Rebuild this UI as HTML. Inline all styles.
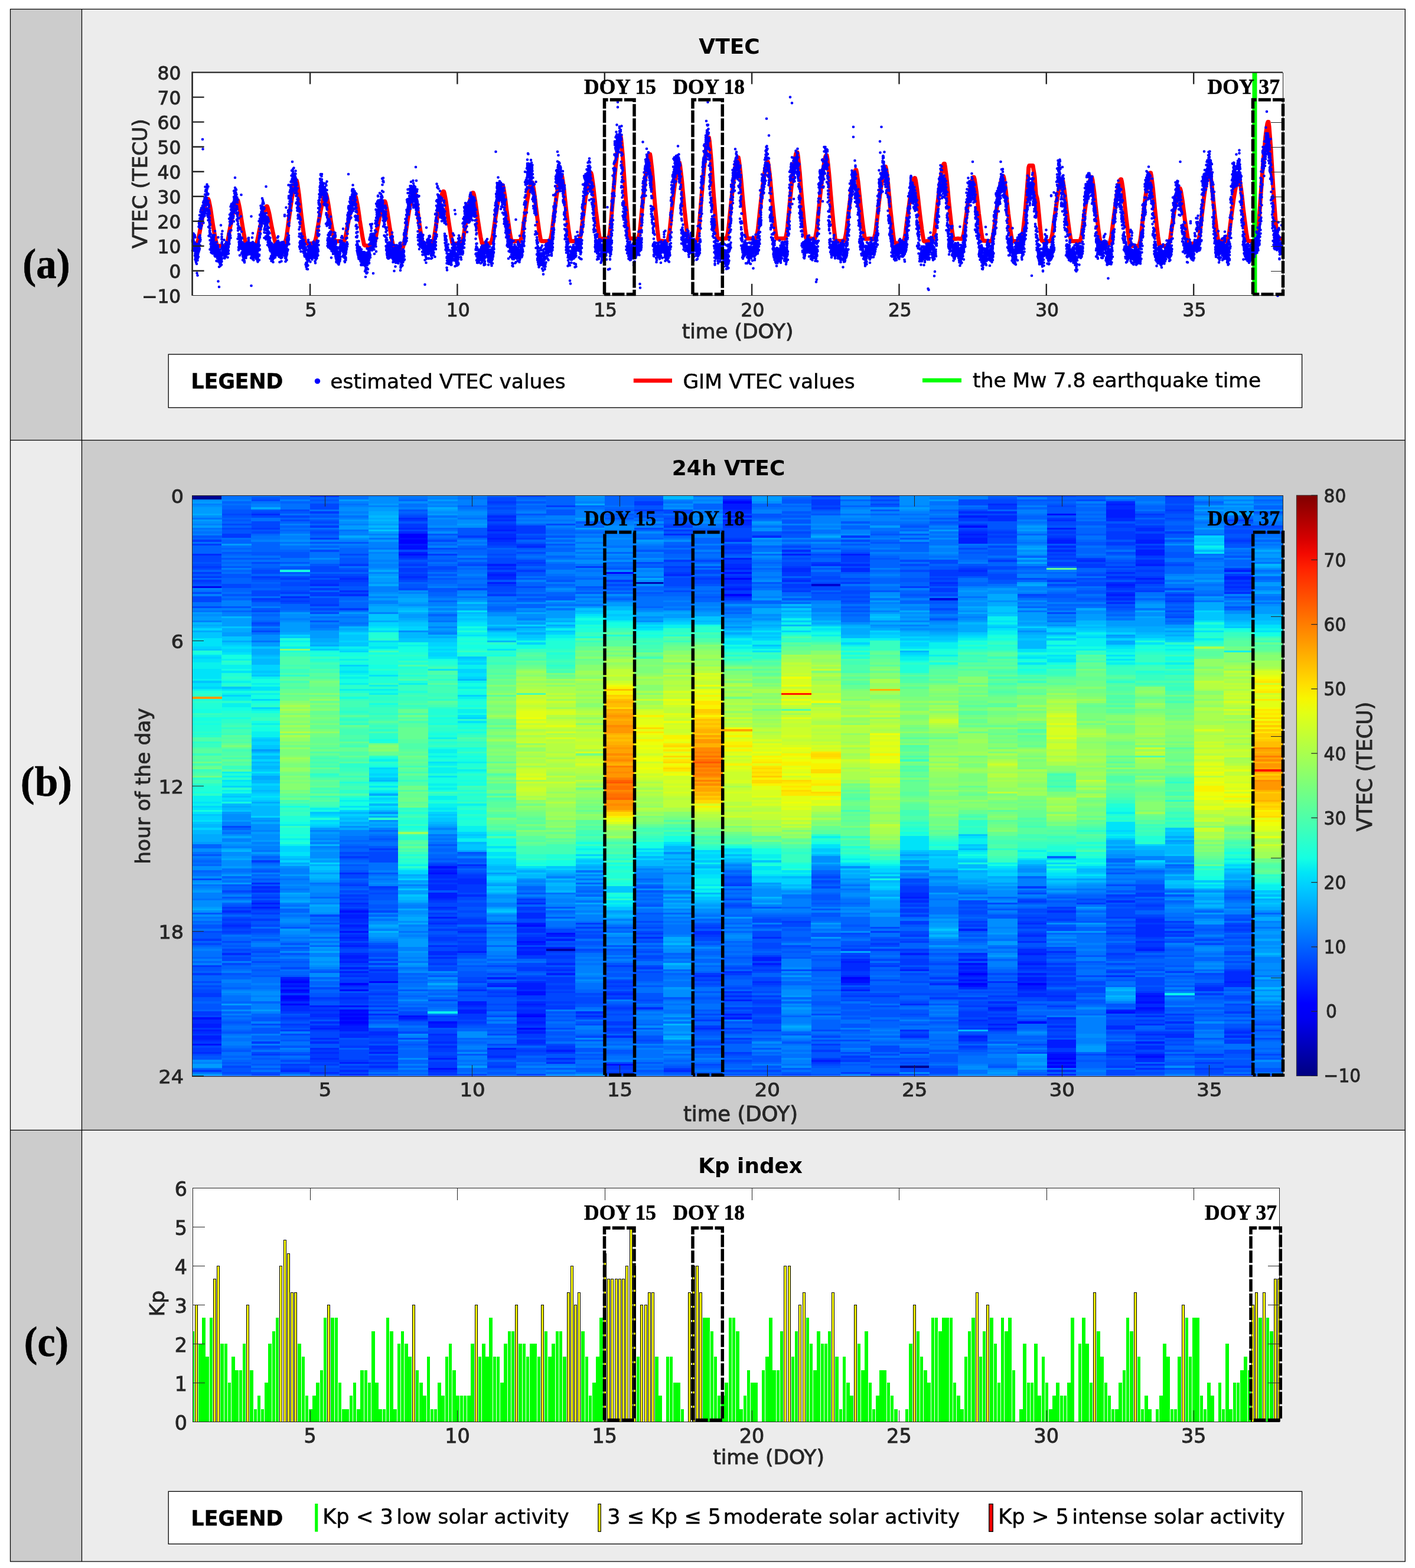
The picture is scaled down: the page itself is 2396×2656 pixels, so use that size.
<!DOCTYPE html>
<html lang="en"><head><meta charset="utf-8"><title>VTEC, 24h VTEC and Kp index</title>
<style>
html,body{margin:0;padding:0;background:#fff}
svg{display:block}
text{white-space:pre}
</style></head>
<body>
<svg width="2396" height="2656" viewBox="0 0 2396 2656">
<rect x="0" y="0" width="2396" height="2656" fill="#fff"/>
<rect x="17.5" y="15.5" width="121.0" height="730.0" fill="#cccccc"/>
<rect x="138.5" y="15.5" width="2240.8" height="730.0" fill="#ececec"/>
<rect x="17.5" y="745.5" width="121.0" height="1168.8" fill="#ececec"/>
<rect x="138.5" y="745.5" width="2240.8" height="1168.8" fill="#cccccc"/>
<rect x="17.5" y="1914.3" width="121.0" height="730.7" fill="#cccccc"/>
<rect x="138.5" y="1914.3" width="2240.8" height="730.7" fill="#ececec"/>
<g fill="none" stroke="#000" stroke-width="1.25"><rect x="17.5" y="15.5" width="2361.8" height="2629.5"/><path d="M138.5 15.5V2645.0M17.5 745.5H2379.3M17.5 1914.3H2379.3"/></g>
<text x="78.5" y="471.2" font-family="'Liberation Serif','DejaVu Serif',serif" font-weight="bold" font-size="71" text-anchor="middle" textLength="80.3" lengthAdjust="spacingAndGlyphs" fill="#000" stroke="#000" stroke-width="0.6">(a)</text>
<text x="78.5" y="1348" font-family="'Liberation Serif','DejaVu Serif',serif" font-weight="bold" font-size="71" text-anchor="middle" textLength="87.3" lengthAdjust="spacingAndGlyphs" fill="#000" stroke="#000" stroke-width="0.6">(b)</text>
<text x="78.5" y="2296.8" font-family="'Liberation Serif','DejaVu Serif',serif" font-weight="bold" font-size="71" text-anchor="middle" textLength="75.3" lengthAdjust="spacingAndGlyphs" fill="#000" stroke="#000" stroke-width="0.6">(c)</text>
<rect x="325.6" y="122.6" width="1846.4" height="378.20000000000005" fill="#fff"/>
<clipPath id="ca"><rect x="322.6" y="120.6" width="1852.4" height="384.20000000000005"/></clipPath>
<polyline clip-path="url(#ca)" points="325.6,414.7 326.6,414.7 327.7,414.7 328.7,414.8 329.8,414.8 330.8,414.9 331.8,414.9 332.9,414.4 333.9,411.7 335,408.9 336,404.9 337,399.1 338.1,393.3 339.1,387.4 340.1,381.7 341.2,376.3 342.2,370.8 343.3,365.3 344.3,360.3 345.3,356 346.4,351.7 347.4,347.4 348.5,343.7 349.5,340.9 350.5,338 351.6,336.9 352.6,336.9 353.7,339.9 354.7,344.8 355.7,349.8 356.8,355.5 357.8,362.4 358.8,369.4 359.9,376.3 360.9,382.9 362,388.8 363,394.8 364,400.8 365.1,406.2 366.1,410.9 367.2,415.5 368.2,416.4 369.2,416.5 370.3,416.5 371.3,416.6 372.4,416.6 373.4,416.7 374.4,416.7 375.5,416.8 376.5,416.8 377.5,416.8 378.6,416.8 379.6,416.8 380.7,416.8 381.7,416.8 382.7,416.2 383.8,413.4 384.8,410.6 385.9,406.6 386.9,400.8 387.9,395 389,389.2 390,383.5 391.1,378 392.1,372.6 393.1,367.2 394.2,362.2 395.2,357.9 396.2,353.6 397.3,349.4 398.3,345.7 399.4,342.9 400.4,340.1 401.4,339 402.5,339 403.5,341.9 404.6,346.8 405.6,351.6 406.6,357.3 407.7,364.1 408.7,370.9 409.8,377.7 410.8,384.1 411.8,389.9 412.9,395.8 413.9,401.6 415,406.9 416,411.4 417,415.9 418.1,416.8 419.1,416.8 420.1,416.8 421.2,416.8 422.2,416.8 423.3,416.8 424.3,416.8 425.3,416.8 426.4,416.7 427.4,416.6 428.5,416.5 429.5,416.4 430.5,416.3 431.6,416.2 432.6,415.7 433.7,413.2 434.7,410.7 435.7,407.3 436.8,402.2 437.8,397.2 438.8,392.2 439.9,387.3 440.9,382.6 442,378 443,373.3 444,369.1 445.1,365.5 446.1,361.8 447.2,358.2 448.2,355.1 449.2,352.8 450.3,350.5 451.3,349.5 452.4,349.5 453.4,352 454.4,356 455.5,360 456.5,364.7 457.5,370.3 458.6,375.9 459.6,381.5 460.7,386.8 461.7,391.6 462.7,396.3 463.8,401 464.8,405.3 465.9,408.9 466.9,412.5 467.9,413.2 469,413.1 470,413 471.1,412.9 472.1,412.8 473.1,412.7 474.2,412.6 475.2,412.6 476.2,412.6 477.3,412.6 478.3,412.6 479.4,412.6 480.4,412.6 481.4,412.6 482.5,411.8 483.5,408 484.6,404.1 485.6,398.6 486.6,390.6 487.7,382.5 488.7,374.5 489.8,366.7 490.8,359.2 491.8,351.7 492.9,344.2 493.9,337.3 495,331.4 496,325.5 497,319.6 498.1,314.6 499.1,310.8 500.1,306.9 501.2,305.4 502.2,305.4 503.3,309.4 504.3,316.1 505.3,322.8 506.4,330.6 507.4,340 508.5,349.3 509.5,358.7 510.5,367.5 511.6,375.6 512.6,383.6 513.7,391.7 514.7,399 515.7,405.1 516.8,411.3 517.8,412.6 518.8,412.6 519.9,412.6 520.9,412.6 522,412.6 523,412.6 524,412.6 525.1,412.6 526.1,412.5 527.2,412.4 528.2,412.3 529.2,412.2 530.3,412.1 531.3,412 532.4,411.3 533.4,408.3 534.4,405.2 535.5,400.9 536.5,394.6 537.5,388.3 538.6,382 539.6,375.9 540.7,370 541.7,364.2 542.7,358.4 543.8,353.1 544.8,348.5 545.9,344 546.9,339.4 547.9,335.5 549,332.6 550,329.7 551.1,328.5 552.1,328.5 553.1,331.6 554.2,336.7 555.2,341.8 556.2,347.6 557.3,354.7 558.3,361.8 559.4,368.9 560.4,375.5 561.4,381.6 562.5,387.6 563.5,393.6 564.6,399 565.6,403.6 566.6,408.1 567.7,409 568.7,408.9 569.8,408.8 570.8,408.7 571.8,408.6 572.9,408.5 573.9,408.4 574.9,408.4 576,408.5 577,408.7 578.1,408.9 579.1,409.1 580.1,409.2 581.2,409.4 582.2,409 583.3,406.5 584.3,403.9 585.3,400 586.4,394.4 587.4,388.7 588.5,383 589.5,377.4 590.5,372 591.6,366.6 592.6,361.2 593.7,356.2 594.7,351.9 595.7,347.6 596.8,343.3 597.8,339.5 598.8,336.7 599.9,333.9 600.9,332.7 602,332.7 603,335.7 604,340.8 605.1,345.8 606.1,351.7 607.2,358.9 608.2,366 609.2,373.2 610.3,380 611.3,386.3 612.4,392.5 613.4,398.8 614.4,404.6 615.5,409.5 616.5,414.4 617.5,415.5 618.6,415.7 619.6,415.9 620.7,416.1 621.7,416.2 622.7,416.4 623.8,416.6 624.8,416.8 625.9,416.8 626.9,416.9 627.9,417 629,417.1 630,417.2 631.1,417.3 632.1,416.8 633.1,414.2 634.2,411.5 635.2,407.7 636.2,402 637.3,396.3 638.3,390.6 639.4,385.1 640.4,379.7 641.4,374.4 642.5,369 643.5,364.1 644.6,359.9 645.6,355.7 646.6,351.4 647.7,347.8 648.7,345 649.8,342.2 650.8,341.1 651.8,341.1 652.9,344 653.9,348.9 654.9,353.8 656,359.5 657,366.4 658.1,373.3 659.1,380.2 660.1,386.7 661.2,392.7 662.2,398.6 663.3,404.6 664.3,410.1 665.3,414.7 666.4,419.3 667.4,420.3 668.5,420.4 669.5,420.5 670.5,420.6 671.6,420.7 672.6,420.8 673.7,420.9 674.7,421 675.7,420.9 676.8,420.8 677.8,420.7 678.8,420.6 679.9,420.5 680.9,420.4 682,419.7 683,416.1 684,412.6 685.1,407.6 686.1,400.4 687.2,393.1 688.2,385.9 689.2,378.9 690.3,372.2 691.3,365.5 692.4,358.8 693.4,352.6 694.4,347.4 695.5,342.1 696.5,336.9 697.5,332.4 698.6,329 699.6,325.7 700.7,324.3 701.7,324.3 702.7,327.8 703.8,333.7 704.8,339.6 705.9,346.4 706.9,354.6 707.9,362.8 709,371 710,378.6 711.1,385.6 712.1,392.6 713.1,399.5 714.2,405.8 715.2,411.1 716.2,416.4 717.3,417.4 718.3,417.3 719.4,417.2 720.4,417.1 721.4,417 722.5,416.9 723.5,416.8 724.6,416.8 725.6,416.7 726.6,416.6 727.7,416.5 728.7,416.4 729.8,416.3 730.8,416.2 731.8,415.5 732.9,412.1 733.9,408.8 734.9,404 736,397 737,390.1 738.1,383.2 739.1,376.5 740.1,370.1 741.2,363.6 742.2,357.2 743.3,351.4 744.3,346.4 745.3,341.4 746.4,336.4 747.4,332.1 748.5,328.8 749.5,325.6 750.5,324.3 751.6,324.3 752.6,327.7 753.7,333.3 754.7,338.9 755.7,345.4 756.8,353.2 757.8,361.1 758.8,368.9 759.9,376.2 760.9,382.9 762,389.5 763,396.1 764,402.1 765.1,407.2 766.1,412.2 767.2,413.2 768.2,413.1 769.2,413 770.3,412.9 771.3,412.8 772.4,412.7 773.4,412.6 774.4,412.6 775.5,412.6 776.5,412.6 777.5,412.6 778.6,412.6 779.6,412.6 780.7,412.6 781.7,411.9 782.7,408.9 783.8,405.8 784.8,401.4 785.9,394.9 786.9,388.4 787.9,382 789,375.7 790,369.7 791.1,363.6 792.1,357.6 793.1,352.1 794.2,347.3 795.2,342.6 796.2,337.9 797.3,333.8 798.3,330.7 799.4,327.6 800.4,326.4 801.4,326.4 802.5,329.6 803.5,335 804.6,340.4 805.6,346.7 806.6,354.2 807.7,361.7 808.7,369.3 809.8,376.4 810.8,382.8 811.8,389.3 812.9,395.8 813.9,401.6 814.9,406.6 816,411.6 817,412.6 818.1,412.6 819.1,412.6 820.1,412.6 821.2,412.6 822.2,412.6 823.3,412.6 824.3,412.6 825.3,412.5 826.4,412.4 827.4,412.3 828.5,412.2 829.5,412.1 830.5,412 831.6,411.2 832.6,407.7 833.7,404.1 834.7,399 835.7,391.5 836.8,384.1 837.8,376.8 838.8,369.6 839.9,362.7 840.9,355.9 842,349 843,342.8 844,337.4 845.1,332 846.1,326.7 847.2,322.1 848.2,318.6 849.2,315.2 850.3,313.8 851.3,313.8 852.4,317.4 853.4,323.4 854.4,329.4 855.5,336.4 856.5,344.8 857.5,353.1 858.6,361.5 859.6,369.4 860.7,376.5 861.7,383.6 862.7,390.7 863.8,397.1 864.8,402.5 865.9,408 866.9,409 867.9,408.9 869,408.8 870,408.7 871.1,408.6 872.1,408.5 873.1,408.4 874.2,408.4 875.2,408.4 876.2,408.4 877.3,408.4 878.3,408.4 879.4,408.4 880.4,408.4 881.4,407.6 882.5,404.1 883.5,400.5 884.6,395.4 885.6,387.9 886.6,380.5 887.7,373 888.7,365.7 889.8,358.8 890.8,351.8 891.8,344.8 892.9,338.4 893.9,333 894.9,327.5 896,322 897,317.3 898.1,313.7 899.1,310.2 900.1,308.8 901.2,308.8 902.2,312.5 903.3,318.7 904.3,324.9 905.3,332.2 906.4,340.9 907.4,349.6 908.5,358.3 909.5,366.5 910.5,374 911.6,381.5 912.6,388.9 913.7,395.7 914.7,401.5 915.7,407.2 916.8,408.4 917.8,408.4 918.8,408.4 919.9,408.4 920.9,408.4 922,408.4 923,408.4 924,408.4 925.1,408.4 926.1,408.4 927.2,408.4 928.2,408.4 929.2,408.4 930.3,408.4 931.3,407.6 932.4,403.6 933.4,399.6 934.4,393.8 935.5,385.4 936.5,377.1 937.5,368.7 938.6,360.5 939.6,352.7 940.7,344.9 941.7,337 942.7,329.9 943.8,323.7 944.8,317.6 945.9,311.4 946.9,306.2 947.9,302.2 949,298.2 950,296.6 951.1,296.6 952.1,300.8 953.1,307.7 954.2,314.7 955.2,322.8 956.2,332.6 957.3,342.4 958.3,352.2 959.4,361.4 960.4,369.8 961.4,378.2 962.5,386.6 963.5,394.2 964.6,400.6 965.6,407.1 966.6,408.4 967.7,408.4 968.7,408.4 969.8,408.4 970.8,408.4 971.8,408.4 972.9,408.4 973.9,408.4 974.9,408.3 976,408.2 977,408.1 978.1,408 979.1,407.9 980.1,407.8 981.2,406.9 982.2,402.7 983.3,398.5 984.3,392.6 985.3,383.9 986.4,375.2 987.4,366.6 988.5,358.2 989.5,350.1 990.5,342.1 991.6,334.1 992.6,326.8 993.7,320.5 994.7,314.2 995.7,307.9 996.8,302.5 997.8,298.5 998.8,294.4 999.9,292.8 1000.9,292.8 1002,297 1003,304.1 1004,311.2 1005.1,319.3 1006.1,329.2 1007.2,339 1008.2,348.8 1009.2,358.1 1010.3,366.5 1011.3,374.8 1012.4,383.2 1013.4,390.8 1014.4,397.2 1015.5,403.6 1016.5,404.8 1017.5,404.7 1018.6,404.6 1019.6,404.5 1020.7,404.4 1021.7,404.3 1022.7,404.2 1023.8,404.1 1024.8,404.1 1025.9,404.1 1026.9,404.1 1027.9,404.1 1029,404.1 1030,404.1 1031.1,402.9 1032.1,396.7 1033.1,390.4 1034.2,381.5 1035.2,368.4 1036.2,355.3 1037.3,342.2 1038.3,329.5 1039.4,317.3 1040.4,305.1 1041.4,292.9 1042.5,281.7 1043.5,272.1 1044.6,262.5 1045.6,253 1046.6,244.7 1047.7,238.5 1048.7,232.2 1049.8,229.8 1050.8,229.8 1051.8,236.3 1052.9,247.2 1053.9,258.1 1054.9,270.7 1056,286 1057,301.3 1058.1,316.5 1059.1,330.9 1060.1,344 1061.2,357.1 1062.2,370.1 1063.3,382 1064.3,392.1 1065.3,402.1 1066.4,404.1 1067.4,404.1 1068.5,404.1 1069.5,404.1 1070.5,404.1 1071.6,404.1 1072.6,404.1 1073.6,404.1 1074.7,404.2 1075.7,404.3 1076.8,404.4 1077.8,404.5 1078.8,404.6 1079.9,404.7 1080.9,403.7 1082,398.7 1083,393.6 1084,386.3 1085.1,375.6 1086.1,364.9 1087.2,354.2 1088.2,343.7 1089.2,333.7 1090.3,323.6 1091.3,313.5 1092.4,304.3 1093.4,296.4 1094.4,288.5 1095.5,280.5 1096.5,273.7 1097.5,268.5 1098.6,263.3 1099.6,261.3 1100.7,261.3 1101.7,266.7 1102.7,275.8 1103.8,284.9 1104.8,295.5 1105.9,308.2 1106.9,321 1107.9,333.8 1109,345.9 1110,356.9 1111.1,367.9 1112.1,378.9 1113.1,388.9 1114.2,397.4 1115.2,406 1116.2,407.7 1117.3,407.8 1118.3,407.9 1119.4,408 1120.4,408.1 1121.4,408.2 1122.5,408.3 1123.5,408.4 1124.6,408.4 1125.6,408.4 1126.6,408.4 1127.7,408.4 1128.7,408.4 1129.8,408.4 1130.8,407.4 1131.8,402.7 1132.9,397.9 1133.9,391.1 1134.9,381.1 1136,371.2 1137,361.2 1138.1,351.5 1139.1,342.2 1140.1,332.9 1141.2,323.6 1142.2,315.1 1143.3,307.8 1144.3,300.5 1145.3,293.2 1146.4,286.9 1147.4,282.2 1148.5,277.5 1149.5,275.6 1150.5,275.6 1151.6,280.5 1152.6,288.8 1153.6,297.1 1154.7,306.8 1155.7,318.4 1156.8,330 1157.8,341.6 1158.8,352.6 1159.9,362.5 1160.9,372.5 1162,382.5 1163,391.5 1164,399.2 1165.1,406.8 1166.1,408.4 1167.2,408.4 1168.2,408.4 1169.2,408.4 1170.3,408.4 1171.3,408.4 1172.4,408.4 1173.4,408.4 1174.4,408.3 1175.5,408.2 1176.5,408.1 1177.5,408 1178.6,407.9 1179.6,407.8 1180.7,406.5 1181.7,400.2 1182.7,393.9 1183.8,384.8 1184.8,371.7 1185.9,358.5 1186.9,345.4 1187.9,332.7 1189,320.4 1190,308.2 1191.1,296 1192.1,284.9 1193.1,275.3 1194.2,265.7 1195.2,256.2 1196.2,248 1197.3,241.8 1198.3,235.6 1199.4,233.1 1200.4,233.1 1201.4,239.6 1202.5,250.4 1203.5,261.2 1204.6,273.7 1205.6,288.8 1206.6,303.8 1207.7,318.9 1208.7,333 1209.8,345.9 1210.8,358.7 1211.8,371.6 1212.9,383.2 1213.9,393 1214.9,402.9 1216,404.8 1217,404.7 1218.1,404.6 1219.1,404.5 1220.1,404.4 1221.2,404.3 1222.2,404.2 1223.3,404.1 1224.3,404.1 1225.3,404.1 1226.4,404.1 1227.4,404.1 1228.5,404.1 1229.5,404.1 1230.5,403.2 1231.6,398.3 1232.6,393.4 1233.6,386.3 1234.7,376 1235.7,365.7 1236.8,355.4 1237.8,345.3 1238.8,335.7 1239.9,326.1 1240.9,316.5 1242,307.7 1243,300.1 1244,292.6 1245.1,285 1246.1,278.5 1247.2,273.6 1248.2,268.7 1249.2,266.7 1250.3,266.7 1251.3,271.9 1252.4,280.5 1253.4,289.1 1254.4,299 1255.5,311.1 1256.5,323.1 1257.5,335.1 1258.6,346.4 1259.6,356.7 1260.7,367 1261.7,377.4 1262.7,386.7 1263.8,394.6 1264.8,402.6 1265.9,404.1 1266.9,404.1 1267.9,404.1 1269,404.1 1270,404.1 1271.1,404.1 1272.1,404.1 1273.1,404.1 1274.2,404.1 1275.2,404.1 1276.2,404.1 1277.3,404.1 1278.3,404.1 1279.4,404.1 1280.4,403.2 1281.4,398.6 1282.5,393.9 1283.5,387.2 1284.6,377.4 1285.6,367.7 1286.6,357.9 1287.7,348.4 1288.7,339.3 1289.8,330.2 1290.8,321 1291.8,312.7 1292.9,305.5 1293.9,298.4 1294.9,291.2 1296,285 1297,280.4 1298.1,275.7 1299.1,273.9 1300.1,273.9 1301.2,278.8 1302.2,286.9 1303.3,295 1304.3,304.5 1305.3,315.9 1306.4,327.3 1307.4,338.7 1308.5,349.4 1309.5,359.2 1310.5,369 1311.6,378.7 1312.6,387.6 1313.6,395.1 1314.7,402.6 1315.7,404.1 1316.8,404.1 1317.8,404.1 1318.8,404.1 1319.9,404.1 1320.9,404.1 1322,404.1 1323,404.1 1324,404.1 1325.1,404.1 1326.1,404.1 1327.2,404.1 1328.2,404.1 1329.2,404.1 1330.3,403.1 1331.3,397.9 1332.4,392.7 1333.4,385.1 1334.4,374.2 1335.5,363.2 1336.5,352.2 1337.5,341.6 1338.6,331.3 1339.6,321.1 1340.7,310.8 1341.7,301.5 1342.7,293.4 1343.8,285.4 1344.8,277.4 1345.9,270.4 1346.9,265.2 1347.9,260 1349,257.9 1350,257.9 1351.1,263.4 1352.1,272.5 1353.1,281.7 1354.2,292.3 1355.2,305.1 1356.2,317.9 1357.3,330.7 1358.3,342.7 1359.4,353.7 1360.4,364.7 1361.4,375.6 1362.5,385.6 1363.5,394 1364.6,402.5 1365.6,404.1 1366.6,404.1 1367.7,404.1 1368.7,404.1 1369.8,404.1 1370.8,404.1 1371.8,404.1 1372.9,404.1 1373.9,404.2 1374.9,404.3 1376,404.4 1377,404.5 1378.1,404.6 1379.1,404.7 1380.1,403.7 1381.2,398.8 1382.2,393.8 1383.3,386.6 1384.3,376 1385.3,365.4 1386.4,354.8 1387.4,344.4 1388.5,334.5 1389.5,324.6 1390.5,314.6 1391.6,305.5 1392.6,297.7 1393.6,289.8 1394.7,282 1395.7,275.2 1396.8,270.1 1397.8,265 1398.8,263 1399.9,263 1400.9,268.3 1402,277.3 1403,286.3 1404,296.8 1405.1,309.4 1406.1,322 1407.2,334.6 1408.2,346.6 1409.2,357.4 1410.3,368.3 1411.3,379.2 1412.4,389.1 1413.4,397.6 1414.4,406 1415.5,407.7 1416.5,407.8 1417.5,407.9 1418.6,408 1419.6,408.1 1420.7,408.2 1421.7,408.3 1422.7,408.4 1423.8,408.3 1424.8,408.2 1425.9,408.1 1426.9,408 1427.9,407.9 1429,407.8 1430,406.9 1431.1,402.5 1432.1,398.1 1433.1,391.9 1434.2,382.9 1435.2,373.8 1436.2,364.8 1437.3,356 1438.3,347.6 1439.4,339.2 1440.4,330.9 1441.4,323.2 1442.5,316.6 1443.5,310.1 1444.6,303.5 1445.6,297.9 1446.6,293.7 1447.7,289.4 1448.7,287.7 1449.8,287.7 1450.8,292.2 1451.8,299.6 1452.9,306.9 1453.9,315.5 1454.9,325.8 1456,336 1457,346.3 1458.1,356 1459.1,364.7 1460.1,373.5 1461.2,382.2 1462.2,390.1 1463.3,396.8 1464.3,403.5 1465.3,404.8 1466.4,404.7 1467.4,404.6 1468.5,404.5 1469.5,404.4 1470.5,404.3 1471.6,404.2 1472.6,404.1 1473.6,404.3 1474.7,404.5 1475.7,404.7 1476.8,404.8 1477.8,405 1478.8,405.2 1479.9,404.5 1480.9,400.3 1482,396 1483,389.8 1484,380.7 1485.1,371.5 1486.1,362.4 1487.2,353.4 1488.2,344.8 1489.2,336.1 1490.3,327.5 1491.3,319.5 1492.4,312.7 1493.4,305.9 1494.4,299 1495.5,293.1 1496.5,288.6 1497.5,284.1 1498.6,282.3 1499.6,282.3 1500.7,287 1501.7,295 1502.7,302.9 1503.8,312.2 1504.8,323.3 1505.9,334.5 1506.9,345.8 1507.9,356.4 1509,366.1 1510,375.8 1511.1,385.6 1512.1,394.5 1513.1,402.1 1514.2,409.7 1515.2,411.3 1516.2,411.5 1517.3,411.7 1518.3,411.9 1519.4,412 1520.4,412.2 1521.4,412.4 1522.5,412.6 1523.5,412.5 1524.6,412.4 1525.6,412.3 1526.6,412.2 1527.7,412.1 1528.7,412 1529.8,411.2 1530.8,407.1 1531.8,403.1 1532.9,397.4 1533.9,389 1534.9,380.7 1536,372.4 1537,364.4 1538.1,356.6 1539.1,348.9 1540.1,341.2 1541.2,334.2 1542.2,328.2 1543.3,322.1 1544.3,316.1 1545.3,311 1546.4,307.1 1547.4,303.2 1548.5,301.6 1549.5,301.6 1550.5,305.7 1551.6,312.5 1552.6,319.2 1553.6,327.1 1554.7,336.5 1555.7,346 1556.8,355.4 1557.8,364.2 1558.8,372.3 1559.9,380.3 1560.9,388.3 1562,395.6 1563,401.7 1564,407.8 1565.1,409 1566.1,408.9 1567.2,408.8 1568.2,408.7 1569.2,408.6 1570.3,408.5 1571.3,408.4 1572.3,408.4 1573.4,408.3 1574.4,408.2 1575.5,408.1 1576.5,408 1577.5,407.9 1578.6,407.8 1579.6,406.8 1580.7,402.1 1581.7,397.3 1582.7,390.5 1583.8,380.7 1584.8,370.9 1585.9,361.1 1586.9,351.5 1587.9,342.4 1589,333.3 1590,324.2 1591.1,315.8 1592.1,308.7 1593.1,301.6 1594.2,294.4 1595.2,288.3 1596.2,283.7 1597.3,279.1 1598.3,277.2 1599.4,277.2 1600.4,282.1 1601.4,290.1 1602.5,298.1 1603.5,307.4 1604.6,318.6 1605.6,329.8 1606.6,341 1607.7,351.6 1608.7,361.1 1609.8,370.7 1610.8,380.2 1611.8,388.8 1612.9,396.1 1613.9,403.4 1614.9,404.8 1616,404.7 1617,404.6 1618.1,404.5 1619.1,404.4 1620.1,404.3 1621.2,404.2 1622.2,404.1 1623.3,404.2 1624.3,404.3 1625.3,404.4 1626.4,404.5 1627.4,404.6 1628.5,404.7 1629.5,404 1630.5,400.4 1631.6,396.7 1632.6,391.4 1633.6,383.6 1634.7,375.7 1635.7,367.9 1636.8,360.2 1637.8,352.9 1638.8,345.6 1639.9,338.2 1640.9,331.5 1642,325.7 1643,319.9 1644,314 1645.1,309 1646.1,305.2 1647.2,301.5 1648.2,299.9 1649.2,299.9 1650.3,303.9 1651.3,310.6 1652.3,317.3 1653.4,325 1654.4,334.4 1655.5,343.8 1656.5,353.2 1657.5,362.1 1658.6,370.2 1659.6,378.3 1660.7,386.4 1661.7,393.8 1662.7,400.1 1663.8,406.4 1664.8,407.7 1665.9,407.8 1666.9,407.9 1667.9,408 1669,408.1 1670,408.2 1671.1,408.3 1672.1,408.4 1673.1,408.4 1674.2,408.4 1675.2,408.4 1676.2,408.4 1677.3,408.4 1678.3,408.4 1679.4,407.6 1680.4,403.6 1681.4,399.7 1682.5,394 1683.5,385.8 1684.6,377.5 1685.6,369.3 1686.6,361.2 1687.7,353.5 1688.7,345.8 1689.8,338.1 1690.8,331.1 1691.8,325 1692.9,319 1693.9,312.9 1694.9,307.7 1696,303.8 1697,299.8 1698.1,298.3 1699.1,298.3 1700.1,302.4 1701.2,309.3 1702.2,316.1 1703.3,324.1 1704.3,333.8 1705.3,343.4 1706.4,353 1707.4,362.1 1708.5,370.4 1709.5,378.6 1710.5,386.9 1711.6,394.4 1712.6,400.7 1713.6,407.1 1714.7,408.4 1715.7,408.4 1716.8,408.4 1717.8,408.4 1718.8,408.4 1719.9,408.4 1720.9,408.4 1722,408.4 1723,408.4 1724,408.4 1725.1,408.4 1726.1,408.4 1727.2,408.4 1728.2,408.4 1729.2,407.4 1730.3,402.9 1731.3,398.3 1732.3,391.7 1733.4,382.2 1734.4,372.6 1735.5,363 1736.5,352.1 1737.5,339.4 1738.6,326.6 1739.6,313.8 1740.7,299.8 1741.7,283.8 1742.7,280.6 1743.8,280.6 1744.8,280.6 1745.9,280.6 1746.9,280.6 1747.9,280.6 1749,280.6 1750,287 1751.1,293.4 1752.1,299.8 1753.1,314.5 1754.2,329.1 1755.2,332.6 1756.2,336 1757.3,342.6 1758.3,353.7 1759.4,364.9 1760.4,376.1 1761.4,386.7 1762.5,396.6 1763.5,406.4 1764.6,408.4 1765.6,408.4 1766.6,408.4 1767.7,408.4 1768.7,408.4 1769.8,408.4 1770.8,408.4 1771.8,408.4 1772.9,408.4 1773.9,408.4 1774.9,408.4 1776,408.4 1777,408.4 1778.1,408.4 1779.1,407.6 1780.1,403.8 1781.2,400.1 1782.2,394.7 1783.3,386.8 1784.3,378.9 1785.3,371.1 1786.4,363.4 1787.4,356 1788.5,348.7 1789.5,341.3 1790.5,334.6 1791.6,328.8 1792.6,323 1793.6,317.3 1794.7,312.3 1795.7,308.5 1796.8,304.8 1797.8,303.3 1798.8,303.3 1799.9,307.2 1800.9,313.8 1802,320.4 1803,328 1804,337.2 1805.1,346.4 1806.1,355.6 1807.2,364.2 1808.2,372.1 1809.2,380 1810.3,387.9 1811.3,395 1812.3,401.1 1813.4,407.1 1814.4,408.4 1815.5,408.4 1816.5,408.4 1817.5,408.4 1818.6,408.4 1819.6,408.4 1820.7,408.4 1821.7,408.4 1822.7,408.4 1823.8,408.5 1824.8,408.6 1825.9,408.7 1826.9,408.8 1827.9,408.9 1829,408.2 1830,404.4 1831.1,400.6 1832.1,395 1833.1,386.9 1834.2,378.8 1835.2,370.6 1836.2,362.6 1837.3,355 1838.3,347.4 1839.4,339.7 1840.4,332.7 1841.4,326.7 1842.5,320.6 1843.5,314.6 1844.6,309.4 1845.6,305.5 1846.6,301.5 1847.7,299.9 1848.7,299.9 1849.8,304.1 1850.8,311 1851.8,318 1852.9,326 1853.9,335.8 1854.9,345.5 1856,355.3 1857,364.5 1858.1,373 1859.1,381.4 1860.1,389.8 1861.2,397.5 1862.2,404 1863.3,410.6 1864.3,411.9 1865.3,412 1866.4,412.1 1867.4,412.2 1868.5,412.3 1869.5,412.4 1870.5,412.5 1871.6,412.6 1872.6,412.6 1873.6,412.7 1874.7,412.8 1875.7,412.9 1876.8,413 1877.8,413.1 1878.8,412.4 1879.9,408.6 1880.9,404.7 1882,399.2 1883,391 1884,382.8 1885.1,374.7 1886.1,366.7 1887.2,359 1888.2,351.3 1889.2,343.7 1890.3,336.6 1891.3,330.6 1892.3,324.5 1893.4,318.4 1894.4,313.2 1895.5,309.3 1896.5,305.3 1897.5,303.7 1898.6,303.7 1899.6,307.9 1900.7,314.8 1901.7,321.8 1902.7,329.9 1903.8,339.7 1904.8,349.5 1905.9,359.3 1906.9,368.6 1907.9,377 1909,385.5 1910,393.9 1911.1,401.6 1912.1,408.2 1913.1,414.8 1914.2,416.1 1915.2,416.2 1916.2,416.3 1917.3,416.4 1918.3,416.5 1919.4,416.6 1920.4,416.7 1921.4,416.8 1922.5,416.8 1923.5,416.8 1924.6,416.8 1925.6,416.8 1926.6,416.8 1927.7,416.8 1928.7,415.9 1929.8,411.4 1930.8,407 1931.8,400.6 1932.9,391.3 1933.9,382 1934.9,372.7 1936,363.7 1937,355 1938.1,346.3 1939.1,337.7 1940.1,329.7 1941.2,322.9 1942.2,316.1 1943.3,309.3 1944.3,303.4 1945.3,299 1946.4,294.6 1947.4,292.8 1948.5,292.8 1949.5,297.4 1950.5,305.2 1951.6,312.9 1952.6,321.9 1953.6,332.8 1954.7,343.6 1955.7,354.5 1956.8,364.7 1957.8,374 1958.8,383.3 1959.9,392.6 1960.9,401 1962,408.2 1963,415.3 1964,416.8 1965.1,416.8 1966.1,416.8 1967.2,416.8 1968.2,416.8 1969.2,416.8 1970.3,416.8 1971.3,416.8 1972.3,416.7 1973.4,416.6 1974.4,416.5 1975.5,416.4 1976.5,416.3 1977.5,416.2 1978.6,415.5 1979.6,411.9 1980.7,408.4 1981.7,403.3 1982.7,396 1983.8,388.7 1984.8,381.4 1985.9,374.3 1986.9,367.5 1987.9,360.8 1989,354 1990,347.8 1991.1,342.6 1992.1,337.3 1993.1,332 1994.2,327.5 1995.2,324 1996.2,320.6 1997.3,319.3 1998.3,319.3 1999.4,322.8 2000.4,328.8 2001.4,334.7 2002.5,341.6 2003.5,349.8 2004.6,358.1 2005.6,366.3 2006.6,374.1 2007.7,381.1 2008.7,388.1 2009.8,395.1 2010.8,401.5 2011.8,406.8 2012.9,412.2 2013.9,413.2 2014.9,413.1 2016,413 2017,412.9 2018.1,412.8 2019.1,412.7 2020.1,412.6 2021.2,412.6 2022.2,412.5 2023.3,412.4 2024.3,412.3 2025.3,412.2 2026.4,412.1 2027.4,412 2028.5,411.1 2029.5,406.6 2030.5,402.2 2031.6,395.8 2032.6,386.5 2033.6,377.3 2034.7,368.1 2035.7,359.2 2036.8,350.6 2037.8,342 2038.8,333.5 2039.9,325.6 2040.9,318.9 2042,312.2 2043,305.6 2044,299.8 2045.1,295.5 2046.1,291.2 2047.2,289.4 2048.2,289.4 2049.2,294 2050.3,301.5 2051.3,309 2052.3,317.7 2053.4,328.3 2054.4,338.8 2055.5,349.2 2056.5,359.1 2057.5,368.1 2058.6,377 2059.6,385.9 2060.7,394 2061.7,400.9 2062.7,407.7 2063.8,409 2064.8,408.9 2065.9,408.8 2066.9,408.7 2067.9,408.6 2069,408.5 2070,408.4 2071,408.4 2072.1,408.4 2073.1,408.4 2074.2,408.4 2075.2,408.4 2076.2,408.4 2077.3,408.4 2078.3,407.6 2079.4,403.7 2080.4,399.8 2081.4,394.3 2082.5,386.1 2083.5,378 2084.6,369.9 2085.6,361.9 2086.6,354.4 2087.7,346.8 2088.7,339.2 2089.8,332.2 2090.8,326.3 2091.8,320.3 2092.9,314.4 2093.9,309.2 2094.9,305.4 2096,301.5 2097,299.9 2098.1,299.9 2099.1,304 2100.1,310.8 2101.2,317.6 2102.2,325.4 2103.3,334.9 2104.3,344.4 2105.3,353.9 2106.4,362.8 2107.4,370.9 2108.5,379.1 2109.5,387.2 2110.5,394.6 2111.6,400.8 2112.6,407.1 2113.6,408.4 2114.7,408.4 2115.7,408.4 2116.8,408.4 2117.8,408.4 2118.8,408.4 2119.9,408.4 2120.9,408.4 2122,408.3 2123,408.2 2124,408.1 2125.1,408 2126.1,407.9 2127.2,407.8 2128.2,406.3 2129.2,399 2130.3,391.8 2131.3,381.4 2132.3,366.2 2133.4,351.1 2134.4,336 2135.5,321.3 2136.5,307.2 2137.5,293.2 2138.6,279.1 2139.6,266.3 2140.7,255.3 2141.7,244.2 2142.7,233.2 2143.8,223.8 2144.8,216.6 2145.9,209.5 2146.9,206.6 2147.9,206.6 2149,214.1 2150,226.6 2151,239 2152.1,253.4 2153.1,270.8 2154.2,288.2 2155.2,305.6 2156.2,321.9 2157.3,336.8 2158.3,351.6 2159.4,366.4 2160.4,379.8 2161.4,391.2 2162.5,402.6 2163.5,404.8 2164.6,404.7 2165.6,404.6 2166.6,404.5 2167.7,404.4 2168.7,404.3 2169.8,404.2 2170.8,404.1" fill="none" stroke="#f00" stroke-width="7" stroke-linejoin="round"/>
<path d="M2124.5 122.6V500.8" stroke="#0f0" stroke-width="8" fill="none"/>
<path transform="scale(.5)" d="M652 849h0m4-5h0m1 1h0m-3-3h0m0-15h0m-2-13h0m3-23h0m1 11h0m-4 17h0m1-5h0m2-1h0m-1-3h0m2-6h0m-1-12h0m-1 9h0m2 17h0m1 16h0m-1-12h0m-1-16h0m1-11h0m1 29h0m-1 25h0m4-26h0m-1-27h0m-3-3h0m5 41h0m-2 2h0m3-10h0m-4 6h0m2-32h0m1 4h0m-3 39h0m0-7h0m2-14h0m1 17h0m0 13h0m-3-18h0m6 2h0m0 10h0m-2-7h0m3 7h0m-1 43h0m-4-23h0m3-28h0m-2-2h0m1 37h0m-1 6h0m0-20h0m-1-9h0m6-3h0m-5 12h0m0 8h0m2-25h0m-1-2h0m0 4h0m3 33h0m-2 7h0m-1-34h0m5 8h0m0-5h0m-4 6h0m3 13h0m-4 1h0m2-12h0m-1 12h0m6-19h0m0 5h0m-3 5h0m0 30h0m-3-32h0m2-9h0m4-11h0m-5-12h0m4 47h0m-3-15h0m5-4h0m-2 14h0m-3-29h0m0-1h0m4 40h0m2-22h0m-4-13h0m3 14h0m-3 64h0m2 8h0m2-97h0m0-9h0m-1 15h0m-3-1h0m3 26h0m-2 0h0m3-35h0m-1-6h0m1 29h0m2-2h0m-4 6h0m1 15h0m1-3h0m1-19h0m3-5h0m-2-3h0m2-4h0m-3 30h0m-1-22h0m5-17h0m0 12h0m-2-7h0m2-17h0m-2-14h0m3 0h0m-3 20h0m4-20h0m0 27h0m-1-35h0m-2 21h0m-1 11h0m4-15h0m-4-65h0m-1 19h0m6 44h0m-5-9h0m0-48h0m4 18h0m-1-33h0m-3 17h0m1 45h0m3 15h0m2-43h0m-1-21h0m0 5h0m2-27h0m0 15h0m-6 16h0m4-45h0m-3 12h0m4 15h0m0-15h0m1 1h0m-2 9h0m4 8h0m-1 0h0m0 20h0m-5-9h0m7-40h0m-3-1h0m-1-6h0m-1 7h0m3 31h0m1-10h0m-3 3h0m4-21h0m-2-16h0m3-2h0m-4 27h0m5 3h0m-1-12h0m-4 18h0m0-3h0m6-9h0m-3 7h0m2-31h0m-3 26h0m5-1h0m-5-6h0m4 16h0m-4-19h0m0 45h0m3-18h0m-1-11h0m4 20h0m-4-12h0m3-8h0m-2 16h0m4-18h0m-1-28h0m-3-8h0m0 9h0m5 20h0m-1-45h0m-1 13h0m-2-189h0m5 220h0m-2-12h0m2-29h0m-4 2h0m-1 32h0m3-1h0m3-37h0m-1 37h0m0-21h0m0 22h0m1 13h0m1-11h0m-1-49h0m-3 15h0m4 23h0m-4-8h0m3 10h0m2-16h0m-4 25h0m1-13h0m2-38h0m-4 18h0m1 23h0m3 7h0m2-6h0m-5 8h0m0-15h0m0-12h0m0-3h0m5 22h0m-4-32h0m4 34h0m-1 10h0m1-27h0m1-34h0m-4 12h0m1-15h0m0 27h0m5-9h0m0-2h0m-4-16h0m3 25h0m-3-11h0m0-40h0m2 10h0m1 40h0m-3 2h0m5-15h0m1-11h0m0-27h0m-1 39h0m-4-23h0m6-9h0m-3 31h0m0 7h0m-1-2h0m3-40h0m3 24h0m-3-34h0m-1 21h0m0 40h0m-1 10h0m2-38h0m-2 17h0m2-22h0m4-21h0m0 25h0m-4 57h0m4 22h0m-5-76h0m3 20h0m3 0h0m0 0h0m-5 13h0m0 30h0m4-35h0m3 7h0m-7 28h0m0-17h0m4 17h0m3-11h0m0 2h0m-5-33h0m3 12h0m-3 36h0m0 2h0m2 0h0m1-8h0m0 7h0m-1-20h0m4 9h0m-1-3h0m-1-4h0m-2 34h0m2-22h0m3 32h0m-3-10h0m1-45h0m0 35h0m-1-14h0m1 22h0m-2-9h0m4 13h0m-4 21h0m3-15h0m-2-37h0m3 20h0m0 36h0m0-27h0m0 35h0m-3 18h0m3-37h0m1 20h0m-1-58h0m-1 22h0m2 14h0m-1 4h0m1-6h0m1 3h0m-1 30h0m2 2h0m0-2h0m-2 23h0m0-22h0m-1-6h0m1-13h0m5 33h0m-5-6h0m3 46h0m2 3h0m0-3h0m-5-1h0m6-38h0m-3 17h0m-1 3h0m2 13h0m1-21h0m-1 36h0m2 2h0m1-39h0m-1 25h0m-2-8h0m4 16h0m-2-7h0m-2-8h0m1 4h0m0-14h0m0 0h0m0 11h0m5-22h0m-1 11h0m1 22h0m-4 3h0m0 1h0m-1 1h0m5-9h0m0-21h0m-4-12h0m4 48h0m2-8h0m-1-30h0m-2-3h0m-2-10h0m4 25h0m-4 3h0m1-11h0m3 1h0m-2-25h0m2 24h0m-2-28h0m5 32h0m-2 8h0m-2-4h0m4-3h0m-2 17h0m2-19h0m-1 7h0m-3-10h0m6 1h0m-5-13h0m1 11h0m1-21h0m-1 6h0m-1 9h0m6-35h0m-1 13h0m-3 18h0m3 37h0m2-24h0m-6-11h0m3 39h0m1-12h0m-3-20h0m3 22h0m-1-15h0m-1 12h0m4-9h0m-2 22h0m2 5h0m-3-14h0m5-13h0m-3 15h0m-1 3h0m0 1h0m0 1h0m1-7h0m-1 5h0m6 11h0m-5-22h0m-1 26h0m6 18h0m-5-26h0m5-6h0m-4 17h0m5-27h0m-1-1h0m-2-8h0m2-1h0m-3-10h0m1 13h0m5 11h0m-5-17h0m5 19h0m-1-15h0m-1 4h0m-2 12h0m0-5h0m1-24h0m1 19h0m0 0h0m2-6h0m-2 33h0m2-26h0m0 7h0m-3-5h0m3 13h0m1 30h0m2 68h0m-1-107h0m0-7h0m-3 10h0m0-9h0m4-36h0m-4 51h0m3 6h0m0-29h0m-1-1h0m-1 44h0m5-24h0m1 121h0m-1-100h0m-1-12h0m2 6h0m1 10h0m-6-7h0m0 2h0m3 11h0m2-7h0m-3-11h0m-1-19h0m0 17h0m2-2h0m2-3h0m2 2h0m0 3h0m-3 3h0m3-18h0m-1-2h0m-3 19h0m3 1h0m2 7h0m-4 1h0m1-10h0m3 6h0m0 26h0m2-13h0m-5 1h0m4-3h0m-4 24h0m2-20h0m-2 3h0m2-24h0m3 19h0m2-15h0m-5 24h0m2-7h0m3-10h0m0-11h0m-4-9h0m5 43h0m-7-16h0m5 8h0m-2 12h0m3-13h0m1-17h0m-5-1h0m0 15h0m1 5h0m1-24h0m3-8h0m-3 12h0m0-10h0m5 2h0m-1 24h0m0-8h0m0-13h0m2-7h0m-1-20h0m0-18h0m-4-57h0m4 63h0m-1-2h0m2-41h0m-2 21h0m0 6h0m0 1h0m1 15h0m2 25h0m-3 15h0m-1-6h0m4-26h0m-1 0h0m-2-41h0m0 9h0m0 40h0m3-4h0m-1 1h0m2-7h0m-2 17h0m2-2h0m0 4h0m1-12h0m0 18h0m3-4h0m-1-8h0m0 10h0m-3-13h0m1 11h0m3 4h0m-5 2h0m5 5h0m-2-1h0m3-21h0m-1 19h0m-1-12h0m-1 7h0m3 4h0m-2 3h0m0-3h0m4-16h0m-2 8h0m1 23h0m0-34h0m1 11h0m0 13h0m0-12h0m-1 4h0m-2 17h0m2-11h0m-1 7h0m-2-24h0m0-2h0m4-7h0m1 10h0m-2 4h0m-2-38h0m3 22h0m1 0h0m-1 12h0m2-7h0m-1-14h0m3 22h0m-3 15h0m4-11h0m-2-4h0m-4-5h0m5 3h0m-5-1h0m7 8h0m-5-11h0m2 27h0m0-19h0m-2-9h0m3-16h0m1 8h0m1 28h0m-2-31h0m0-10h0m-1 34h0m5 1h0m-5-22h0m2 19h0m-3 9h0m7 11h0m-5-29h0m1 10h0m4 2h0m-5 3h0m3-23h0m0-12h0m1 38h0m1 11h0m-1-12h0m-1-4h0m4-18h0m0 0h0m1 21h0m-2-14h0m-4-11h0m4 20h0m-2 3h0m0-5h0m1-20h0m-2 1h0m3-2h0m0-5h0m1-2h0m1 25h0m-4 11h0m0-38h0m3 17h0m1-6h0m-1 6h0m-1 0h0m5-13h0m-3 11h0m2-31h0m1 7h0m-1 6h0m1-22h0m0 16h0m-2-8h0m0 6h0m2-12h0m1-35h0m-4 33h0m0-6h0m1 22h0m5-15h0m-4 14h0m5-6h0m-2-10h0m2-39h0m0-13h0m-5-3h0m4-1h0m-2 43h0m0 9h0m2-41h0m3 29h0m-4-38h0m-1 9h0m4 0h0m-3 10h0m3-10h0m-1-19h0m1 8h0m-4-13h0m6-14h0m-4 15h0m0 9h0m5 2h0m-3-8h0m-1-31h0m4 6h0m-3 4h0m3 22h0m1-1h0m0-11h0m-2 24h0m3-8h0m-4-11h0m-1 27h0m2-61h0m2 23h0m0 1h0m-3-16h0m0-4h0m4 21h0m-5 6h0m7 0h0m-4 1h0m3-3h0m-3-20h0m-1 50h0m1 7h0m1-28h0m3-16h0m2 2h0m-6 0h0m4-1h0m-3 26h0m4-2h0m-2 1h0m1-4h0m-3-44h0m3 18h0m3 41h0m-4-25h0m-1-7h0m3-17h0m1 31h0m-3-25h0m4 10h0m0 3h0m-4 2h0m0-11h0m3-25h0m2 20h0m0 11h0m-1-11h0m-3-18h0m0 16h0m5 3h0m-1-13h0m-3 8h0m0-16h0m5 3h0m-3-22h0m-2 32h0m3-14h0m1 11h0m1-8h0m-2-16h0m3 9h0m2-12h0m-3-24h0m-3 2h0m0 35h0m6-10h0m1-10h0m-6 18h0m0-3h0m6-24h0m-3 7h0m1-8h0m-1-50h0m-2 53h0m1-3h0m0 33h0m-1-2h0m5-27h0m-3-20h0m2 41h0m-1-12h0m2 17h0m1-13h0m-3-19h0m3-7h0m1 16h0m-3 9h0m1-27h0m-1 56h0m-1-16h0m5 17h0m-2-14h0m3-15h0m-2-10h0m0 46h0m-2 8h0m3-29h0m-1 16h0m2 2h0m-1 43h0m4-68h0m-2 53h0m-4-7h0m5 0h0m-3 21h0m2-58h0m0 46h0m-2-11h0m1-18h0m2 47h0m1-9h0m0 32h0m-1-13h0m0-20h0m1-20h0m0 38h0m-2-31h0m0-18h0m0 39h0m2 10h0m2 35h0m-3 16h0m1-28h0m5 14h0m-2-56h0m-1 27h0m2 30h0m0 7h0m1 38h0m-1-15h0m-2-25h0m1 19h0m3-5h0m1 7h0m-5-13h0m0 29h0m0 9h0m1-11h0m1 7h0m2 22h0m-3-21h0m4-16h0m1 12h0m-3 3h0m1-19h0m0 15h0m2-20h0m0 14h0m-3-37h0m-1 33h0m4-7h0m0 10h0m0-20h0m-1-13h0m-1-5h0m0 44h0m0-3h0m2-24h0m-1-39h0m4-112h0m1 125h0m-6 22h0m5 21h0m-1-95h0m2 102h0m-2-18h0m1-8h0m-3-32h0m1 35h0m3-7h0m1 25h0m-4-7h0m0-5h0m1 5h0m-2-3h0m2-4h0m0 23h0m1 2h0m3-5h0m1-6h0m0-2h0m0-7h0m0 0h0m-1 23h0m-4-5h0m6-8h0m0 5h0m-3 8h0m2-5h0m-1-32h0m0 52h0m-2 0h0m6-19h0m0-8h0m0 14h0m-1 5h0m-1 0h0m2-3h0m-5 7h0m1-14h0m1-5h0m3-10h0m-2 32h0m-1-4h0m5-5h0m-4-24h0m0 0h0m-1 20h0m1 1h0m5 12h0m-4 12h0m-1 11h0m2-24h0m-2 10h0m4 17h0m-4-3h0m0-36h0m5 27h0m-4-26h0m4 7h0m2-6h0m-3 18h0m-1 14h0m4-9h0m-4-7h0m4 4h0m-1 17h0m-3-9h0m2-1h0m0 0h0m0-16h0m4 15h0m1-3h0m-4 19h0m-2-10h0m4-6h0m1-44h0m-5 0h0m4 9h0m-2 11h0m1-4h0m-2 23h0m4-1h0m-3-12h0m2-29h0m-2 35h0m3-8h0m-2-4h0m2-10h0m3 15h0m-4 12h0m3-12h0m-3-2h0m3 22h0m-2-28h0m3 5h0m-2 16h0m1-9h0m3 0h0m-3 5h0m-1-33h0m5 9h0m-3 26h0m0 0h0m-1-20h0m0-2h0m4 8h0m-3-14h0m2-1h0m-4 0h0m6-5h0m-5 22h0m1 14h0m5-17h0m-2-21h0m1 23h0m-1-30h0m-3 8h0m2 1h0m-1 7h0m1 16h0m0-28h0m-1 21h0m1 2h0m4 5h0m-2-30h0m3-16h0m0 18h0m0 15h0m0 1h0m-3 6h0m2-20h0m-1 5h0m0 12h0m4-8h0m-1 22h0m0-53h0m0 7h0m1 36h0m1 2h0m-1 0h0m-1-10h0m2-16h0m-2-6h0m-2 43h0m3-9h0m-3-19h0m3 1h0m0 0h0m1 3h0m3 6h0m-2-1h0m-3 3h0m1-2h0m-1 9h0m2-1h0m2-14h0m1-5h0m-3-4h0m2 20h0m-2 11h0m3-15h0m-3 8h0m1-11h0m1 3h0m-1-12h0m2-2h0m1 27h0m1-6h0m1-29h0m-2 7h0m1 8h0m1-14h0m-3 11h0m-2 19h0m3-7h0m2-4h0m-3 18h0m4-18h0m1-2h0m-1 10h0m-2-7h0m-2-14h0m5 23h0m0-18h0m-2 7h0m3 1h0m-3 11h0m3-15h0m-3 9h0m3 17h0m-2-16h0m-1 25h0m3-5h0m-4-10h0m1 2h0m1-20h0m4 4h0m-3 26h0m2-1h0m0-24h0m-3-2h0m1-17h0m3 8h0m-1 3h0m-2 32h0m3-12h0m2-2h0m-3-27h0m0 25h0m2-34h0m-1 4h0m2 15h0m0-14h0m-1-35h0m-2 15h0m3 56h0m0 11h0m2-9h0m-2-7h0m0 13h0m2 2h0m1 2h0m-4 5h0m2-33h0m-4-7h0m6-1h0m-2 27h0m-3-7h0m2 3h0m1-1h0m-1 13h0m2 9h0m-1-19h0m-2 13h0m2-12h0m0 15h0m3-26h0m-3-2h0m-1-11h0m6 7h0m-5-1h0m-1 4h0m6-6h0m-2-18h0m1 4h0m-2 20h0m1 6h0m-1-15h0m4 27h0m0-23h0m-2 13h0m-1-17h0m1 13h0m3 6h0m-1-6h0m-3 4h0m5-29h0m-2 9h0m3 31h0m-5-21h0m0-2h0m3 2h0m-3 13h0m1 1h0m4-15h0m1 2h0m0-7h0m0 17h0m-5-6h0m6 20h0m-1 5h0m-2-15h0m3-14h0m-3-6h0m2 6h0m-3 16h0m6 9h0m-6-9h0m6-5h0m-1-26h0m1 2h0m-5 23h0m2-17h0m4 22h0m-6-9h0m3-15h0m-2 31h0m5-12h0m-1 4h0m1 16h0m0-26h0m-5-1h0m7-17h0m-3 20h0m2 33h0m-1-3h0m1-10h0m1-3h0m1-23h0m0-8h0m-1-5h0m0-2h0m0 12h0m-3 16h0m0-4h0m-1 6h0m3-16h0m3-3h0m-2 5h0m-2-4h0m5 1h0m-2-5h0m3 25h0m0 15h0m-5-5h0m6-29h0m-6-18h0m3-14h0m-2 15h0m1 17h0m3 16h0m1-32h0m-3-11h0m-1 1h0m-1 5h0m2-2h0m2-16h0m-2 28h0m1-2h0m3 11h0m-4-15h0m3-41h0m1 14h0m-2-4h0m0 7h0m-1-57h0m0 58h0m5-15h0m-1 3h0m1-4h0m-4-24h0m2 11h0m3-20h0m-1 11h0m1-21h0m-1 21h0m2-16h0m-1 24h0m0 0h0m-3-49h0m4 24h0m2-6h0m-2-2h0m2 21h0m-6-24h0m5 6h0m-2-14h0m-2 24h0m0 0h0m4 11h0m0-28h0m-1 11h0m1 5h0m2-24h0m1-7h0m-4 6h0m-1-34h0m2 29h0m2-18h0m-2 20h0m-2-2h0m3 3h0m-1-12h0m4 22h0m-5-16h0m3 12h0m-3-30h0m4 23h0m1 15h0m-4-35h0m4 7h0m-2 15h0m0-7h0m1 13h0m3 14h0m-6-30h0m1 15h0m3-36h0m1-14h0m3 18h0m-2 2h0m-4 52h0m3-14h0m2-23h0m-1 16h0m-3-10h0m2-48h0m2 8h0m-1-2h0m-2 6h0m-1-18h0m2 18h0m5 16h0m0 18h0m0-17h0m-5 28h0m6-9h0m-3-36h0m2 14h0m-1 22h0m-1-17h0m-2 13h0m0 8h0m1 7h0m6-1h0m-4-3h0m1-2h0m0 11h0m3-11h0m-1-2h0m-1 47h0m-1-18h0m3-25h0m0 13h0m-1 12h0m1 8h0m-2 7h0m2-27h0m-4 3h0m1 57h0m5-2h0m-5-26h0m5 23h0m-5-67h0m2 8h0m3 8h0m0 8h0m-5 29h0m4-45h0m-3 46h0m3-33h0m1-13h0m1 36h0m-1-15h0m3 27h0m-4-38h0m4-6h0m-1-24h0m0 11h0m1 22h0m-3 20h0m1 36h0m3-7h0m0 6h0m-2-9h0m0-21h0m3 12h0m0-43h0m2 0h0m-2 9h0m1-14h0m0 12h0m1 33h0m-4 11h0m1-43h0m-1-21h0m1 23h0m3-21h0m-1 4h0m1-5h0m-5 4h0m5 27h0m2-20h0m-3 28h0m2 25h0m1-58h0m-4 19h0m0 17h0m3 4h0m2 2h0m-2 5h0m-3-7h0m1-12h0m4 1h0m0-22h0m-4-12h0m1 34h0m4 31h0m-5 27h0m5-3h0m-3-33h0m4 32h0m-3-2h0m-2-4h0m3-7h0m2-2h0m-4 2h0m1 3h0m2 7h0m1-12h0m2 7h0m0-3h0m-4 18h0m0-2h0m4-5h0m-1 10h0m0-46h0m-2 16h0m1 25h0m3 7h0m0-11h0m-1-12h0m-3 12h0m1 11h0m1-17h0m2 18h0m-1-6h0m-3-30h0m4 3h0m0 17h0m3 12h0m-5-2h0m3 18h0m-3-12h0m5 4h0m0 25h0m-3 8h0m-1-32h0m1 1h0m-1 2h0m5-24h0m1 24h0m1 11h0m-3-8h0m0-17h0m3-7h0m-2 14h0m-2-1h0m0 8h0m4-11h0m1 16h0m0-3h0m1 31h0m-4 4h0m2-27h0m1 20h0m-3-7h0m0 1h0m5 0h0m-1-5h0m-5 4h0m1-32h0m2 5h0m0 29h0m4 3h0m-5-9h0m6-2h0m-4-5h0m1 12h0m0 3h0m2 14h0m-1-9h0m3-21h0m-5 26h0m5-9h0m-1-4h0m-1-12h0m3-2h0m-6 19h0m4-16h0m2-12h0m-3-9h0m0 15h0m4 18h0m-5-25h0m0 4h0m5-4h0m-5 4h0m6 20h0m-2-14h0m1-24h0m-5 1h0m4 16h0m2 5h0m-4 8h0m-1-18h0m3 23h0m4-19h0m-6-12h0m3 8h0m3 7h0m1 10h0m-2-13h0m-3-16h0m0 1h0m1-5h0m5-4h0m-1 18h0m0-14h0m-1 28h0m0-12h0m1 15h0m-1 12h0m1-19h0m3 10h0m-6-11h0m3-11h0m0 14h0m1-12h0m1 22h0m-4-8h0m3-18h0m1 7h0m0 8h0m-3-9h0m2 16h0m-1 0h0m4-6h0m-3-9h0m3 4h0m-3 2h0m-1-6h0m6-9h0m-2-14h0m-3 19h0m1-6h0m5 4h0m0-11h0m-2-2h0m2 10h0m-4 0h0m5-18h0m-3 0h0m4 22h0m-2-19h0m-2 5h0m2-8h0m3 17h0m-5-5h0m1-6h0m-1 2h0m4-11h0m-4 23h0m3-15h0m-1 11h0m1 8h0m-3 2h0m2-13h0m2-12h0m-1 4h0m-1-19h0m2-4h0m2 27h0m1 8h0m-5-5h0m1 7h0m-2 5h0m7-16h0m-3 29h0m0-6h0m3 8h0m-4-3h0m1-16h0m-1 0h0m0 24h0m3 7h0m-3-11h0m5-7h0m0 3h0m-5 10h0m1-13h0m2 3h0m0-22h0m1 13h0m3 6h0m-3-3h0m3 1h0m-1-21h0m-4 8h0m3 30h0m1 0h0m-3-45h0m3 9h0m0 27h0m3 16h0m-3-17h0m0-12h0m2 3h0m0 15h0m-2 4h0m4 5h0m-5 16h0m5-41h0m-5 1h0m5 26h0m-2-12h0m-1-40h0m2 30h0m1-2h0m2 6h0m-1-9h0m0-6h0m2 29h0m-2-18h0m0-14h0m2 8h0m-3 16h0m3 4h0m-2 19h0m-3-25h0m0-16h0m5 1h0m-3 3h0m2-21h0m4 12h0m-5 2h0m1 4h0m-2-8h0m1-5h0m3 18h0m2 5h0m-4-14h0m-1 22h0m5-12h0m1-15h0m-3 27h0m-1 3h0m0-17h0m3-3h0m-1 16h0m-2 10h0m0-48h0m1 22h0m1-17h0m-1 3h0m4 19h0m2-13h0m-2 4h0m1 11h0m-2-7h0m2-8h0m-3-14h0m1 16h0m-3-20h0m5 13h0m-3 0h0m4-1h0m2 8h0m-4-20h0m1 22h0m3-110h0m-3 91h0m3 19h0m-2 6h0m0 2h0m-2 3h0m2 0h0m-1 3h0m-1-4h0m4 15h0m0-20h0m-1-17h0m2 5h0m1 13h0m2-11h0m-2 2h0m2 23h0m-1-8h0m2-3h0m-5-123h0m5-25h0m-3 146h0m2 13h0m-5-22h0m3 23h0m-1-16h0m1 27h0m5 7h0m-1-43h0m-4 25h0m2 2h0m3-3h0m1-4h0m-2-4h0m-1-18h0m-1 24h0m-1 9h0m-1-4h0m3 13h0m-2-8h0m0-33h0m1 20h0m-1 29h0m3-6h0m0-13h0m0-7h0m-1 11h0m-1 5h0m4-14h0m-2-7h0m1 1h0m0-12h0m2 6h0m1-1h0m-1-5h0m-2 7h0m4-5h0m-2 5h0m1-47h0m-1 7h0m3 10h0m-5-9h0m1 20h0m-1-3h0m5-2h0m-3-6h0m3-17h0m0 1h0m2 7h0m-4-21h0m4 15h0m-1 9h0m-4 5h0m6 7h0m-6-17h0m5-12h0m-4 11h0m2 4h0m-2-82h0m2 29h0m3-5h0m0 10h0m-3-52h0m2 8h0m1 17h0m1-9h0m0-3h0m2-15h0m-3-20h0m2 11h0m-5 17h0m1 26h0m0-118h0m2 84h0m4-19h0m-1 11h0m-1 7h0m3-13h0m-6-33h0m6 17h0m-6-9h0m0-4h0m3-17h0m0 31h0m4-11h0m-6-2h0m6-10h0m0 14h0m1 40h0m-4-23h0m2-13h0m0 20h0m3-37h0m-5 32h0m5-9h0m-5 31h0m1-70h0m0 2h0m1-12h0m-1-7h0m1 34h0m5-36h0m-2 26h0m-2-14h0m1 38h0m3-19h0m-2-19h0m-2 24h0m3-14h0m-3-31h0m3 47h0m1-7h0m-2-22h0m3-18h0m-5 29h0m1-13h0m1-37h0m1-17h0m-1 35h0m5-32h0m0 32h0m0-15h0m0 2h0m-1 14h0m0-15h0m-2 8h0m3-12h0m-4 20h0m3-12h0m-1 7h0m0-14h0m4 7h0m-1 45h0m-2-59h0m3 37h0m2-29h0m-3 8h0m2-13h0m0 8h0m-3-27h0m-1 72h0m4-76h0m2 43h0m1-24h0m-5 15h0m4-1h0m0 3h0m-4 3h0m6 31h0m-1-43h0m-4 45h0m5-37h0m-5 35h0m3-14h0m2 13h0m0-31h0m2 8h0m-4-16h0m4-20h0m0 53h0m-1-22h0m-3 17h0m2 6h0m0-21h0m0 42h0m-1-53h0m5 20h0m-2 9h0m1-26h0m-2 15h0m1-30h0m2 32h0m-1 11h0m-2 13h0m2-35h0m-4 9h0m4 6h0m3-5h0m-4-13h0m-1-9h0m0 23h0m0 4h0m2-10h0m2 28h0m0-33h0m-2 26h0m4-10h0m1 30h0m-6-27h0m2 35h0m1-17h0m-1 4h0m5-13h0m-4 49h0m3-12h0m2 3h0m-6-15h0m4 51h0m-4-25h0m6 51h0m-3-36h0m-1-43h0m-1 28h0m6-11h0m-5 7h0m4-15h0m2 17h0m-1 17h0m-1-9h0m-2 18h0m0-7h0m5 8h0m1 2h0m-4 15h0m3 3h0m-4-49h0m3-10h0m-1 52h0m0-22h0m-1 6h0m4-4h0m0 5h0m0-1h0m-1-6h0m-2 7h0m-1-15h0m1 16h0m3 21h0m2-25h0m-3 7h0m2-24h0m-1 21h0m2 4h0m-4-3h0m3 39h0m2 6h0m0-16h0m0-7h0m0 4h0m-4-11h0m5 12h0m-1-29h0m-1 57h0m-2 8h0m5-32h0m-1 11h0m-4 45h0m5-9h0m-4 0h0m5 31h0m-1-1h0m-2 3h0m-1 9h0m-1 2h0m2-4h0m5-6h0m-1-10h0m-5 6h0m5 13h0m1-8h0m-5 16h0m4-9h0m-1 18h0m0-17h0m-1-12h0m1 8h0m1-25h0m-2 25h0m-1-14h0m4 21h0m-2 0h0m1-14h0m2 9h0m0-33h0m3 1h0m-6 4h0m0 34h0m7-27h0m-6-21h0m0 3h0m2 41h0m2-15h0m-1 6h0m2 12h0m-4-8h0m1-4h0m5 15h0m0 1h0m-5-6h0m4-11h0m-4-6h0m3 13h0m1 11h0m1-10h0m-1-19h0m0 21h0m-1-9h0m1-4h0m3 9h0m-5 6h0m4-8h0m-1 23h0m4 14h0m-2-52h0m-4-3h0m2 27h0m4-11h0m0 1h0m0 6h0m-4 6h0m5 4h0m0 1h0m-1 2h0m-3-13h0m6-7h0m-4-4h0m-2 33h0m2-15h0m1-16h0m-1 11h0m3 19h0m2-11h0m-4-19h0m-1 12h0m1-1h0m-1 8h0m2-4h0m0 19h0m0 10h0m-1-22h0m3 17h0m1-26h0m-1 24h0m-3 0h0m1-24h0m5 9h0m1-2h0m-1-1h0m-5-14h0m2 17h0m0-1h0m0 22h0m4 29h0m-2-4h0m1 11h0m0-4h0m0-10h0m3 8h0m-5-2h0m6-9h0m-2 6h0m0 18h0m-2-14h0m0-36h0m4 7h0m1 44h0m0 0h0m-5-17h0m0-2h0m0-21h0m4 6h0m2 21h0m-2 2h0m-1-32h0m-1 0h0m0 10h0m-1-3h0m6-15h0m-3 8h0m-2 7h0m0-9h0m2-19h0m3 20h0m-1-1h0m3 14h0m-1-5h0m-3-9h0m1-8h0m-3 0h0m7-2h0m-4 13h0m2-10h0m-3 6h0m5-22h0m-1 0h0m2 29h0m-5-38h0m1-15h0m0 33h0m1 23h0m3-41h0m1 20h0m-2-12h0m-3-7h0m5 27h0m-5-3h0m0-47h0m3 43h0m0-34h0m0 22h0m3 12h0m-1-14h0m0 8h0m-2-10h0m4-5h0m-2 22h0m-3-4h0m1 10h0m5 1h0m-5-26h0m0 1h0m5 5h0m-1 17h0m1-8h0m1-9h0m-1 18h0m-4 1h0m4 6h0m-2-5h0m4-4h0m-3 27h0m3-23h0m-4 1h0m-1-35h0m1-4h0m2 48h0m3-39h0m-4-4h0m0 22h0m0 18h0m0-34h0m1 27h0m3 1h0m-3-20h0m5 22h0m0 12h0m1-43h0m-2 11h0m1 31h0m0-20h0m-4-11h0m5 7h0m1-9h0m-4-4h0m5 5h0m-6 5h0m2 16h0m-2 0h0m6-22h0m0 16h0m-3-11h0m3 4h0m-2-5h0m-1-3h0m5 0h0m-5 20h0m2-4h0m4-12h0m-5 8h0m4-1h0m-2-17h0m-2 31h0m1 2h0m3-54h0m-1 13h0m0 7h0m-3 20h0m7-24h0m-4-2h0m-2 14h0m5 9h0m-2-31h0m-1 34h0m-2-2h0m5-29h0m2 20h0m-6-26h0m4 14h0m-1 3h0m2-1h0m-1-8h0m-3-6h0m0 19h0m2 4h0m5 20h0m-6-1h0m6-1h0m-1-10h0m-3-6h0m0 12h0m2 7h0m0-8h0m0-15h0m-3 12h0m2 14h0m-2-13h0m4 27h0m-3-29h0m6-4h0m-3 12h0m-1-2h0m0 8h0m4 7h0m-3-2h0m1 16h0m1-39h0m2 17h0m-1 4h0m0-24h0m0 30h0m3-4h0m-2-25h0m0 22h0m2-38h0m-5-5h0m-1 26h0m5 8h0m1 7h0m-2-13h0m-1 17h0m-1-5h0m0 1h0m5-8h0m-3-25h0m-2 10h0m6 12h0m-4 2h0m-1-16h0m2 11h0m-2 3h0m3-44h0m4 30h0m-3-17h0m-3-6h0m3 45h0m3-2h0m-2-26h0m1-23h0m2 35h0m-1-31h0m-3 26h0m-1-15h0m3 13h0m2-28h0m-2 1h0m2-19h0m-3-8h0m1 4h0m0 3h0m3 2h0m0 31h0m-4-49h0m1-12h0m5 25h0m-3 23h0m2-36h0m0-49h0m1 35h0m-2-23h0m-1 6h0m4-38h0m-4 7h0m5-27h0m-1 33h0m1 7h0m-5-27h0m3-11h0m-1-8h0m0 7h0m4 4h0m-3 7h0m-2-24h0m2-2h0m1 0h0m0-9h0m2 32h0m-5-14h0m3-11h0m2-13h0m-1 2h0m2-55h0m-4 48h0m5 7h0m-3-21h0m4 9h0m-3 7h0m0-24h0m3 12h0m-3-42h0m0 24h0m2-6h0m-2 12h0m4-26h0m0 20h0m-5 28h0m0-24h0m3 11h0m0 23h0m1-10h0m-2-39h0m4-11h0m-5 42h0m5-9h0m0-44h0m-3-7h0m1 35h0m-2 18h0m1 4h0m4-39h0m1 41h0m-4-12h0m3-21h0m-4-23h0m3 30h0m4 29h0m-1 5h0m2-30h0m-2 7h0m0 1h0m-4 4h0m5-9h0m-5 5h0m2 5h0m2-19h0m3 29h0m-5 10h0m4-21h0m-4-14h0m-1 0h0m2 35h0m0-30h0m1 12h0m-1-14h0m-1-38h0m4 42h0m1 6h0m3 27h0m-2 5h0m2-14h0m-2 18h0m2-31h0m0 26h0m-2-33h0m-1-1h0m-2 9h0m0-9h0m6 19h0m-2 0h0m0-33h0m-3 13h0m2 58h0m2-26h0m-4-21h0m7-6h0m-4 18h0m0 21h0m3 8h0m-1-19h0m-3-11h0m6 23h0m-6-17h0m1-15h0m5 17h0m-1 5h0m0-30h0m2 7h0m-3 45h0m-1-50h0m2 42h0m-2 5h0m1 7h0m2-20h0m0-7h0m1-46h0m-2 19h0m0 22h0m4-35h0m-5 6h0m6 33h0m-6-14h0m5 1h0m1 47h0m-5-10h0m4-10h0m1-21h0m-2 5h0m3 11h0m-4-10h0m4-22h0m0 55h0m-5-6h0m0-22h0m3-3h0m1-11h0m1-42h0m-2 76h0m3-23h0m1 5h0m0 21h0m-6-12h0m6 47h0m-2-22h0m1 3h0m-1 55h0m3-4h0m-6-3h0m1-36h0m0 5h0m3 9h0m2 5h0m0-1h0m-2-9h0m-1-1h0m3 18h0m2-2h0m-4 8h0m1 4h0m1 49h0m0 4h0m2 20h0m-1-22h0m1 8h0m-1 9h0m0-3h0m3 9h0m-4-7h0m-1 8h0m3-37h0m-3 18h0m4 8h0m-1 16h0m-1-42h0m3-6h0m1 46h0m-4-3h0m0-14h0m1-1h0m2-13h0m0-4h0m1 20h0m-2 7h0m3-14h0m0-19h0m-1 4h0m0-56h0m-2 4h0m0 11h0m5-2h0m0-3h0m-2 19h0m4-38h0m-2 31h0m-1-15h0m1 35h0m1 23h0m-3-53h0m-1 8h0m3 8h0m2-13h0m0 78h0m-2-40h0m2-7h0m2 20h0m0 31h0m-4 2h0m-1-15h0m6 23h0m-6-34h0m0 20h0m2-3h0m2-17h0m2 5h0m-1 20h0m-1-21h0m2 0h0m-3 17h0m2 8h0m-3-12h0m6-9h0m0 7h0m-6-2h0m6 6h0m-3-7h0m-1-43h0m4 34h0m-1-9h0m1-2h0m-4-21h0m6 20h0m-5 6h0m1 2h0m5 3h0m-2 34h0m-4 21h0m3-31h0m-2-14h0m4 4h0m-2 19h0m1-14h0m3-6h0m-1 29h0m-1-13h0m0-15h0m1 9h0m2 10h0m0-4h0m-5-4h0m5 3h0m-1-3h0m-2-2h0m-1-25h0m1 10h0m3-18h0m-3 21h0m2 20h0m3-18h0m0-28h0m-2 0h0m-3 31h0m1 0h0m2-9h0m0 11h0m0 1h0m1-50h0m-4 34h0m5 4h0m-3-1h0m3-26h0m-3 3h0m3 27h0m-3 3h0m4 4h0m-4-10h0m7-23h0m-2 19h0m-4-14h0m0 13h0m6-23h0m-1-8h0m-3 28h0m3 7h0m1 9h0m-3 15h0m0-8h0m2 16h0m2-41h0m-1 7h0m-2 18h0m4-2h0m-1 5h0m-3-17h0m1 29h0m3-6h0m2-4h0m0-8h0m-2 5h0m0-23h0m-3 41h0m4 13h0m-1-23h0m-4 0h0m4-24h0m-2 27h0m2 7h0m3-11h0m-1-1h0m-3 24h0m-1-5h0m3-10h0m2 2h0m0 5h0m-2-8h0m2 17h0m-2 12h0m-1-8h0m3-4h0m0 9h0m0-1h0m1-4h0m2-12h0m-1 24h0m-2-7h0m4 2h0m-6 4h0m4-15h0m-2-18h0m3 0h0m-1-13h0m0 38h0m-2 5h0m1-19h0m4 8h0m-2 3h0m0 4h0m3 15h0m-3-22h0m3-8h0m-1-4h0m0 5h0m1 7h0m-1-11h0m-2 7h0m2-17h0m1 34h0m-2-24h0m3 29h0m-1-12h0m-3 12h0m6-23h0m-3-6h0m-2-24h0m3 41h0m-1-17h0m1 21h0m3 0h0m-1-15h0m-3 11h0m1-26h0m3 22h0m-2 11h0m-1-2h0m4-7h0m-2-2h0m0-5h0m2-13h0m-3 18h0m0-7h0m2-33h0m-3 17h0m3 9h0m3-12h0m-3 20h0m2-20h0m-1 27h0m1-7h0m-4-27h0m4 6h0m-3-7h0m6-3h0m-2 3h0m-1-13h0m-2-11h0m0-1h0m3-1h0m1 22h0m-2 10h0m3-16h0m-3 4h0m-1-16h0m2-5h0m0 21h0m2-11h0m0 6h0m0 0h0m3-1h0m-3 7h0m1-1h0m-3-14h0m3-6h0m0-11h0m0 41h0m-1-13h0m2-33h0m2 6h0m-4-1h0m2-1h0m3 37h0m1 3h0m-5-5h0m0 0h0m3-2h0m0-9h0m2-53h0m-4 28h0m-1 19h0m0 7h0m0 1h0m1 14h0m3 6h0m1 19h0m-2-40h0m1 9h0m1 14h0m0-23h0m3 25h0m-2-3h0m1-2h0m-1-1h0m1 4h0m1 13h0m0-10h0m0 1h0m-4 13h0m5-21h0m-4-4h0m4 22h0m-4 0h0m0-12h0m1 1h0m-1 13h0m2-8h0m0-37h0m-1 7h0m1 28h0m-1 8h0m5-8h0m-4 10h0m1-27h0m2 1h0m-2 20h0m1-5h0m1 28h0m1 3h0m2-12h0m0 2h0m-3-14h0m3 7h0m1-11h0m-3 3h0m-3 7h0m6-13h0m-5-17h0m1 24h0m0 10h0m3-13h0m-3 0h0m4 20h0m0-5h0m0-35h0m0 2h0m1 7h0m0 2h0m2-9h0m-2-1h0m-3 4h0m3 9h0m1-10h0m-5-1h0m1-10h0m2 25h0m0 14h0m2-31h0m0-4h0m-1-30h0m-2 37h0m1-18h0m2 20h0m3-12h0m-3 3h0m2-17h0m0 1h0m0 3h0m2 2h0m-5 22h0m3-28h0m-2 12h0m2-42h0m-2-9h0m4 10h0m-2 14h0m0-40h0m3 4h0m-5-12h0m4-17h0m0 4h0m-1 13h0m1-3h0m-2 11h0m5-17h0m-2 27h0m2-30h0m1 6h0m-4 12h0m2-11h0m0-10h0m1-41h0m-1 55h0m-1-20h0m1-16h0m4-7h0m-1 38h0m-5-22h0m3-25h0m-2 26h0m-1-3h0m6-1h0m-2 1h0m2-21h0m-2 1h0m0-10h0m2 30h0m-1 17h0m1-18h0m3 11h0m0-32h0m-5 23h0m5 12h0m-2-3h0m-4-9h0m1-10h0m5 7h0m-4 3h0m4-12h0m-5 15h0m1-10h0m1-3h0m2-9h0m-2 19h0m1-24h0m3 6h0m-2-28h0m-1 0h0m3 38h0m2 16h0m-5-38h0m2-25h0m3 3h0m1 16h0m-4-5h0m3 36h0m-1-27h0m0-5h0m-1-9h0m4-11h0m-2 5h0m1 40h0m1-11h0m-4-9h0m0 9h0m0-38h0m4 52h0m-4-10h0m4-19h0m1-19h0m0-11h0m-2 21h0m-2 23h0m4-4h0m1 0h0m1-28h0m0 12h0m-3 16h0m4-74h0m-3 33h0m1 12h0m3-7h0m0 8h0m1 13h0m-5-3h0m2 10h0m-2-46h0m3 18h0m-1 5h0m-2-10h0m4 13h0m-5 1h0m3-27h0m3 1h0m-3 6h0m1 19h0m1-14h0m-1-6h0m0 12h0m-1-24h0m5 14h0m-2-14h0m3 9h0m-7-8h0m7 53h0m-2-49h0m-1 11h0m4-9h0m-4 45h0m4-30h0m-2 44h0m-3 7h0m6-7h0m-1-27h0m1-1h0m-4-14h0m0 23h0m3-14h0m1 9h0m0-14h0m-3 14h0m0 2h0m4-17h0m1-14h0m-2 8h0m1-2h0m-1 22h0m-3 26h0m5-11h0m1-20h0m-4-7h0m1 26h0m-2-27h0m4 35h0m-2 29h0m3-40h0m-2 12h0m-2-16h0m6-32h0m-2 34h0m1 1h0m1 12h0m1 31h0m0-16h0m-4 12h0m1-27h0m0 33h0m0-20h0m1 19h0m-2-41h0m3 19h0m1 21h0m-2 10h0m1 17h0m-2 4h0m6-23h0m-6 2h0m6-8h0m-3 50h0m0-12h0m4-28h0m-1-15h0m-2 72h0m1-5h0m1-13h0m0-16h0m-2 48h0m-2-29h0m-1 14h0m4 35h0m-3-8h0m6 4h0m-3-8h0m-1 1h0m2 21h0m-2-8h0m5-4h0m-4-1h0m2 10h0m-3 4h0m2-17h0m-1 7h0m0 3h0m0 11h0m0-5h0m1-20h0m4 26h0m-2 5h0m-1 4h0m-1-5h0m3 14h0m0-4h0m2-6h0m-4-4h0m4 5h0m1-7h0m0-18h0m-2-21h0m1 23h0m0 6h0m-2 13h0m5-18h0m-2 10h0m-2 13h0m0 13h0m5 3h0m-1-4h0m0-7h0m-3-3h0m2-12h0m3-9h0m-2 10h0m0 0h0m-1 6h0m-2-16h0m1 22h0m5 4h0m-4-23h0m1-10h0m1 15h0m3-6h0m-2 15h0m0-8h0m3-9h0m-1 21h0m-1 6h0m0-8h0m0 14h0m1-11h0m-3-2h0m4 5h0m-2-18h0m-3 19h0m3 2h0m3-6h0m-2-3h0m2 3h0m0 3h0m2 12h0m-3-7h0m-1 23h0m-2-13h0m1-2h0m3 1h0m2-8h0m1 20h0m-4-10h0m-1 1h0m5-20h0m-4-5h0m4 19h0m-5 15h0m1-1h0m0-26h0m2 9h0m3-2h0m-1 22h0m-1-3h0m3-39h0m-4 20h0m5 11h0m-1-15h0m-2-6h0m0-1h0m1 16h0m-2 13h0m0-7h0m2-33h0m-1 4h0m3 19h0m-2-19h0m4 4h0m-2 28h0m-2 1h0m1-4h0m5 2h0m-3-3h0m-2-17h0m2 21h0m0-20h0m4 3h0m-1-2h0m0-2h0m1 32h0m-2-8h0m2-32h0m-3-5h0m1 31h0m3-19h0m-4-14h0m0 17h0m3-12h0m1 5h0m-3 10h0m-1-1h0m6 0h0m-3 6h0m-1 14h0m3 4h0m-4-25h0m3-4h0m1 10h0m-2 41h0m2 19h0m-3-81h0m3-1h0m-2 36h0m-1-19h0m3-7h0m0-6h0m3 15h0m-2 6h0m-2-3h0m3-1h0m-2 0h0m4-16h0m-3 14h0m1 10h0m-2 29h0m1-57h0m2 12h0m3 29h0m-1-8h0m-2 36h0m-2-11h0m4-27h0m-4 20h0m0-10h0m5 25h0m-1 2h0m1-28h0m2 15h0m-3-4h0m-1-9h0m-2 12h0m5-20h0m0 3h0m-1-1h0m-3-3h0m2 2h0m2-8h0m-3-11h0m5-19h0m-1 34h0m2-7h0m-5 1h0m3-5h0m-3-35h0m3 13h0m-1 16h0m2-6h0m-1 3h0m4-12h0m-5 12h0m-1-10h0m1 11h0m0-6h0m4-15h0m-1-1h0m2 15h0m-3 13h0m1-13h0m4-4h0m-5 3h0m4-7h0m-3 10h0m5 1h0m-6-7h0m3 32h0m0 2h0m2-43h0m-1 3h0m3 12h0m-5 1h0m5 7h0m-1-6h0m-5 22h0m1-35h0m1 28h0m0-4h0m5-34h0m-4-2h0m1-33h0m1 20h0m-3 0h0m4-19h0m-3 3h0m4 26h0m-1-29h0m1-11h0m-2 6h0m2 18h0m1-19h0m2-3h0m1 13h0m-3-51h0m1 5h0m-2 28h0m-1-35h0m4 13h0m2 19h0m0 1h0m-3 25h0m0-36h0m-1 11h0m4 18h0m0-52h0m-2 39h0m3 31h0m-3-13h0m4 4h0m-3 24h0m-1-4h0m3-22h0m-3 2h0m5 21h0m-6-32h0m5 5h0m-1-1h0m-2-3h0m0 12h0m1 16h0m1-13h0m3-19h0m-1-6h0m1 38h0m-5-18h0m1 28h0m2-15h0m4 3h0m0-14h0m0-5h0m0 7h0m0 6h0m-3-10h0m3 3h0m-3-1h0m-1 1h0m2 1h0m1 7h0m1-5h0m-1-34h0m0 8h0m2 29h0m1-5h0m-2-8h0m0-10h0m3-1h0m-2-3h0m-2 15h0m3-3h0m-2-16h0m2 16h0m-4 112h0m2-107h0m2-19h0m-1 33h0m4-13h0m-4 25h0m4-11h0m-4 1h0m2-24h0m1 21h0m2-23h0m-6 5h0m2 46h0m-1-31h0m3-24h0m-2 8h0m5 22h0m-1-8h0m1-11h0m-2-7h0m-3-3h0m1-15h0m5-6h0m-4-4h0m0 51h0m4 20h0m-1-34h0m0-63h0m-2 2h0m2-3h0m1-5h0m0 10h0m3 48h0m-5 2h0m0-62h0m5 6h0m-3-2h0m0 3h0m0-1h0m4-15h0m-2-2h0m0-16h0m-2 47h0m3-68h0m-1-5h0m-3 16h0m1-20h0m4-7h0m1 18h0m1 10h0m0-14h0m-6 41h0m6 25h0m-1-28h0m1-7h0m-3-9h0m-1 8h0m3 13h0m-1 7h0m-2-31h0m3 24h0m1-77h0m0 2h0m2 68h0m-2-32h0m2-21h0m-3 21h0m3 13h0m-5 16h0m6-29h0m-1 23h0m1-17h0m-1-3h0m-1 13h0m0 20h0m-2 9h0m6-19h0m-5 14h0m1-62h0m0 32h0m-1 15h0m2-42h0m1 31h0m2 10h0m-1-36h0m-1 35h0m0-21h0m2-6h0m-2 30h0m-2-36h0m4-12h0m0 23h0m4-1h0m-3-9h0m-1 38h0m0 2h0m1-33h0m-2-2h0m4 5h0m-2-1h0m3-20h0m0 34h0m-2-8h0m1-15h0m-2-12h0m3 5h0m-5 33h0m5-13h0m-2 22h0m-1 1h0m0-31h0m2 6h0m1-23h0m3 21h0m0-8h0m0 3h0m-6-42h0m3 34h0m-2-5h0m0 5h0m6-25h0m-1 32h0m-3-19h0m4-5h0m-2 9h0m-2-23h0m1 10h0m3 3h0m-2 23h0m4-25h0m-5 9h0m3 8h0m1 26h0m-4-54h0m3 6h0m-1 50h0m-2 3h0m6-25h0m0 2h0m-2-6h0m2 44h0m1-19h0m-1-31h0m-2-34h0m-2 43h0m3-64h0m-1-21h0m4-2h0m0 10h0m-1 1h0m1 36h0m-1-35h0m2 2h0m-2 68h0m-1-6h0m2 50h0m-3-25h0m4 14h0m-2-21h0m2 3h0m0 13h0m0-9h0m-1 20h0m0-5h0m4 10h0m-4 38h0m-1-38h0m1 9h0m2 0h0m-3 9h0m4 7h0m1-11h0m-1 17h0m2 0h0m1 9h0m-4-48h0m3 0h0m-1-4h0m0 31h0m-3-12h0m6-39h0m0 23h0m-4 26h0m4-18h0m0-4h0m-4 74h0m1 0h0m0-63h0m2-5h0m0 19h0m3-9h0m0-33h0m0 19h0m-1 15h0m0-7h0m1 52h0m0-11h0m-2-32h0m4-3h0m-5-4h0m6 35h0m-3 14h0m1 32h0m-1 17h0m-1-89h0m2 67h0m1-6h0m-1-102h0m-1 13h0m0 96h0m1 6h0m-3-17h0m6-7h0m1 28h0m-2-42h0m1 32h0m1 17h0m-2 3h0m3 6h0m1-9h0m-5 3h0m0 4h0m0 4h0m3 4h0m-4 2h0m2 3h0m1-4h0m0 14h0m4-29h0m-6 10h0m5 11h0m1-20h0m-3 17h0m0 24h0m-1-8h0m-1-5h0m1-5h0m1 13h0m0-16h0m4 7h0m1 16h0m-2 1h0m0-24h0m-3 8h0m2-2h0m0-21h0m-2 13h0m6-5h0m-3-12h0m3 19h0m-2-20h0m2 8h0m-1-8h0m1-11h0m1 28h0m-3-6h0m0-2h0m4-4h0m-5-11h0m2 23h0m4-19h0m-1 8h0m-1-3h0m3-30h0m-2 27h0m-4 3h0m6 2h0m-1 34h0m0-4h0m-3 1h0m-1-24h0m6 9h0m0 8h0m-3 0h0m0-5h0m-1 9h0m5-8h0m0-9h0m-3 2h0m1-1h0m0-10h0m-2 20h0m-1-5h0m2-4h0m0-10h0m0 2h0m3 8h0m1 0h0m-4 14h0m4-3h0m-2-29h0m1-5h0m1 9h0m-3-5h0m1-7h0m4 7h0m1-3h0m-1-15h0m0 8h0m2-8h0m-3-12h0m3 1h0m-3-1h0m2 3h0m0-5h0m1 53h0m-5-29h0m4-23h0m0-12h0m2 14h0m-3 9h0m0 9h0m1 4h0m0 2h0m-3 10h0m1 13h0m2-3h0m-2 11h0m6 3h0m-6 13h0m0-8h0m3 1h0m2 13h0m-4-22h0m3-17h0m4 10h0m0 3h0m-4 4h0m1 4h0m2 9h0m-1 3h0m3-24h0m-4-4h0m2 40h0m-2-37h0m1 27h0m-1-14h0m3-31h0m-1 24h0m-2 34h0m5-11h0m-1-18h0m-4-4h0m3 22h0m0-3h0m-1 6h0m4-2h0m1-6h0m-6-5h0m3-5h0m1 6h0m-1 50h0m4-15h0m-2-58h0m-2 5h0m3 20h0m-4 1h0m0-12h0m0-3h0m7 15h0m-4-8h0m1 19h0m3-3h0m-5-20h0m2-20h0m3 44h0m-1-23h0m2-2h0m-3 11h0m-2 12h0m5-10h0m1-19h0m0 9h0m-4 8h0m3-6h0m-5-17h0m0 0h0m3 31h0m-2 0h0m6-46h0m-1 10h0m-3 49h0m5-27h0m-5-6h0m2 3h0m2-12h0m-1 9h0m2 4h0m-3-5h0m1-15h0m-3-10h0m4 9h0m2 20h0m1-2h0m-1 6h0m-3 4h0m-1 6h0m2 10h0m3-20h0m-5 2h0m5 19h0m-4-12h0m1-14h0m-1-3h0m1 6h0m0 3h0m0-16h0m2 28h0m-1-27h0m1 23h0m1 17h0m1-8h0m-4-7h0m5 17h0m2-23h0m-5 21h0m5-10h0m-5-7h0m3-16h0m-2 4h0m1 3h0m0-9h0m-1 14h0m1-12h0m-1 6h0m2 17h0m3-9h0m-1-17h0m1 23h0m0 8h0m-4-19h0m3-5h0m-1-8h0m-1-18h0m3 3h0m-1 29h0m-1-11h0m1-15h0m4-9h0m-3 1h0m-2 5h0m3 4h0m0 1h0m1-20h0m2 4h0m-6 21h0m3-18h0m3 12h0m-4 1h0m5-21h0m-4 3h0m2 15h0m3-6h0m-6 9h0m3 12h0m3-4h0m-4 11h0m1-8h0m4 31h0m-5-6h0m1-19h0m4-4h0m0 16h0m-2 1h0m-2 7h0m1-5h0m3-2h0m-1-7h0m0 14h0m-2 36h0m2-20h0m3 5h0m1-4h0m-5 8h0m0 2h0m4-6h0m1-3h0m-5 3h0m1-13h0m2-2h0m1 13h0m-1 1h0m3-1h0m-3-24h0m3 14h0m-3-25h0m4-6h0m-2 22h0m2 5h0m-1 1h0m-1 14h0m1-22h0m2-13h0m-2-2h0m2 6h0m-4-17h0m5 2h0m-3 15h0m2 1h0m-1-1h0m3-3h0m-1 4h0m1 10h0m-4-20h0m4 4h0m-3 5h0m4-4h0m-5 3h0m6 13h0m-5-1h0m1 8h0m0-9h0m4-10h0m-5-1h0m2-6h0m4 17h0m-3-51h0m0 28h0m-2 8h0m3-11h0m-1 1h0m-2-9h0m3 5h0m-2 21h0m6-44h0m-2-13h0m-3 4h0m3-8h0m-2 1h0m1-16h0m2 17h0m-3-16h0m0 0h0m2 0h0m-2-3h0m4 17h0m2 5h0m-3-8h0m3 14h0m-3-21h0m0-20h0m3 6h0m-5 3h0m3-34h0m1 31h0m-1 7h0m4 12h0m-5-3h0m-1 6h0m2 18h0m1-43h0m3 10h0m-2-21h0m3-9h0m0-13h0m-1-1h0m-3-7h0m4 15h0m-3-5h0m0 17h0m-1 38h0m4 9h0m1-9h0m-2-26h0m0-25h0m0 17h0m2-19h0m1 8h0m-2 15h0m-1-34h0m2-30h0m-1 17h0m-1-2h0m2 8h0m0-19h0m-1-6h0m4 2h0m-4 26h0m3-27h0m-2-35h0m1 36h0m0-29h0m-1 30h0m4-22h0m-3 29h0m1-39h0m0-7h0m4 35h0m-2 1h0m-1-69h0m0 12h0m3 53h0m-1-17h0m1 4h0m1 10h0m-3-5h0m1 0h0m3-6h0m-5-5h0m5-3h0m0-4h0m0-17h0m-5 40h0m3 13h0m-2-31h0m0-2h0m0 39h0m1-34h0m4 11h0m-3 27h0m4-49h0m1 21h0m1-47h0m-3 52h0m2-15h0m-5-15h0m3-2h0m0 1h0m1-1h0m2 35h0m-4-30h0m1-6h0m2-24h0m-2-7h0m3 4h0m-3 11h0m5 17h0m0-3h0m-3-15h0m0-24h0m1 48h0m-1-3h0m0-24h0m3-35h0m-1 67h0m3-1h0m1-15h0m-6-12h0m3 22h0m0-31h0m-3 5h0m4-21h0m-2 3h0m1 8h0m2 15h0m-3 0h0m6 1h0m-3-8h0m-2 3h0m2 8h0m2 23h0m-2-11h0m2-25h0m1 25h0m-5 12h0m7-26h0m-3-5h0m-2 10h0m4 1h0m-4-16h0m5 6h0m-4 13h0m3-25h0m-4 0h0m3 23h0m2-12h0m-3 25h0m1-17h0m0-28h0m-2 28h0m1-9h0m4 41h0m0 4h0m-4-44h0m3-16h0m3-8h0m-5 56h0m4-9h0m-3-11h0m3 4h0m1-39h0m0 70h0m-4-40h0m2 16h0m0 27h0m0-27h0m4-1h0m-2 7h0m1-39h0m1 6h0m-5-37h0m7 21h0m0 19h0m-1 16h0m-5-47h0m3 51h0m-3-40h0m5 11h0m0 24h0m0-31h0m0 20h0m1-11h0m0-7h0m0 24h0m-2-17h0m2-8h0m0 56h0m1-31h0m-3 40h0m6 10h0m-1-1h0m-4-36h0m3 25h0m1-27h0m-2 12h0m4 8h0m-2 6h0m1 22h0m0-25h0m-1-12h0m1 17h0m1-7h0m-2 33h0m0-20h0m-2-20h0m1-7h0m2-68h0m-2-46h0m0 132h0m2-30h0m2 53h0m1-40h0m-1 29h0m2 0h0m-1-68h0m0 19h0m-3 38h0m2-9h0m0-41h0m0 27h0m-2 8h0m1 3h0m3-2h0m-3 27h0m1-24h0m-2 32h0m7-27h0m-5 8h0m5 26h0m-1-15h0m-3-32h0m-1 32h0m5-46h0m0 39h0m-1 25h0m3-66h0m-5 31h0m1 60h0m-2-16h0m7 7h0m-3 18h0m-2-24h0m3-4h0m-3 68h0m5-34h0m-5-30h0m3-13h0m-2 69h0m-1-12h0m6 22h0m-5 8h0m1 14h0m5-7h0m-1-72h0m1-10h0m-1 54h0m1 16h0m-4-12h0m1-25h0m4 22h0m0-42h0m-1 16h0m1 31h0m-1 32h0m-1-13h0m3 18h0m-3-4h0m-1 12h0m6-17h0m-4-28h0m1 23h0m3 10h0m-4 3h0m0-13h0m2-23h0m-2 15h0m0-21h0m3-5h0m-1 25h0m3 14h0m-3 3h0m1-31h0m3 15h0m-4 5h0m0 4h0m1-13h0m-2 10h0m7 9h0m-6-1h0m0-8h0m1 3h0m0 2h0m1 9h0m0-4h0m4-24h0m-2 0h0m-2-1h0m4-10h0m2 13h0m-2 22h0m1-1h0m-1-3h0m1-15h0m2-15h0m-3 33h0m3-8h0m1 7h0m-4-5h0m4-1h0m-1 9h0m0 1h0m-3 9h0m3 12h0m-4-48h0m3-6h0m2 38h0m0-16h0m-4 32h0m3-14h0m-1-5h0m0 0h0m0 1h0m2 19h0m-3 9h0m6-32h0m0 0h0m-3 8h0m4 4h0m-2-3h0m1 4h0m0-6h0m-3 9h0m-1-11h0m1 11h0m4-1h0m-2-14h0m4 8h0m-3 6h0m-1-27h0m3 4h0m0 30h0m-2-26h0m2 14h0m-1 1h0m-2 3h0m3 1h0m1-11h0m-4-7h0m4-3h0m-2 33h0m4-7h0m-3-8h0m0-7h0m0 9h0m4-9h0m-2 5h0m-3 22h0m6 14h0m0-3h0m-1 16h0m1-119h0m-5 110h0m3-11h0m-1-5h0m2-18h0m-3 17h0m4-13h0m-1-8h0m-3-12h0m1 20h0m3-13h0m-1 10h0m0-4h0m2 32h0m0-25h0m-1-29h0m3-10h0m0 3h0m-4 17h0m1 28h0m3-18h0m2 3h0m-6-4h0m6 10h0m-2 2h0m1 0h0m-3-2h0m0-10h0m2-7h0m3-11h0m-1 21h0m0 2h0m2-1h0m-5 15h0m3-7h0m-3-7h0m4 15h0m-5-22h0m5-9h0m-2 11h0m4 35h0m-3-44h0m0 22h0m-2-34h0m5 13h0m-5 10h0m4 7h0m2-20h0m-2-6h0m1 51h0m-1-36h0m1 14h0m0 3h0m1-33h0m-4-11h0m0 31h0m4-19h0m1 5h0m1-30h0m-2 33h0m-3-4h0m2-6h0m-1-14h0m3 33h0m-1-8h0m0-33h0m1 17h0m-2-7h0m3 18h0m2-9h0m-2-18h0m1 1h0m-4 27h0m3-1h0m4-12h0m-2 23h0m-2-13h0m-2-3h0m7 19h0m-1-14h0m1-14h0m-2 32h0m1 7h0m0-25h0m-2 3h0m2 2h0m2 2h0m-2 26h0m-1-10h0m4-12h0m-5-1h0m3 23h0m2-11h0m-1 11h0m-3-29h0m5 11h0m-5-5h0m0-13h0m5 28h0m-3 13h0m-1-27h0m1 6h0m4-12h0m0-2h0m-4 45h0m4-41h0m-3 16h0m1 14h0m4-23h0m-3 9h0m-1-17h0m4 14h0m-3-3h0m-1 1h0m3 9h0m-2-4h0m4 3h0m-4 20h0m1-24h0m-2 3h0m0-22h0m6 15h0m-4-8h0m1 27h0m-2-18h0m6 9h0m-6-5h0m1-19h0m3 8h0m0-1h0m-2 4h0m5-1h0m0-25h0m-5 40h0m4-15h0m-1 22h0m-1-13h0m-1-3h0m5-14h0m-5 10h0m1-18h0m1 0h0m0 18h0m0 2h0m5-22h0m-5 10h0m0-15h0m3 0h0m0-6h0m0 13h0m-1-3h0m2-16h0m1 3h0m0 30h0m-2-18h0m0 10h0m2 38h0m-1-49h0m4 11h0m-2-106h0m2 118h0m-4-19h0m1-23h0m-1-11h0m0 31h0m2 11h0m-3-8h0m0-8h0m5-8h0m0 11h0m-4 5h0m0 5h0m3-1h0m0-36h0m4 2h0m0 6h0m-1-53h0m-1 31h0m2-8h0m0-6h0m-2-20h0m-2 3h0m3-4h0m-2-1h0m-1-19h0m0 37h0m6-9h0m-6-3h0m6-20h0m-4 8h0m4 13h0m-1-21h0m-1-2h0m0 19h0m-1-33h0m2-2h0m2-6h0m-1 2h0m-3-10h0m0-16h0m6 13h0m-4-16h0m3 36h0m-4 9h0m3-92h0m3 44h0m-1 23h0m-2-39h0m0 21h0m1 7h0m2-1h0m-1-8h0m1 10h0m-4 14h0m3-39h0m-3-28h0m4 4h0m0 29h0m2 1h0m-6 34h0m5-4h0m0-13h0m-3 10h0m1-11h0m-1-1h0m0 3h0m4-6h0m1 17h0m2-19h0m-3 1h0m-1 16h0m0-30h0m4-19h0m0 27h0m-5-13h0m0 36h0m4-23h0m0 23h0m-1-32h0m4 30h0m-3 10h0m-1 3h0m2 15h0m-2-15h0m3 28h0m1-11h0m0 7h0m-2-15h0m3-9h0m-4-5h0m5 17h0m-5-32h0m0-20h0m4 51h0m2-5h0m-4-1h0m-1-12h0m5 22h0m-4 2h0m1-9h0m0-22h0m-2 41h0m4-4h0m-2-64h0m-1 18h0m1 35h0m-1-36h0m6-12h0m-5 11h0m1 27h0m4 8h0m1-13h0m-4-12h0m5 20h0m0-10h0m-2 4h0m0 32h0m1-21h0m-2-6h0m-2 17h0m6-50h0m-4 59h0m3-18h0m-3-22h0m0 51h0m1-40h0m1 4h0m-2-20h0m0 39h0m2-1h0m-2-12h0m6-24h0m1 32h0m-2 20h0m0-39h0m-3 0h0m4 6h0m2 9h0m-4-10h0m-2 21h0m6-49h0m-2 27h0m1 17h0m0-17h0m1 21h0m-4-12h0m4-41h0m-4 40h0m4-34h0m-3 35h0m-1 4h0m5 3h0m-4-9h0m5-23h0m-5 21h0m6-1h0m-4-7h0m0 30h0m2-16h0m-2 18h0m2-1h0m-2-10h0m4 10h0m-3-13h0m1-1h0m4 24h0m-2-2h0m1-10h0m-1-1h0m0 7h0m-2 11h0m0-6h0m6 11h0m-1-2h0m-3 48h0m-1-14h0m4 16h0m1-8h0m-4 23h0m2 3h0m-3-27h0m2 3h0m4 11h0m-5 0h0m3 9h0m3 14h0m-4-4h0m4 6h0m-1 1h0m0-19h0m-1 14h0m0-1h0m1 3h0m-1 11h0m-2-1h0m6-16h0m-5 6h0m3 22h0m2-12h0m0-2h0m-3 6h0m3-1h0m1-8h0m1-3h0m-6 2h0m5 20h0m-4-19h0m6-13h0m-5 46h0m3-7h0m-3 25h0m0 15h0m1-24h0m-1-12h0m1 44h0m6-24h0m-1 3h0m-1-20h0m-3 1h0m6 6h0m-1 13h0m-2-6h0m-1-8h0m1 3h0m2 9h0m-4-18h0m0 17h0m3-12h0m-1 8h0m4 6h0m-5-44h0m6 37h0m-1 6h0m0-5h0m1 1h0m1-4h0m0-17h0m-4 12h0m3-17h0m-3 11h0m2-26h0m4 20h0m-1-3h0m-2 4h0m2 2h0m-2-4h0m-1 0h0m1-17h0m1 18h0m3-2h0m-5 8h0m2-5h0m0-6h0m3 35h0m-2-12h0m-1-16h0m-2-6h0m5 6h0m-1 0h0m2 5h0m-5 11h0m0-25h0m1 0h0m0 14h0m3-19h0m0 15h0m-4 2h0m4-11h0m3 11h0m-1-4h0m-2 4h0m-1 4h0m0-13h0m1 16h0m1 10h0m1-19h0m-1-1h0m3 1h0m0 1h0m0-3h0m-3 9h0m3 5h0m-1-21h0m-1-8h0m2 25h0m-1-7h0m2 3h0m-3 23h0m0-35h0m0-2h0m-1 32h0m6-10h0m-4-33h0m2 12h0m1 3h0m-1 4h0m-3-5h0m6 4h0m-1-8h0m2-17h0m-2 20h0m-2 2h0m3 3h0m1-7h0m-4-51h0m-1 19h0m0 12h0m5-6h0m-3 13h0m2 4h0m-3-35h0m3 6h0m1 12h0m-4 5h0m5 3h0m-4 4h0m4-49h0m-3-6h0m4 49h0m-2-19h0m-2-7h0m4 18h0m-5 7h0m3 10h0m1-11h0m1 6h0m2 8h0m-6-9h0m7-8h0m-5-4h0m1 14h0m0 16h0m1 7h0m1-28h0m-2-11h0m0 25h0m4 3h0m-1-12h0m-3 8h0m6-25h0m0 14h0m-3-17h0m0 0h0m0-113h0m2 13h0m0 117h0m0 2h0m-2 36h0m-1-3h0m4-10h0m-3-11h0m4 20h0m-1-3h0m2 27h0m-4 2h0m0-19h0m3-11h0m1 19h0m2-53h0m-6 8h0m5 21h0m-3-3h0m4 1h0m-5 14h0m2 4h0m3-6h0m-1-7h0m-2-3h0m2 5h0m-2 4h0m-1-9h0m6 17h0m-1-23h0m0 3h0m1 22h0m-4 0h0m-1-9h0m5-7h0m-2 2h0m-1-4h0m2-5h0m1 12h0m-1-2h0m3-1h0m-2 24h0m1-7h0m-3-30h0m5 3h0m-3 20h0m3-3h0m-1-9h0m-4 24h0m2-14h0m3 10h0m-3 9h0m3-3h0m1-2h0m-2-19h0m1-12h0m1 9h0m-3 8h0m2-51h0m0-21h0m-3 39h0m2 5h0m0-20h0m-1-9h0m4 1h0m-3 4h0m5 4h0m0 30h0m1-13h0m-5-10h0m2-14h0m-1 8h0m-1-13h0m6 8h0m0-13h0m-4 19h0m0 12h0m-1-4h0m0-6h0m4-30h0m-2 0h0m-1 9h0m0-17h0m0 41h0m2-21h0m-1 21h0m4-4h0m-2 6h0m0 19h0m-2-6h0m6 18h0m-2-29h0m3 36h0m-4-19h0m3-10h0m0-6h0m-2-3h0m-1 4h0m4 0h0m-1-18h0m-2 3h0m1 14h0m1 1h0m0 2h0m2 13h0m-4-12h0m2-5h0m-1 7h0m4 5h0m1-16h0m-4 6h0m4-15h0m-3 30h0m-1-1h0m2-11h0m-1-16h0m0 27h0m0 2h0m4 1h0m-6 9h0m3-28h0m-1-14h0m5 26h0m-1-14h0m0-2h0m-2 4h0m1-15h0m0 10h0m3 19h0m-2-2h0m-3-6h0m3-7h0m2-15h0m-2 10h0m-1 22h0m3-8h0m-1-20h0m0 24h0m-1 1h0m1-24h0m5-6h0m-5 12h0m3-28h0m-3 11h0m5 18h0m-5 1h0m-1-14h0m4-5h0m2-18h0m-5 11h0m0-57h0m3-4h0m3 62h0m-1-13h0m1 10h0m-3-16h0m0-3h0m-1-52h0m5 15h0m0 23h0m0-20h0m-4 10h0m3-31h0m-3 28h0m3-8h0m3-3h0m-6-2h0m0 1h0m5-6h0m-2-33h0m0 31h0m-1-44h0m1 3h0m-1 30h0m2-10h0m0-8h0m1-7h0m-3 34h0m5-5h0m-4 3h0m4-31h0m-2-5h0m2 14h0m1-9h0m-4 9h0m6-24h0m-4-8h0m-1 21h0m0 24h0m2-7h0m-2-2h0m6-20h0m-2-4h0m-1-7h0m0-4h0m0 51h0m-1-44h0m-1 27h0m0 30h0m1 20h0m2-32h0m1 5h0m3-15h0m-1 20h0m-3-17h0m-1 7h0m2-35h0m-3 27h0m6 2h0m-1-19h0m-1 51h0m-2-20h0m-1 4h0m3-16h0m4-11h0m-2 6h0m1 8h0m1 0h0m-3 48h0m4-48h0m-1-34h0m-2-9h0m-1 26h0m1 12h0m1 2h0m2-50h0m-1 28h0m-1-6h0m0 19h0m5-22h0m-1 37h0m-1 13h0m1-30h0m-4 7h0m3-11h0m1-17h0m-3 10h0m2-2h0m3-33h0m-2 33h0m1 18h0m-3-32h0m2 32h0m3 6h0m0-18h0m-1-4h0m-4 0h0m5 36h0m-1-13h0m-1 12h0m0 5h0m4-60h0m-5-11h0m1 39h0m1 22h0m1-42h0m1 13h0m-2-5h0m2 7h0m-4-8h0m5-7h0m1-20h0m-3 23h0m0 3h0m-1-14h0m3-10h0m1-5h0m1-17h0m-1 28h0m0-36h0m-1 15h0m-1-9h0m5 33h0m-4-12h0m0 0h0m-2-15h0m2 26h0m2-20h0m1 50h0m-2 1h0m3-4h0m-5-1h0m1-27h0m3 11h0m1-1h0m2 26h0m-4 15h0m1-23h0m0 14h0m1-24h0m2 19h0m-2-11h0m2 15h0m0-37h0m-1 6h0m2 2h0m2-17h0m-7-5h0m4 37h0m-3 20h0m3-28h0m-2 17h0m6-9h0m-5-6h0m5-14h0m-5 4h0m1-18h0m1 63h0m2-32h0m-3-20h0m2 7h0m2 3h0m-5 18h0m3-55h0m0 5h0m1 10h0m-1 1h0m1 42h0m0-47h0m-1 12h0m5 10h0m-2-3h0m2 9h0m-1 3h0m1-36h0m-5 25h0m6-16h0m-4-7h0m3-5h0m2 64h0m-3-30h0m3 2h0m-2-4h0m1-3h0m-2 3h0m0 29h0m-2-7h0m5 2h0m-1-32h0m2-15h0m-3 34h0m0-5h0m0 6h0m-1 5h0m3-14h0m1 0h0m-2-1h0m-3-8h0m6 12h0m-4-20h0m-1 32h0m2-9h0m3 10h0m-2-1h0m-1 12h0m1-22h0m-1 12h0m2 25h0m0 13h0m-2-26h0m3 12h0m2 22h0m-4-44h0m3 7h0m1-20h0m-1 98h0m2-15h0m0-21h0m1-17h0m-1-25h0m0 14h0m1 12h0m-4 6h0m2 17h0m2 10h0m-3 71h0m2-26h0m-1 9h0m1-18h0m2-1h0m-4 21h0m1-4h0m3 21h0m0-2h0m1-22h0m-1 1h0m0 40h0m2-1h0m-1-21h0m-4 1h0m2-12h0m5-2h0m-2 18h0m-3-22h0m5 30h0m-5-3h0m5 13h0m-1 7h0m-2 2h0m4-11h0m-6 3h0m7 0h0m0 3h0m-3 5h0m2-2h0m1-4h0m0-6h0m0-10h0m-4 0h0m2 14h0m-1 3h0m1-15h0m-1 7h0m4-10h0m-2 6h0m-3-1h0m6-4h0m-3-12h0m2 3h0m-4 2h0m1-4h0m6-4h0m-4 19h0m2-6h0m-3 1h0m5-14h0m1 18h0m-4-20h0m-2 13h0m5-18h0m0 6h0m-3 20h0m2-20h0m-2 14h0m3-7h0m-1 2h0m3 14h0m0-9h0m-2 5h0m2-2h0m-5 20h0m3-19h0m-3 12h0m6-31h0m-5 3h0m5 14h0m-6-7h0m1 3h0m4-5h0m-1 22h0m3 0h0m-2-10h0m-3 5h0m1-16h0m0 9h0m6 10h0m-1-6h0m-2-4h0m-1 11h0m3-16h0m-4-7h0m5-7h0m1 0h0m-4 2h0m1 28h0m0-8h0m2 9h0m-4-7h0m6 14h0m-5 4h0m5-30h0m-3 10h0m-1-18h0m4-2h0m-1 2h0m-2-14h0m2-3h0m-2 0h0m5 9h0m0 9h0m-6-13h0m4-10h0m0 9h0m2 23h0m0-27h0m-5 7h0m2-8h0m2 21h0m-2-5h0m-1 9h0m1 9h0m4-7h0m-5-13h0m2 3h0m0 15h0m-1-1h0m3 6h0m0-18h0m2-14h0m-4 27h0m2 2h0m0-1h0m-2 8h0m5-26h0m0-19h0m-3 31h0m0-9h0m2 22h0m4-6h0m-5-24h0m2 17h0m-1-1h0m-1 19h0m4 0h0m-3-2h0m5 7h0m0 8h0m-5-23h0m2-9h0m1 4h0m3 30h0m-4-1h0m2-2h0m-2 5h0m4-25h0m-5 3h0m0 3h0m5-9h0m0-21h0m-1 7h0m-3 14h0m3-2h0m-1-14h0m3 3h0m0 1h0m-1-12h0m1 2h0m3-28h0m-1 5h0m-3 18h0m4-28h0m1 11h0m0 28h0m-3-17h0m1-14h0m-1 11h0m-1 5h0m3 12h0m-2-2h0m-1-13h0m3-1h0m-3-16h0m2 6h0m1-8h0m1 40h0m-4-10h0m1-20h0m2-3h0m2 29h0m-4-3h0m2-23h0m0 11h0m2 7h0m1 3h0m2-16h0m-4-1h0m-1 13h0m1-14h0m2-20h0m2 37h0m-4-13h0m5 13h0m0 12h0m-1-31h0m-4 10h0m4 26h0m-1 1h0m1-6h0m-2 2h0m1-5h0m-2 10h0m4-4h0m1 7h0m-2 3h0m4-8h0m0-1h0m-4-20h0m4 26h0m1-16h0m-4 0h0m-2-17h0m2 17h0m-1 1h0m2-3h0m1 7h0m-2 24h0m4-14h0m0 5h0m-5-6h0m2 30h0m0-25h0m0-14h0m3-6h0m-2 20h0m2-2h0m-3 5h0m0-3h0m3 14h0m-3 0h0m6-22h0m-4 23h0m4-11h0m1-1h0m-6 5h0m6 6h0m-3-4h0m0 0h0m1-6h0m1 6h0m0 6h0m-3-4h0m-1-15h0m5-12h0m-1 9h0m-2 10h0m2-12h0m-2 6h0m0-34h0m0-1h0m3 31h0m0-13h0m1-7h0m-3 4h0m5 34h0m-1-25h0m-5-2h0m4 16h0m-3-27h0m3 25h0m-1-6h0m5 10h0m-4-9h0m-2 21h0m6 5h0m-5-17h0m4 2h0m-1 18h0m0-29h0m0-7h0m-2 21h0m3-3h0m0 23h0m-1-14h0m4 6h0m-3-17h0m-1-4h0m5-10h0m-5 3h0m2 18h0m4-22h0m-1-13h0m-1 26h0m0-2h0m2-7h0m0 5h0m-2-1h0m0-8h0m1-15h0m-3 6h0m2 16h0m0 11h0m2-55h0m2 9h0m-5 7h0m3 5h0m2 10h0m-4-13h0m3-13h0m1 11h0m-2 4h0m3 1h0m-1 12h0m-3 12h0m1-31h0m0 18h0m3-29h0m-1-8h0m-1-23h0m4-5h0m-2-8h0m1 15h0m-1-2h0m1-1h0m1-45h0m-1 50h0m0 8h0m-1 4h0m-2 15h0m4-43h0m0-4h0m-1-9h0m3 1h0m0-28h0m0-11h0m2 33h0m-3-19h0m-2 57h0m4-3h0m-1-87h0m-3 14h0m1 35h0m5-40h0m1 1h0m-5 18h0m5 10h0m-6-39h0m3-6h0m2 4h0m-4 6h0m1-6h0m1 18h0m-1-32h0m3-6h0m1-10h0m1 36h0m0-25h0m1 13h0m0 10h0m-5-26h0m4-23h0m-1 19h0m3 25h0m-3-42h0m2 12h0m0-21h0m-2 39h0m2-60h0m2 25h0m-5-5h0m0 26h0m3-35h0m-1 19h0m0 8h0m2 1h0m-1-56h0m1 20h0m3 32h0m-6-12h0m2-7h0m0-20h0m5 20h0m-2-3h0m0-24h0m-2-3h0m2 75h0m-2 5h0m3-52h0m0-8h0m-4-9h0m1-7h0m4 10h0m0-5h0m1 10h0m0-17h0m1 34h0m-1-21h0m0-18h0m-2-19h0m4 53h0m-6-11h0m3 22h0m3-31h0m-2 3h0m3-23h0m-3 33h0m0-4h0m2 37h0m2-20h0m-2 7h0m0-16h0m-3 7h0m1-12h0m4 26h0m-1-5h0m3-14h0m-5 20h0m-1-46h0m4 7h0m-1 0h0m3 19h0m-4-6h0m2 16h0m-2-17h0m4-25h0m-1 2h0m-1 31h0m-2 4h0m4-38h0m2 14h0m-4 15h0m3-9h0m-5-4h0m5-15h0m3 18h0m-6 17h0m3-37h0m-3 25h0m3-1h0m0 18h0m1-28h0m3 40h0m-4 35h0m-1-88h0m2 12h0m-1 36h0m-1-35h0m4 13h0m2-3h0m-1-2h0m1 5h0m-5 29h0m6-2h0m-2-9h0m-2-41h0m4 21h0m-2 6h0m-2-23h0m2 31h0m0 22h0m-2-6h0m0 26h0m3-27h0m1 15h0m3-20h0m-6-14h0m3 37h0m-2-40h0m0 34h0m2 36h0m2-54h0m0-28h0m-3 54h0m2-3h0m-1 11h0m4-29h0m-2 17h0m-2-11h0m6 1h0m0-18h0m-6-7h0m5-8h0m-2 45h0m1-7h0m-1-10h0m0 15h0m-1 0h0m-1-12h0m4-41h0m-2-10h0m2 77h0m-1-32h0m3 19h0m1-7h0m0 11h0m0-18h0m0 2h0m-5 1h0m1-14h0m3 39h0m-1 7h0m-2 16h0m6 19h0m-5 12h0m6-82h0m-5 45h0m-1 21h0m6-10h0m0-8h0m-5 26h0m1 3h0m3-35h0m0 5h0m0 22h0m-2 13h0m1-20h0m3 9h0m0-18h0m1 3h0m-4 35h0m2-5h0m1 0h0m-1-5h0m3-2h0m-2-13h0m3 20h0m-6 0h0m1 26h0m5-14h0m0-12h0m-4 18h0m0-8h0m5 23h0m-2-2h0m2-5h0m-1-10h0m1-1h0m-4 27h0m2-8h0m1 3h0m2-48h0m-2 13h0m1 9h0m3-6h0m-3 24h0m3-12h0m0 5h0m-4 11h0m-1-39h0m2 18h0m3 5h0m-3 2h0m-1 16h0m0 7h0m3 13h0m-3 15h0m1-4h0m1-10h0m0-8h0m0 5h0m4 36h0m-3-15h0m-1-16h0m2-3h0m0-7h0m0 3h0m2-52h0m3 20h0m-1 8h0m-1-10h0m0 21h0m-1 3h0m1 31h0m-3-2h0m3-6h0m0-11h0m2 9h0m-1-4h0m2 21h0m-5 35h0m6-6h0m0-36h0m-5-7h0m2 6h0m-1-4h0m-1-13h0m6 20h0m1 17h0m-5-34h0m3 8h0m-4 7h0m0 2h0m3-1h0m3-12h0m-2-9h0m-1 0h0m5 0h0m-4-2h0m3 31h0m-4 10h0m1-8h0m2-14h0m-4 0h0m2 7h0m4-3h0m-4 1h0m4-5h0m-4 6h0m2 9h0m-2-17h0m0 16h0m4 0h0m0 5h0m-2-18h0m1 8h0m2 6h0m0 20h0m2 10h0m-3-31h0m1-17h0m0-6h0m-1 9h0m4 31h0m-4-8h0m4-4h0m-1-7h0m0 57h0m2 2h0m-1-60h0m-4 20h0m3 29h0m1-13h0m1 16h0m-4-21h0m3-23h0m3-34h0m-5 35h0m3 10h0m-2 10h0m2-11h0m-2 6h0m1 0h0m4-2h0m-3 7h0m-1-18h0m1 12h0m4-20h0m-4 0h0m2 14h0m0 11h0m-3-6h0m1-12h0m0-6h0m3 6h0m-3-2h0m5 14h0m-2 14h0m-2-41h0m3 11h0m2 7h0m0 0h0m-4-3h0m5-8h0m0-5h0m1-2h0m-2 2h0m-3-2h0m5 16h0m-6-16h0m5 12h0m1-14h0m-6 7h0m1 18h0m2-18h0m0 12h0m1-4h0m3 13h0m1-6h0m0-21h0m-2 6h0m2 17h0m-5-1h0m1-29h0m6 16h0m-6 7h0m0 11h0m0-20h0m5-5h0m-1 50h0m-2 3h0m3-26h0m-4-4h0m4 0h0m-3 12h0m0 0h0m5-11h0m0 14h0m-3-132h0m-1 108h0m4 14h0m1-14h0m-3 20h0m-2-10h0m3-8h0m-3 18h0m5 2h0m1-12h0m-1-22h0m0 22h0m1-16h0m-4 15h0m4-14h0m-2 10h0m1-10h0m1 12h0m-2 5h0m4-16h0m-1-7h0m1-12h0m1 29h0m-1-35h0m1 27h0m-3 1h0m3 3h0m-1-12h0m-3 1h0m4 0h0m-1-3h0m0-12h0m1 2h0m0 19h0m2-13h0m0 9h0m0-20h0m1 1h0m-4 25h0m0-32h0m-1 43h0m0 22h0m7-22h0m-4 6h0m3 4h0m-1-4h0m-3 7h0m1-15h0m0-7h0m3 9h0m-4 8h0m5-71h0m0 34h0m-4 21h0m1-3h0m4 27h0m-1-6h0m-1 16h0m3-40h0m1-3h0m-4 19h0m0-8h0m2-23h0m2 19h0m-2-5h0m3-4h0m-3 31h0m2-17h0m2 10h0m-5 14h0m0-28h0m5 11h0m-4-34h0m1 20h0m0 6h0m-1 16h0m6-1h0m-2-13h0m-4-8h0m6 9h0m-4-14h0m2-16h0m1 23h0m2-17h0m-2 4h0m-1 1h0m0 9h0m-1-8h0m5 4h0m-1 23h0m1-4h0m-1-23h0m-3 4h0m2-7h0m-1 10h0m0 1h0m5 3h0m-3-32h0m1 29h0m0-6h0m-1 15h0m1-3h0m-2-37h0m2 31h0m-3 6h0m5-22h0m-3 5h0m5-16h0m-3 2h0m0 22h0m2-47h0m2 3h0m-4 27h0m3-2h0m0-9h0m2 15h0m0-16h0m-2-23h0m3 8h0m-4-25h0m-1-23h0m5 45h0m-1-11h0m-2-21h0m3 32h0m-3-37h0m0 39h0m2 8h0m-2-41h0m5 7h0m-3-7h0m1-23h0m-1-25h0m2 5h0m-2 32h0m-1 10h0m5-19h0m-3-6h0m2-4h0m1-35h0m1-8h0m-5-2h0m6-3h0m-5-3h0m3 5h0m1-8h0m-1 3h0m3-2h0m-4-3h0m2-32h0m0 14h0m-1 21h0m-2-16h0m5-25h0m-1 41h0m0-43h0m-1-16h0m-2-9h0m0-35h0m5 41h0m1 1h0m1 16h0m-4-16h0m-1 37h0m0-37h0m4 15h0m2-43h0m-4 22h0m3 16h0m-1-21h0m-3 10h0m1-14h0m2-7h0m-3 9h0m5-19h0m-2 18h0m3-29h0m-3 139h0m1-136h0m3-6h0m-2 23h0m3 0h0m-4-16h0m-1 17h0m1-34h0m1-12h0m-2 15h0m2-10h0m3 34h0m-2-3h0m-1-37h0m-1 14h0m5-1h0m-2-48h0m-1 38h0m0 6h0m-1-10h0m4 0h0m-4-13h0m0 19h0m3 35h0m1-33h0m2 14h0m-3-54h0m-1 49h0m5 41h0m-1-52h0m1 7h0m-1 3h0m-4-5h0m4 56h0m0-48h0m2 21h0m-2-16h0m3 18h0m-6 21h0m4 18h0m-3-34h0m5-1h0m-4-29h0m5 14h0m-1-10h0m-4 36h0m3 26h0m-3-44h0m5 30h0m1-6h0m-4 6h0m4 24h0m-2-38h0m-2-19h0m6 27h0m-4-2h0m2-48h0m-1 11h0m-3 8h0m3 64h0m4-43h0m-2-10h0m1-35h0m-3 45h0m0-22h0m-1 0h0m5 21h0m0-11h0m1-13h0m0-12h0m0 8h0m0-16h0m-2 9h0m4-12h0m-5-17h0m0 55h0m0-4h0m0 6h0m6-9h0m-2-22h0m1 11h0m0 22h0m-1-29h0m-3-14h0m2 30h0m3 31h0m-2-56h0m-2-12h0m1 89h0m0-47h0m4 9h0m-4-32h0m0 76h0m5 3h0m1-6h0m-5-25h0m4 50h0m-4-25h0m3-5h0m-2-22h0m1 3h0m-2 14h0m4-6h0m1 38h0m-2-8h0m2-1h0m-4-1h0m4 21h0m3-10h0m-7 9h0m3-2h0m3 8h0m0-29h0m1 52h0m-4-6h0m-2-74h0m4 47h0m-3-1h0m3-18h0m-2 15h0m1 39h0m3-82h0m-4 26h0m0 32h0m0-34h0m3 11h0m1 11h0m0 12h0m3 15h0m-4-21h0m-1 7h0m4-12h0m0-1h0m1-4h0m-4 13h0m5-2h0m-6 1h0m3 33h0m2-21h0m-4 15h0m0-48h0m5 29h0m-4 36h0m4-29h0m-4 22h0m5-4h0m1 8h0m-5-3h0m5 7h0m-2 5h0m1-23h0m0-89h0m-1 100h0m3 10h0m1 26h0m-5-28h0m1 70h0m-1-31h0m-1 31h0m3-8h0m1 3h0m-2-5h0m2 4h0m2 16h0m1-12h0m-1 29h0m1-9h0m1 12h0m0-5h0m-3-5h0m-2 26h0m6 12h0m1-30h0m-1 12h0m0 13h0m0 11h0m-2-32h0m3 12h0m0-1h0m-3 3h0m2 20h0m0 5h0m-3-3h0m5 34h0m-3-15h0m1-40h0m2 11h0m-1 14h0m1 4h0m-1 12h0m3-14h0m-1 5h0m-2-4h0m1 10h0m-3-3h0m4 9h0m-2 3h0m5-16h0m-4-8h0m0-2h0m2 11h0m0 6h0m-3 10h0m2 8h0m1 8h0m3-20h0m-6 3h0m1-6h0m2-2h0m2-5h0m0-3h0m-3-18h0m1 21h0m3-4h0m-4 14h0m6-7h0m0 7h0m-4-6h0m3 20h0m-3-14h0m0 2h0m0 13h0m1-39h0m0 1h0m1 29h0m0-22h0m2 7h0m0 11h0m0-1h0m1 12h0m1-9h0m-4-9h0m3-19h0m-2 8h0m1-7h0m2-4h0m-3-17h0m4-3h0m1 28h0m-4 5h0m3-7h0m1 6h0m0 8h0m-2 2h0m1-14h0m3 0h0m-6-4h0m6-30h0m-2 15h0m-4 1h0m2 23h0m3-5h0m-1-6h0m0 25h0m1-5h0m-2 17h0m3-18h0m0 31h0m-1-25h0m3-6h0m-2 18h0m-2-19h0m2 5h0m-1 10h0m0-2h0m4 6h0m0-1h0m1-18h0m-1-30h0m2 6h0m-2 3h0m0 21h0m-1 8h0m-2 8h0m4-15h0m1 5h0m1-18h0m-2-4h0m-2 24h0m3-6h0m-1 10h0m3 6h0m-3-4h0m-1 25h0m1 12h0m0-28h0m-2-20h0m3 14h0m1-13h0m1-5h0m-4 18h0m4-37h0m-2 5h0m4 49h0m-3-9h0m3-30h0m0 5h0m-5 4h0m2-17h0m0 27h0m5-18h0m-5-2h0m5 23h0m0 8h0m-5-23h0m3-1h0m3-5h0m1-28h0m0 7h0m-6-9h0m1 25h0m2 22h0m-1-31h0m4 13h0m0 16h0m-4-15h0m5-32h0m-2 12h0m2-3h0m-5 20h0m0-28h0m5-17h0m0 21h0m1-13h0m1 8h0m-5-11h0m1 14h0m0-3h0m3-3h0m-3 2h0m1-3h0m1 21h0m-2-3h0m2-1h0m2-1h0m2-10h0m-3-7h0m1 7h0m3-13h0m-3 16h0m2-8h0m-4 9h0m4 28h0m-3-40h0m0 4h0m1 4h0m5-5h0m-6 10h0m5-3h0m1-2h0m-5 24h0m3-40h0m-2 0h0m0 7h0m4-3h0m0 10h0m0-12h0m-2 9h0m3-16h0m-1 58h0m-4-22h0m5-30h0m-2 4h0m3 32h0m-1-20h0m-4 3h0m2-20h0m3 12h0m-5-2h0m7-14h0m-1 15h0m-4-12h0m0-4h0m4 8h0m-4 18h0m2-8h0m-2-2h0m6 6h0m-5 13h0m5-22h0m0 5h0m0 10h0m-4 4h0m4-6h0m-3-16h0m-1-20h0m4 5h0m0 35h0m-3-1h0m1-8h0m3-26h0m1 8h0m-4 11h0m0-1h0m3-1h0m-4 7h0m3-22h0m-1 17h0m4 4h0m-4 2h0m2-11h0m1 6h0m1-12h0m-3 3h0m5 6h0m-4 2h0m4 25h0m-4-34h0m0 15h0m0 4h0m5 5h0m0-8h0m-2-15h0m-2-13h0m4 33h0m0 11h0m-4-30h0m5 19h0m-5-19h0m2 2h0m2 6h0m-2 5h0m4 0h0m-3 8h0m2-12h0m2 8h0m-6-1h0m1 3h0m2 17h0m2-64h0m-1 10h0m1 21h0m-1-1h0m3 6h0m0-13h0m1-15h0m-3-4h0m0 40h0m0-52h0m2 10h0m-2 5h0m4-5h0m-3 13h0m3-156h0m-5 164h0m2-63h0m4 10h0m-5 45h0m6-38h0m-7-4h0m1 25h0m1-13h0m5-10h0m-1 11h0m0-61h0m2 21h0m-3 47h0m0-10h0m-2 0h0m1-32h0m3-5h0m2-14h0m0 13h0m-1 5h0m0-44h0m0 28h0m-4-4h0m2 10h0m0-43h0m-1 24h0m4 16h0m0-14h0m-4 16h0m4-20h0m0 17h0m-2-18h0m-1-18h0m3 30h0m2 2h0m-2-29h0m-2 2h0m1 10h0m1 22h0m2-48h0m0 11h0m-4 5h0m5 13h0m0-17h0m-2 9h0m-1 5h0m1-29h0m3 29h0m0-43h0m-1 24h0m2-1h0m-2-37h0m-1-29h0m-1 30h0m5 18h0m-3-22h0m4-18h0m1 11h0m-5-19h0m3 8h0m2-19h0m-4-22h0m-1 32h0m1-13h0m2-14h0m0-25h0m1 14h0m-1 27h0m-2-13h0m5 14h0m1-17h0m1-36h0m0 27h0m-1 16h0m-4 2h0m5-30h0m-3 36h0m2-11h0m2-11h0m-4-20h0m5-16h0m0-34h0m0 32h0m-4 27h0m-2 21h0m2-22h0m3 6h0m2 37h0m-3-31h0m3-38h0m-4-11h0m4 26h0m-2-13h0m3-10h0m-1 34h0m-3 10h0m3 1h0m-1-2h0m2 2h0m1 52h0m0-51h0m-1 1h0m-2-18h0m4-26h0m-3 50h0m-1 10h0m1-52h0m-2 3h0m7 27h0m-1 17h0m1 23h0m-2-37h0m-2-7h0m-1 50h0m0-54h0m1 33h0m4-8h0m1-24h0m-5 21h0m0 3h0m4 39h0m0-26h0m-3-33h0m5 18h0m-5-6h0m3-2h0m2-30h0m-5 48h0m5-17h0m1-6h0m-3 14h0m2-34h0m-1 40h0m-2-8h0m3 9h0m2 14h0m-3-44h0m-1-1h0m2-3h0m-1 59h0m-2 1h0m1-77h0m5 65h0m-4-63h0m-1 5h0m5 25h0m0 5h0m-1-6h0m3 25h0m-3-10h0m1 7h0m3 13h0m0-39h0m-1 21h0m-4-10h0m0 36h0m4-21h0m0 9h0m2-45h0m-1 46h0m0 14h0m2-21h0m-4 7h0m0-28h0m5 32h0m-1-4h0m-4-2h0m4 12h0m-3-3h0m-1-2h0m3-21h0m1 3h0m0 51h0m-3-30h0m1 14h0m0-14h0m2 10h0m-1-2h0m3 11h0m-3 3h0m1-21h0m5 1h0m-3 14h0m-2 33h0m5-55h0m0 13h0m-5 37h0m2-9h0m1 15h0m1-17h0m-3 15h0m1-2h0m2 5h0m1 0h0m-4 2h0m6 25h0m-3-19h0m1 0h0m-2-6h0m1 32h0m0-24h0m3 10h0m-3 38h0m1-21h0m-2 4h0m4 7h0m0-10h0m-3-2h0m6 21h0m-3-2h0m-2-11h0m3-16h0m1-1h0m-4 49h0m4 40h0m-4-25h0m4 5h0m1 22h0m-2-2h0m-1-4h0m4-20h0m-5 33h0m4 0h0m0 27h0m3-53h0m-4 11h0m-1 3h0m3 21h0m0-26h0m-3-28h0m4 44h0m0-13h0m1 13h0m-3-8h0m2-16h0m1 11h0m-1-38h0m0 31h0m3 46h0m-3 7h0m4 4h0m-1-36h0m-2 15h0m3 13h0m-3-14h0m-1 3h0m-2 20h0m3-28h0m-1 12h0m-1 25h0m7-5h0m-4-29h0m2-4h0m-3 19h0m6 2h0m-6-9h0m1 3h0m-1 0h0m1 7h0m5 11h0m-1-27h0m-1 1h0m-2 5h0m1 20h0m2 10h0m1-21h0m-2 26h0m0-17h0m2 18h0m-2-1h0m-1 7h0m2-11h0m-2 40h0m4-6h0m-1-25h0m-2 0h0m3 3h0m-3 9h0m0-23h0m7 5h0m-3 5h0m3-33h0m-4 54h0m3 9h0m0 52h0m2 10h0m-4-87h0m3-10h0m-1 4h0m-1-5h0m-2 1h0m6 14h0m-3-12h0m3-12h0m-4 10h0m5 16h0m0-23h0m-5-8h0m2 19h0m4 1h0m0 3h0m-1-2h0m1-15h0m0 19h0m-4 4h0m0-7h0m1-6h0m-1 13h0m5-22h0m0 8h0m0 16h0m0-9h0m-2-11h0m3-4h0m-3 18h0m2-1h0m3-6h0m-1 11h0m1-21h0m-4 33h0m2-20h0m-3-10h0m0 1h0m2 17h0m-2-4h0m0-8h0m7 5h0m-2-9h0m0-7h0m-2-2h0m4 23h0m1-11h0m-3 12h0m3-37h0m-4 1h0m1 9h0m-1 13h0m-1-11h0m1-7h0m1-3h0m1 2h0m3-5h0m1 8h0m-1-2h0m-3 16h0m-2-12h0m4-19h0m2 15h0m-4 5h0m-1 8h0m7-18h0m-4 17h0m-2-20h0m1 17h0m2-9h0m3 22h0m1-27h0m-2 25h0m-3-14h0m3-12h0m3 20h0m0-20h0m0-1h0m-6 20h0m2 12h0m-1 4h0m1 18h0m0-18h0m4-15h0m-1 46h0m0-11h0m-3-34h0m3-5h0m2-16h0m-1 7h0m0 13h0m1 11h0m-5 5h0m7-9h0m-5-3h0m4 32h0m1 8h0m0-53h0m-4-12h0m2 12h0m1-8h0m0 24h0m-3-7h0m0-22h0m5-11h0m0 3h0m-3-5h0m0-15h0m2 9h0m-2-16h0m2 40h0m2-18h0m-2-1h0m4 11h0m0-2h0m-2-2h0m-4-28h0m1 56h0m1-15h0m2 2h0m1-8h0m-1-9h0m-2-19h0m-1 5h0m2 29h0m1-29h0m1 17h0m2-21h0m-1-24h0m-3 28h0m6 21h0m-1 13h0m2-7h0m-2-6h0m2 10h0m-1-13h0m0-34h0m-1 0h0m1 50h0m-2-16h0m4 7h0m-1-7h0m-5 6h0m2-10h0m1-10h0m1 3h0m-3 10h0m7 11h0m-6-27h0m2 25h0m0-1h0m1 3h0m3-31h0m1 13h0m-4 11h0m3-10h0m-4 3h0m5 12h0m-3-12h0m2 11h0m3-19h0m-3-1h0m0 5h0m-2 2h0m4 1h0m-1 5h0m-2 40h0m4 4h0m-2-40h0m-2-8h0m2 11h0m-1 3h0m3-6h0m0-2h0m-1 2h0m-1-9h0m-1 21h0m2-16h0m3 20h0m-5-2h0m1-39h0m1 12h0m1 0h0m1 10h0m1-12h0m-4 2h0m3 38h0m0-5h0m-3-19h0m3 9h0m2-6h0m-2 7h0m4-7h0m-1 38h0m-2-44h0m-2-2h0m3 23h0m-1-34h0m0-10h0m2 10h0m-2 5h0m4-12h0m-1 12h0m0-32h0m-3 4h0m0-10h0m2-10h0m-1 5h0m0-14h0m5 17h0m-1-18h0m-2 11h0m-1-38h0m6 10h0m-5-17h0m5 32h0m0 2h0m1-7h0m-4-23h0m-2-14h0m5 6h0m-3-23h0m5 22h0m-5 25h0m-1-27h0m3 42h0m-3-67h0m1-8h0m5 18h0m-4-20h0m5 35h0m-2-5h0m1-42h0m-3 42h0m1-11h0m0-15h0m-2 8h0m2-23h0m0 6h0m2-37h0m-1 15h0m2 4h0m1-29h0m-5-15h0m1 39h0m3 8h0m-1 6h0m0-25h0m3-30h0m-4 26h0m1 18h0m4 23h0m0-37h0m-5 21h0m7-14h0m-3-23h0m0-40h0m2 31h0m-4 21h0m2-26h0m2 36h0m-3-32h0m4 8h0m-4-33h0m-1-6h0m4 51h0m0-20h0m1 5h0m-1-13h0m-1-12h0m1 26h0m1-10h0m3 2h0m-5 5h0m1 7h0m3-10h0m-3 18h0m1-55h0m3 35h0m-4-18h0m1 39h0m0-26h0m2-7h0m-2-1h0m1-10h0m3 4h0m-1 7h0m1-1h0m1 12h0m1 30h0m-3-2h0m2-43h0m-1 18h0m2-41h0m-4 6h0m5-3h0m-4 3h0m-1 1h0m1 9h0m-1 30h0m2-31h0m2-15h0m-2-12h0m1 69h0m2 12h0m1-67h0m-3 6h0m-1 1h0m3 13h0m0 5h0m1-24h0m-2 12h0m4-2h0m1-8h0m-1 23h0m-3 12h0m0-39h0m-1 33h0m6-74h0m-2 65h0m3-49h0m-2 11h0m-3-22h0m-1 26h0m3-10h0m-2-4h0m3 16h0m-1-1h0m2 35h0m1-52h0m0-24h0m-2 104h0m2 37h0m-2-104h0m1 28h0m1-5h0m-2-12h0m2 1h0m-1-16h0m1 44h0m0-23h0m-1-7h0m3-34h0m0 29h0m1 0h0m-4 26h0m2-32h0m-3 8h0m4 50h0m0-46h0m1 33h0m0-2h0m3-11h0m-6 24h0m3 7h0m0-69h0m1 25h0m-2 4h0m0 35h0m0 18h0m0-31h0m5 4h0m1 7h0m-2 20h0m-2-48h0m1 40h0m2-25h0m-5-4h0m4 37h0m-2-17h0m4-11h0m-4-2h0m3 15h0m0 40h0m2-23h0m-5-8h0m0-25h0m1 22h0m5-19h0m-4 28h0m1 9h0m4-8h0m-2 2h0m1-19h0m-4 15h0m6 13h0m-1-30h0m-4 6h0m1-8h0m2 0h0m3 2h0m-3 5h0m3 46h0m-4-7h0m3 5h0m-3-19h0m-1-10h0m3 41h0m-2-31h0m-1 26h0m1 6h0m5 10h0m-3-2h0m2 8h0m3-11h0m-4-6h0m0 17h0m3-26h0m-4 39h0m2-45h0m0 62h0m1 3h0m-2-49h0m3-17h0m0 72h0m-1-20h0m3 10h0m-1 5h0m-2-29h0m1 7h0m3 29h0m-4 28h0m0-40h0m1 25h0m3 2h0m-2 8h0m-1 13h0m4-30h0m-3-8h0m4 67h0m0-18h0m1-14h0m-1-4h0m2 57h0m-1 8h0m-2-48h0m1 5h0m0 51h0m0-19h0m1-31h0m-2 35h0m2-7h0m2-12h0m-3-12h0m1 35h0m3-48h0m0 21h0m-1 23h0m-3-17h0m1 22h0m2 0h0m0 1h0m2 6h0m-4-18h0m-1-3h0m1 13h0m5-26h0m-5-8h0m6 13h0m-6-4h0m4 22h0m1-36h0m1 28h0m-1 6h0m-4-22h0m2 16h0m2 0h0m-2-11h0m-1 22h0m3-17h0m1-30h0m-1 0h0m-2 32h0m4 17h0m-4-1h0m3-14h0m0 5h0m-2 7h0m5 6h0m-5 1h0m4 25h0m-3 7h0m5-39h0m-3 16h0m2 12h0m-4-10h0m3-17h0m1 10h0m0-2h0m1 3h0m1 15h0m-4 2h0m0-29h0m3 28h0m0 6h0m0-46h0m3 3h0m-4 25h0m2 21h0m1-29h0m2-7h0m0-1h0m-5 20h0m5 1h0m-2-15h0m2-3h0m1-10h0m-1-4h0m2 9h0m-5-16h0m-1-2h0m2 10h0m-1 7h0m2 2h0m1-21h0m0 17h0m-1 3h0m-1-27h0m5 17h0m-5 3h0m1-9h0m4-10h0m-2 23h0m-1-7h0m2 8h0m-3-7h0m3-8h0m-3 8h0m4 6h0m0-19h0m-1 13h0m3 15h0m-1-7h0m-3-13h0m2-7h0m4 19h0m-5-8h0m0 3h0m5 21h0m-4-16h0m1 13h0m2 2h0m-3 17h0m1-20h0m4 4h0m-3 6h0m4 11h0m-3 0h0m-3-9h0m1 30h0m3-24h0m-2-9h0m3 11h0m0-27h0m1-10h0m1 6h0m-3 44h0m-1 4h0m1-24h0m0 21h0m0-2h0m1-9h0m-1 3h0m0-26h0m0-12h0m5 20h0m0 10h0m-1-13h0m-1-4h0m3-27h0m0 11h0m0-12h0m0 4h0m-2 18h0m2-16h0m-1 17h0m0-2h0m2 4h0m-4 0h0m5 10h0m-4 7h0m1-36h0m-2-11h0m2 38h0m3-43h0m0 26h0m-3 1h0m4-6h0m1-10h0m-4 6h0m3 18h0m2 4h0m-2-9h0m-3-4h0m2 6h0m3 8h0m1 16h0m-3-1h0m-2-34h0m3 25h0m0-9h0m-1 0h0m0-13h0m3 6h0m-2 11h0m-3-25h0m3 2h0m1 18h0m-1 24h0m2-22h0m1 1h0m-4-17h0m3-4h0m1 23h0m2 5h0m0-21h0m-5-3h0m0 13h0m4 6h0m0-12h0m-1-4h0m1 3h0m-1 12h0m3-14h0m-3 19h0m3 23h0m1-32h0m-5-5h0m3 23h0m0-15h0m0-18h0m3 16h0m-5 5h0m4 0h0m0-23h0m-3-2h0m2 8h0m1-14h0m3 4h0m-2 4h0m-1-3h0m2-125h0m-4 112h0m0 8h0m3-6h0m-1 16h0m1-4h0m2 10h0m-3-12h0m0-7h0m5-7h0m-3 32h0m-1 8h0m0-22h0m2-4h0m-2 5h0m1 12h0m1-11h0m2-30h0m0 11h0m3 3h0m0 28h0m-6-5h0m4-20h0m-4 7h0m7 1h0m-6 14h0m6-4h0m0-11h0m-4-8h0m3 22h0m-1-7h0m-2 8h0m0 7h0m0 3h0m6-7h0m-5-2h0m2-16h0m2-6h0m0 91h0m-5 2h0m2-63h0m5 3h0m0-17h0m-2-3h0m3 10h0m-2 35h0m0 1h0m-3-26h0m6 8h0m-3 7h0m2-9h0m-2-29h0m-1 27h0m2 3h0m-2-15h0m4 8h0m-4 0h0m5-26h0m0 10h0m-5 4h0m6 5h0m0-8h0m-4-27h0m5 11h0m0-7h0m-3-19h0m-3-36h0m6 31h0m-3-6h0m0 21h0m4-35h0m-4-2h0m-2 3h0m7-13h0m0 21h0m-2 18h0m1-34h0m-5-15h0m3-1h0m0 12h0m-1-2h0m-1 12h0m2-20h0m0-10h0m2-9h0m1-1h0m-3 14h0m2-31h0m1-21h0m-3 20h0m3-11h0m-2-17h0m1-28h0m0 49h0m3 41h0m-3-47h0m-2-18h0m6-1h0m-5-1h0m1 5h0m3 3h0m2-27h0m-2 26h0m0-53h0m2 20h0m2-42h0m-5 49h0m5-4h0m-3-32h0m-3 41h0m3 10h0m3-61h0m-5-19h0m5-1h0m0 28h0m1-11h0m-2 27h0m2 26h0m1-49h0m-4 1h0m2-40h0m-3-5h0m5 17h0m-1 0h0m3-9h0m-3-10h0m1 11h0m-2 24h0m-1-26h0m0 20h0m0-43h0m6 18h0m-4 51h0m1-46h0m0 0h0m3-85h0m-5 57h0m4-27h0m-3 2h0m2 24h0m-2-26h0m5 19h0m-4-57h0m2 16h0m-2-10h0m0 54h0m4-10h0m-4-56h0m3 50h0m2-17h0m-4-26h0m5 23h0m-3 20h0m2-63h0m3 64h0m-6-6h0m6-30h0m-5 12h0m1-4h0m-1-37h0m0 18h0m5-5h0m0-7h0m-1 25h0m2-5h0m-3 4h0m1-39h0m2 16h0m-4-11h0m2 5h0m1-10h0m-3-9h0m2-24h0m-1 55h0m3-2h0m-1-5h0m-2 34h0m1-1h0m2 10h0m1-18h0m0-23h0m-2 49h0m0-22h0m3 13h0m2-7h0m-1-42h0m0 24h0m-4-15h0m1 42h0m2-47h0m-1 16h0m5 15h0m-5 0h0m5 16h0m-4-47h0m3 7h0m-4 10h0m6-22h0m-1-7h0m-2 29h0m3-20h0m-3 38h0m0-15h0m0-13h0m0 31h0m-1-27h0m0-9h0m2 21h0m2-35h0m-3 39h0m5-19h0m-1-13h0m0 31h0m0-44h0m-4 32h0m7-37h0m-3 4h0m-1 22h0m0-27h0m2 21h0m-2 16h0m0-26h0m1 24h0m-1-45h0m0 31h0m2 17h0m-2-53h0m6 39h0m-2-28h0m3-13h0m-1 47h0m1-17h0m-2 12h0m-3-5h0m4 21h0m-2 7h0m2-22h0m-2 4h0m-1 2h0m0-12h0m2 5h0m-1 25h0m4 5h0m-2 49h0m4-25h0m-3-6h0m0 10h0m-2 34h0m0-44h0m2 52h0m3-2h0m-3-9h0m-2 2h0m6 18h0m-3 7h0m2-12h0m-2 44h0m-2 18h0m3-35h0m-2 16h0m-1-27h0m7 25h0m-6 16h0m4 4h0m-1 15h0m0-3h0m-1-37h0m0 44h0m0 16h0m1 19h0m2-26h0m-2 32h0m2 23h0m1-35h0m0 14h0m1-10h0m-1 12h0m2-11h0m-1 20h0m-1-11h0m3 32h0m0-3h0m1-5h0m-3-28h0m-1 45h0m-2-6h0m1-44h0m0 0h0m3 78h0m-1-32h0m5 1h0m0 2h0m-2-17h0m1-17h0m-2 29h0m-2 13h0m6 0h0m-5-25h0m1 6h0m3-5h0m2-18h0m-3 29h0m2-20h0m-2 18h0m1 2h0m2 50h0m-3-12h0m3 12h0m-4-26h0m4-29h0m0-3h0m-1 24h0m-1-35h0m4 40h0m-3 4h0m2-47h0m2 3h0m-4 51h0m0 7h0m1-22h0m0 1h0m4 22h0m-4-27h0m1 17h0m-1 21h0m6-9h0m-1 4h0m-5 20h0m1 1h0m0-29h0m1 19h0m3-13h0m-1 12h0m2 21h0m-4 38h0m0-11h0m1-43h0m1 2h0m1 23h0m3 26h0m-3 15h0m2-15h0m1 2h0m1-16h0m-2 16h0m1-6h0m-3-36h0m-2 4h0m7 24h0m-2 10h0m-3 7h0m-1-4h0m4 5h0m-4-12h0m6 0h0m-3-12h0m1-14h0m0 9h0m2 41h0m0 16h0m-4-50h0m5 12h0m-4 10h0m0-5h0m6-7h0m-6 16h0m2-10h0m2-10h0m0-1h0m0 22h0m3-31h0m-2 19h0m0-12h0m-1 21h0m1 10h0m-2 15h0m-1-9h0m4-14h0m1-9h0m2 2h0m0 2h0m-6 4h0m2 7h0m2-1h0m0-3h0m-3-8h0m5-4h0m-1 14h0m-3 10h0m4 1h0m2 0h0m-5 5h0m5 3h0m-1-36h0m0 17h0m1-5h0m-3 21h0m1-10h0m-1 18h0m1-6h0m4-12h0m0-15h0m0 21h0m-4 1h0m-1-51h0m5 11h0m-1 13h0m-1 19h0m3-8h0m-3 6h0m-2-2h0m0 10h0m2 8h0m-1-18h0m4-6h0m-4-2h0m5-17h0m-5 47h0m2-15h0m3-4h0m-1-5h0m3-10h0m-5 3h0m3 3h0m-2 11h0m4 10h0m-5-2h0m6-22h0m0-14h0m-4 29h0m3 7h0m0 3h0m1 0h0m-5-39h0m4 24h0m2 16h0m-2 0h0m-1-27h0m-1-9h0m0 8h0m4-16h0m1-11h0m-4 12h0m0 0h0m1-6h0m4 25h0m-1 2h0m2 8h0m-3 6h0m-2-15h0m1 8h0m4-31h0m-4 18h0m0-5h0m0-10h0m2-19h0m-1 11h0m2 35h0m-2 3h0m1 28h0m0 8h0m-1-28h0m1-14h0m3 8h0m-1 1h0m0-2h0m-2-5h0m3 28h0m-2-13h0m3-23h0m-2 3h0m5-15h0m-3 10h0m-2-7h0m2 14h0m-3 5h0m4 4h0m2 9h0m-3-6h0m2-8h0m-4 7h0m3-17h0m3 13h0m-1-3h0m2 7h0m-3 4h0m-2-6h0m1-33h0m2 21h0m3 10h0m0-1h0m-2-21h0m2 5h0m0-4h0m-4 17h0m-1-30h0m5-6h0m-4 27h0m2-8h0m1 2h0m4 7h0m-2 12h0m-4-13h0m6-4h0m-2-15h0m2-1h0m-4 12h0m4-1h0m1 6h0m-1-31h0m-3-1h0m5 6h0m-2-2h0m3 9h0m-1-15h0m-2 33h0m2-10h0m-2-5h0m2 32h0m-3-17h0m1-4h0m2-35h0m-2 36h0m1 10h0m-2-3h0m1-15h0m2-19h0m3 8h0m-5-7h0m4 44h0m-1-2h0m2-14h0m-1-3h0m-4 18h0m1-34h0m-1-3h0m6 6h0m-5 7h0m7-19h0m-4 15h0m4-8h0m-3-17h0m-1-21h0m2 53h0m-3-27h0m6 164h0m-1-13h0m-1-155h0m0 31h0m-3 6h0m5 2h0m-1-18h0m-1-6h0m0 29h0m0-7h0m4 3h0m-5 17h0m6-31h0m0 13h0m-6-3h0m6 3h0m-4-13h0m3 13h0m-2-15h0m4 0h0m0 3h0m-6-2h0m6 7h0m1-18h0m-2 6h0m-4 0h0m4-13h0m-3-32h0m5-2h0m0 27h0m0 5h0m-4 12h0m0-38h0m4 1h0m-4 10h0m1 23h0m3-37h0m-1 0h0m1-30h0m1 10h0m0-15h0m1 6h0m-2-15h0m-1 25h0m3-19h0m1-15h0m-4 15h0m1-19h0m1 13h0m3-12h0m-2-30h0m0-15h0m-3 17h0m5 4h0m-4-34h0m5 11h0m-3 13h0m4-7h0m-4 5h0m5-55h0m-5 28h0m0 15h0m2 2h0m-2 6h0m0-7h0m5-30h0m-3-29h0m5 43h0m-4-4h0m0-46h0m-2 29h0m6 18h0m-1-41h0m2 28h0m-4-4h0m-2-12h0m3 18h0m-2-2h0m5-10h0m-5 11h0m5-25h0m-3-20h0m5 37h0m-2-28h0m0 10h0m0-20h0m-1 17h0m3 10h0m-3 22h0m3-8h0m-2-1h0m4 20h0m-2-57h0m-4-22h0m6 60h0m0-36h0m-1 20h0m-4-29h0m3 12h0m0 6h0m-1-47h0m2 0h0m3 40h0m-1 16h0m-1-16h0m-1-31h0m-1 25h0m-1-4h0m4-10h0m1 5h0m-5-21h0m1-11h0m3-6h0m2-13h0m1 35h0m-1-55h0m-4 17h0m4 24h0m1 12h0m0-47h0m-1 12h0m0 4h0m2 16h0m0 3h0m-5-17h0m5-3h0m-2-41h0m1 38h0m-2 17h0m-1 10h0m4-41h0m-4 28h0m5-8h0m-3 9h0m4 22h0m-1-7h0m-2-2h0m-2-31h0m0 5h0m0 32h0m2-4h0m1-39h0m2 26h0m2 21h0m0-62h0m-3 30h0m-1 0h0m4-2h0m-1 14h0m2-7h0m-2-8h0m-2-5h0m2 10h0m0-9h0m0 0h0m-2 7h0m0-6h0m1 8h0m1-8h0m3 33h0m-5 6h0m5-15h0m-2-50h0m-1 32h0m0 14h0m0 3h0m4-13h0m-4 37h0m5 1h0m-2-6h0m-3-12h0m5 4h0m0-2h0m1 16h0m0 4h0m-1 6h0m0-38h0m1 20h0m-2 20h0m3-2h0m1 22h0m-4-25h0m-1-38h0m2 52h0m-1-25h0m4 3h0m-1 31h0m0-36h0m0 44h0m2-5h0m1 0h0m0-7h0m0 15h0m1-33h0m0 11h0m-5 12h0m6 19h0m-2-33h0m-4 1h0m5-4h0m-3 26h0m3-4h0m0-27h0m-1 44h0m2 28h0m-4-36h0m0-40h0m0 23h0m0 7h0m3 12h0m1 27h0m-1-15h0m0 15h0m-1 44h0m-1-10h0m6 3h0m-1-31h0m0 38h0m-2 26h0m-2-9h0m3 8h0m1-20h0m-1 12h0m-2-9h0m7 26h0m-4-6h0m1-3h0m-2 20h0m3-17h0m-3 9h0m5 23h0m1-61h0m-4 34h0m-1 15h0m5 28h0m-4-25h0m2 20h0m2 4h0m1-18h0m-1-8h0m-2 29h0m0 3h0m-1-16h0m3 36h0m1-18h0m-1-7h0m2 9h0m1 2h0m-3 36h0m-3 2h0m3-8h0m-2 5h0m0-2h0m6-1h0m0 30h0m-3-4h0m4-13h0m-3-12h0m-2 39h0m0-4h0m0-17h0m3 5h0m-1-30h0m3 27h0m-4 20h0m6-28h0m-2-4h0m-3 2h0m0 3h0m6-18h0m-1 32h0m-5 0h0m4-14h0m-2 5h0m3-13h0m1 29h0m1 1h0m-6-36h0m2 6h0m0 7h0m5-17h0m-3 22h0m1 8h0m3-18h0m-5 8h0m-1 0h0m7 4h0m-4 5h0m0 22h0m4-35h0m-3 8h0m-2-1h0m1 9h0m5 12h0m-4 9h0m1-31h0m0 10h0m0 0h0m1 5h0m-1 21h0m5-29h0m-2 3h0m-4 33h0m5-17h0m0-16h0m0-8h0m-5 15h0m3-5h0m2-7h0m-1-4h0m1-15h0m3 34h0m-5-4h0m-1-7h0m2 6h0m4-22h0m-1 4h0m-4 25h0m2-2h0m-1 6h0m2-11h0m-2-10h0m0 9h0m6-24h0m-3-11h0m0 15h0m-2-3h0m5 32h0m-2 4h0m1-13h0m2 18h0m-5-16h0m4 12h0m-3-13h0m0-9h0m2 3h0m-1 0h0m1 10h0m3 4h0m-4-1h0m2-23h0m0-2h0m-3 15h0m2-6h0m3-12h0m2 12h0m-5 16h0m1-35h0m0-11h0m0 21h0m-1-4h0m5 20h0m0-14h0m-4 18h0m3-15h0m0 5h0m1 0h0m-1 12h0m2 2h0m-2-12h0m-1 1h0m1-12h0m-1 1h0m4 12h0m-5-6h0m5 19h0m-1 21h0m2-65h0m-3 12h0m5 12h0m-6 5h0m5-7h0m-4-14h0m5 2h0m0 17h0m-1-14h0m-3-7h0m5 3h0m0 12h0m-5-11h0m2 5h0m1 13h0m-2-35h0m2 26h0m3 10h0m-3-9h0m-1 1h0m1-13h0m2-4h0m-3-2h0m5 7h0m0 13h0m-5 9h0m3 18h0m-2-19h0m4-4h0m0-16h0m-4 13h0m6-1h0m-3-7h0m4-20h0m0 23h0m-4-1h0m3 6h0m-3-16h0m2 18h0m0-9h0m1-7h0m3 7h0m-4-16h0m2 25h0m-1-10h0m-1-5h0m2 11h0m2-5h0m-1-5h0m3 20h0m0-1h0m-2-12h0m2-8h0m-1-8h0m2-45h0m-4 21h0m0-17h0m0 8h0m3 31h0m-4 14h0m4 5h0m-3-25h0m-1 10h0m5-14h0m1 10h0m1-3h0m-4 49h0m-1-14h0m4-4h0m0 10h0m2-30h0m0 18h0m-6-3h0m5 1h0m-3 9h0m0-7h0m5 18h0m-1 2h0m-3 13h0m-1-19h0m2-30h0m4-3h0m0 34h0m-5-3h0m2-14h0m0 14h0m4 4h0m-4 9h0m4-31h0m-3-6h0m3-3h0m-1-12h0m-1 13h0m4 5h0m0-1h0m-3 5h0m2 13h0m-2-3h0m1-18h0m-2 1h0m1 22h0m0-14h0m3 9h0m2-2h0m-2-2h0m1-7h0m-5 4h0m6 5h0m-5-25h0m3 17h0m3 39h0m-5-26h0m5-5h0m-5 26h0m2-37h0m3 29h0m-2 3h0m2-14h0m2-2h0m-4 9h0m4 19h0m-2-21h0m-2 10h0m5-22h0m0-4h0m-3 23h0m1-14h0m2 3h0m-4 11h0m0-10h0m-1 8h0m6-5h0m0-9h0m-1-10h0m-3 12h0m3-17h0m-3 15h0m5 7h0m-2-17h0m-1 5h0m1-4h0m-2 1h0m0-9h0m1 7h0m4-3h0m-1-2h0m-2-3h0m1-12h0m-2 17h0m1-8h0m5 0h0m0-1h0m0-11h0m-4 10h0m1-28h0m2-5h0m2 3h0m-4 10h0m0-19h0m0 18h0m4-53h0m1 27h0m-5 11h0m0-21h0m1-49h0m5 19h0m-2-13h0m0-5h0m-1 9h0m-1-17h0m4 8h0m-1-11h0m0-25h0m0 23h0m-1-40h0m3 15h0m-1 2h0m-1 4h0m-2-17h0m6-17h0m-4 16h0m3 6h0m-2-42h0m-1-16h0m-1 42h0m7-36h0m-5 19h0m3-36h0m2-16h0m-2 11h0m-3 6h0m-1 23h0m6-28h0m-2-18h0m0 4h0m4 31h0m-1 20h0m-1-6h0m0-14h0m-4 7h0m4 19h0m3-42h0m-1-22h0m-1 49h0m2-12h0m-3-21h0m3 9h0m-5-23h0m3-5h0m0 23h0m3-23h0m-1-6h0m0 51h0m0-67h0m-2 23h0m4 3h0m-4 11h0m0-20h0m5 32h0m-3-35h0m1 40h0m-4-55h0m1-27h0m5 41h0m0 20h0m-2-23h0m4 5h0m-3-28h0m-1-10h0m-1 31h0m4 21h0m-3-62h0m1 1h0m2 29h0m1 5h0m1 47h0m1-42h0m-6 38h0m0-34h0m3-37h0m0 25h0m-2 0h0m5 8h0m0 1h0m-4 24h0m1 2h0m0-60h0m0 28h0m-1-17h0m2 33h0m1-32h0m-1 2h0m-1 10h0m0 17h0m2-18h0m-2 5h0m0-9h0m1 31h0m2-62h0m-1 15h0m4 2h0m-3-16h0m5 15h0m-3 9h0m-1-18h0m2 1h0m-2 31h0m0-34h0m1 3h0m3 8h0m-5 5h0m1 2h0m6 32h0m0-42h0m-2-15h0m-1 11h0m-2 38h0m5-34h0m1-8h0m-4-5h0m-1 4h0m6 11h0m-3 36h0m0-84h0m-1 49h0m4-21h0m1 24h0m-5 12h0m2 24h0m2-18h0m1-24h0m-3 41h0m3 16h0m-5-32h0m1 21h0m4 6h0m-1-23h0m2-11h0m-1-9h0m2 45h0m-2-35h0m-1 31h0m1 3h0m2-3h0m-4-8h0m4 4h0m-3-50h0m1 33h0m0-15h0m1 63h0m2-63h0m-4 51h0m6-25h0m-2 24h0m-2-20h0m2-24h0m-2-2h0m-1 21h0m6 18h0m-4 5h0m1 10h0m-3 1h0m1-37h0m0 15h0m5 42h0m1 23h0m-3-24h0m2-7h0m1 64h0m-4-50h0m5 11h0m-4 54h0m1-10h0m3-43h0m0 9h0m1 23h0m-2-12h0m1 5h0m-3 21h0m0 25h0m1-13h0m1-37h0m3-3h0m-3 29h0m-2 22h0m5-24h0m-2 30h0m0-3h0m-2-10h0m-1-12h0m3 39h0m1 6h0m2 24h0m2-10h0m-6 18h0m1 26h0m0-15h0m1-5h0m-1 26h0m0 14h0m3-53h0m1 8h0m2 19h0m-4 7h0m2-25h0m2 5h0m-1 16h0m3-2h0m-3-1h0m3-1h0m-5-6h0m4 5h0m0 2h0m-4 10h0m0 5h0m2-4h0m1 7h0m2 19h0m-3-10h0m1-7h0m0-20h0m-2 11h0m6 13h0m-4-23h0m1 0h0m0 11h0m3 2h0m-3-11h0m3 27h0m-1-14h0m3-2h0m-4-11h0m-1 43h0m5-12h0m-5-2h0m4-11h0m-2-28h0m1 35h0m1 8h0m2-46h0m-4 33h0m4-1h0m-3-27h0m1 25h0m4-8h0m0-15h0m0 4h0m-5 38h0m2-3h0m-2-5h0m6-9h0m-3 29h0m0-40h0m4 22h0m-4 5h0m-2 11h0m7-8h0m-6-15h0m6 10h0m0-15h0m1 17h0m0-20h0m-6 16h0m5 2h0m-1 14h0m-1-13h0m1 3h0m-2 0h0m-1-2h0m2 6h0m3-9h0m-2 8h0m1-39h0m1-25h0m-4 20h0m4 6h0m-1 16h0m0-19h0m3-13h0m-4 24h0m2 9h0m0-21h0m2 18h0m2-4h0m-6 23h0m4 11h0m-2-9h0m4 6h0m-1-12h0m-3 13h0m3-10h0m1-5h0m-1 1h0m3 22h0m-2-59h0m0-12h0m-3 16h0m1 14h0m1 8h0m2-2h0m-1 35h0m1 9h0m1-26h0m-1-6h0m-1 9h0m3 20h0m0-9h0m-3-15h0m0 3h0m2 0h0m2 5h0m1 4h0m-1-6h0m-1-18h0m-3 11h0m5 9h0m1-13h0m-3-17h0m2 4h0m-2 10h0m3-14h0m0 2h0m-1-12h0m2 25h0m-4-17h0m2-3h0m-3 61h0m1-24h0m5 10h0m-3-8h0m3-15h0m-4 8h0m1-7h0m-2 5h0m3-1h0m1 1h0m3-6h0m-5-3h0m2-1h0m-1 21h0m3 5h0m1-14h0m-3-17h0m1-2h0m3-15h0m-6 2h0m2 30h0m3-5h0m-4-16h0m2-28h0m1 53h0m-1 2h0m1-43h0m2-14h0m-4 21h0m3 10h0m1-5h0m-3-1h0m4 9h0m-4-24h0m1 24h0m0 7h0m4-39h0m-2 1h0m0 42h0m1 1h0m4-13h0m-5 25h0m0-19h0m-1-19h0m5 32h0m-1-20h0m-1 12h0m4 4h0m-1 3h0m-4-4h0m1-10h0m0 12h0m2 17h0m-1-21h0m3 1h0m-3-3h0m-2 8h0m3-5h0m-2 12h0m6-15h0m-5-1h0m3 27h0m3-8h0m-5 7h0m5 13h0m-5-4h0m2 15h0m1 3h0m-1-30h0m0 4h0m1-9h0m0-14h0m2 4h0m0 4h0m0-15h0m-3 11h0m3-12h0m-2-7h0m-1-5h0m0 35h0m0 11h0m6-12h0m-3-4h0m-2-15h0m0-2h0m6 7h0m-3-14h0m3 5h0m-2 9h0m-3 1h0m0-25h0m6 29h0m-4-16h0m4-2h0m-1 23h0m0-17h0m2 1h0m-4 17h0m4 3h0m1 3h0m0-7h0m-5-5h0m0-5h0m3-16h0m3 40h0m-1-17h0m-2-1h0m1 21h0m0-15h0m4 8h0m-5-37h0m0 29h0m2-5h0m2 22h0m2-19h0m0-17h0m-2 24h0m-1-17h0m-2 2h0m6 5h0m-2 7h0m2 0h0m-4 32h0m2-29h0m-2 6h0m-1-6h0m3-11h0m0-8h0m-1 28h0m4 4h0m-2-7h0m2-9h0m1 8h0m-6 10h0m4-100h0m-1 97h0m1-30h0m1 30h0m-3-3h0m-1-5h0m4 13h0m-1-16h0m3 5h0m-4 20h0m6-25h0m-1 11h0m0-9h0m-1-7h0m-1-3h0m0-8h0m1 1h0m-1 11h0m2-4h0m-4-4h0m1 2h0m2 9h0m4 6h0m-4 0h0m4-14h0m0 5h0m-4 7h0m2-13h0m2 5h0m-1-13h0m3-15h0m-6 11h0m6-14h0m-1-1h0m-2 22h0m0-6h0m-3-4h0m3-27h0m2 11h0m-2 7h0m0-27h0m0-27h0m1 57h0m1-50h0m-1-10h0m3 13h0m1-26h0m-5-2h0m3-36h0m3 0h0m-6 11h0m2 14h0m3-3h0m0-41h0m1 24h0m-4 0h0m4-12h0m2 21h0m-5-33h0m5-20h0m1 8h0m-2 9h0m-2-11h0m-1-41h0m3 0h0m-2 24h0m4-18h0m-2-22h0m-2-2h0m2-20h0m0 17h0m1 10h0m-1 9h0m-1-36h0m3 41h0m0-23h0m3 6h0m-5 1h0m2-10h0m-1-8h0m2 35h0m-3-12h0m4-24h0m-4 6h0m6 8h0m0-6h0m-6-3h0m5-27h0m1-38h0m1 49h0m-6 4h0m4-48h0m-1 28h0m-1-11h0m4 19h0m0-8h0m-2-16h0m0-4h0m2 35h0m-2 12h0m0-51h0m2-4h0m-2 12h0m1 3h0m3-18h0m1 18h0m-3-30h0m2 20h0m-3 17h0m0-32h0m1 27h0m4-40h0m0 14h0m-1-26h0m-1 2h0m-2 31h0m0 11h0m0-46h0m2 31h0m-1-50h0m2 23h0m4 9h0m-1-3h0m-3 24h0m4 2h0m-2-17h0m-2-3h0m0-33h0m0-6h0m3 16h0m0 8h0m0-8h0m-2 36h0m3-42h0m0 13h0m-1-11h0m1 7h0m0-29h0m-1 60h0m4-22h0m0 3h0m0 19h0m-3-73h0m1 6h0m-3 54h0m6-6h0m1-31h0m-6 9h0m3-32h0m-2-7h0m4 42h0m1-27h0m-2 13h0m-1 13h0m-1-16h0m2-15h0m2 18h0m0 12h0m-5-26h0m4-7h0m1-43h0m1 67h0m-2-16h0m-1-8h0m1-24h0m1 16h0m3-35h0m-6-13h0m2 38h0m4 41h0m-1-7h0m-2-9h0m-1-22h0m2-26h0m-1 74h0m3-30h0m-4 1h0m1-5h0m4-28h0m0 17h0m-4 28h0m3 13h0m1-28h0m-3 31h0m0-55h0m5 25h0m-4 6h0m3-24h0m0 20h0m1 61h0m-3-53h0m0 3h0m0 23h0m3-2h0m0-35h0m1 10h0m2 52h0m-6 1h0m0-3h0m4 13h0m-3-18h0m4-17h0m1 20h0m0-17h0m-3 53h0m4-8h0m0-27h0m-5 14h0m5 16h0m0-20h0m1 40h0m-1-4h0m-3 21h0m3-3h0m-1 10h0m2 5h0m2 13h0m-1-47h0m0 18h0m-3 26h0m2-16h0m-4 33h0m2-16h0m2 9h0m-3 15h0m1-28h0m2 5h0m-2 13h0m0 25h0m3 17h0m-2-11h0m1-10h0m3 19h0m0 1h0m-4 15h0m5 5h0m-2-14h0m3 16h0m-5-127h0m5 137h0m-2 10h0m2-11h0m1-5h0m-4-1h0m1-14h0m2 27h0m-1 33h0m-1-24h0m3 49h0m1-7h0m-4-9h0m4 2h0m-4-1h0m1 8h0m1-12h0m1 10h0m0 12h0m2-25h0m1 1h0m0 35h0m-5-4h0m4 23h0m-2-27h0m2-30h0m2 39h0m-1-18h0m0 11h0m2-7h0m1 6h0m-5 6h0m5-15h0m-5-23h0m-1-9h0m3 15h0m3-18h0m0 20h0m-2-4h0m3-3h0m0 26h0m0-12h0m-2-16h0m-2 28h0m2-12h0m2-28h0m-4 41h0m3-8h0m-2 30h0m4-41h0m1 11h0m-3-4h0m-1 15h0m5 18h0m-4-23h0m2 37h0m-1-12h0m-2 12h0m5 1h0m-3-19h0m0 2h0m2 47h0m-3-17h0m4-2h0m-3 17h0m-1-1h0m6 15h0m-5 7h0m5-9h0m-1-22h0m-3 15h0m4-10h0m-4 13h0m1 10h0m3 8h0m1-3h0m-5 16h0m1 24h0m4-21h0m0-21h0m2 11h0m-6 27h0m0-9h0m7-12h0m-1 1h0m-2-10h0m-1 4h0m-1-6h0m0 0h0m2-49h0m0 61h0m-2-42h0m6 35h0m-5-11h0m1-16h0m4 0h0m-5-23h0m2 10h0m1 8h0m1-3h0m-1 22h0m0 2h0m4-11h0m-3-3h0m1-12h0m2-12h0m-1 28h0m-2 1h0m-2-13h0m2 10h0m2-10h0m1-3h0m2 9h0m-5 22h0m3-6h0m-3-9h0m4-7h0m-4-4h0m2 16h0m4-18h0m-4 34h0m0-6h0m2 31h0m-1-8h0m4-10h0m-2-8h0m-3-13h0m2-1h0m0 24h0m-2-9h0m3-15h0m3 2h0m0-19h0m0 2h0m-4-10h0m0 18h0m1-9h0m1 10h0m2 20h0m0-24h0m-1 5h0m2-4h0m-2 0h0m0 3h0m2-15h0m-3 1h0m5 2h0m1 2h0m0-11h0m-2 34h0m1-5h0m1 6h0m-1-1h0m-3-4h0m2-19h0m3 20h0m-3 9h0m1 19h0m-2-45h0m3 14h0m-3 11h0m5-9h0m-2 24h0m-1 7h0m4-34h0m1 18h0m1-30h0m-2 9h0m0 24h0m-1-28h0m3 3h0m-2-6h0m3 19h0m-1-2h0m-2 9h0m3-2h0m-4 3h0m0-42h0m1-4h0m1 35h0m4 7h0m-3-4h0m-2 4h0m0-22h0m4-5h0m1 2h0m-3 3h0m2-7h0m-1-8h0m-1 20h0m3-1h0m-2-5h0m3-23h0m-1 37h0m1 13h0m-3-10h0m0-7h0m2 7h0m2-6h0m1-28h0m-3 7h0m-2 28h0m2-8h0m-2-11h0m1 32h0m3 11h0m2-15h0m-1 9h0m1 0h0m-2 0h0m-1 36h0m-1 9h0m1-36h0m0-1h0m5 5h0m-2 1h0m-2 12h0m3-30h0m-4 12h0m0-9h0m5 1h0m1-26h0m-3 7h0m3 24h0m-5 5h0m3-40h0m0 16h0m1 1h0m0 28h0m2-10h0m-4 0h0m4-4h0m0-1h0m2-18h0m-1-6h0m1 8h0m0 16h0m-2-7h0m-2-2h0m4-5h0m-2 9h0m-2-4h0m1-1h0m-1-9h0m4 15h0m-1-6h0m3 15h0m-1 10h0m-4-65h0m5 3h0m-2 42h0m0-24h0m-1 20h0m4 8h0m-1-17h0m-1 16h0m-2-11h0m4 9h0m1 1h0m-3-7h0m-3-13h0m1-4h0m3-2h0m-2 52h0m5-19h0m-5-16h0m2 13h0m4-6h0m-7-2h0m4-1h0m1 5h0m2 5h0m-4 13h0m0-5h0m3-16h0m0 5h0m-1 24h0m1-2h0m3-35h0m-1 25h0m-3-34h0m-2 56h0m3-9h0m2-26h0m1 18h0m-2-23h0m3 11h0m-6-3h0m3-14h0m4 21h0m-5 13h0m4-8h0m-4-18h0m4-7h0m1 3h0m-2 1h0m-2 40h0m3-2h0m2-25h0m-5-14h0m0 25h0m3-48h0m0 9h0m-2-7h0m3 2h0m0-1h0m-2-20h0m-1 6h0m7 10h0m-5-1h0m0 2h0m4-15h0m0 7h0m1 6h0m1-15h0m-3 22h0m3-17h0m-1-29h0m-4-2h0m3 25h0m-1-24h0m-1-15h0m4-4h0m2 54h0m0-17h0m-3-19h0m-3 10h0m6-35h0m-5-8h0m3 11h0m-1-14h0m4-19h0m-1 6h0m0 2h0m-4 4h0m2 6h0m3-21h0m0-4h0m0-15h0m-3 9h0m0 6h0m0 18h0m0-39h0m-1 16h0m2-29h0m-1-9h0m6 7h0m-5 12h0m4-15h0m-4-26h0m2 26h0m-1 4h0m3 13h0m-2-24h0m-1-1h0m3 14h0m-3-34h0m6 4h0m1 10h0m-6-62h0m0 6h0m1 29h0m0 11h0m2-25h0m1 5h0m-4-1h0m2 14h0m4-26h0m1 5h0m1-1h0m0 0h0m-2-40h0m0-18h0m-1-9h0m-2 58h0m1-18h0m-1-5h0m6 9h0m-1 27h0m2-26h0m-5-17h0m4-1h0m-3 12h0m0-20h0m0 73h0m3-20h0m2-52h0m-4 31h0m3-19h0m2-14h0m-5-19h0m-1 13h0m0 17h0m6 13h0m-1-37h0m-1 53h0m2 12h0m-3-58h0m3 17h0m-1 0h0m2-10h0m0-11h0m-3-27h0m4 19h0m-4 18h0m0 11h0m1 2h0m-1-39h0m-1 29h0m4-15h0m-2 6h0m4-22h0m-2-18h0m1-43h0m1 35h0m-3 7h0m3 25h0m0-25h0m0-2h0m0 14h0m2 31h0m1-75h0m-2 29h0m-1 8h0m-1 1h0m5-28h0m0 6h0m-1 33h0m-2-29h0m1-14h0m2 47h0m-3 0h0m2-8h0m0 12h0m-1 19h0m0-26h0m0 36h0m2-8h0m-2-16h0m0 10h0m4-14h0m-4 2h0m3-46h0m-4 34h0m5-14h0m-1 8h0m-1 18h0m2-2h0m-2-12h0m1-9h0m2 55h0m-3-47h0m5 3h0m0 14h0m0-5h0m0-16h0m1 19h0m-3-29h0m3 15h0m-4 3h0m2 11h0m1-11h0m-2 21h0m0-14h0m3 59h0m-2-42h0m3 2h0m-3 11h0m-2-66h0m5 25h0m1 35h0m0-4h0m-5-30h0m4 39h0m-1-49h0m1 11h0m-3 31h0m5 19h0m0-20h0m-2 1h0m-2 6h0m1-15h0m2 4h0m0 11h0m3 25h0m-2-26h0m2-17h0m1 30h0m-1-44h0m1-6h0m-4 10h0m4 57h0m-4 6h0m4 7h0m-5 13h0m1-1h0m6-60h0m-6 39h0m5 20h0m0-51h0m-2 25h0m2-8h0m-3 11h0m4 46h0m-3-44h0m2 16h0m1 26h0m-1-4h0m0 9h0m1 21h0m-3-19h0m2 8h0m-2 12h0m2-13h0m2-22h0m-1 29h0m3 30h0m-6 17h0m5-18h0m-2 34h0m4-1h0m0 36h0m-2-42h0m-4 2h0m3 18h0m-1 38h0m4-3h0m-2-28h0m-1 0h0m3 12h0m0 11h0m-1-6h0m2 18h0m-3-21h0m0 3h0m2 18h0m-3 20h0m1-18h0m3 4h0m0 16h0m-1 6h0m3 10h0m0-15h0m2 25h0m-5-17h0m1 5h0m-1-7h0m3 24h0m-1-10h0m3-10h0m1 21h0m-1-5h0m-4 11h0m2 4h0m3-47h0m-4 24h0m4-4h0m-2 8h0m-1-20h0m-1 8h0m6-7h0m-2 3h0m2 13h0m-2 11h0m0 4h0m-1-31h0m0 12h0m2 12h0m-3-11h0m5 14h0m-2-8h0m1-4h0m-3-25h0m5 8h0m-5 5h0m0-5h0m5 0h0m-5 6h0m1 11h0m2-57h0m3 6h0m-3 45h0m4 5h0m-2-15h0m-2-1h0m0-10h0m4 21h0m-4-26h0m1 42h0m0-40h0m-1 22h0m3-4h0m-3-9h0m2-11h0m4 5h0m-2 2h0m3-1h0m-4-12h0m4 17h0m-2 2h0m0 23h0m0-12h0m-3-4h0m3 17h0m-2-11h0m0 7h0m2-18h0m3 26h0m0-13h0m1-25h0m1 12h0m-4-3h0m4 4h0m0 23h0m0-13h0m-6-5h0m4 1h0m2 15h0m-3-24h0m3 3h0m1 18h0m-1 16h0m-1 0h0m4-25h0m-5 14h0m1 32h0m1-20h0m2-4h0m0-26h0m2 8h0m-1 17h0m-5-14h0m6-11h0m-2 0h0m-1 10h0m2-2h0m-1 10h0m3 7h0m-2-8h0m-3 0h0m6 15h0m0-31h0m-1 2h0m-4 28h0m3 11h0m-3-32h0m2-5h0m3 35h0m2-7h0m-4-18h0m0 8h0m-2 24h0m4-52h0m2 3h0m-2 32h0m-3 0h0m5-24h0m0-8h0m-2 14h0m-1 32h0m1-35h0m4-1h0m0 10h0m-3-2h0m2 35h0m1-25h0m-2 1h0m-3 10h0m0-4h0m2-53h0m3 2h0m-2 30h0m0 2h0m3-11h0m0-10h0m-1 15h0m-2 18h0m0-19h0m3 15h0m2-9h0m-3 11h0m-2-12h0m0-2h0m5-8h0m-4-3h0m4 1h0m-5 17h0m3 35h0m0-42h0m0 17h0m-2-8h0m5 8h0m-4-24h0m5-2h0m-1 2h0m2 1h0m0 1h0m-3 28h0m0-2h0m4 10h0m-4-33h0m2 14h0m1-23h0m-1 16h0m-1-6h0m3 7h0m-2 9h0m2-27h0m-3 0h0m-1 15h0m6-10h0m0-2h0m-4 16h0m4 9h0m-1-25h0m-1-5h0m1 16h0m3-37h0m-6 10h0m0-6h0m1-10h0m4-4h0m2 36h0m-1 12h0m-5 4h0m3-7h0m1 6h0m0-19h0m1 4h0m2-15h0m-4-26h0m5 54h0m-3 1h0m-2-13h0m5 13h0m-3-11h0m3-9h0m0 6h0m-4-7h0m4-21h0m-5 6h0m4 14h0m1-2h0m-2 14h0m0-12h0m5-1h0m0-17h0m-6-8h0m5 25h0m-3 35h0m0-3h0m3-16h0m0 16h0m-1 15h0m0-5h0m3-81h0m-3 20h0m2 7h0m-2 12h0m0-2h0m1 2h0m0-11h0m-1 11h0m0 19h0m5-11h0m-2-11h0m-3-8h0m4 2h0m-3-9h0m-1 39h0m3-14h0m0-17h0m3 10h0m0 1h0m-2 9h0m3 7h0m-4 1h0m-2-1h0m4-4h0m1 6h0m0-17h0m-2 11h0m5-4h0m-5 19h0m5-17h0m0-4h0m0-17h0m-4 24h0m4-14h0m1 3h0m-5-2h0m2-12h0m2 5h0m-2 29h0m4-5h0m-4-7h0m4 2h0m-2 5h0m-3-17h0m5-13h0m-3 12h0m-1-17h0m0 3h0m2 15h0m-1-20h0m4 1h0m1 15h0m0-15h0m-3 43h0m4-12h0m-2-10h0m-4 17h0m6-19h0m1-15h0m-5 20h0m-1-35h0m4-2h0m-1-1h0m0-13h0m3-1h0m1 12h0m-3 27h0m4-1h0m-4-6h0m4-8h0m-4 11h0m-2-31h0m3-2h0m1-2h0m-3 11h0m2-14h0m3-28h0m-4 49h0m2 1h0m-1-54h0m2-12h0m-2 29h0m4-8h0m0 24h0m-2-31h0m-2 15h0m0-11h0m0 15h0m2-21h0m-1-7h0m6-9h0m-3 6h0m0 3h0m0 20h0m3-14h0m0-24h0m1 18h0m-1 16h0m0-5h0m-2-43h0m1 2h0m-2 5h0m5-20h0m-4 18h0m2 1h0m-1-15h0m-2-60h0m2 17h0m3 41h0m-3-23h0m1-2h0m3-13h0m0 6h0m-2-5h0m0 18h0m-1-4h0m0 15h0m2 3h0m3-27h0m-4-13h0m4-18h0m-1 14h0m-3 15h0m3-14h0m1 11h0m0-39h0m-4 18h0m2 11h0m3-40h0m0 0h0m0-14h0m-3 10h0m0-21h0m0 40h0m4 17h0m1-23h0m-3 22h0m4 8h0m-5-47h0m5 8h0m0 25h0m-4-2h0m-1-36h0m2-9h0m4 59h0m1-53h0m-4 38h0m-1 12h0m4-52h0m-1 30h0m4-5h0m-2 10h0m-2-14h0m4-36h0m-4 11h0m3 29h0m1-5h0m-1-7h0m1-9h0m-1 8h0m0 0h0m-2-13h0m4-11h0m-3 18h0m0-26h0m0 31h0m0-39h0m5-9h0m-3 45h0m3 6h0m1-60h0m-4 8h0m2 30h0m2-9h0m-2-27h0m2 1h0m0 4h0m-2-3h0m1 6h0m-1-28h0m-2 68h0m2-49h0m1-29h0m-2 40h0m2-1h0m3-40h0m-6 18h0m3 18h0m-1-6h0m2 22h0m1-18h0m2-52h0m-5 46h0m6 6h0m-1-22h0m-2-20h0m-2-4h0m2 17h0m0-20h0m1 10h0m1 5h0m3-1h0m-4 19h0m1-16h0m-3 27h0m3-33h0m-2 22h0m0-11h0m0-32h0m2-3h0m2 9h0m-2 4h0m-1-106h0m0 136h0m1 18h0m4 10h0m1-31h0m-2 39h0m2-11h0m-3 10h0m2 0h0m3-114h0m-6 106h0m0 29h0m1 1h0m1-35h0m5-1h0m-2 18h0m-1 0h0m-1 0h0m3-40h0m0 29h0m-1 61h0m-1-28h0m3-7h0m-5-39h0m4 21h0m1-5h0m1 14h0m-2-8h0m0 6h0m0 12h0m-1-26h0m1 52h0m2-22h0m0-15h0m-3 15h0m1 22h0m5 25h0m-2-53h0m-3 20h0m4 0h0m0-22h0m-1 13h0m-3 17h0m6-9h0m0 27h0m-4 17h0m1 24h0m2-33h0m2 11h0m-2-16h0m-1 41h0m0 22h0m-1 7h0m4 3h0m1-12h0m-5 35h0m5 0h0m-4-6h0m3-22h0m2 10h0m-3 20h0m3-10h0m-4 21h0m3-25h0m-3 19h0m1 29h0m0 5h0m4-39h0m-3-5h0m-1 0h0m1-8h0m4 14h0m-4 5h0m1 4h0m4 3h0m1-14h0m-3 25h0m2-16h0m-4 18h0m1-21h0m2 27h0m-1-23h0m-1 14h0m-1 43h0m2-10h0m4 13h0m1 7h0m-4-3h0m2 13h0m2 7h0m0 0h0m-1-10h0m2-4h0m-3-65h0m-2 61h0m6-41h0m-3 19h0m0 3h0m1 43h0m0-24h0m1-23h0m2-2h0m-6 39h0m5-12h0m0 30h0m-4-2h0m2-23h0m-2-5h0m2 31h0m2-21h0m-2 22h0m5-31h0m-3 37h0m0-7h0m-1 11h0m4 18h0m-2-15h0m-3 1h0m2 11h0m2-48h0m0 6h0m-3 37h0m4-16h0m2-2h0m-3-7h0m-2-1h0m-1-3h0m3 29h0m0 2h0m3 4h0m-1-5h0m-3-17h0m3 9h0m-2 20h0m3-3h0m2-17h0m0-7h0m-2 4h0m-1-3h0m-1 15h0m3-1h0m-2-13h0m0-4h0m2 26h0m-1-22h0m-2-8h0m4-3h0m-2 14h0m5 5h0m-1 14h0m-2-11h0m-3 8h0m2-1h0m3 28h0m-4-14h0m3-24h0m3-3h0m-4 31h0m2-5h0m1-16h0m2 3h0m-6-7h0m6 16h0m-2-6h0m2-12h0m-1-8h0m2-14h0m-3-2h0m3 5h0m-1 4h0m0 21h0m1-6h0m0-13h0m-1 15h0m-3 3h0m-1-11h0m7 14h0m-3-2h0m-2-22h0m4 17h0m0-4h0m-4-4h0m1 0h0m5-6h0m0 1h0m1 32h0m-5 7h0m-1-44h0m6 26h0m-2 7h0m0-6h0m3 4h0m-1-24h0m1-5h0m-3 17h0m0-1h0m-1-5h0m2 25h0m3-14h0m-3 10h0m-1-20h0m4 4h0m-4-6h0m-1 0h0m4-9h0m-3 20h0m6 1h0m-2-5h0m1 0h0m-3 3h0m5 10h0m-5-14h0m1-10h0m1-2h0m-2-6h0m5 22h0m-5-9h0m0 4h0m6 19h0m0 7h0m-3-31h0m0-5h0m2 2h0m-2 6h0m-1-7h0m0-4h0m1-6h0m0 4h0m-1-34h0m3 25h0m0-8h0m1 3h0m-3 13h0m0 8h0m4-14h0m3-3h0m-1-6h0m-4 6h0m4-5h0m-2 13h0m1 9h0m-2-9h0m0 23h0m5-23h0m-4 4h0m2-28h0m-3 37h0m2 4h0m0-22h0m-1 12h0m4 21h0m0-28h0m0 7h0m-3-10h0m1 12h0m-1-24h0m4 22h0m-3-13h0m2 10h0m-1 7h0m2 3h0m-2 4h0m-1-35h0m3 18h0m1 10h0m0-8h0m-2-30h0m-1 30h0m6-13h0m-5-5h0m4 22h0m-2-15h0m-1 5h0m4 1h0m0 21h0m1-37h0m-1 15h0m1 16h0m0-2h0m1-23h0m-4-13h0m3 44h0m-2-16h0m4 9h0m-4-12h0m3 9h0m-2-8h0m3 17h0m0-4h0m1 1h0m-2-7h0m-1-9h0m4-27h0m-4 27h0m3-5h0m-3-20h0m4 23h0m-3 18h0m-1-1h0m2-23h0m1 32h0m-2 12h0m0-42h0m5 2h0m1 53h0m-5-11h0m1-18h0m0 0h0m2 3h0m0-22h0m0 2h0m2 14h0m0 8h0m-4-15h0m0 21h0m3-2h0m0-11h0m-2 11h0m5 5h0m-1 1h0m0 7h0m-3-23h0m5-12h0m-2 0h0m3 10h0m-2 21h0m0-6h0m-4 6h0m2-34h0m5 4h0m-6 14h0m1 8h0m5-17h0m-2 20h0m3 1h0m-3-11h0m2-7h0m0 1h0m-2-25h0m-3 20h0m2 1h0m0-30h0m-1-3h0m5 26h0m-3 2h0m1-29h0m-1 6h0m0 14h0m0 1h0m0-37h0m2-13h0m-1 22h0m-1 5h0m5-47h0m0 16h0m-4-8h0m2-1h0m-2-10h0m4 0h0m0 25h0m0-22h0m-3-23h0m4 6h0m-2 28h0m5-23h0m-3-15h0m-1-7h0m2 50h0m2-42h0m-5-24h0m5 50h0m-1-5h0m-3-33h0m4-21h0m-3 10h0m3-37h0m-2 7h0m3-20h0m1 43h0m1-17h0m-1 0h0m-4 27h0m1-66h0m3-4h0m-2 17h0m1 20h0m-2-61h0m4 41h0m-1-36h0m-2-6h0m4 19h0m-1 8h0m-2-10h0m3-86h0m-2 33h0m-2 27h0m4-24h0m-3-3h0m-1-17h0m3 1h0m1 11h0m-1-16h0m4 48h0m-5-16h0m1-33h0m-1 30h0m3-50h0m-1 42h0m4-38h0m-1 16h0m-4 35h0m2-3h0m2-46h0m1-30h0m-2 23h0m-1 19h0m5 19h0m-5-21h0m2-8h0m-1-12h0m0 2h0m-1 8h0m-1 42h0m4-45h0m2 28h0m-3-21h0m-1 0h0m3-9h0m-1-209h0m3 258h0m-2-25h0m0-11h0m1 14h0m-1-16h0m-2 12h0m6-35h0m0 30h0m0-30h0m-2-12h0m-2 60h0m0 1h0m4-19h0m1 98h0m-5 17h0m0-128h0m4 8h0m0 45h0m2-10h0m-5-17h0m3-13h0m2-6h0m-1 6h0m1 14h0m0-1h0m-1-22h0m3 10h0m-2 35h0m-3-34h0m3 6h0m-1 9h0m-1-49h0m1 34h0m5 7h0m-6-21h0m4-22h0m-1 34h0m-3 5h0m5 22h0m-4-43h0m3 16h0m-3 13h0m3 25h0m1-33h0m-2 2h0m2 17h0m2-19h0m-1-24h0m1-23h0m1 21h0m-6 1h0m6-6h0m-4-12h0m5 32h0m-5-33h0m5 33h0m0 1h0m1-10h0m-6-10h0m5 7h0m-3-16h0m3-6h0m-1-25h0m0 57h0m3 16h0m-6-25h0m1-19h0m5 17h0m-3 26h0m1-41h0m2 13h0m1 11h0m0-46h0m-3 34h0m4-32h0m-3-7h0m-1-2h0m5-9h0m-5 35h0m2-8h0m-2 11h0m1-7h0m3-12h0m2-4h0m-3 9h0m2 34h0m-2-19h0m0-15h0m1 10h0m-1-4h0m-1 36h0m5-37h0m-3 35h0m3-6h0m-4-12h0m5 8h0m-1-6h0m-3 39h0m3-18h0m3 11h0m-3-11h0m0 32h0m-1-7h0m3-3h0m2-39h0m-3 27h0m-1-12h0m1 13h0m2 0h0m-2-22h0m2-6h0m0 33h0m-4 10h0m2 13h0m-2-33h0m6 54h0m-3 0h0m0-9h0m2 13h0m3 12h0m-1-37h0m-5 19h0m5 38h0m-1-28h0m1 37h0m-3-3h0m5-34h0m-4 22h0m-2 6h0m5 44h0m-2-27h0m-1 14h0m0 22h0m1-25h0m1 8h0m-3-4h0m4 16h0m-1 19h0m4-36h0m-3 19h0m0 1h0m2 10h0m-1-58h0m-2 26h0m2 15h0m0 28h0m4-5h0m-5-9h0m1 21h0m2-14h0m0-4h0m2-10h0m0 8h0m1 33h0m-3-2h0m1 5h0m2-14h0m-5 19h0m6-29h0m-3 20h0m3 24h0m-4-16h0m3-10h0m1 9h0m-5-9h0m1 25h0m3-2h0m1-12h0m0 32h0m1 33h0m1 1h0m-2-41h0m1 3h0m1 53h0m-3-25h0m2 13h0m-3-6h0m6-8h0m-5 4h0m4-2h0m1-3h0m-5 7h0m1 2h0m1-2h0m0 21h0m2-20h0m0-10h0m-2 9h0m4-10h0m0 10h0m-1 8h0m-3 11h0m2-17h0m-2 22h0m4-3h0m-2 3h0m5 15h0m0-6h0m-5-9h0m2 18h0m0-9h0m0-10h0m1-1h0m3-8h0m-2 4h0m1-17h0m2 15h0m-4-21h0m4 14h0m0 4h0m-4 16h0m1-10h0m3 3h0m-1 1h0m0 9h0m-3-16h0m5-5h0m-4 11h0m4-8h0m0 11h0m-4 20h0m4-26h0m-2 3h0m-1 9h0m1-17h0m4 11h0m0-2h0m0-4h0m-4 17h0m3-27h0m-4 5h0m6 8h0m0 3h0m-2-22h0m-3-15h0m2 3h0m0 11h0m0-18h0m2 29h0m2-15h0m-4-1h0m5 4h0m-3 18h0m-1-15h0m3-14h0m-2 32h0m1-9h0m3-36h0m-3 29h0m1 12h0m2-21h0m-2 18h0m-1 4h0m0-9h0m-1-4h0m2-2h0m2-9h0m1 5h0m-4-3h0m5 1h0m-1-13h0m3 0h0m-4 7h0m1-22h0m-2 14h0m5 39h0m-1-2h0m1-34h0m-6 4h0m2 34h0m-1-9h0m1-21h0m4-9h0m-2 9h0m1-16h0m1-1h0m-3 8h0m2 2h0m2 0h0m-3 11h0m0 11h0m-1 0h0m4 9h0m-3-19h0m5-1h0m-2 4h0m0-9h0m1-6h0m2 6h0m-2 1h0m-3-14h0m-1 4h0m4-17h0m-3 23h0m1-7h0m0 22h0m2 33h0m2-13h0m1-29h0m-1-6h0m-3 20h0m4-22h0m-3 24h0m2-6h0m0 18h0m-2-4h0m0-9h0m5-2h0m1-14h0m-1 0h0m-3-6h0m1 18h0m0-9h0m4 9h0m-1-5h0m1 15h0m-2-12h0m2 4h0m1-15h0m-6 12h0m4-4h0m-3 3h0m6 10h0m-3-7h0m1-15h0m-1-12h0m-1 26h0m4 23h0m-4-33h0m3 8h0m3 14h0m0 1h0m-2 3h0m1 23h0m-4-8h0m1-4h0m-1 12h0m5 4h0m1-6h0m-2-6h0m3-2h0m0-5h0m-3 6h0m-2-16h0m4 14h0m2-12h0m-1 14h0m-5-33h0m0 10h0m2 7h0m2 9h0m2-44h0m-3 6h0m2-3h0m-1 3h0m3-1h0m-1 6h0m-4 3h0m4 1h0m2-7h0m-1 2h0m-4 5h0m4-24h0m1 8h0m-5 21h0m4 0h0m1-11h0m-3 9h0m1-4h0m0-23h0m4 7h0m-3 17h0m3 8h0m0-7h0m2-12h0m-4 9h0m2 25h0m-4-21h0m5 7h0m-5 3h0m1 2h0m6-10h0m-2 5h0m-2 18h0m0-20h0m0 7h0m1-5h0m4-4h0m0 24h0m-3 13h0m4-8h0m-2 18h0m-2-50h0m0 6h0m4 25h0m1-12h0m-3-8h0m3 9h0m-4-6h0m-1-3h0m1 2h0m0 24h0m3-34h0m3 14h0m0 10h0m-5 1h0m1 4h0m2 89h0m2-8h0m-1-87h0m2 7h0m-3 8h0m4-29h0m-2 9h0m-4 8h0m1 15h0m5 7h0m-5-15h0m2-10h0m4-9h0m-4 11h0m2 2h0m-2-39h0m-1-6h0m1 22h0m1-15h0m0-9h0m3 3h0m-4 18h0m1-13h0m1 21h0m5-30h0m-4-23h0m2 42h0m1-19h0m-1-22h0m-1 27h0m-2-21h0m1-44h0m0 39h0m0 27h0m5-30h0m-4-3h0m3-44h0m0 16h0m-2 10h0m4 4h0m0-54h0m-4 0h0m-1 30h0m1-7h0m3 3h0m0-34h0m1-9h0m-3 14h0m1 9h0m-1-45h0m1 4h0m5-13h0m0-25h0m-4 5h0m-1 20h0m2-17h0m4-2h0m-6-30h0m3 8h0m-2-6h0m6-15h0m-4-10h0m3-5h0m-5 39h0m1-14h0m1 0h0m1 16h0m4-18h0m-3-42h0m1 31h0m-1-2h0m2-18h0m-3-6h0m0 60h0m-1-7h0m4-21h0m-1-31h0m3 7h0m-2 15h0m-2-17h0m1 41h0m3 5h0m-1-38h0m2 22h0m-3 1h0m0-21h0m-1 5h0m5-7h0m-2 28h0m-2-24h0m3-7h0m1 9h0m2 18h0m-1-31h0m-3 20h0m3-21h0m0-13h0m0 3h0m-1 24h0m-2-4h0m6-54h0m-1-4h0m-2 56h0m3-3h0m1 42h0m-5-41h0m-1 4h0m2-20h0m0 34h0m0-70h0m-1 42h0m4-9h0m0-12h0m0 3h0m-2 6h0m2 17h0m-2 24h0m4 19h0m2-25h0m-3-17h0m1-46h0m3 41h0m-3-13h0m2 12h0m-3-4h0m-1 8h0m0-7h0m5-13h0m-1-70h0m-4 49h0m1 54h0m6-13h0m-1-17h0m-2 12h0m-1-36h0m2 39h0m-3-8h0m0 4h0m5-80h0m2 12h0m-5-1h0m4-15h0m-2 15h0m2 40h0m-3-6h0m-1 11h0m3-25h0m1 21h0m-3-7h0m2 4h0m2-15h0m0 18h0m-2-3h0m3-14h0m-2-7h0m1 29h0m0-51h0m-1 48h0m3-19h0m1 9h0m-4 18h0m3-42h0m0 17h0m-1-24h0m-1 18h0m2 1h0m1-4h0m1-24h0m-1 67h0m-3-26h0m6 15h0m-4-7h0m4-15h0m-3-7h0m3-20h0m-3 53h0m1-31h0m-3 20h0m2-15h0m2 22h0m1-54h0m0 87h0m0-23h0m-1-18h0m3 6h0m1-2h0m-6-3h0m1 11h0m4 20h0m-4 31h0m3-12h0m3-4h0m-1 21h0m-2-22h0m2 34h0m1 0h0m-2-11h0m-1-28h0m3 51h0m-2 0h0m1 10h0m0 0h0m3-44h0m-2 17h0m-3 56h0m2-26h0m3 20h0m-3-10h0m4 24h0m-3-34h0m4 93h0m-5-36h0m4 16h0m-1 22h0m0-37h0m-1 18h0m4-35h0m-1 9h0m1 26h0m-4 26h0m-2-14h0m2 0h0m1 33h0m0-4h0m0 0h0m0-9h0m1-1h0m4-5h0m-1 3h0m-3 57h0m3-11h0m-1 5h0m1-1h0m-3-1h0m2-23h0m-2 48h0m3-20h0m1 19h0m-3 1h0m1-8h0m-1-3h0m5 22h0m1 0h0m-5-9h0m6 6h0m-1 3h0m0 23h0m-2-18h0m3-13h0m-3 8h0m-2 5h0m4 4h0m0 13h0m-1-9h0m0-2h0m1-9h0m2-8h0m-4-7h0m2-1h0m-3-5h0m5 12h0m1 8h0m-1-2h0m-1 8h0m0 2h0m-2-1h0m1 7h0m1-9h0m2 6h0m0-4h0m-3-13h0m3 20h0m-1-35h0m3 19h0m-1-28h0m-1 45h0m0-6h0m2-28h0m-1-4h0m2 37h0m-2-16h0m0 7h0m3 7h0m-1-24h0m0 1h0m-3-5h0m5-2h0m-1-24h0m-1 27h0m-2-16h0m4 4h0m-2 4h0m-2 29h0m6-21h0m-4 19h0m-1 0h0m0 2h0m1 3h0m2-60h0m1-3h0m0 49h0m-1-9h0m1-1h0m-3 27h0m2-9h0m2-18h0m2 5h0m-1 8h0m2 13h0m-6 3h0m4-5h0m0-23h0m2-18h0m1 3h0m-6 18h0m5 26h0m2-14h0m-1 4h0m-4 1h0m1 11h0m-1-11h0m2 9h0m-1-24h0m1 31h0m-1-17h0m4 8h0m-2 5h0m-1 7h0m0-11h0m2-43h0m-3 28h0m5-13h0m1 2h0m-5 5h0m4-8h0m1-8h0m1 24h0m0-18h0m-5-4h0m1 25h0m5-8h0m-3-32h0m-1 27h0m3 8h0m-4-3h0m5 0h0m-1-11h0m2 8h0m-1 9h0m0-15h0m-4 19h0m4-23h0m2 16h0m-1 11h0m1-6h0m0-3h0m-4 2h0m5 15h0m0 2h0m-5-18h0m3-17h0m4 1h0m-2 8h0m-4-4h0m3 13h0m1-32h0m2 46h0m-3-12h0m3-21h0m-3 2h0m-1 9h0m2 10h0m0-23h0m2 24h0m-3-16h0m-1 19h0m6-30h0m-3 29h0m2-10h0m-4 27h0m4-15h0m-3-19h0m4-1h0m2 6h0m-2 13h0m-1-19h0m-2 16h0m3-8h0m1 26h0m1-13h0m-3-8h0m3-18h0m-2 33h0m1 4h0m3-14h0m-3 9h0m-3-5h0m4-15h0m-1 16h0m-1 13h0m0-37h0m1 8h0m4 14h0m1 0h0m-5-18h0m4 29h0m0 10h0m0 6h0m0-12h0m2-15h0m-5-17h0m5 5h0m1-11h0m-5-8h0m5 17h0m0-10h0m-5 16h0m3 1h0m0 9h0m4-25h0m-7-4h0m7-9h0m-6 14h0m3 15h0m3-29h0m-4-1h0m4 5h0m1 15h0m-5-9h0m5 6h0m1-24h0m-1-1h0m-5 13h0m1-4h0m4 2h0m-4 19h0m5-12h0m-1-2h0m-3-2h0m5 3h0m0 16h0m0 17h0m-2-36h0m3 13h0m-5 10h0m5-1h0m0 0h0m1-26h0m-3 10h0m2 2h0m2-8h0m0 41h0m-3 9h0m-3-51h0m4-14h0m1 39h0m-4 9h0m5-32h0m1-4h0m-5 36h0m3-7h0m-1-18h0m0 12h0m3-3h0m-1 3h0m2 9h0m-5-12h0m4 5h0m-4 24h0m3 11h0m-3 18h0m6-29h0m-1 2h0m-1-2h0m0-2h0m4-23h0m-4 18h0m3 6h0m-3-7h0m4 2h0m-3 5h0m1-2h0m-2-20h0m2 33h0m1-4h0m-4-6h0m4 5h0m-2-26h0m4 6h0m0-5h0m-4-10h0m3 4h0m-1 1h0m-1 17h0m-1-5h0m6 4h0m-1-2h0m0-31h0m0 8h0m-4 4h0m6 12h0m-3-4h0m2 13h0m-1 6h0m-2-7h0m1-6h0m-1-1h0m2-3h0m-2-6h0m6 0h0m-5 7h0m4-4h0m-2 6h0m2-34h0m-3 41h0m2 2h0m0-15h0m1 11h0m-1-5h0m3-31h0m0-5h0m-3 22h0m-2 2h0m1-25h0m7 23h0m-4-13h0m-2-13h0m2 38h0m-2-31h0m4-13h0m-3-15h0m1 9h0m1-14h0m-1 5h0m4-2h0m-2-4h0m0 18h0m-1-23h0m2-17h0m1 25h0m2 3h0m-6-21h0m5 8h0m-3-32h0m2-20h0m3 28h0m-2-2h0m2 19h0m-5-25h0m3-2h0m3-16h0m-5 3h0m2 28h0m2-36h0m-1-22h0m1 14h0m-4 0h0m0-2h0m3 13h0m0-42h0m3 16h0m0 29h0m2-33h0m-1-24h0m-2 25h0m0-19h0m1 12h0m1-28h0m-3 14h0m2 7h0m2-1h0m-4 36h0m0-80h0m1 37h0m1-15h0m1-29h0m3 44h0m-4-10h0m0-5h0m5-14h0m-6 9h0m3 42h0m3-29h0m-2-26h0m-1 10h0m4 2h0m-6-39h0m2 17h0m3 4h0m0 11h0m-4-14h0m4-9h0m1 33h0m-3-28h0m1 14h0m4-16h0m-1 28h0m-3-50h0m5 11h0m-1-4h0m-2 12h0m-2-17h0m2-2h0m4 12h0m-4 25h0m0-26h0m0-31h0m4 18h0m0 13h0m0-13h0m-3-32h0m1 21h0m3 50h0m-1-32h0m-3 25h0m3-18h0m-2-40h0m3 50h0m-2 7h0m0 18h0m0-51h0m-1-21h0m0 2h0m1 10h0m5-13h0m-4 32h0m2-22h0m-3 38h0m-1 3h0m5-49h0m0 21h0m0-10h0m2 23h0m-2-24h0m-1 21h0m0 7h0m1-5h0m1-3h0m-1-25h0m-1 41h0m1-34h0m1 17h0m2-21h0m-2 14h0m0 7h0m-2 21h0m5-21h0m1 9h0m-3 4h0m1-27h0m2-18h0m-1-41h0m2 21h0m0-4h0m-1 46h0m-1 16h0m2-21h0m-1 40h0m-1-61h0m4 10h0m-1 54h0m1-41h0m-5 10h0m1-12h0m0-18h0m3 46h0m-3-23h0m3 31h0m-2-5h0m2 26h0m-3 12h0m0-15h0m4-23h0m3 16h0m-6-7h0m5 16h0m0 41h0m-4-32h0m-1 17h0m1-15h0m-1-6h0m5 13h0m0-13h0m-2-10h0m3 9h0m1 9h0m-3-20h0m3-1h0m-2 38h0m-2-21h0m3-4h0m-3 8h0m1 11h0m5 12h0m-5-12h0m4-39h0m1 39h0m-3-26h0m-1-10h0m6-5h0m-3 52h0m-1-17h0m-1-5h0m2 5h0m4 10h0m-3-31h0m-2 4h0m0 21h0m-1-13h0m2 23h0m0-22h0m1 13h0m4-2h0m-2-17h0m3 2h0m-5 63h0m1-1h0m1-47h0m2-3h0m-3 10h0m2 32h0m0-13h0m2-21h0m-5 16h0m0-1h0m2 11h0m3 17h0m-4-7h0m2-36h0m4 32h0m-5 31h0m0-43h0m1 8h0m3 24h0m-1-23h0m1 19h0m-1-5h0m3 30h0m-3-7h0m-2-25h0m3 18h0m-2 13h0m-1 8h0m4 0h0m1 5h0m2 54h0m-3-14h0m3-17h0m-2-27h0m1 6h0m-1 29h0m-1-22h0m4 8h0m-2 3h0m-4 30h0m1-7h0m3 7h0m-3 4h0m6-3h0m0 13h0m-1-1h0m-3 2h0m4-9h0m-2 8h0m-2 4h0m5 6h0m-4 2h0m1-23h0m-2 15h0m4-35h0m-1 36h0m-1-9h0m1-4h0m1 11h0m-2-7h0m3 15h0m-1 16h0m0-18h0m5 5h0m-3-19h0m-3-11h0m0 7h0m4-15h0m-1 15h0m3 20h0m0-6h0m1-9h0m-1 2h0m-2 10h0m4-6h0m-6 30h0m4-41h0m3 33h0m-2-7h0m-3-12h0m1 18h0m4 1h0m-4-8h0m2-18h0m-2 5h0m-1-25h0m0 6h0m6 56h0m0-6h0m0-12h0m-4 2h0m2-20h0m1-2h0m-3 21h0m1-4h0m2 15h0m1-3h0m-2-11h0m1 4h0m-1 20h0m0-21h0m4 21h0m0-15h0m-5-74h0m1 22h0m6 56h0m-4 2h0m0-7h0m1 3h0m-1 1h0m1 2h0m4 15h0m-2 8h0m0-14h0m-1 3h0m1-5h0m3 15h0m-2 7h0m-1-25h0m-1 1h0m1-2h0m3-2h0m0 4h0m0-5h0m-1 7h0m-1 27h0m3-8h0m2 2h0m-5-4h0m4-17h0m1 13h0m-3-41h0m0-7h0m1 43h0m2-12h0m-2 19h0m-2-23h0m4-12h0m-4 6h0m1-9h0m1 22h0m2-20h0m-2 3h0m4 3h0m-2 10h0m0 6h0m-3-42h0m2 13h0m-1 10h0m5 12h0m-5-17h0m6 7h0m-3-5h0m-1 7h0m3-5h0m1-1h0m-3-9h0m4 13h0m-5-13h0m3 0h0m-2 17h0m2 5h0m1-10h0m-1-12h0m3-13h0m-5-11h0m6 25h0m-6 10h0m3 7h0m-1 4h0m-2-21h0m4-5h0m0 6h0m-3 6h0m6-3h0m-6 8h0m5-16h0m-4-19h0m2 12h0m4 15h0m-2-9h0m-3-7h0m0 24h0m1 4h0m0-23h0m1 0h0m4 19h0m-2-24h0m0 12h0m3-8h0m0 1h0m-5-14h0m3 16h0m0 33h0m-2-33h0m4-7h0m-1 43h0m1-30h0m0 7h0m-1 17h0m1 19h0m3-44h0m-4 12h0m2-8h0m-4-7h0m2 6h0m5-10h0m-4 11h0m0-5h0m3 21h0m1-4h0m0-40h0m-3 42h0m1-5h0m1-5h0m-4 0h0m1 25h0m6-21h0m-1-24h0m2 7h0m-2 31h0m1-11h0m-3-52h0m2-3h0m-4 38h0m3-11h0m-2-13h0m2 22h0m0 17h0m-2-17h0m5-17h0m-4 6h0m1 4h0m-1-6h0m1 6h0m4 2h0m0-23h0m-4-4h0m6 32h0m-3-9h0m1 6h0m2 19h0m0-12h0m-5-5h0m3 5h0m-2-4h0m2-8h0m4-1h0m-2 28h0m2-21h0m1 16h0m-1 15h0m1-24h0m1-6h0m-5-13h0m3 8h0m-2-7h0m0 13h0m3-15h0m-5 7h0m3 8h0m1-4h0m3 11h0m-1 4h0m-4-4h0m5 14h0m-2-27h0m3 23h0m-2-33h0m-3 24h0m4-6h0m-1 14h0m-2 3h0m2-34h0m-2 20h0m5-1h0m-5-21h0m6 20h0m-6-14h0m1 17h0m1-11h0m2 9h0m-1 1h0m3-9h0m-3 9h0m1 4h0m0-11h0m0-15h0m-1 10h0m3 8h0m-3-20h0m0 8h0m3 21h0m-2-8h0m1-33h0m-1 14h0m2-13h0m3 6h0m1-8h0m-6-4h0m3 38h0m2-44h0m1-5h0m-1 31h0m3 2h0m-5-7h0m2-4h0m-2 0h0m4-4h0m1-24h0m-5 9h0m3 38h0m3-8h0m-3-26h0m-2 3h0m5-15h0m-2-34h0m2 25h0m-1 18h0m-3 7h0m5 23h0m-6-19h0m4-14h0m0 10h0m1 8h0m2-17h0m1-5h0m-6-4h0m0-27h0m1 14h0m3-6h0m-1 18h0m-1-43h0m0 16h0m1-4h0m3-33h0m0-8h0m-1-5h0m3-19h0m1 15h0m0 8h0m-5 3h0m-1-19h0m2-9h0m2 25h0m-1-29h0m-1-6h0m-1-15h0m4 31h0m1-6h0m2-25h0m0 2h0m-3 3h0m-3 25h0m2-33h0m2-6h0m-1 6h0m-1-17h0m5 24h0m-2 11h0m2-9h0m-1-10h0m-2-39h0m2 44h0m1-5h0m-3-42h0m1-2h0m0 9h0m-2 42h0m1-59h0m6-4h0m-6-27h0m2 57h0m-1-22h0m6 11h0m-3 12h0m-3-3h0m4-43h0m-2-110h0m1 38h0m-2 96h0m2 12h0m-2-8h0m4 16h0m1 11h0m-2-1h0m0-33h0m4-23h0m0 1h0m1 18h0m1-9h0m-4 56h0m-2-66h0m2 32h0m-1-12h0m5-33h0m-5 28h0m1 47h0m1-57h0m0 14h0m0-12h0m1 37h0m3-56h0m2 16h0m-1 12h0m0-7h0m-1 53h0m2-49h0m0-8h0m-1-7h0m1-57h0m-2 42h0m4 17h0m-6-23h0m5 18h0m-1 1h0m-2-38h0m-2 43h0m5-35h0m-3-3h0m4 2h0m-1 26h0m-1-9h0m-3 7h0m3 8h0m3-11h0m1-58h0m-6 30h0m3 20h0m-2-35h0m1 43h0m1-38h0m-2 1h0m3 22h0m-1-26h0m0 67h0m1-19h0m2-3h0m-2-29h0m3 68h0m-2-32h0m-1 9h0m3-24h0m-1 29h0m-1-4h0m3 7h0m-4-30h0m1 11h0m4 3h0m1-11h0m-3-10h0m1 27h0m-2-1h0m3-19h0m2 10h0m-3 44h0m0-39h0m4 9h0m-3-20h0m-1 22h0m0 18h0m4-8h0m0 1h0m-4-10h0m6 3h0m-2-6h0m0 38h0m-3-33h0m4 22h0m-2-35h0m-1 46h0m5-21h0m-6-3h0m5-14h0m0 5h0m-1 47h0m-1 7h0m0-55h0m2 1h0m-2-1h0m3-13h0m-1 59h0m3-29h0m-3 28h0m2-21h0m1-17h0m-5-10h0m2 26h0m4-10h0m-3-15h0m2 8h0m3 0h0m-6-30h0m6 33h0m-2-15h0m2 40h0m0-13h0m-2-8h0m1 12h0m1 11h0m-2-4h0m4 12h0m-6-11h0m1 29h0m3 5h0m2-20h0m0 35h0m0 5h0m1-14h0m0-5h0m-1 11h0m1 17h0m0-23h0m-5-4h0m6 32h0m-4 34h0m4-52h0m-6 32h0m4 42h0m-1-26h0m-1 17h0m4-11h0m-4 6h0m-1-11h0m2 3h0m4 22h0m-4-7h0m3 24h0m-1-31h0m1 12h0m3 25h0m-1-28h0m-1-14h0m3 71h0m-3-10h0m-2-42h0m2-12h0m-2 51h0m1-4h0m3-1h0m2-3h0m-2-21h0m-1 21h0m3-29h0m-3 13h0m4 10h0m-5 12h0m2 16h0m2-8h0m-1 9h0m1-6h0m-3-21h0m1 6h0m0-24h0m-1 33h0m5-11h0m-4 20h0m2 8h0m-2-11h0m5 3h0m-3 3h0m3-11h0m-2 14h0m0 4h0m0 6h0m2 8h0m0 2h0m2 2h0m-6-18h0m5 1h0m0-11h0m-3 22h0m5-14h0m-1 20h0m1-10h0m0-2h0m-1 3h0m-1 11h0m-3-3h0m0 33h0m0-12h0m4-4h0m3 8h0m-5 10h0m1-29h0m1-9h0m-1 23h0m1-11h0m2 11h0m-3-7h0m3 12h0m-3 10h0m6-22h0m0 23h0m-4-5h0m-1-7h0m2 2h0m2-8h0m0-6h0m1 32h0m-4-28h0m6 3h0m-1-6h0m-3-10h0m0 17h0m-1-4h0m1 3h0m4 26h0m-1-6h0m-3-34h0m-1 29h0m6 14h0m-2-14h0m3-22h0m-4-5h0m0 27h0m3-14h0m0-7h0m-1-4h0m-2 9h0m4-5h0m-1-13h0m-3 18h0m0-15h0m3 1h0m3 18h0m0 10h0m1-8h0m-2-9h0m-1 10h0m-3-3h0m6 1h0m0-4h0m-1 4h0m-2-5h0m2 8h0m2 21h0m-5-9h0m3 3h0m-2-16h0m1-7h0m3 3h0m2 10h0m-6-29h0m2 4h0m4-3h0m-4-4h0m0 31h0m-1-2h0m0-16h0m0-2h0m1 12h0m5 5h0m-3-6h0m2 9h0m2-7h0m-3 1h0m-1-19h0m-2 1h0m4 20h0m0-2h0m-1-13h0m0 0h0m4 20h0m0-7h0m-2-14h0m0 16h0m-3-19h0m7-8h0m-6-2h0m4 9h0m3-11h0m-6 3h0m1 20h0m0-5h0m1-18h0m0 20h0m1-1h0m-2-5h0m7-1h0m0-6h0m-1 24h0m-1-1h0m-1 1h0m-2-4h0m5 2h0m-5 14h0m1-1h0m5-45h0m0 15h0m-5 26h0m5-11h0m-1-14h0m2 13h0m0-2h0m-5-4h0m2 9h0m-1-14h0m1 28h0m2-25h0m3 10h0m0-1h0m-4-5h0m2-1h0m0 6h0m0-4h0m2 16h0m-5 9h0m0-62h0m4-1h0m-1 8h0m2 7h0m-3-15h0m1-4h0m4 12h0m-2 13h0m-2-25h0m4 6h0m-2 9h0m1-4h0m2 0h0m0 24h0m-5-3h0m3 4h0m3-18h0m-2 19h0m1-13h0m2 7h0m-1-6h0m1 10h0m0-5h0m-2-12h0m-1 17h0m2 7h0m-1 6h0m2 11h0m-5-19h0m4-8h0m3-10h0m-2-17h0m-3 53h0m0-35h0m3-17h0m-2 37h0m5 16h0m-2-38h0m-4-8h0m4 35h0m2-2h0m-1 4h0m1-19h0m-5 5h0m7-3h0m-3 6h0m-2-16h0m5 8h0m-5-16h0m1 37h0m1-32h0m4 20h0m-6-14h0m2 21h0m2-21h0m2 29h0m1-7h0m-5-9h0m2-21h0m-2 33h0m0-11h0m2 6h0m3-20h0m-4 8h0m0 8h0m0 13h0m4-17h0m-2 5h0m4-24h0m0 31h0m0-3h0m-1 2h0m-3-7h0m3 1h0m-3 1h0m1-5h0m3 6h0m-4-22h0m4 53h0m-1-6h0m-2-52h0m3 15h0m3 0h0m-3 5h0m0-2h0m-2-7h0m5 14h0m-1-3h0m-4-30h0m2 7h0m3 3h0m-3 24h0m2-19h0m2 14h0m0-21h0m-1-2h0m-2 9h0m4 11h0m1-12h0m0-31h0m-4 7h0m-1 15h0m0-29h0m2 16h0m2 4h0m-2 10h0m-1-17h0m5 1h0m-2 7h0m1 9h0m3-16h0m-4-10h0m1 38h0m2-40h0m-3 21h0m3 9h0m-4 17h0m4-43h0m2 3h0m-3-2h0m0-20h0m3-1h0m-1 15h0m-4-21h0m3 3h0m0 11h0m-2 11h0m0-48h0m0-15h0m0 32h0m0 3h0m2-13h0m2-15h0m1 3h0m1-7h0m0-1h0m1 40h0m0-25h0m-3 12h0m-1-22h0m-1 12h0m5-41h0m0 33h0m-1-3h0m-1-5h0m4 23h0m-5-58h0m2 36h0m1-20h0m1 28h0m2-27h0m-4-12h0m4 11h0m-5-7h0m5 22h0m0-3h0m-4-29h0m1-6h0m-1-34h0m4-5h0m2 46h0m-1-7h0m-1-19h0m-1 9h0m-2-25h0m3 20h0m1-31h0m1 19h0m-2-19h0m1 26h0m1-12h0m1-19h0m2 20h0m-1-62h0m1 63h0m-6-14h0m4 23h0m1-58h0m-1 0h0m3 11h0m-6 5h0m3 10h0m-2 13h0m3-16h0m2 15h0m-1-5h0m-3-21h0m1-8h0m2-28h0m1 64h0m-2-40h0m2 12h0m-2-19h0m1 22h0m3 0h0m1 3h0m-1 23h0m-2-62h0m-2 2h0m6 30h0m0-12h0m0 44h0m0-7h0m-2-1h0m-2 3h0m2-34h0m2 18h0m-5 22h0m4-9h0m-1 2h0m4-6h0m-2 37h0m-3-6h0m0-43h0m5 20h0m1 11h0m0-13h0m-1-11h0m-3 30h0m4-20h0m0 12h0m-3-23h0m1 8h0m4 14h0m-3-40h0m-1 39h0m4-25h0m1 66h0m-5-31h0m4 6h0m-4-15h0m4 38h0m-1-3h0m-2-39h0m3 7h0m-2-20h0m2 6h0m-3 25h0m2-14h0m2 6h0m-1-1h0m-2 13h0m5-21h0m-2-5h0m-4 12h0m5-1h0m2-25h0m-6 44h0m6-26h0m-6-25h0m5 45h0m-1-27h0m-2 1h0m0 3h0m4 22h0m-5-11h0m2-17h0m2 0h0m3 20h0m-1-15h0m0 14h0m-4 2h0m5-21h0m-3 42h0m3-32h0m-1 17h0m0-16h0m-1-8h0m-2-23h0m1 62h0m5-21h0m-5-17h0m5 25h0m-4-21h0m4 14h0m-3 0h0m-1 38h0m3-27h0m2 4h0m1 17h0m-4-14h0m1-26h0m1 42h0m1-29h0m2-3h0m-5 31h0m1-8h0m3 8h0m2 18h0m0-32h0m-1 16h0m-3 18h0m0-22h0m-1-3h0m0-5h0m2 37h0m5-6h0m-4 17h0m-1 14h0m0-11h0m4 4h0m-3-19h0m2 32h0m-3-12h0m0 20h0m4-22h0m-3-17h0m4 51h0m-3-27h0m4 7h0m0-4h0m2 8h0m-3 27h0m-2-6h0m-1 42h0m4-50h0m2 2h0m1 9h0m-6 37h0m3 7h0m1-41h0m1-24h0m-2 27h0m1 25h0m-2 15h0m4-10h0m-1-29h0m-3-24h0m2 56h0m3-20h0m-4 26h0m2 1h0m-1-32h0m-1 14h0m1 36h0m5 13h0m1-2h0m-2-26h0m3 1h0m-2 37h0m1-22h0m1 9h0m-3 8h0m1 2h0m1-6h0m-2 2h0m-1 10h0m5-2h0m-3-6h0m3 20h0m-1-29h0m2-8h0m0 15h0m-2 10h0m-3-17h0m5-2h0m-1-6h0m0 1h0m1-3h0m2-1h0m-6 10h0m1 2h0m5 12h0m-2 1h0m2-27h0m0 18h0m-1 0h0m-2-31h0m1 12h0m2-19h0m0 14h0m-3 19h0m4 0h0m-4 14h0m1-1h0m4-17h0m-1-15h0m-2-12h0m-2 7h0m6 26h0m-4 1h0m4-11h0m-3 24h0m-1-2h0m0-30h0m5-14h0m-3 24h0m4 11h0m-5 12h0m0-6h0m4-21h0m-4-19h0m6-4h0m-5 1h0m3 12h0m2 8h0m1 15h0m-5 7h0m2-5h0m3 25h0m0-45h0m-3 18h0m3-22h0m-1 10h0m0 6h0m-2 10h0m2-4h0m0 5h0m3-3h0m-1-21h0m-4-3h0m5 17h0m-5 12h0m6 6h0m-6-6h0m6-22h0m0-6h0m-2 10h0m2 28h0m-4-48h0m3 27h0m-3 6h0m5-22h0m-1-9h0m2 30h0m0-19h0m1-6h0m-3 7h0m-2 14h0m3-9h0m3-13h0m0 12h0m-2-9h0m0 17h0m-2-14h0m0-5h0m5 1h0m-5-5h0m4 11h0m1 16h0m-4 5h0m2 1h0m2-27h0m-2-14h0m2 21h0m-1 11h0m-2-16h0m4 7h0m-2-3h0m4 14h0m-5-19h0m4-6h0m0-16h0m-3 10h0m2 18h0m3-15h0m-4-15h0m1 8h0m3 12h0m-5-7h0m5 40h0m0 0h0m0-27h0m0 22h0m0 3h0m-3-1h0m4 3h0m-2-5h0m0-14h0m0-17h0m0 8h0m-1-8h0m4-18h0m-1 9h0m3 4h0m-2-1h0m-1 13h0m3-1h0m-2 4h0m3-10h0m-2 24h0m-3 0h0m4-17h0m-4-17h0m4 1h0m-2 28h0m3 0h0m-2-1h0m1-14h0m-1 11h0m-1 4h0m3-10h0m-3-6h0m0 15h0m0 117h0m2 4h0m3-127h0m0 19h0m-4-6h0m2-35h0m-1-2h0m-1 28h0m3 20h0m3-72h0m-3 39h0m0-20h0m0-19h0m-2 0h0m3 30h0m0-5h0m1-4h0m-2 2h0m0 4h0m5 9h0m-2 5h0m1-1h0m-2-22h0m2 3h0m2-14h0m-3 22h0m-2-5h0m4 7h0m-4 15h0m5-13h0m1-2h0m-2-3h0m-2 0h0m3 6h0m2 2h0m0 0h0m1-28h0m-4-12h0m-1 51h0m4-26h0m1 17h0m1 0h0m-6-57h0m1 49h0m5-6h0m-3-10h0m-1 15h0m2 6h0m-2-11h0m4 0h0m-2 31h0m4-20h0m-2-38h0m0 26h0m-3 4h0m0-14h0m3-7h0m3 21h0m0-21h0m1 6h0m-3 12h0m-2 10h0m4-3h0m-2-15h0m1 32h0m2 3h0m-4 0h0m2 5h0m1-16h0m2-2h0m-2 12h0m-1 4h0m1-2h0m3-4h0m-1 22h0m-5-5h0m2 4h0m2-5h0m-1 0h0m4 6h0m-5-16h0m-1-5h0m1 11h0m3 2h0m-2 12h0m2-5h0m3-10h0m0 11h0m-6-14h0m5-1h0m-2 10h0m4-4h0m-2 9h0m-3-7h0m6-18h0m-5 3h0m4 10h0m-2-27h0m-2 1h0m2 96h0m2-15h0m3-67h0m-6-13h0m2 27h0m2-13h0m-1-30h0m0 23h0m4 21h0m-1-8h0m-3-8h0m3-6h0m-1 1h0m0-23h0m0 25h0m-2 3h0m3 13h0m3-61h0m0 21h0m0 7h0m0-19h0m-2 2h0m1-17h0m-1 24h0m0 8h0m-2-4h0m5-14h0m-5-12h0m4-6h0m-1 15h0m0-14h0m0-29h0m0 3h0m0 38h0m0-58h0m4 6h0m0 17h0m-5-28h0m4 26h0m-1-40h0m1 35h0m0-10h0m1-22h0m0 11h0m-1-22h0m-1 14h0m2-13h0m2 29h0m-4-24h0m4-9h0m0 10h0m-3-5h0m4-16h0m0-12h0m-1 18h0m3 20h0m-6-11h0m2-11h0m3-19h0m-1-31h0m1 11h0m-5 17h0m4 40h0m-1-59h0m4 13h0m1-25h0m-6 5h0m4 11h0m1-18h0m-5-5h0m5 39h0m1-16h0m-5-28h0m3 10h0m0-36h0m-2 5h0m4 34h0m-5-20h0m4-32h0m2 5h0m-2 34h0m1 14h0m1-1h0m-5 2h0m2-23h0m3 1h0m1-8h0m-4 1h0m4-18h0m1 19h0m-2 19h0m-1-6h0m-2-41h0m4 18h0m-2-4h0m-1 11h0m2-31h0m3 13h0m0 28h0m0-11h0m-1-58h0m-1 64h0m0-26h0m0-5h0m-1-4h0m3-1h0m3-36h0m-2 12h0m-3 12h0m1-28h0m3 44h0m2-28h0m-2 37h0m-2 18h0m4 8h0m-3-3h0m-2 15h0m0-43h0m4 30h0m-3 9h0m2-10h0m-1 25h0m-1-31h0m2-16h0m2 19h0m2 13h0m-1-22h0m0-17h0m2 15h0m0 2h0m-3 3h0m2 13h0m-4-45h0m0 38h0m0-45h0m1 22h0m5 55h0m-4 5h0m2-44h0m-1-17h0m0-8h0m-1 32h0m1-10h0m0-19h0m1 25h0m-1-22h0m3-6h0m4 11h0m-6 2h0m1-10h0m-1-4h0m5 41h0m0-47h0m-4 23h0m0 4h0m5 6h0m-3 20h0m2-13h0m-4 5h0m4-30h0m3 5h0m0 44h0m-6-3h0m6-15h0m1-3h0m-5-29h0m4 8h0m-1 32h0m2-26h0m-1-18h0m0 32h0m0 26h0m-3-18h0m5 4h0m-5-38h0m1 25h0m0 6h0m1-23h0m5 5h0m-4 7h0m4-18h0m-4 17h0m4 15h0m-5 24h0m0-16h0m2-10h0m1-10h0m0-1h0m3 29h0m0-26h0m-2 16h0m-2-16h0m0-4h0m1 19h0m-1 6h0m1-16h0m-1 19h0m6 22h0m1-30h0m-6 5h0m2 31h0m1-15h0m1 1h0m-1 5h0m-1-5h0m1 15h0m-1 14h0m0-13h0m0 14h0m3 26h0m2-6h0m-1 13h0m1-30h0m0 41h0m-2-10h0m-2-31h0m5 36h0m-3-44h0m1 63h0m1 19h0m-4 0h0m2-16h0m3 23h0m1-17h0m-1-4h0m-2-10h0m4 30h0m0-23h0m-2 21h0m-2-4h0m6 1h0m0-5h0m-5-13h0m1 25h0m3 37h0m-2-25h0m3 8h0m-3-15h0m5 48h0m-2-21h0m-2-6h0m-1-2h0m3-110h0m2 91h0m-4 34h0m3-11h0m1 10h0m-4 6h0m4 13h0m-4-9h0m5 3h0m0-17h0m-3 12h0m4 0h0m-3-41h0m0 20h0m-2 8h0m0 19h0m6-5h0m-5 6h0m0 21h0m4-33h0m-3 11h0m4-23h0m1 17h0m-4 0h0m-1 0h0m6 3h0m-3 4h0m-2-7h0m1 10h0m-1 9h0m6-4h0m-4-5h0m4-12h0m0-8h0m-1 6h0m0 9h0m-4-35h0m2 11h0m4 4h0m0 10h0m0-16h0m-2-2h0m1-7h0m0-3h0m1-8h0m2-27h0m-1 32h0m-1-25h0m2 28h0m-2 4h0m-1 1h0m1 19h0m-3-58h0m1 55h0m1 13h0m-1-5h0m2-2h0m-2 10h0m5-3h0m-1-13h0m2-4h0m1 16h0m-6-10h0m4 28h0m2-9h0m0-4h0m0 19h0m1-29h0m-1 10h0m2-7h0m0 13h0m-6 20h0m1-4h0m4 22h0m0-23h0m0-28h0m3 20h0m-4 6h0m0-8h0m-1 6h0m4-18h0m-4 13h0m2-6h0m3 3h0m1 29h0m-1-2h0m1-25h0m-3-13h0m1 20h0m2 10h0m1-15h0m-5 18h0m4-25h0m-2 16h0m0-4h0m3 14h0m-1-18h0m-2 6h0m3-17h0m-4 10h0m3 23h0m-3-1h0m2-23h0m0-16h0m5-10h0m-1 23h0m0 4h0m2-17h0m-6-2h0m3-9h0m-1 15h0m0 4h0m2-13h0m-1 7h0m-1-7h0m5 14h0m-3-7h0m-2 16h0m4 7h0m3-12h0m-1 7h0m-4-1h0m-1 9h0m3-25h0m-1-3h0m5 11h0m-3-7h0m1 9h0m-2 4h0m-2-12h0m0-12h0m2 9h0m0-7h0m-1 9h0m2 0h0m3 0h0m-1-1h0m-1 10h0m-1-5h0m0-11h0m3 20h0m-1-11h0m3-18h0m-1 22h0m-2-12h0m5 37h0m-4-7h0m0-18h0m0 6h0m-1-11h0m0 13h0m1 14h0m0-27h0m1 12h0m-1 4h0m1-1h0m0 10h0m1-20h0m-3 9h0m3-20h0m0 11h0m2 13h0m2 24h0m-3-20h0m1-7h0m-3 2h0m0 8h0m3-6h0m-2-10h0m2-19h0m1-1h0m1 20h0m-4-13h0m1 18h0m0 3h0m7 15h0m-6 2h0m0-12h0m0-19h0m2-2h0m2 13h0m1-1h0m-1 4h0m-1 21h0m4-4h0m-6-9h0m6-9h0m-2 21h0m0 23h0m0-28h0m-2 6h0m2-16h0m3-4h0m-2-7h0m-3 27h0m0 9h0m0 2h0m4-10h0m2-20h0m-4-91h0m2 96h0m-3 8h0m4 13h0m0 2h0m-2-10h0m3-4h0m-4-2h0m0 28h0m4-7h0m-3-10h0m0 3h0m5 5h0m0-52h0m-3-8h0m0 12h0m-1 1h0m3 27h0m3-1h0m0-25h0m-4 2h0m-1-6h0m2 4h0m0 8h0m5-17h0m-2 9h0m-2 10h0m0 1h0m0-22h0m1 10h0m-3-5h0m4 12h0m1 1h0m-2 24h0m-2-4h0m2-14h0m0 15h0m3-4h0m-3 9h0m-1-9h0m3-5h0m4 16h0m-2-38h0m-1 16h0m-3-16h0m0-8h0m6 12h0m-4-7h0m4 9h0m1 6h0m-3 0h0m1-8h0m-2-8h0m3-20h0m0 22h0m0-4h0m-1-29h0m-1-7h0m5 38h0m-2-21h0m-1-3h0m3 24h0m-6-16h0m1 4h0m2-3h0m1-24h0m2 11h0m-2 13h0m-1 9h0m3-12h0m0 4h0m-2-10h0m5-30h0m-3 25h0m2 2h0m-2 3h0m-1 19h0m1-52h0m1 9h0m-1 32h0m3-7h0m-2 1h0m-1 20h0m2 0h0m-1-6h0m0-17h0m0-36h0m1 14h0m-2 9h0m5-1h0m-2 0h0m-3 2h0m5-3h0m-3-3h0m2-12h0m1 19h0m-4-20h0m4-11h0m-3-6h0m2 15h0m-1-28h0m-1 18h0m2-65h0m0 39h0m3 12h0m-3-10h0m1-4h0m1-23h0m2 11h0m0 9h0m-3-35h0m4 24h0m0-12h0m-2-39h0m-2 9h0m-1 24h0m6 7h0m0-4h0m-3-10h0m4-7h0m0-12h0m-2 0h0m-2 28h0m5 6h0m-6-64h0m5 26h0m-4 21h0m2-23h0m-1 7h0m2 14h0m-1-3h0m4-25h0m1-17h0m-6-12h0m6 36h0m-4-58h0m-1 44h0m2-21h0m3-11h0m1-9h0m-2 60h0m-2-19h0m5-49h0m-6 59h0m5-24h0m0 7h0m-2 7h0m-1-4h0m3 0h0m1 11h0m1-9h0m-5-40h0m0-18h0m0 83h0m1-25h0m3-4h0m2-5h0m-3 16h0m3-38h0m-1 1h0m-1 33h0m3 1h0m-5-10h0m4-4h0m0 9h0m-3-4h0m-1 12h0m4 11h0m0-5h0m-2-30h0m2 12h0m2-38h0m-1 52h0m3 1h0m-2 13h0m3-30h0m-3 42h0m3-34h0m-5-47h0m3 27h0m-2-6h0m4 42h0m-1-5h0m-2-36h0m1 2h0m3 3h0m0-42h0m-3 56h0m1-31h0m2-37h0m-1 40h0m-2-11h0m1 23h0m2-9h0m1 10h0m-1 19h0m-1-8h0m2-35h0m0-11h0m0 17h0m1-18h0m-2 28h0m1 21h0m-2 0h0m3 8h0m-2-18h0m1 13h0m3 3h0m1-20h0m-4 1h0m3 15h0m1-9h0m0-31h0m0-1h0m-1 16h0m-3 27h0m1-18h0m5-1h0m-2 7h0m2 0h0m-4 10h0m2-27h0m0-10h0m-3 36h0m3-19h0m-1 34h0m2 16h0m1-59h0m-3 2h0m5 46h0m-5-7h0m0 6h0m5 5h0m-4-26h0m0 1h0m2-1h0m1 17h0m0-32h0m0-16h0m1 19h0m-1 0h0m0-14h0m2-1h0m-3 25h0m2 7h0m2 8h0m1 15h0m-1-32h0m-1 24h0m2 10h0m0 28h0m0-6h0m1-46h0m-1 43h0m0 36h0m1-2h0m-2-19h0m1 3h0m4-3h0m-3-11h0m2 26h0m-3-6h0m4-6h0m-3 60h0m-2-2h0m2-37h0m1 24h0m-1-27h0m1-10h0m4 28h0m0-30h0m-1 14h0m-1 47h0m-2-6h0m5-33h0m-2 22h0m-1 29h0m-1-13h0m2-31h0m-3 5h0m6-18h0m-3-1h0m4-13h0m-6 11h0m5 15h0m-3-27h0m4 33h0m-1 10h0m-4 16h0m5-13h0m0-26h0m-2-28h0m0 89h0m-1-27h0m4 10h0m0 2h0m-1-34h0m-3-7h0m4 40h0m-3-15h0m5 28h0m-4-18h0m1 18h0m-1-23h0m1 22h0m-2-23h0m4 19h0m0-5h0m2 2h0m-5 12h0m6 13h0m-4 1h0m3-6h0m-3-9h0m0 1h0m5 32h0m-2-7h0m0 3h0m-2-11h0m4 19h0m0 14h0m-3-36h0m3-8h0m0 27h0m-3-4h0m0-14h0m0 38h0m1 2h0m1 5h0m-1-11h0m4 8h0m-3-11h0m4 6h0m-2 19h0m0-12h0m1-11h0m2 16h0m-3-7h0m-1-13h0m-1-2h0m-1 17h0m1-30h0m1 8h0m0-8h0m2 33h0m1-12h0m-2 4h0m0 6h0m3 7h0m-1-10h0m2-10h0m1 31h0m1 13h0m-4-51h0m4 6h0m-4-10h0m2 26h0m-2-1h0m1-51h0m4 38h0m-4-3h0m5-14h0m-3 13h0m-1-17h0m2 3h0m0 1h0m-1-4h0m-1-5h0m1 5h0m-1 23h0m1-28h0m1 5h0m1 46h0m1-16h0m-1 4h0m1-19h0m-2 13h0m5 20h0m-5-3h0m4-35h0m0 20h0m0 41h0m-2-26h0m3 9h0m-3 0h0m-2-1h0m4 7h0m-1-16h0m0 13h0m0-7h0m-2 25h0m2 1h0m-2-31h0m1 0h0m0-3h0m6-2h0m-5 18h0m5-1h0m1-5h0m-4 9h0m3-13h0m-2 2h0m-1 12h0m-1-28h0m1 2h0m0-2h0m2-4h0m1-24h0m3 18h0m-2 7h0m2 0h0m-2-3h0m2 10h0m-2-16h0m2-10h0m0 33h0m1-17h0m-1 6h0m-3-5h0m-1 9h0m2-15h0m4 0h0m-5 10h0m2-14h0m1 9h0m1 8h0m-1-3h0m2-4h0m-4-10h0m0 27h0m3-16h0m-1 1h0m0 14h0m4-8h0m-4-2h0m2 1h0m-2 4h0m4-19h0m-4 20h0m2-13h0m-1-4h0m1-91h0m3 25h0m-3 50h0m-2 9h0m4-5h0m-1 16h0m2 20h0m-1 14h0m-2-23h0m0 18h0m1-12h0m3-3h0m-2-25h0m2-7h0m-1-4h0m-1 23h0m2 3h0m-2-9h0m4-5h0m-4 8h0m6-7h0m-4-5h0m4-1h0m0 11h0m0-21h0m-2-3h0m-3 12h0m2-16h0m1-4h0m3 20h0m-5-18h0m5-4h0m-3 11h0m-1-10h0m3-14h0m-2 21h0m0-14h0m-1 6h0m4 5h0m-3 8h0m4-6h0m-2-7h0m-2-2h0m0 21h0m5 9h0m-5-5h0m3 13h0m-1-9h0m5 19h0m-2-8h0m-4-2h0m5 14h0m0-1h0m-2 1h0m-1-9h0m2 13h0m1-54h0m-3 11h0m2 39h0m1 2h0m1 0h0m0-8h0m1-2h0m-4-3h0m6 18h0m-2 17h0m1-19h0m0-4h0m1-15h0m-2-11h0m2 11h0m-2-6h0m2 1h0m-2 2h0m-2 16h0m2-5h0m-1 6h0m4-19h0m-4 1h0m5 21h0m-3-16h0m0-7h0m3 10h0m-2-23h0m1 24h0m1-18h0m2 4h0m-5-19h0m2 10h0m4 26h0m-3-10h0m-3-1h0m3-2h0m2-4h0m1-13h0m-5 26h0m4-13h0m-4 0h0m4-16h0m-2 9h0m0 2h0m5 7h0m-2 33h0m-4-10h0m7-26h0m-5-1h0m3-3h0m2-5h0m0 38h0m-6-25h0m5 1h0m1-14h0m-2-5h0m-2 19h0m5 6h0m-2-3h0m2 10h0m-3 6h0m-2-16h0m4 5h0m3-7h0m-6-9h0m3-11h0m-2-15h0m5 3h0m-5 4h0m6-21h0m-4-9h0m2 18h0m-3-4h0m1 18h0m1-23h0m1-21h0m-3 18h0m0-14h0m3-13h0m-1 22h0m1 18h0m-1-26h0m4-5h0m-1 10h0m3-8h0m0-10h0m0 13h0m-4-7h0m1 1h0m0-7h0m3 4h0m0-10h0m-3-25h0m-1-1h0m1-14h0m1 30h0m1 1h0m-2-36h0m5 24h0m-1 25h0m0 14h0m-1-28h0m1 22h0m2-36h0m-2-14h0m0 4h0m3-10h0m1 42h0m-6-54h0m2 7h0m4 27h0m-2 6h0m-2-27h0m2 4h0m2-20h0m-1-31h0m1 55h0m-4-14h0m0-11h0m4-15h0m-2 26h0m2-7h0m-3-31h0m3 16h0m-1-44h0m3 16h0m-3 9h0m2-6h0m-1 32h0m3-22h0m0-10h0m-3 25h0m4-35h0m-3-3h0m-2-10h0m4 26h0m-1 8h0m-1-32h0m3 41h0m0-35h0m-3 33h0m0-2h0m0-30h0m5 14h0m0-17h0m0-12h0m-1 4h0m0 29h0m-2-35h0m-2 7h0m6 40h0m-4-29h0m4 24h0m-5 11h0m2-42h0m2 18h0m0-21h0m-2 12h0m0-16h0m6 27h0m-2 38h0m-3-44h0m2 5h0m-1-1h0m1-14h0m0-19h0m0 21h0m-1-8h0m1-6h0m0 31h0m4-3h0m1 10h0m-6-50h0m7-12h0m-3 4h0m-3 22h0m5 11h0m-2-2h0m0-25h0m3 31h0m1-17h0m-3-30h0m0 7h0m-2 6h0m1-1h0m1 27h0m4-14h0m-3 2h0m2-1h0m-5-11h0m5 18h0m-2 31h0m3-45h0m0 32h0m-2 19h0m1-55h0m1 17h0m-3 23h0m4-30h0m2-4h0m0 7h0m-5-27h0m1-14h0m2 40h0m0-23h0m-2-4h0m4 30h0m-1-36h0m3 14h0m-4-5h0m-1-1h0m6-6h0m-5 24h0m4 1h0m-3-15h0m-2-14h0m5 9h0m-1-20h0m-3-1h0m2-26h0m4 19h0m-6-3h0m2 42h0m2-30h0m-3 0h0m5 8h0m-3 10h0m0-17h0m-2-11h0m2 12h0m3-22h0m-1 12h0m-1 31h0m5 0h0m-4-24h0m2 27h0m-4-9h0m3 5h0m2-8h0m-4 4h0m3 22h0m0-8h0m2-26h0m-4 34h0m2-39h0m-1-30h0m-1 89h0m1-21h0m4-23h0m-2 43h0m-1-46h0m2 49h0m-2-28h0m-1-2h0m2 8h0m1 6h0m2 7h0m1-7h0m0 3h0m-3-4h0m2 14h0m2 19h0m0-18h0m1-41h0m-5 47h0m2-45h0m2 10h0m-1 37h0m0-20h0m2 22h0m0-8h0m-4-3h0m6 10h0m-5-34h0m2 3h0m1-8h0m1 10h0m2-6h0m0-18h0m-2 47h0m3 15h0m-3 5h0m2 2h0m2 15h0m-4 9h0m1-11h0m2-33h0m1 43h0m0-14h0m0-22h0m-2 8h0m0-2h0m1 41h0m1 7h0m0-31h0m-1-2h0m-1-6h0m-1 5h0m4-23h0m2 19h0m0-18h0m-5 43h0m0-5h0m6 21h0m-5-13h0m1 30h0m4 21h0m0 2h0m-2-16h0m1-13h0m1 24h0m-3 7h0m5-5h0m-5 38h0m0-5h0m5-9h0m-3 14h0m0-25h0m-2 28h0m2 29h0m2-29h0m2-20h0m1 44h0m-4-14h0m1-22h0m4 17h0m-4 2h0m3 5h0m-2 4h0m3-3h0m-5 0h0m1 19h0m1-2h0m1-13h0m0 3h0m2 1h0m-1 35h0m-1-36h0m-1 10h0m1 10h0m2-8h0m3 11h0m0 2h0m-1-11h0m-4-12h0m0 34h0m0-32h0m1 13h0m3 18h0m0-23h0m1 15h0m1-23h0m1-7h0m-4 7h0m-2 7h0m1-16h0m0-9h0m0 17h0m2 8h0m1-10h0m4-20h0m-4 25h0m3-27h0m-2 22h0m-2-13h0m1-3h0m2 19h0m1-7h0m-2 3h0m2-1h0m-2 20h0m2-21h0m2-13h0m-1 1h0m0-12h0m-3 4h0m5 33h0m-2-6h0m2 10h0m-5-18h0m3-11h0m-1 19h0m-1-4h0m3-13h0m-3-5h0m5 15h0m-4 18h0m2-17h0m3 18h0m-5-12h0m3-5h0m-3 10h0m1-16h0m1 5h0m2 11h0m1 14h0m0 10h0m1-18h0m-2 24h0m-1 14h0m0-36h0m3 6h0m0 10h0m-1-26h0m0 40h0m2 12h0m-3-52h0m1 2h0m-1 15h0m4 10h0m-1 4h0m-2-9h0m4-10h0m-4-76h0m2 94h0m1-7h0m1-15h0m-4 13h0m5 21h0m1-11h0m-1-18h0m1 3h0m0 1h0m-3-3h0m4 26h0m0 3h0m0-10h0m-3 4h0m-1-4h0m1 5h0m2 17h0m-2-17h0m2-17h0m4 7h0m-2 6h0m-3-21h0m0 18h0m4 22h0m-1-4h0m-3-9h0m3 3h0m-2-14h0m2-8h0m-1 35h0m4 3h0m-3-8h0m4-13h0m-2 4h0m-3 3h0m2-14h0m-1-7h0m4 8h0m-5-18h0m2 6h0m2-17h0m0 21h0m-1-15h0m1-1h0m-1 3h0m3 4h0m0 0h0m-4-16h0m0-13h0m2 3h0m2 20h0m-1-16h0m4 14h0m-5-3h0m6 9h0m-2-16h0m-1 5h0m-2 17h0m5-22h0m-1 20h0m-3-12h0m2 2h0m-1-3h0m5 4h0m-3 10h0m1-6h0m3-4h0m-1-16h0m-3-17h0m1-7h0m-3 17h0m6 7h0m-3 53h0m-2-51h0m0-18h0m1 44h0m2-13h0m2 6h0m-4 0h0m1-9h0m2-7h0m-1 4h0m4 12h0m-3-27h0m2-1h0m-4 17h0m1-10h0m2 12h0m0-13h0m1 10h0m-2 15h0m1-10h0m4 4h0m-4-4h0m3 13h0m-1-33h0m2-17h0m-2-4h0m0 9h0m4 23h0m-4-38h0m1 10h0m-2 35h0m0 15h0m6-33h0m-1 11h0m-2-9h0m3-8h0m1 7h0m-3 11h0m1 9h0m1-5h0m-1 1h0m2-7h0m2-20h0m-6-14h0m3-6h0m-1 14h0m2 1h0m-3-1h0m3 1h0m-2-5h0m1 1h0m3 14h0m-1 38h0m1-9h0m2-45h0m-6 4h0m5-1h0m-1 10h0m-3-22h0m2 13h0m-2 34h0m2-13h0m2 46h0m1-19h0m-1-1h0m2 7h0m-4-11h0m0 0h0m5-18h0m-5 3h0m3 34h0m2-2h0m1-34h0m-4 16h0m4-47h0m-5 18h0m2-30h0m-2 12h0m4 24h0m0 3h0m-3 12h0m2-23h0m-2 3h0m3 10h0m3 7h0m-2-7h0m-3 49h0m3-23h0m2 6h0m0-45h0m-3 10h0m-1 0h0m3-14h0m-2 31h0m4-22h0m2 31h0m0-10h0m0-49h0m-2 10h0m-3 49h0m0-10h0m1-43h0m1-8h0m3 11h0m1 2h0m-3-3h0m0 12h0m2-1h0m0 1h0m2-3h0m-3 9h0m2-28h0m0 17h0m-2-33h0m4 5h0m-3-1h0m-2 28h0m1 20h0m0-9h0m2-21h0m-1-15h0m2 1h0m-2-10h0m4 35h0m-4-17h0m1 1h0m0 12h0m4-27h0m-4 7h0m4 11h0m-3-28h0m4 15h0m-3 15h0m3-27h0m-1-11h0m3 13h0m-4-37h0m4 9h0m-6-32h0m3 59h0m-2 7h0m3-14h0m2-38h0m1-13h0m-3 14h0m1-3h0m0 29h0m0-4h0m-3-5h0m3-9h0m2-28h0m-1 25h0m2 23h0m1-47h0m-7 18h0m3-7h0m1-2h0m2-60h0m1 44h0m-2-5h0m0 5h0m3-41h0m-1 13h0m-2 56h0m0-44h0m1-25h0m3 18h0m0-33h0m-2-25h0m-2 27h0m0 3h0m0 10h0m6 14h0m-2-15h0m2 10h0m-5-20h0m1-21h0m0 3h0m4 18h0m-5 2h0m4-5h0m-3-4h0m4 18h0m-4-50h0m0-16h0m6 42h0m-6-13h0m4-15h0m0-2h0m-2 53h0m0-15h0m3-43h0m1 39h0m-5-16h0m7-6h0m0 8h0m-3 7h0m-3-22h0m4 42h0m-3-10h0m1 25h0m3 3h0m2-25h0m0 3h0m0 12h0m-1-11h0m0 38h0m-1-13h0m-2-5h0m0-35h0m4 15h0m-2 35h0m4-18h0m-4-9h0m0 36h0m3-18h0m-1-34h0m-1-1h0m0 24h0m3-8h0m-4 9h0m2 10h0m-1-44h0m3 16h0m1-26h0m-3 6h0m0 21h0m0-23h0m3 15h0m-4-16h0m3 12h0m3 33h0m-3-48h0m-1-4h0m1 40h0m0-2h0m-2-7h0m1 3h0m6-25h0m-6 28h0m4-2h0m-3-3h0m3-7h0m3-25h0m0-16h0m-1 6h0m0-17h0m1 30h0m-5-16h0m2 28h0m1-17h0m4 26h0m0 5h0m-1-40h0m0 26h0m-2 14h0m3-18h0m-2-44h0m0 49h0m1 2h0m0-10h0m2-22h0m-4 18h0m3-2h0m1 37h0m1-5h0m0-29h0m-4 20h0m5 7h0m-4-17h0m0-7h0m1 2h0m-1 40h0m5-8h0m-6-2h0m4 5h0m1-2h0m-3 7h0m-1-13h0m1 34h0m-1 4h0m3-37h0m3 7h0m-5 19h0m1-18h0m3 27h0m-1-28h0m-2 15h0m3-1h0m2 18h0m0-5h0m-4-19h0m5 8h0m-3 3h0m0-9h0m0-12h0m0 10h0m4 42h0m-4-6h0m-1 8h0m4-39h0m-1 5h0m1 13h0m1 6h0m-1-22h0m2 7h0m-2 6h0m3 32h0m-3-21h0m-2 32h0m2 32h0m0-8h0m-1-27h0m4 0h0m1-13h0m-2 18h0m-1-30h0m4 67h0m-3-6h0m2 11h0m-2 3h0m4 16h0m1 8h0m-2-7h0m-2 4h0m1 2h0m1 23h0m2-3h0m1 1h0m-6-32h0m2 23h0m3-32h0m2 69h0m-4-15h0m-1-22h0m4-2h0m-3 32h0m5-20h0m-4-2h0m4-13h0m0 56h0m-1 0h0m2-25h0m-5-58h0m0 55h0m3-4h0m-1 33h0m3-35h0m-3 15h0m3-17h0m1 48h0m-1-19h0m1 12h0m1-22h0m-3 8h0m-1-13h0m5 0h0m-3 3h0m-1 1h0m1 11h0m3 6h0m-1-11h0m-1-7h0m0 2h0m-2 11h0m5 11h0m-5 1h0m4-12h0m-1 5h0m0 17h0m1-7h0m0 18h0m3-25h0m-4-6h0m4 12h0m-2-13h0m-1-11h0m-1 5h0m2 5h0m0 14h0m2-15h0m-3 30h0m4-30h0m2-5h0m-2 4h0m-4 6h0m1 6h0m0 5h0m3-18h0m-3-28h0m4 12h0m2 30h0m-4-2h0m4 10h0m-1-3h0m2-18h0m-4 23h0m2-1h0m-4 5h0m4-7h0m2-13h0m1 4h0m-1-12h0m0 7h0m2 37h0m-3-17h0m3-7h0m-5 15h0m0-29h0m3-5h0m2 23h0m-4-25h0m0 19h0m2-22h0m0 8h0m1 34h0m2-20h0m-1-2h0m0-10h0m1 36h0m-3-25h0m0-5h0m2 12h0m2 34h0m0 2h0m-4-30h0m6 1h0m-3-1h0m-1-2h0m0-32h0m-1 11h0m2 13h0m4 11h0m-1-10h0m-4-13h0m0 1h0m0 3h0m3-26h0m-1 0h0m1 24h0m1-9h0m3-23h0m-5 5h0m6 2h0m-4 0h0m0-20h0m2 6h0m-4 15h0m1 0h0m0 9h0m3 10h0m2 2h0m-1-27h0m-1 9h0m-1 11h0m0 41h0m3-43h0m-3-19h0m0-3h0m0 13h0m6-12h0m-5 7h0m2-1h0m-1 4h0m2-9h0m2-10h0m-5 0h0m2 2h0m-1 31h0m3-15h0m-1-8h0m-2 9h0m6-14h0m-3 0h0m1 0h0m-3 23h0m0-3h0m0-9h0m2 8h0m-2-4h0m1-18h0m3 17h0m1 2h0m2 25h0m-2-94h0m-4 15h0m5 7h0m-4 11h0m1-4h0m4 10h0m-1 18h0m-1-22h0m0-14h0m2 0h0m0 22h0m-3 0h0m5 0h0m-2-17h0m-1 39h0m1-17h0m4 37h0m-5-3h0m3-5h0m2-7h0m0 18h0m-4-30h0m2 14h0m-1 16h0m3-18h0m0 25h0m-5-32h0m5 7h0m1 2h0m-1 15h0m1 2h0m-1-13h0m1-10h0m-4 1h0m1 9h0m5 10h0m-5 28h0m4-9h0m-1-27h0m-1 2h0m-1 4h0m1 14h0m1 5h0m0-19h0m2 2h0m-1 9h0m-1-17h0m1-9h0m3 28h0m-1 17h0m1-21h0m1 8h0m-2-10h0m2 0h0m1 12h0m-6-11h0m5-4h0m0 10h0m-3 18h0m1-2h0m0-10h0m0-34h0m1 27h0m0-18h0m-2-4h0m5 21h0m-2 3h0m-2-18h0m1-2h0m-1 20h0m5-17h0m-2-1h0m0 22h0m5-17h0m-4-15h0m-2 12h0m4 17h0m-3 3h0m2-25h0m2-193h0m0-2h0m2 166h0m-1 14h0m2 11h0m-7 14h0m6-33h0m-3 4h0m1-2h0m1 12h0m-1 18h0m4-15h0m-4 26h0m3-32h0m-4-1h0m3 20h0m1-22h0m2 0h0m-1-32h0m-2 10h0m4 11h0m-1 20h0m0-5h0m1-10h0m-2 9h0m-2 28h0m3-5h0m-1-13h0m1-3h0m0-7h0m0 12h0m3-27h0m-5 9h0m5 14h0m-6 1h0m3-18h0m2 13h0m0-9h0m-2-23h0m2-5h0m-3 53h0m0-5h0m0-27h0m6 6h0m0 4h0m-4-3h0m1-19h0m-1 7h0m1 5h0m3 14h0m-4-42h0m5-4h0m-4 11h0m0 22h0m2-50h0m2-8h0m-4-24h0m4 7h0m1 23h0m-1-4h0m-2-126h0m3 125h0m0-16h0m0 6h0m-3-23h0m1-13h0m0 22h0m3 16h0m-3-8h0m1-25h0m0 0h0m2 12h0m0 21h0m-2-27h0m3-4h0m0-9h0m-2 37h0m0-26h0m3 3h0m-2-2h0m-1 17h0m0-4h0m1-10h0m5-20h0m-1-11h0m-3-1h0m3 20h0m-2-38h0m4 15h0m-4 0h0m0 1h0m-1-4h0m2 6h0m5-33h0m-6 4h0m1-27h0m4 14h0m-2 6h0m-2-14h0m4-36h0m-4 30h0m4 0h0m-3-1h0m6-11h0m0-28h0m0 23h0m-2-24h0m3 17h0m-6-16h0m2-25h0m1 11h0m1 10h0m-1 18h0m0-18h0m0-12h0m2 6h0m-3-35h0m2 57h0m4-27h0m-2-25h0m0-23h0m0 25h0m3-27h0m-1 9h0m-1 20h0m0-12h0m0 12h0m-2-36h0m5 38h0m-2 25h0m-1-48h0m4 2h0m0 54h0m-5-10h0m3-20h0m0-8h0m-3-19h0m5 14h0m1-26h0m-6 13h0m5 1h0m1 9h0m-2 26h0m-2-46h0m2 7h0m-1 34h0m5 22h0m-5-14h0m3-10h0m-1-2h0m2-14h0m-2-31h0m3 71h0m-5-46h0m1 9h0m-1-4h0m1 19h0m3 26h0m3-1h0m-4 14h0m0-8h0m-1-20h0m0-28h0m5 32h0m2 5h0m-5 2h0m3 43h0m2 4h0m-4-22h0m0 1h0m5 7h0m0 8h0m-1 43h0m-1-10h0m0 1h0m0 6h0m1 1h0m-1-25h0m3 30h0m-4-1h0m4-6h0m-5-17h0m6 41h0m-1 0h0m-4-62h0m0 36h0m1-23h0m-1 29h0m5-52h0m0 6h0m-4-22h0m5 1h0m-2 29h0m1-25h0m-1-67h0m0 31h0m-2 16h0m2-3h0m0 14h0m3 12h0m1-15h0m-4 28h0m0-23h0m3-32h0m-1 15h0m-1-11h0m1 20h0m0 11h0m1-12h0m1-12h0m-3 16h0m-1 25h0m6-18h0m-5 47h0m3-18h0m3-18h0m-5-17h0m1 11h0m5 49h0m-1-15h0m-1 26h0m-2 2h0m3-18h0m2-14h0m-2 46h0m0-9h0m3 1h0m-4-12h0m1 26h0m4-28h0m-4-5h0m3 13h0m1 10h0m-1-2h0m-4 25h0m0 23h0m5-33h0m1 25h0m-4-19h0m3 22h0m-4 16h0m0 9h0m5 94h0m2-22h0m-5-64h0m2-18h0m0-24h0m-3 5h0m3 16h0m-2 1h0m3-44h0m2 46h0m0 16h0m-3-57h0m3 1h0m-1 12h0m1 22h0m-2-3h0m4 7h0m-4-2h0m2-5h0m-2-13h0m-1 63h0m5-18h0m-4-7h0m4 4h0m0-19h0m-2 14h0m3 18h0m-3 21h0m5-16h0m-6 34h0m1-4h0m1-44h0m1 43h0m-1 31h0m0-24h0m0 17h0m1-12h0m3-7h0m1 11h0m-5 10h0m6-7h0m1-10h0m0-7h0m-5 40h0m5 1h0m-4 1h0m1 1h0m1-1h0m-3-7h0m5 16h0m-3-11h0m5-5h0m-3 3h0m-1-16h0m1 9h0m2-25h0m1 29h0m0-8h0m0-11h0m-2 15h0m-2 11h0m6-50h0m0-28h0m-2 44h0m1 7h0m-1-11h0m-3-1h0m5-20h0m-2 7h0m-2 27h0m1-16h0m2-16h0m1 39h0m-4-12h0m2-10h0m0 13h0m0-1h0m5 26h0m-1 15h0m-1-15h0m2-21h0m-3 19h0m3-4h0m2 12h0m-5-15h0m0 4h0m0-13h0m3 21h0m-2 4h0m5-24h0m0 12h0m1 4h0m-6-3h0m2-6h0m3 2h0m-2 10h0m-2 1h0m0-5h0m3-19h0m-1 18h0m4-2h0m-3 0h0m3 0h0m-2 15h0m2-20h0m-2-3h0m3 7h0m-6 20h0m5-25h0m-4-10h0m1-4h0m-1 8h0m1 12h0m3 17h0m3-21h0m-4 3h0m-1 16h0m5 10h0m-2-14h0m-3 0h0m2-1h0m-1 7h0m3-8h0m2-34h0m0 14h0m-6 7h0m4-2h0m0 14h0m-3-4h0m2-13h0m4-14h0m0-4h0m-1 9h0m-1-9h0m-2 2h0m5 13h0m-2 6h0m-1-16h0m4-12h0m-6 44h0m6 8h0m-4-15h0m-1-13h0m4 14h0m-1-12h0m3 30h0m0 4h0m0-32h0m-3-11h0m0 32h0m2-11h0m-1-13h0m2 4h0m1 0h0m-3 15h0m4-3h0m-1-9h0m0-6h0m1 29h0m-1 0h0m-4-1h0m3 4h0m1 9h0m-2-16h0m5 9h0m-5-18h0m2-2h0m-1-4h0m-1 6h0m2-7h0m3 17h0m-2 5h0m-1-2h0m1 3h0m-2 3h0m3 24h0m3-14h0m-5-23h0m2 19h0m-1 17h0m3-8h0m1-30h0m-3-8h0m5 45h0m-3 5h0m-2-77h0m4 53h0m-4-34h0m0-5h0m5-6h0m0 32h0m0-29h0m-2-13h0m1 12h0m1-7h0m-3-20h0m3 6h0m1 24h0m-2-7h0m0-11h0m2-9h0m-2 4h0m1 5h0m-3 6h0m2-8h0m2 22h0m-1-8h0m4-5h0m-1-6h0m1-5h0m-5 13h0m0-2h0m1-10h0m5 18h0m-1 12h0m1-18h0m1 4h0m-3 22h0m-1-32h0m4 1h0m-1 15h0m0-7h0m-1 4h0m4-29h0m-2 34h0m-3 0h0m5 4h0m-1-11h0m-3-16h0m5 6h0m-2-6h0m-2 19h0m4 3h0m0-9h0m-2 20h0m1-32h0m0 0h0m-3 18h0m3-7h0m0-13h0m-3 10h0m2 22h0m2-30h0m0 15h0m-4-12h0m7 34h0m-1-16h0m1 17h0m-5 23h0m3-37h0m-2 3h0m5 2h0m-3 3h0m-2-1h0m3 5h0m-1-31h0m1 15h0m0-22h0m2 11h0m-2 15h0m-2 8h0m2-10h0m1-7h0m-3-15h0m6 14h0m-3 14h0m0 1h0m3 2h0m-4 2h0m2-15h0m-3-3h0m5 19h0m-2-19h0m-1-10h0m-1 10h0m1-4h0m6 12h0m0-9h0m1-13h0m-2 16h0m0-8h0m2-3h0m-1 17h0m1-8h0m-2-10h0m-1 20h0m-2-22h0m7-12h0m-5 8h0m0-42h0m1 1h0m0 31h0m1-6h0m3-12h0m-1-10h0m2 1h0m-1 3h0m-1-2h0m-3-20h0m0 9h0m6-11h0m-1 8h0m-3-9h0m2 3h0m-1 8h0m0-60h0m-1 19h0m6 0h0m-1 23h0m2-6h0m-1 2h0m1-9h0m-6 10h0m0-33h0m6-10h0m0 33h0m-1-22h0m-3 22h0m4 6h0m-1-16h0m2-5h0m0 22h0m0-28h0m-5-21h0m0 1h0m3-3h0m2-60h0m-3 39h0m4-2h0m0-22h0m-4 29h0m0-19h0m1 34h0m-1-45h0m2 9h0m1-11h0m4-1h0m-1 7h0m1-38h0m-5 5h0m1 20h0m1-8h0m1-25h0m0 24h0m-2 13h0m5 13h0m-6 10h0m7-22h0m-6 5h0m6-12h0m-1 4h0m-5-21h0m6 33h0m-2-21h0m2 7h0m1-32h0m-4 13h0m-1 10h0m-1 24h0m1-44h0m1 10h0m1-13h0m1 18h0m1-9h0m0-6h0m-1 18h0m1-51h0m-1 36h0m0 22h0m0-53h0m4 55h0m-2 26h0m-2 7h0m3-18h0m1-20h0m2 23h0m-3-24h0m2 4h0m-4 1h0m4 6h0m-2-10h0m3 3h0m-1-13h0m-4 43h0m4-42h0m2-3h0m0 29h0m-1-45h0m-3-6h0m3 35h0m-1 0h0m3-8h0m-4-2h0m0-10h0m-1-38h0m3 29h0m0-35h0m-2 54h0m1-42h0m3 1h0m-3-9h0m-1 37h0m4 6h0m-3-14h0m5 17h0m-2 1h0m3 4h0m-1-5h0m-2-12h0m0 17h0m4-2h0m-1-29h0m-2 1h0m-2 18h0m5-27h0m-3 21h0m-2 16h0m2-51h0m0-2h0m1 61h0m-1 5h0m1-61h0m1 14h0m0 12h0m0-20h0m4 41h0m-4-21h0m1 28h0m0 1h0m0-43h0m4 26h0m-3-1h0m2-11h0m-4 19h0m2-20h0m2-16h0m-4 18h0m5-3h0m-4 6h0m3-7h0m-1 6h0m2-11h0m1-5h0m-5 2h0m1-6h0m3 31h0m-2 4h0m3-3h0m-2 7h0m3-29h0m-2-3h0m-1 21h0m3-6h0m1 17h0m-1 1h0m2-17h0m-4 9h0m3-35h0m-4 65h0m1-17h0m5 8h0m1-21h0m-6 18h0m0-42h0m3 38h0m3 1h0m0 7h0m0-15h0m-4 50h0m-1-28h0m6-36h0m0 33h0m-5 1h0m4-12h0m0 23h0m1 5h0m-3 1h0m2-15h0m-2 23h0m4 22h0m2-31h0m-1 26h0m-3-34h0m4 20h0m-2 20h0m0 6h0m1-18h0m2 0h0m-4-35h0m-1 17h0m4 34h0m-2-16h0m2 13h0m2-7h0m-2 18h0m0 24h0m3-39h0m-2 20h0m2-11h0m-2-18h0m2 15h0m-1 1h0m-2 17h0m0-12h0m5 3h0m0 11h0m-3-10h0m4 13h0m-5-6h0m1 14h0m4 7h0m-2-36h0m1 19h0m2-2h0m-2 15h0m-4 3h0m2 51h0m2-30h0m2 39h0m1-41h0m-4 25h0m2-4h0m1 1h0m-2-21h0m-1 6h0m5 25h0m-3 14h0m1-26h0m3 26h0m-1-4h0m-3 10h0m3 6h0m-2-4h0m1 21h0m0 5h0m3-17h0m-5 18h0m4-15h0m1 23h0m-4-10h0m3 16h0m-4 7h0m5-12h0m-1 14h0m2 5h0m-5-34h0m3-15h0m1-11h0m3 10h0m-3 14h0m3 7h0m-6-6h0m1 4h0m6-11h0m-2-13h0m2 26h0m-1 14h0m-2-14h0m3-15h0m-1 19h0m-3 21h0m2-71h0m-2 12h0m5 18h0m-4-8h0m5 31h0m0-15h0m1 8h0m-3-35h0m3 31h0m0 15h0m0-8h0m-6-6h0m3-10h0m-2-6h0m4 14h0m-3-32h0m1 38h0m5-17h0m-3-2h0m3 23h0m-3-15h0m1-1h0m1-3h0m1-15h0m0 30h0m-2 5h0m3-17h0m-1 19h0m-1 6h0m4-19h0m-2 7h0m2-17h0m-6 21h0m0 1h0m0 1h0m2-13h0m2 4h0m2-8h0m-1 10h0m-1 5h0m2-14h0m-4 9h0m2-28h0m0 19h0m0-3h0m5 4h0m-2 33h0m-4-10h0m1-14h0m3-27h0m-4 18h0m6 34h0m-3-15h0m0 1h0m2-5h0m-3-16h0m6 11h0m-6 7h0m0 5h0m6 12h0m-5-17h0m4-15h0m0 17h0m2 4h0m-5-2h0m4-22h0m-3 10h0m1 15h0m2-14h0m2 17h0m-1-30h0m-1 3h0m3-3h0m-4 0h0m-2-10h0m5-7h0m-4 8h0m4 13h0m0 2h0m2 24h0m0-49h0m-2 6h0m-3 24h0m5-28h0m-5 1h0m2 11h0m2 3h0m0-7h0m3 5h0m-4 8h0m-2-7h0m1-15h0m0 22h0m4-8h0m-4-12h0m5 9h0m-2-9h0m2 3h0m2-2h0m-1-7h0m-4 11h0m2-3h0m1 17h0m-4-5h0m2 4h0m0-18h0m5 1h0m-3 7h0m-3-9h0m0-3h0m1-13h0m1-2h0m4-9h0m-4 6h0m5 33h0m-5 13h0m3 1h0m1 11h0m0-11h0m-3 10h0m0-27h0m0 12h0m5 18h0m1-21h0m-1 5h0m-2 2h0m3-18h0m-4 14h0m5-23h0m-5 12h0m4 23h0m3-27h0m-2 9h0m-4-12h0m1-1h0m0 20h0m2 15h0m-1 25h0m3 5h0m2 5h0m-3-10h0m-1-1h0m0-7h0m3-1h0m-3 5h0m5 12h0m-1 7h0m0-19h0m-1 19h0m3-17h0m0 6h0m-4-14h0m0-2h0m5 20h0m-4-7h0m4-37h0m-2 5h0m3 13h0m-6-5h0m2 7h0m2-2h0m1 2h0m-1-4h0m-2 7h0m0-7h0m1 12h0m1 2h0m0-2h0m2-5h0m-4-2h0m5-4h0m-4 23h0m1-30h0m-1 10h0m4 3h0m-3-9h0m1 13h0m-1-19h0m2 3h0m0-16h0m4 13h0m-5-7h0m2-13h0m-1 10h0m-1 20h0m0-2h0m3 0h0m0 10h0m-2-21h0m2 7h0m-3-16h0m2 10h0m4 3h0m-4 6h0m1 13h0m2-18h0m3-1h0m-2 17h0m0 7h0m-1-15h0m-1-17h0m5 5h0m-6 22h0m5-2h0m-3-2h0m-1 0h0m2 13h0m2-2h0m1-16h0m-5-7h0m2 20h0m4 17h0m-4-15h0m-1 14h0m7-5h0m-1-13h0m-3-2h0m4-13h0m-3-4h0m0 11h0m-1 22h0m2-19h0m-2 13h0m3-7h0m-2-8h0m2 4h0m-2-28h0m5 6h0m-5 37h0m0-31h0m4-13h0m2 26h0m-4-7h0m-1-6h0m0-10h0m0-3h0m4-19h0m-1 4h0m0 22h0m1-2h0m3-24h0m0-10h0m-6 20h0m2 4h0m0-49h0m3 16h0m-3 2h0m1 16h0m-2 1h0m4-5h0m2-9h0m0-14h0m-1-4h0m1-5h0m-4 18h0m2-22h0m3 19h0m-5-14h0m0 10h0m4-49h0m-1 32h0m1 0h0m2 3h0m1-8h0m-5-31h0m4 5h0m1-5h0m0 1h0m-1-9h0m-1 8h0m2 8h0m2-19h0m-5 13h0m2 39h0m-3-30h0m4-28h0m0-11h0m3 33h0m-2-9h0m-1-16h0m3 15h0m-3 0h0m-2-15h0m5-30h0m-2 16h0m4 7h0m-5-3h0m0 31h0m-1-20h0m2 6h0m0-38h0m2-12h0m0-8h0m-2 13h0m3 11h0m-3 16h0m4-2h0m1-27h0m-3 1h0m2-8h0m-3-2h0m2 8h0m3 18h0m1-8h0m-2-30h0m-2-5h0m3 1h0m-1 3h0m1 21h0m2 8h0m-1-25h0m1 3h0m-3 15h0m3-27h0m-1 34h0m-2-30h0m-1 2h0m-1 9h0m6-3h0m-2 21h0m-3-45h0m0 29h0m6 3h0m0-1h0m-2-6h0m2-25h0m0 14h0m-5-27h0m3 23h0m-2-6h0m3-24h0m4 29h0m-1-7h0m1-15h0m-6-9h0m4 36h0m-1-13h0m2 2h0m-4-1h0m5 3h0m0 12h0m-4-13h0m3-39h0m2 35h0m0-13h0m-4 9h0m4-14h0m0 17h0m1 2h0m0-8h0m-5 15h0m2 11h0m5-17h0m-5 13h0m0-8h0m2 6h0m1-26h0m0-8h0m-3 5h0m1 5h0m-1 5h0m3 13h0m-1-27h0m5 43h0m-3-15h0m2-11h0m-2-1h0m1 34h0m-4 14h0m3-36h0m3-14h0m-1 22h0m3-22h0m0 42h0m-1-11h0m-2-2h0m-2-34h0m2 43h0m0-3h0m-2 23h0m3-13h0m-2-10h0m3 33h0m-3-8h0m2-6h0m3-36h0m1 0h0m-2 36h0m-3-25h0m2-2h0m2 0h0m-3 2h0m3-28h0m2 44h0m-1-18h0m0 11h0m1 0h0m-1-14h0m1 12h0m2 0h0m-3 43h0m0 18h0m-3-19h0m4-17h0m0 8h0m3 23h0m-4-2h0m4-14h0m-2 14h0m0-6h0m0 19h0m-2-2h0m3-10h0m-2 19h0m4-18h0m-3-3h0m-1-5h0m0-4h0m4 16h0m1-14h0m-1 21h0m1-4h0m-2 21h0m-1-16h0m-1 18h0m0-19h0m0 4h0m4-3h0m-2 29h0m4-20h0m-4 7h0m0-81h0m4 84h0m-2-4h0m-1-9h0m2 7h0m2 30h0m-2 4h0m-3 15h0m5-20h0m-4 10h0m2-23h0m4-5h0m-3 30h0m-1 16h0m-2-17h0m3-3h0m4 7h0m-6 10h0m6-2h0m1 8h0m-5 4h0m0 24h0m2-6h0m3 6h0m-3-1h0m4-21h0m-3-9h0m3 29h0m-1-4h0m2-19h0m-1 23h0m-1 9h0m2-3h0m-4-10h0m0 10h0m2 20h0m-3-27h0m2-5h0m3-15h0m1 5h0m-5 7h0m6 3h0m-3-1h0m0 8h0m-2 1h0m2 29h0m4-8h0m-4-18h0m2-8h0m0 2h0m1-7h0m-1 22h0m-1 2h0m2-14h0m0 1h0m3 36h0m-3-11h0m1-1h0m1-16h0m-2-9h0m2 32h0m-3 11h0m1-37h0m1 4h0m2 1h0m0 0h0m-1 3h0m0 8h0m3 10h0m0-31h0m-3 39h0m-1-32h0m4 3h0m-1 17h0m1-29h0m-1-6h0m-2 25h0m1 2h0m0-13h0m1 2h0m-3-7h0m3-1h0m-1 27h0m1 1h0m-2-16h0m1 11h0m4-13h0m-3 1h0m0 9h0m0 5h0m1-14h0m5-6h0m-6-16h0m3 21h0m1 5h0m1-23h0m-4 3h0m4 17h0m-4-10h0m6 16h0m-4-10h0m3-9h0m-5 13h0m4-4h0m-3-10h0m4 15h0m-1 4h0m-2 0h0m6 0h0m0 6h0m-6 0h0m6-3h0m-6-3h0m6-18h0m-5 13h0m4-29h0m-1 9h0m3 34h0m0-18h0m-2-10h0m-1 0h0m4 2h0m-6 13h0m5 24h0m1-10h0m0 4h0m-4-4h0m2-26h0m3 29h0m-5-27h0m5-19h0m-4 27h0m3 4h0m-3-26h0m3 10h0m3-20h0m-1 19h0m-1 0h0m1 4h0m-5-39h0m1-24h0m1-7h0m3 29h0m-2 0h0m1 13h0m1-37h0m2 5h0m-1 9h0m-4-19h0m2 53h0m-2-18h0m6 14h0m-1-1h0m0 22h0m-3 19h0m4 4h0m0-15h0m-3-9h0m-1-1h0m1 42h0m6 6h0m-5-4h0m0-33h0m1 3h0m0 7h0m0 9h0m-1-17h0m1 2h0m3 3h0m1 8h0m-4-13h0m4 4h0m1-1h0m-4 13h0m0 14h0m4 6h0m0-16h0m-1-13h0m3-10h0m-2-5h0m-1 14h0m-1-2h0m1-16h0m0 1h0m4-11h0m-5 15h0m2 12h0m2-15h0m-3-22h0m0 40h0m4-11h0m-4 9h0m-1 7h0m2 16h0m-1-22h0m4-6h0m-1 13h0m-3-8h0m5-3h0m-2-11h0m4 37h0m-3-4h0m3-20h0m-4-15h0m-1 8h0m5 1h0m-3 5h0m0-5h0m-1 14h0m0-1h0m6 5h0m-3-36h0m2 19h0m0 11h0m-3 10h0m4-4h0m0-22h0m-3 8h0m2-15h0m-2 7h0m-1-26h0m0 17h0m1-10h0m5 12h0m-1-11h0m3 16h0m-2 4h0m-1-13h0m-1 7h0m1 12h0m-3 4h0m5 3h0m-1-15h0m0 2h0m4-1h0m-5 21h0m3-15h0m2 4h0m0-19h0m-6-1h0m6 30h0m-2 11h0m-2-8h0m3 5h0m0-9h0m-4 22h0m6-35h0m-2 17h0m0-9h0m4-11h0m-1 17h0m-6 8h0m6 7h0m1-18h0m-5 18h0m3-12h0m0 2h0m-2 12h0m4-49h0m-4 40h0m0 2h0m2-8h0m1-1h0m-2 6h0m0-13h0m0 3h0m0 10h0m4 2h0m-2-6h0m-1-5h0m1-9h0m0 13h0m5 4h0m-1-9h0m-3 5h0m2 10h0m-1-2h0m0-31h0m-1 15h0m0-4h0m0-2h0m2 5h0m-3-1h0m4-1h0m-2 7h0m0-15h0m2-7h0m3 31h0m0 3h0m-1 0h0m0-15h0m-1-5h0m-2-12h0m4 39h0m0-28h0m-2 1h0m2-11h0m-1 3h0m2-1h0m2 20h0m-1 0h0m1-49h0m-3 15h0m4-18h0m-5 10h0m0-14h0m-1 10h0m0 23h0m6-10h0m-2-12h0m-3-9h0m5-9h0m-2-3h0m1-23h0m2 5h0m-3 6h0m-2 41h0m5 15h0m-3-53h0m-1 3h0m0 7h0m6 21h0m-3-1h0m-1-27h0m3-18h0m-1 16h0m-1-2h0m-2 0h0m1-7h0m1 12h0m5-5h0m-4-4h0m3-1h0m-2-13h0m0 11h0m2 10h0m-4-43h0m5 29h0m-2-3h0m2-5h0m0-4h0m-4-32h0m5 20h0m-4-37h0m2-12h0m-1 45h0m4 5h0m-1-34h0m1 7h0m-1-10h0m-1 2h0m-1 12h0m3 1h0m-2-5h0m-2-45h0m3 21h0m2 8h0m-3-17h0m2 15h0m-2-30h0m2 12h0m0 10h0m4-16h0m-5 35h0m2-22h0m2 19h0m0-37h0m-1-6h0m2 0h0m0 20h0m-4 19h0m6-14h0m-5 28h0m2-25h0m3 11h0m-1-8h0m-3-15h0m0 20h0m2-18h0m3 14h0m-3-49h0m-1-1h0m4 23h0m-5 14h0m5-22h0m0 9h0m1-76h0m-2 16h0m-1 9h0m2 5h0m1-13h0m0-7h0m-1-1h0m-3-2h0m0 8h0m1 38h0m3-25h0m-1-21h0m1 27h0m1-10h0m-3-31h0m6 11h0m-1 10h0m-4-10h0m1-6h0m0 65h0m5-54h0m-6 43h0m3-56h0m3 15h0m-2-17h0m1-18h0m-5 38h0m7-11h0m-4 0h0m1 6h0m2-21h0m-4-3h0m2 16h0m-2 28h0m1-10h0m6-24h0m0 19h0m-6-51h0m3 20h0m-2 0h0m0 20h0m1 1h0m3 9h0m0 9h0m-3-26h0m6-22h0m-1 14h0m1 25h0m0-26h0m-5 17h0m4-56h0m-3 31h0m5 26h0m-6-38h0m6 16h0m1-9h0m-4 12h0m-2 15h0m5 44h0m-4 13h0m0-89h0m5 20h0m-2-9h0m0 13h0m-2 40h0m0-39h0m4 15h0m-1 13h0m-2-51h0m3 80h0m-3-17h0m6 4h0m-6 15h0m6-51h0m-5 14h0m4 18h0m2 11h0m-1-66h0m-1 27h0m0 32h0m0-29h0m1 38h0m0 9h0m-1-8h0m4 24h0m-2-43h0m2 35h0m-4-29h0m1-23h0m3 24h0m0-10h0m1 10h0m-6 7h0m5-34h0m0 17h0m0 19h0m0-1h0m2 8h0m-4-40h0m4 6h0m-5 3h0m3 15h0m0 11h0m-1-19h0m4-40h0m-4 20h0m2 7h0m1 23h0m-1 0h0m3 13h0m-4-4h0m4 21h0m1-4h0m-1-16h0m-3 0h0m3 3h0m-2 13h0m0 27h0m2-16h0m2-12h0m0 15h0m0 6h0m-5-18h0m6 7h0m-2 19h0m-2 16h0m5-37h0m-6 52h0m4-11h0m1-27h0m1 37h0m-3-30h0m0 20h0m1-7h0m-2 37h0m6-23h0m-3 36h0m2 3h0m-1 11h0m2-2h0m-5 9h0m0 4h0m4 7h0m0-1h0m2 36h0m-1-1h0m2-15h0m0 0h0m-5-40h0m2-32h0m2 29h0m-4 10h0m6 6h0m-2 6h0m1 7h0m2 27h0m-3-17h0m-2 11h0m0 9h0m1 12h0m2-11h0m3-13h0m-4 6h0m3-13h0m-4 40h0m3-7h0m0-1h0m3-6h0m-1-13h0m-1 15h0m-2 11h0m3 7h0m1-5h0m-4 3h0m2-8h0m2 11h0m2-4h0m-4 0h0m1 0h0m-2 7h0m3 5h0m0-32h0m2 3h0m0 25h0m-3-19h0m4 8h0m-5 7h0m0 2h0m1 12h0m0-21h0m1 12h0m2-6h0m-3-10h0m1 11h0m-1-29h0m4 18h0m-3-2h0m0-23h0m1 45h0m2 1h0m-1-2h0m0 26h0m3-32h0m-4 9h0m2 8h0m-1-10h0m4 16h0m-4-7h0m2-11h0m-1-3h0m1 1h0m3 4h0m-2 6h0m3-11h0m-1 15h0m-1-14h0m3 8h0m-5-11h0m2 14h0m-1-11h0m1 4h0m5 11h0m-2-3h0m-4-22h0m0-6h0m5 23h0m-1 7h0m2-4h0m0 9h0m1-42h0m-5-4h0m2 2h0m-1-8h0m3-3h0m-1 36h0m0-18h0m3-2h0m0 6h0m0-9h0m-5-7h0m5 19h0m0-8h0m-1-11h0m-2 7h0m4 5h0m-5 2h0m5 3h0m-3-23h0m3 15h0m-3 5h0m2-11h0m-2-4h0m5-7h0m-2 40h0m-1-12h0m-1 6h0m2 6h0m2-24h0m0 9h0m1-15h0m-5 18h0m1-18h0m3 16h0m-2 17h0m3 1h0m-2-1h0m1 4h0m1 18h0m-3-17h0m4 12h0m-3-5h0m5-24h0m-5 31h0m5-7h0m-1-5h0m1-11h0m-4 0h0m2 23h0m-2-12h0m3 22h0m-1-28h0m0 19h0m-1-15h0m6-15h0m-3 0h0m-2 24h0m1-6h0m-2-14h0m3 4h0m4 5h0m0-13h0m-1-8h0m-3 35h0m-1-12h0m5-49h0m0-5h0m-3 8h0m-2 12h0m3 26h0m3-18h0m-2 9h0m-2 14h0m2 11h0m-2-34h0m0 7h0m0 17h0m5-20h0m-5-2h0m0 7h0m7 28h0m-6-10h0m6-11h0m0-11h0m-3 13h0m-2-6h0m5 8h0m0-3h0m-3-21h0m4 25h0m-5 0h0m0-8h0m4 16h0m1-7h0m-4 5h0m1 5h0m3-28h0m2 25h0m-1-36h0m-3 5h0m3 15h0m-4 15h0m4-21h0m-1-11h0m-1 20h0m-1-21h0m2 4h0m4 4h0m-5-8h0m1-1h0m3 21h0m0-8h0m1 5h0m-3-9h0m3-9h0m-4 26h0m3-23h0m-1-12h0m3 26h0m-1-17h0m-1 13h0m3 4h0m-1 11h0m-1-11h0m0-29h0m-1 26h0m3-8h0m1 3h0m-2 1h0m0 9h0m2-8h0m-2-7h0m3 4h0m-5-17h0m4 12h0m2 8h0m-2 5h0m-2-2h0m2-2h0m0-9h0m2-2h0m-5 27h0m5-13h0m0-6h0m3-8h0m-4-9h0m4-17h0m0 1h0m-2 40h0m2 5h0m-5-42h0m2 2h0m-2-16h0m2 11h0m0 18h0m0-4h0m-1 9h0m1-20h0m3 12h0m0 13h0m-4 5h0m6-11h0m-2 11h0m-2-3h0m0-17h0m1 1h0m5 3h0m-5 3h0m4 11h0m-1 9h0m-3-6h0m5 24h0m1-37h0m-5 9h0m2-11h0m3 9h0m-6-1h0m1 2h0m3-6h0m-2-16h0m0-11h0m4-7h0m1 16h0m0 2h0m-4 2h0m1-9h0m-1-11h0m4 24h0m-2 6h0m1-2h0m-1-4h0m1 22h0m2 20h0m-5-44h0m3-19h0m4 31h0m-4 12h0m-1 15h0m3-19h0m1-19h0m-2 33h0m2-21h0m-2 2h0m3 14h0m0-18h0m0-2h0m-1 5h0m-2-5h0m4 3h0m-4 7h0m1-2h0m4 8h0m-1-4h0m-2-8h0m0-9h0m4 11h0m-3 8h0m0 7h0m4-23h0m-1-12h0m-1 16h0m-1-8h0m1 4h0m-1-24h0m1-8h0m4-4h0m-6-31h0m2-12h0m0 45h0m1-28h0m1 27h0m-1-15h0m-1-14h0m-1-12h0m4 9h0m2-13h0m-2-3h0m-2-48h0m3-2h0m1 27h0m2-20h0m0-3h0m0 33h0m-4-14h0m3 3h0m1 6h0m-3-18h0m4 25h0m-4-24h0m2 3h0m3 27h0m-1-40h0m2-3h0m-1 17h0m0 5h0m-3-18h0m2 17h0m1 2h0m-1-26h0m-3-41h0m2 48h0m1 10h0m-1-16h0m-1-23h0m1 5h0m3-8h0m-2 29h0m-1-19h0m3 4h0m-2-10h0m3 6h0m-2 11h0m5-13h0m-3 16h0m1-1h0m3-10h0m-4 0h0m3 9h0m1-4h0m-5-20h0m0-5h0m6-36h0m-1 50h0m-5-18h0m1 16h0m0 6h0m5-3h0m-5-28h0m5-13h0m-4 12h0m1 2h0m0 5h0m4 4h0m0 8h0m-2-42h0m-1 22h0m5 20h0m-2-23h0m0-33h0m-3 16h0m3 8h0m-4 12h0m3-22h0m-2 17h0m3-40h0m0 27h0m-1 16h0m-2-43h0m1 9h0m5-13h0m1 12h0m-3 15h0m3-15h0m-1-3h0m2 5h0m0 10h0m-3 5h0m2 4h0m1-20h0m-3 25h0m1 1h0m2-39h0m1 40h0m-4 9h0m3-24h0m-2-26h0m-2 25h0m1-5h0m0 48h0m4-11h0m0-26h0m-2 53h0m0-64h0m3 9h0m-2 5h0m-2 13h0m1-42h0m2 18h0m0 28h0m2-1h0m0-22h0m2 22h0m-1-34h0m0 27h0m-3 5h0m1 3h0m-1 16h0m5-27h0m-1-1h0m-1 27h0m1-13h0m-3-28h0m0 29h0m5-2h0m0 33h0m-4 11h0m1-35h0m-1 22h0m2 13h0m-1 19h0m3-40h0m-2 21h0m1-21h0m2-9h0m-2-5h0m-2-6h0m0 21h0m2-14h0m5 41h0m0-39h0m-4-13h0m-1-2h0m1 6h0m3-17h0m-1 52h0m-1 27h0m0-81h0m0 13h0m0-8h0m-1 2h0m2 11h0m0 10h0m-2 17h0m3 1h0m0-6h0m0 18h0m4 14h0m-6-33h0m5 28h0m1 9h0m0-35h0m-3 20h0m-1-15h0m0 18h0m3 11h0m-1 40h0m3 10h0m1 0h0m0-6h0m0 25h0m-4-21h0m5-11h0m-3 24h0m4-16h0m-3 49h0m2-33h0m-2 4h0m-1-8h0m0 2h0m0-17h0m5 8h0m-3 11h0m3 1h0m1 0h0m-3-22h0m4 26h0m-5-22h0m5-16h0m-5 66h0m3 13h0m-1-12h0m-2-10h0m3 17h0m3 8h0m-4-26h0m-1-15h0m5 49h0m0 6h0m-5 5h0m4-23h0m-2-22h0m1-5h0m4 31h0m-1-4h0m1-75h0m-2 38h0m2 13h0m-3 19h0m4-14h0m-3-12h0m0-27h0m1 18h0m-3-1h0m1 6h0m5-19h0m-1 1h0m-4 15h0m2 37h0m3-2h0m-4 13h0m4-9h0m-4-34h0m5 51h0m-1-17h0m-1 5h0m2-14h0m0 15h0m-3 21h0m3-25h0m-3 4h0m1 5h0m-1-33h0m4 24h0m-1-16h0m0 19h0m4-8h0m-2 7h0m2-4h0m-1 6h0m-2-3h0m1 7h0m2-15h0m-3 11h0m4 9h0m-3-1h0m-2 10h0m5 16h0m-6-15h0m7 3h0m-3-4h0m2 10h0m0-16h0m2 8h0m-1 32h0m-2-1h0m-1-19h0m1 1h0m3-16h0m-4-9h0m0 4h0m5 13h0m-2 2h0m0 3h0m-3-34h0m1-23h0m5 16h0m-3 16h0m1 2h0m3-4h0m-5 15h0m1 2h0m1-15h0m-1 7h0m4 6h0m-3-14h0m-1-2h0m0 18h0m2-12h0m1 8h0m3 3h0m-5 1h0m0-7h0m2-11h0m0 15h0m4 8h0m-4-23h0m2-2h0m0-1h0m-2 5h0m4 27h0m-3-5h0m-1-29h0m4-1h0m2 9h0m-3 0h0m0-1h0m-2 5h0m4-7h0m1 6h0m-1 5h0m2-14h0m0 10h0m-1-21h0m-4 16h0m5 29h0m-3-28h0m0-30h0m3 35h0m-3 8h0m0-33h0m5 10h0m-2-76h0m0-6h0m-3 99h0m2-10h0m-1-19h0m-1 36h0m6-9h0m-4 0h0m2 0h0m2-7h0m-3-18h0m0 3h0m3 24h0m-4 12h0m5-2h0m-4-24h0m-1 10h0m6 21h0m-4-6h0m4-9h0m-4-1h0m0 1h0m1 11h0m3-16h0m1 12h0m1 22h0m-6-6h0m5-38h0m2 21h0m-4 5h0m2 17h0m-4-24h0m1-11h0m2-4h0m1 12h0m-1 14h0m-2 8h0m1 5h0m3-10h0m2 13h0m-1-27h0m2 1h0m-1 6h0m0-3h0m-1 7h0m-1-21h0m1 9h0m2-2h0m-3 19h0m4-10h0m-3-11h0m1-16h0m-3 23h0m5-26h0m0-2h0m-3 19h0m5 1h0m-2 27h0m0-25h0m1 10h0m-1 0h0m3-30h0m-1 0h0m-3 35h0m2 8h0m2-32h0m-4 3h0m6-6h0m0 9h0m-3-13h0m1-8h0m-1-8h0m3 8h0m1 21h0m-5-5h0m2 3h0m1-12h0m-3 2h0m5-36h0m-3-10h0m0 23h0m0 19h0m1-35h0m2 38h0m-4-7h0m3 6h0m1 2h0m1-9h0m-4-3h0m1-24h0m2 29h0m3-7h0m-5 4h0m4 20h0m-2-19h0m0 5h0m-2-4h0m6 9h0m0-10h0m0-13h0m-2 14h0m3 5h0m1 1h0m-2 15h0m1-14h0m-1-78h0m-2 20h0m4 1h0m1-26h0m-3 26h0m3-23h0m-5-16h0m4 24h0m0 10h0m2-42h0m-2 9h0m1 31h0m-1-13h0m-1 25h0m-1-11h0m-1-19h0m5-22h0m1 110h0m-6-9h0m1-4h0m2 18h0m-2 7h0m2-16h0m3-9h0m-1-3h0m-2 12h0m2-3h0m3 6h0m-1 0h0m-1 8h0m2-1h0m-5-10h0m1 5h0m1-7h0m0-5h0m1-17h0m1 17h0m-3-13h0m0 15h0m5 9h0m2-23h0m-3 15h0m-2 13h0m0-14h0m4-12h0m-2 6h0m0 23h0m-1-36h0m0 31h0m3 4h0m-3-11h0m3 2h0m2 6h0m1-5h0m-3-25h0m2-1h0m-4 11h0m2 5h0m-2 11h0m4-15h0m-1-19h0m-1-13h0m-1 20h0m2 5h0m2-27h0m3 25h0m-1-18h0m-3-39h0m1-4h0m2 29h0m1 1h0m1 28h0m-5-38h0m-1-8h0m5 10h0m-1-15h0m2-18h0m1 17h0m-1-46h0m-4 44h0m1 4h0m3-8h0m-3-6h0m5-7h0m-3-26h0m3 20h0m-6 9h0m2-18h0m1-5h0m2 19h0m2 5h0m-5-40h0m1 32h0m5-22h0m-4-16h0m4 11h0m-5 11h0m4-28h0m0 24h0m2-113h0m0 5h0m-5 82h0m4-16h0m-1 6h0m3 2h0m-4 9h0m1-12h0m-1-4h0m5-16h0m-6-3h0m4-15h0m-3-2h0m6-6h0m-7-22h0m4-1h0m0 43h0m-1-27h0m0 25h0m1 2h0m-1-57h0m-1 59h0m4-40h0m3 14h0m-1 22h0m0-23h0m-5-9h0m2-4h0m1 12h0m-2-12h0m0-7h0m1-5h0m5-1h0m-1-15h0m0-1h0m2 3h0m-2 1h0m-4 17h0m2-19h0m0 20h0m5-2h0m-4 39h0m-2-25h0m1 5h0m0-27h0m4 9h0m-3 11h0m1-17h0m-1 35h0m0 5h0m3-21h0m-3-110h0m1 121h0m5 8h0m-1-38h0m-3-12h0m1-4h0m2 24h0m-3-36h0m2 39h0m1-8h0m0 18h0m0-2h0m1-18h0m2-13h0m-5 52h0m1-45h0m4 4h0m-4 16h0m1-3h0m4-9h0m-5-30h0m4 12h0m-2 13h0m1-26h0m2-28h0m-1 45h0m1 38h0m-2-25h0m4-29h0m0 37h0m-1-56h0m2 27h0m-3 22h0m3 6h0m0-22h0m-3-5h0m3 4h0m-4-8h0m5 11h0m-6-34h0m6 53h0m0-36h0m0 9h0m-2-7h0m2 3h0m-3 42h0m5-48h0m-3 14h0m0-3h0m-2-14h0m4 7h0m2-14h0m-3-2h0m-3-2h0m4 1h0m-3-19h0m6 46h0m-3-63h0m-1 22h0m0 31h0m-2-9h0m4-55h0m3 51h0m-5 18h0m1 18h0m4-7h0m-1-46h0m-1 18h0m0 8h0m-1-24h0m4 15h0m0-25h0m-4-6h0m-1 14h0m4-17h0m-1-8h0m2 46h0m1-2h0m-1-55h0m1 33h0m-5 47h0m4-36h0m-1-10h0m4-3h0m-2 21h0m-2-43h0m3 42h0m-2 21h0m2-37h0m1 16h0m1 7h0m-3-23h0m0 2h0m2 2h0m0 17h0m0-5h0m2 11h0m-5 7h0m4 4h0m-5 14h0m4-5h0m4 18h0m-3-8h0m-3-15h0m0 10h0m1-35h0m1 26h0m2 46h0m0-9h0m-1-22h0m3-50h0m0 59h0m-1 6h0m-2-70h0m3 40h0m-5 11h0m7-18h0m-3 6h0m-2 19h0m0-4h0m0-19h0m2 19h0m-1 9h0m1 3h0m3 26h0m-2-45h0m0 50h0m0 27h0m1-20h0m2-14h0m-4 5h0m6-21h0m-2-7h0m-3 29h0m-1 2h0m2 10h0m1-5h0m1 18h0m-2-7h0m5-3h0m0 17h0m-1 19h0m1-27h0m-3 24h0m1-1h0m1-25h0m3-19h0m-6 86h0m4-10h0m2-10h0m-5-22h0m6 27h0m-5-19h0m1 4h0m1 19h0m0 8h0m2 6h0m-2 0h0m0-18h0m-1 36h0m5 18h0m-5-14h0m0-11h0m2 6h0m-2 13h0m1 3h0m0-27h0m1 38h0m5 6h0m-6 4h0m3 31h0m0-32h0m2 7h0m-3-17h0m4 16h0m-1 18h0m0-11h0m-2 2h0m1-12h0m1 9h0m1 7h0m-4-4h0m0-13h0m2-4h0m0 0h0m5 8h0m-3 40h0m0 0h0m1 4h0m-3-25h0m5 15h0m-2 4h0m2-16h0m-1 26h0m-2-28h0m-1 0h0m4-19h0m1 20h0m-1-3h0m-3 40h0m2-6h0m1 15h0m-2-14h0m-1-6h0m2 25h0m-1-21h0m4 1h0m1-4h0m-2 5h0m2-30h0m-4 6h0m0 38h0m4-5h0m-4 0h0m1-5h0m5-12h0m-5-13h0m3 31h0m0-35h0m2-6h0m-3 10h0m-1-2h0m0-1h0m4-7h0m-2 6h0m4 8h0m-5 1h0m2 4h0m-2 5h0m2-1h0m-1 6h0m4-66h0m1 43h0m2-8h0m-3 12h0m-3-5h0m5 4h0m0-12h0m0-2h0m-5 32h0m0-11h0m6 7h0m-4-6h0m1 25h0m-1 11h0m0-31h0m5 7h0m-5-10h0m2 17h0m-1-5h0m1 12h0m2-7h0m-2-20h0m1 19h0m3-1h0m-4 10h0m2 14h0m1 3h0m-2 8h0m1-12h0m0-15h0m4-16h0m-3 25h0m4 2h0m-5-21h0m0 3h0m2-4h0m2-6h0m-4-5h0m0 11h0m6-3h0m-2 5h0m1-16h0m0-17h0m-2 8h0m1 26h0m-1 2h0m1-9h0m1 5h0m-2-12h0m3-1h0m0-5h0m-2 12h0m2-9h0m-2 17h0m4-11h0m-3-4h0m2 1h0m-1 0h0m-1-20h0m4 10h0m-5 28h0m5-5h0m-3-15h0m0 14h0m-2-17h0m4 7h0m2-16h0m0 7h0m-3 19h0m-1-20h0m1-11h0m2-12h0m-1 17h0m4 1h0m-4 11h0m2 27h0m-2-20h0m-1-1h0m4 5h0m1-12h0m-2 1h0m4 7h0m-3 17h0m-2-26h0m2 6h0m2 4h0m-4-12h0m6 40h0m-1 1h0m-1-8h0m0 0h0m-3-33h0m1-4h0m-1 28h0m6 14h0m0 4h0m-5 5h0m4-24h0m-2-3h0m4 4h0m0 19h0m0-25h0m-5 12h0m1-10h0m2-2h0m4 5h0m-4-30h0m-2-1h0m0-19h0m2-1h0m2 22h0m2-21h0m1 5h0m-3 23h0m-3-13h0m6-9h0m0-12h0m-1 17h0m-3 0h0m2-2h0m0 1h0m0-17h0m1 4h0m0-19h0m3 14h0m-3 31h0m0 10h0m4 19h0m-3-23h0m0 28h0m3-2h0m-6-21h0m4 11h0m0-6h0m2-2h0m-1 32h0m-2-21h0m1-6h0m-2 17h0m1 2h0m4-20h0m-5 1h0m2 9h0m2-3h0m3 3h0m-1-10h0m-5 11h0m4 0h0m-3 10h0m2 6h0m3-24h0m-3 7h0m-2 10h0m6-25h0m-4-14h0m3 5h0m0 9h0m1-11h0m-1 23h0m2-21h0m0 34h0m-1-20h0m-3-12h0m6-8h0m-6 5h0m5 18h0m-2 2h0m1 11h0m0-5h0m0-34h0m2 62h0m0-20h0m2 12h0m-5 1h0m1-20h0m2-6h0m1 8h0m2 13h0m-6 12h0m2-11h0m-2 13h0m3 8h0m0-23h0m1-3h0m-2 3h0m-1-9h0m4 29h0m-4-20h0m7 7h0m-2-18h0m2 1h0m-6 14h0m2-10h0m4 10h0m-5-49h0m0 31h0m5-6h0m-2 1h0m-3-16h0m1-21h0m1-5h0m5 28h0m0-5h0m0 0h0m1-1h0m-4 29h0m0-18h0m1-8h0m0 4h0m1-16h0m-2-6h0m2 8h0m-2-28h0m4-11h0m2 17h0m-3-11h0m0 10h0m-3-16h0m4 2h0m-3 7h0m4-38h0m-1 19h0m0-10h0m-1 9h0m0-7h0m2-1h0m-1-41h0m1 9h0m-3-1h0m5-14h0m-2 12h0m-1-59h0m4 43h0m1-43h0m-4 10h0m1 17h0m3-13h0m1 0h0m-6-16h0m1 4h0m2 7h0m-1-17h0m3-10h0m0-7h0m2-1h0m-4 86h0m3 5h0m-2-96h0m1-34h0m0 36h0m0-19h0m-3 3h0m3 17h0m4-14h0m-6-2h0m5-1h0m0 4h0m-2-27h0m2 19h0m1-29h0m1 17h0m-3 7h0m4-50h0m-2 15h0m-3 4h0m1 30h0m1-20h0m1 39h0m-2-86h0m5 7h0m0 67h0m0-49h0m1-14h0m-5 42h0m4-48h0m1 24h0m0 37h0m1-9h0m-5-31h0m2-29h0m-2 38h0m1-22h0m2 8h0m-1 9h0m2 5h0m0-4h0m3 8h0m0-5h0m-2-1h0m1-8h0m2-5h0m-5 28h0m3-2h0m-1-19h0m-2-29h0m6 32h0m-3 24h0m-2-14h0m5-4h0m-4 34h0m1-13h0m-1-8h0m2-5h0m4 4h0m-6 32h0m6-21h0m-5-20h0m3 15h0m2-6h0m-1-8h0m-1 13h0m-1-32h0m1 14h0m-2 1h0m0 14h0m5-4h0m-2-16h0m-1 14h0m1 2h0m1 30h0m-1-38h0m2 2h0m0 10h0m-3 23h0m4-9h0m0-10h0m1-24h0m-2 5h0m1 12h0m-3-37h0m0 31h0m1-24h0m4 33h0m-1-9h0m2-34h0m-1 67h0m-2-24h0m-2 17h0m4 1h0m-2-11h0m0-11h0m4 12h0m-3-40h0m0-9h0m1-5h0m3 49h0m-3-14h0m2 5h0m1 8h0m2-67h0m-4 6h0m4 6h0m-1 19h0m1 5h0m-4 9h0m-1-31h0m0 7h0m1-5h0m2-3h0m-2 11h0m4 26h0m-2 11h0m2-21h0m3-13h0m-6-13h0m4-44h0m0 39h0m-2 5h0m2-34h0m1 23h0m2 30h0m-4 8h0m2-19h0m1-4h0m-2 5h0m2 9h0m-1 14h0m3 8h0m-2 8h0m1-16h0m1 7h0m-1 3h0m1 10h0m1 4h0m-1-3h0m-3 11h0m4-18h0m2-2h0m-2 4h0m-1 28h0m0-22h0m4 60h0m-6 16h0m5-6h0m-3 9h0m2-26h0m0-40h0m1 23h0m-3 11h0m3-14h0m-3 14h0m0-11h0m5 30h0m-3 21h0m3 9h0m0 12h0m0-30h0m1-11h0m-1 18h0m1-29h0m-5 50h0m2 33h0m4-21h0m-3-1h0m1 18h0m-2-24h0m6 16h0m-5-18h0m-1 11h0m6 29h0m-5-8h0m4-4h0m0-2h0m2 12h0m-5 10h0m6-4h0m-7-6h0m5 31h0m0 11h0m-1-23h0m-1-7h0m1 34h0m4 17h0m-1-14h0m-1-8h0m1-3h0m-3 4h0m0 33h0m5-7h0m0-28h0m-2 18h0m1-6h0m2 2h0m-4 9h0m-1 2h0m4 17h0m-3-8h0m2 13h0m3 5h0m0 12h0m-3 0h0m1-10h0m-1-1h0m-2 32h0m0-55h0m1 12h0m1 7h0m0-26h0m-1-9h0m5 39h0m0-16h0m-5 0h0m1-4h0m4-12h0m0 2h0m-2 12h0m0 7h0m2-18h0m3 25h0m-2 6h0m-2 7h0m2 1h0m-2-6h0m-1-9h0m3 25h0m2 2h0m-5-6h0m2 3h0m2 11h0m1-6h0m-1-8h0m-2 6h0m5-9h0m-2-12h0m-3 2h0m4 29h0m1-16h0m0-18h0m2 18h0m-4-8h0m5 2h0m-2-3h0m-4-11h0m2-14h0m2-2h0m-3 8h0m2-1h0m2 13h0m0 33h0m-2-7h0m0-1h0m4-37h0m0-9h0m-2 28h0m0-14h0m-3 3h0m6 20h0m-1 15h0m-2-28h0m3-3h0m0 7h0m-5 6h0m5-7h0m-3 16h0m5 2h0m-6-6h0m5 5h0m-4 2h0m2 4h0m-1 8h0m0-14h0m-1 0h0m3 6h0m3-8h0m1 16h0m-3 1h0m3-7h0m-1 12h0m2-3h0m-1-5h0m0-10h0m0 10h0m0-33h0m-4 2h0m6 14h0m-1-17h0m-1-2h0m1-15h0m2 28h0m-6 20h0m5-20h0m-2-12h0m3 14h0m-3-5h0m0-7h0m4 24h0m-4-16h0m4 2h0m-2-9h0m-2 0h0m5 14h0m-2 11h0m1-30h0m2-8h0m-3 18h0m3-6h0m-6-6h0m4 14h0m1-5h0m-1-16h0m0 19h0m1 3h0m2-20h0m-4 6h0m1 20h0m-1-1h0m3 18h0m-2-15h0m2-1h0m3 17h0m-4-27h0m4 3h0m1 21h0m-4-24h0m3 7h0m0 2h0m2 1h0m-3-41h0m3 18h0m0 3h0m-4-18h0m2 11h0m-1 30h0m4-15h0m0 10h0m-3-10h0m2-3h0m-2 8h0m4-39h0m-4 38h0m5-1h0m0-6h0m-5-3h0m4 14h0m2-10h0m0 5h0m-4 6h0m-1 4h0m5-24h0m-1 15h0m0 6h0m0-30h0m1 12h0m-2 29h0m-2-31h0m2 6h0m2-19h0m-3-14h0m3 30h0m1-6h0m0-13h0m-1-9h0m3 6h0m-1 18h0m1 7h0m-6 9h0m6-26h0m1-10h0m-5 2h0m4 25h0m0 11h0m1-24h0m0 3h0m1-11h0m-1 9h0m-2 4h0m3 0h0m-4 4h0m4-9h0m-3 7h0m4 15h0m-4 4h0m0 8h0m1-16h0m2-1h0m1-15h0m-3 24h0m2-29h0m-2 8h0m4-18h0m-5 25h0m1-1h0m4-25h0m2 19h0m0 16h0m-4-26h0m5 13h0m-1-25h0m0 14h0m-1-6h0m1-42h0m-2 30h0m-1 5h0m-1-12h0m7 14h0m-1-4h0m1 26h0m-3-17h0m2 6h0m1 10h0m1-72h0m-3 18h0m2 13h0m-1 3h0m0 24h0m-1-20h0m0 27h0m1-4h0m-2 1h0m4-3h0m-3-16h0m3-15h0m-2 52h0m0 5h0m4-23h0m-1 9h0m-4 4h0m5-22h0m-4 14h0m3-31h0m-3 1h0m2 34h0m0-27h0m2 13h0m3-37h0m-1 30h0m-4-2h0m6 8h0m-4 21h0m-2-9h0m6-15h0m-5 6h0m5-14h0m-5 18h0m2-13h0m-2-4h0m1-2h0m5 0h0m-4-4h0m1-12h0m2 30h0m-3-39h0m0 6h0m5 6h0m0-25h0m-1-7h0m-2 12h0m1 12h0m4-15h0m-6 28h0m6-16h0m-4-17h0m1-9h0m1-4h0m-2-13h0m3 10h0m-2 4h0m4-21h0m1 8h0m-3-1h0m2-27h0m1 16h0m-1 3h0m-3 4h0m-2-15h0m2-16h0m0-10h0m0-33h0m1 35h0m1 16h0m-1-61h0m3 0h0m-2 30h0m4 5h0m-4-13h0m-1-12h0m0 4h0m4-16h0m-2 7h0m-1 1h0m4 2h0m-2-21h0m-2-15h0m3 8h0m-3-37h0m6 21h0m-5-4h0m2-11h0m-1-28h0m1 29h0m3 17h0m-2 8h0m-2-20h0m1-9h0m4-62h0m-2 26h0m0-5h0m4-14h0m-1-1h0m-3-4h0m4-25h0m-1-23h0m0 44h0m0 9h0m1 4h0m-3 1h0m3 19h0m3-48h0m-6 12h0m2-29h0m-1 2h0m1 60h0m1-21h0m1 0h0m2 45h0m-5-13h0m2-64h0m-2-2h0m3 36h0m-2 6h0m1-1h0m0 18h0m0-38h0m4 13h0m2-23h0m0-14h0m-4 56h0m5-37h0m-4-17h0m-2 45h0m1-27h0m1-20h0m2 2h0m-3 18h0m5 4h0m-1 14h0m-4-47h0m4 57h0m1-23h0m-3-60h0m3 20h0m2 22h0m-5-23h0m5-6h0m-3 57h0m-1-15h0m0-11h0m5-23h0m-2 39h0m-2-17h0m0-2h0m4-19h0m-2 30h0m1-70h0m1 36h0m1-3h0m-1-12h0m2-30h0m-1 18h0m-2 11h0m1 42h0m2-59h0m2 37h0m-1-9h0m-4-60h0m0 44h0m0-10h0m0-14h0m1 10h0m2 8h0m3 27h0m-4-25h0m4-1h0m-5 37h0m5-56h0m-5 18h0m2-11h0m0-81h0m5 99h0m-4 7h0m0 27h0m1 2h0m3-6h0m-1-6h0m-1-40h0m1 53h0m0-56h0m1 43h0m1-31h0m-5 2h0m6 2h0m-2-3h0m-2 2h0m5 7h0m-3-18h0m-2 43h0m0 15h0m3-16h0m0-12h0m-2-7h0m-1 1h0m6 36h0m-3 22h0m3-46h0m-2-11h0m2 16h0m1 4h0m0 18h0m1 21h0m-1-54h0m0 14h0m-3-8h0m0 29h0m0 7h0m1 19h0m2-10h0m-1 6h0m-1-51h0m3 29h0m2-56h0m0 71h0m-3 33h0m-1-53h0m3 0h0m-2-3h0m1 24h0m1 21h0m-1-31h0m-1 46h0m4-22h0m-1-4h0m2 23h0m-5-8h0m1 14h0m1-3h0m3-20h0m-3 13h0m0-38h0m3 63h0m1 15h0m0-11h0m-1-29h0m-3 34h0m0-22h0m6 24h0m-5-3h0m4 18h0m-1-22h0m-3 3h0m4 4h0m-2 42h0m2-34h0m-3-26h0m2 85h0m5-35h0m-7 38h0m2 11h0m1-13h0m2 24h0m1-13h0m1 11h0m-1-35h0m2 8h0m-5-3h0m5 27h0m0 12h0m0-6h0m-1 6h0m-3 20h0m2-12h0m2 2h0m-2 2h0m2 20h0m1 8h0m-3 4h0m3-1h0m-4 23h0m1-37h0m1 18h0m4 12h0m-5-2h0m3 32h0m-3-37h0m0-2h0m2 25h0m0-13h0m4-21h0m-5-9h0m4 67h0m-4 10h0m4-22h0m3-22h0m-1 18h0m-2 1h0m3 15h0m-3-2h0m0 12h0m1-14h0m-3 28h0m3-4h0m2 14h0m-1 4h0m-2-25h0m0 21h0m2-47h0m1-14h0m0 11h0m1-11h0m-1 50h0m-3-7h0m6 3h0m-5-15h0m4 15h0m2 18h0m-4-22h0m2 13h0m-2-34h0m0 9h0m2-16h0m3 23h0m0 3h0m-1-5h0m-3-21h0m5 13h0m0 26h0m-5-11h0m4 19h0m-1-31h0m1 9h0m0 3h0m2 8h0m-5-43h0m0 11h0m3 8h0m-3 10h0m6-23h0m-1-8h0m0 24h0m-3-7h0m3 35h0m-3-8h0m5-16h0m-5 7h0m5 8h0m1 1h0m-6 2h0m2-6h0m5-14h0m-4 21h0m2-24h0m-3 24h0m0-24h0m3 19h0m-3 21h0m3-66h0m-2 20h0m4 37h0m-3-16h0m5 9h0m-3 5h0m2-17h0m0 8h0m-2-30h0m1-44h0m2 69h0m-5-5h0m5-44h0m-2 31h0m0-28h0m-1 9h0m4 40h0m-3-1h0m-1-24h0m4-22h0m-1 26h0m3 0h0m-4 29h0m0-34h0m4 45h0m-1-29h0m-3 27h0m3 8h0m3-16h0m-5 9h0m2 0h0m-1 0h0m3-13h0m0 20h0m0-10h0m1 21h0m1-9h0m-3 10h0m-2-23h0m1 37h0m0 2h0m0-32h0m4 14h0m-4-7h0m3 7h0m3-10h0m0 2h0m1-31h0m-5 25h0m5-2h0m-2-4h0m2-77h0m1 71h0m-2 6h0m-2 10h0m3-1h0m-2-9h0m-1 5h0m1-5h0m1 8h0m-2-2h0m1-22h0m2 28h0m0 6h0m0-18h0m-1 13h0m0-4h0m0-23h0m1 19h0m1 13h0m-3655-386h0m165 496h0m0-235h0m50-101h0m89-84h0m449 416h0m240-450h0m413-168h0m0 17h0m85 118h0m220-135h0m279-17h0m214 101h0m0 34h0m95-34h0m-1805 160h0m299 33h0m1307 59h0m708 252h0m259 9h0m574 59h0m-644-379h0m-294-75h0m-95 0h0m703 0h0m190-25h0m-2299-9h0m-95 42h0m758 353h0m-25-17h0" fill="none" stroke="#00f" stroke-width="9.2" stroke-linecap="round"/>
<g fill="none" stroke="#262626"><path d="M325.6 122.6H2172.0" stroke-width="2.2"/><path d="M325.6 121.6V500.8" stroke-width="2.6"/><path d="M325.6 500.5H2172.5V122.6" stroke-width="1" shape-rendering="crispEdges"/>
<path d="M525.1 122.6v20M525.1 500.8v-20M774.4 122.6v20M774.4 500.8v-20M1023.8 122.6v20M1023.8 500.8v-20M1273.1 122.6v20M1273.1 500.8v-20M1522.5 122.6v20M1522.5 500.8v-20M1771.8 122.6v20M1771.8 500.8v-20M2021.2 122.6v20M2021.2 500.8v-20M325.6 458.8h20M325.6 416.8h20M325.6 374.7h20M325.6 332.7h20M325.6 290.7h20M325.6 248.7h20M325.6 206.6h20M325.6 164.6h20" stroke-width="2.4"/>
<path d="M2172.0 459.5h-20M2172.0 417.5h-20M2172.0 375.5h-20M2172.0 333.5h-20M2172.0 291.5h-20M2172.0 249.5h-20M2172.0 207.5h-20" stroke-width="1" shape-rendering="crispEdges"/>
</g>
<path d="M1023.5 498.5V169H1074V498.5H1023.5" fill="none" stroke="#000" stroke-width="5.5" stroke-dasharray="21 3.2"/>
<path d="M1173 498.5V169H1223.3V498.5H1173" fill="none" stroke="#000" stroke-width="5.5" stroke-dasharray="21 3.2"/>
<path d="M2121.5 498.5V169H2172.5V498.5H2121.5" fill="none" stroke="#000" stroke-width="5.5" stroke-dasharray="21 3.2"/>
<text x="989" y="159.3" font-family="'Liberation Serif','DejaVu Serif',serif" font-weight="bold" font-size="36" textLength="122" lengthAdjust="spacingAndGlyphs" fill="#000" stroke="#000" stroke-width="0.5">DOY 15</text>
<text x="1139.5" y="159.3" font-family="'Liberation Serif','DejaVu Serif',serif" font-weight="bold" font-size="36" textLength="121.5" lengthAdjust="spacingAndGlyphs" fill="#000" stroke="#000" stroke-width="0.5">DOY 18</text>
<text x="2044.5" y="159.3" font-family="'Liberation Serif','DejaVu Serif',serif" font-weight="bold" font-size="36" textLength="122.5" lengthAdjust="spacingAndGlyphs" fill="#000" stroke="#000" stroke-width="0.5">DOY 37</text>
<g font-family="'DejaVu Sans','Liberation Sans',sans-serif" font-size="31.3" fill="#262626" stroke="#262626" stroke-width="0.9">
<text x="306.3" y="512.7" text-anchor="end">−10</text>
<text x="306.3" y="470.7" text-anchor="end">0</text>
<text x="306.3" y="428.7" text-anchor="end">10</text>
<text x="306.3" y="386.6" text-anchor="end">20</text>
<text x="306.3" y="344.6" text-anchor="end">30</text>
<text x="306.3" y="302.6" text-anchor="end">40</text>
<text x="306.3" y="260.6" text-anchor="end">50</text>
<text x="306.3" y="218.5" text-anchor="end">60</text>
<text x="306.3" y="176.5" text-anchor="end">70</text>
<text x="306.3" y="134.5" text-anchor="end">80</text>
<text x="526.4" y="535.6" text-anchor="middle">5</text>
<text x="775.7" y="535.6" text-anchor="middle">10</text>
<text x="1025.1" y="535.6" text-anchor="middle">15</text>
<text x="1274.4" y="535.6" text-anchor="middle">20</text>
<text x="1523.8" y="535.6" text-anchor="middle">25</text>
<text x="1773.1" y="535.6" text-anchor="middle">30</text>
<text x="2022.5" y="535.6" text-anchor="middle">35</text>
<text x="1249" y="572.7" text-anchor="middle" font-size="34.5">time (DOY)</text>
<text transform="translate(249 311) rotate(-90)" text-anchor="middle" font-size="34.3">VTEC (TECU)</text>
</g>
<text x="1235" y="91" font-family="'DejaVu Sans','Liberation Sans',sans-serif" font-weight="bold" font-size="36" text-anchor="middle" fill="#000">VTEC</text>
<rect x="285.2" y="600.2" width="1919.3999999999999" height="90.29999999999995" fill="#fff" stroke="#000" stroke-width="1.3"/>
<g font-family="'DejaVu Sans','Liberation Sans',sans-serif" font-size="34.5" fill="#000" stroke="#000" stroke-width="0.5">
<text x="323.6" y="658" font-weight="bold" font-size="34.7">LEGEND</text>
<circle cx="537.5" cy="645.6" r="4.7" fill="#00f" stroke="none"/>
<text x="559.2" y="658.3">estimated VTEC values</text>
<path d="M1072.8 644.8H1138" stroke="#f00" stroke-width="7"/>
<text x="1156.4" y="658.3">GIM VTEC values</text>
<path d="M1562 644.3H1628" stroke="#0f0" stroke-width="7"/>
<text x="1647" y="656">the Mw 7.8 earthquake time</text>
</g>
<rect x="325.2" y="839.0" width="1846.8" height="983.5" fill="#0050ff"/>
<g transform="translate(325.2 839.0) scale(49.9135 3.41493)" fill="none" stroke-width="1.02" shape-rendering="crispEdges">
<path stroke="#000090" d="M0.5 0v2M24.5 283v1"/>
<path stroke="#0000a0" d="M12.5 225v1"/>
<path stroke="#0000b0" d="M15.5 43v1"/>
<path stroke="#0000d0" d="M21.5 44v1"/>
<path stroke="#0000e0" d="M25.5 51v1"/>
<path stroke="#0000f0" d="M0.5 45v1"/>
<path stroke="#0000ff" d="M3.5 248v1M5.5 255v1M5.5 259v1M11.5 258v1M11.5 264v1M28.5 242v1M29.5 281v1"/>
<path stroke="#0000ff" d="M3.5 241v1M3.5 245v1M3.5 249v1M3.5 252v1M5.5 242v1M5.5 245v1M5.5 257v1M5.5 261v1M6.5 241v1M7.5 19v2M7.5 22v2M14.5 38v1M18.5 3v1M18.5 41v1M18.5 49v1M22.5 239v1M26.5 237v1M26.5 242v1M28.5 261v1M29.5 279v1M29.5 283v1"/>
<path stroke="#000eff" d="M0.5 259v1M0.5 272v1M3.5 240v1M3.5 243v1M3.5 246v1M3.5 250v1M5.5 206v1M5.5 216v1M5.5 253v1M5.5 256v1M5.5 258v1M5.5 260v1M5.5 262v1M7.5 21v1M7.5 25v2M7.5 29v1M7.5 258v1M8.5 184v1M8.5 187v1M8.5 261v1M8.5 284v1M11.5 213v1M11.5 221v1M11.5 246v2M11.5 257v1M12.5 217v1M14.5 282v1M18.5 38v1M22.5 240v2M26.5 15v1M26.5 232v1M26.5 240v1M26.5 243v1M29.5 9v1M29.5 277v2M31.5 256v1M32.5 248v1M32.5 251v1M32.5 254v1M32.5 278v1"/>
<path stroke="#001cff" d="M0.5 262v2M0.5 265v1M0.5 268v2M2.5 202v1M2.5 204v1M3.5 239v1M3.5 242v1M4.5 253v1M4.5 264v1M5.5 208v2M5.5 213v1M5.5 219v1M5.5 223v1M5.5 228v2M5.5 231v1M5.5 234v1M5.5 236v1M5.5 263v3M5.5 281v1M6.5 276v1M7.5 24v1M7.5 28v1M7.5 259v1M8.5 186v1M8.5 197v3M8.5 209v1M8.5 262v2M8.5 279v1M9.5 226v1M9.5 251v2M9.5 255v2M10.5 17v1M10.5 21v1M10.5 34v1M10.5 39v1M10.5 43v1M10.5 239v1M10.5 243v1M10.5 274v1M11.5 212v1M11.5 222v1M11.5 224v1M11.5 226v2M11.5 242v3M11.5 252v1M11.5 261v1M11.5 266v1M12.5 218v1M12.5 220v1M12.5 224v1M12.5 237v1M12.5 275v1M18.5 2v1M18.5 4v3M18.5 10v1M18.5 12v1M18.5 31v1M18.5 36v1M18.5 46v1M18.5 250v1M18.5 257v1M18.5 259v1M19.5 229v2M19.5 232v1M20.5 29v1M21.5 280v1M22.5 29v1M22.5 231v1M22.5 245v1M24.5 199v1M24.5 227v1M24.5 235v1M26.5 10v1M26.5 19v1M26.5 21v3M26.5 215v1M26.5 230v1M26.5 234v1M26.5 236v1M26.5 238v1M26.5 268v1M27.5 254v1M27.5 262v1M27.5 264v1M28.5 227v1M28.5 232v1M28.5 237v1M28.5 239v2M28.5 243v2M29.5 16v1M29.5 22v2M29.5 270v4M29.5 276v1M29.5 280v1M29.5 282v1M31.5 4v1M31.5 7v4M31.5 44v1M31.5 49v1M31.5 255v1M32.5 22v2M32.5 27v3M32.5 34v1M32.5 41v1M32.5 225v1M32.5 247v1M32.5 249v2M32.5 255v1M32.5 271v1M32.5 277v1M35.5 37v1M35.5 40v2M35.5 241v1"/>
<path stroke="#002aff" d="M0.5 29v1M0.5 260v2M0.5 266v1M0.5 270v1M0.5 276v1M1.5 206v1M1.5 213v1M1.5 227v1M2.5 9v1M2.5 192v1M2.5 194v1M2.5 196v1M3.5 50v1M3.5 244v1M3.5 251v1M3.5 253v3M3.5 285v1M4.5 44v1M4.5 255v1M4.5 257v2M4.5 261v1M4.5 263v1M4.5 269v1M4.5 271v1M4.5 274v1M4.5 276v1M4.5 279v1M4.5 286v1M5.5 41v1M5.5 47v1M5.5 49v1M5.5 187v1M5.5 202v1M5.5 205v1M5.5 207v1M5.5 210v2M5.5 214v1M5.5 218v1M5.5 220v1M5.5 222v1M5.5 227v1M5.5 230v1M5.5 238v1M5.5 243v1M5.5 249v1M5.5 267v2M5.5 285v1M5.5 287v1M6.5 235v1M6.5 257v1M6.5 266v2M6.5 273v2M6.5 281v1M6.5 283v1M7.5 11v1M7.5 16v1M7.5 18v1M7.5 30v1M7.5 40v1M8.5 185v1M8.5 188v2M8.5 191v1M8.5 193v3M8.5 200v1M8.5 204v1M8.5 212v1M8.5 223v1M8.5 226v2M8.5 229v1M8.5 267v1M8.5 271v1M8.5 273v1M8.5 285v1M9.5 183v1M9.5 190v3M9.5 198v1M9.5 216v1M9.5 245v1M9.5 253v1M10.5 10v1M10.5 12v1M10.5 15v2M10.5 19v2M10.5 22v1M10.5 36v1M10.5 38v1M10.5 40v2M10.5 242v1M10.5 278v1M11.5 25v1M11.5 202v1M11.5 207v3M11.5 215v2M11.5 219v2M11.5 225v1M11.5 241v1M11.5 245v1M11.5 251v1M11.5 253v1M11.5 255v2M11.5 259v2M11.5 262v1M11.5 265v1M11.5 270v2M12.5 232v1M12.5 235v1M12.5 279v1M12.5 281v1M13.5 256v1M13.5 258v1M14.5 247v1M14.5 268v1M15.5 219v1M15.5 254v1M16.5 19v1M16.5 39v1M16.5 285v1M17.5 216v2M17.5 238v1M17.5 264v1M18.5 7v2M18.5 13v2M18.5 22v1M18.5 34v2M18.5 40v1M18.5 42v2M18.5 45v1M18.5 50v1M18.5 236v1M18.5 246v1M18.5 248v1M19.5 20v1M19.5 219v1M19.5 241v1M20.5 27v1M20.5 36v2M20.5 42v1M21.5 34v1M22.5 34v1M22.5 36v2M22.5 230v1M22.5 232v4M22.5 238v1M22.5 242v1M23.5 287v1M24.5 197v2M24.5 201v1M24.5 252v1M24.5 265v1M24.5 268v1M25.5 43v1M25.5 242v1M26.5 8v1M26.5 18v1M26.5 20v1M26.5 37v1M26.5 227v1M26.5 233v1M26.5 235v1M26.5 239v1M26.5 241v1M26.5 244v1M26.5 260v1M26.5 269v2M27.5 4v1M27.5 8v1M27.5 10v3M27.5 241v1M27.5 251v1M27.5 255v1M27.5 259v1M28.5 212v1M28.5 218v1M28.5 221v1M28.5 225v2M28.5 231v1M28.5 234v1M28.5 241v1M28.5 245v1M28.5 247v2M29.5 12v1M29.5 21v1M29.5 25v1M29.5 27v1M29.5 206v1M29.5 226v1M29.5 248v1M29.5 259v1M29.5 263v1M29.5 285v1M29.5 287v1M30.5 32v1M31.5 3v1M31.5 5v2M31.5 11v2M31.5 38v1M31.5 40v1M31.5 43v1M31.5 45v1M31.5 48v1M31.5 51v1M31.5 53v1M31.5 201v1M31.5 238v1M31.5 263v2M31.5 277v1M32.5 16v2M32.5 19v3M32.5 25v1M32.5 32v2M32.5 43v1M32.5 210v2M32.5 213v6M32.5 221v1M32.5 224v1M32.5 252v2M32.5 256v1M32.5 258v1M32.5 262v1M32.5 267v1M32.5 273v2M32.5 279v2M32.5 282v1M32.5 284v1M33.5 0v1M33.5 216v1M33.5 261v1M33.5 267v2M34.5 244v2M35.5 43v1M35.5 45v1M35.5 48v1M35.5 236v5M35.5 242v2M35.5 266v1M35.5 268v1"/>
<path stroke="#0039ff" d="M0.5 22v1M0.5 24v1M0.5 35v1M0.5 38v1M0.5 40v1M0.5 42v1M0.5 220v1M0.5 233v1M0.5 237v1M0.5 247v2M0.5 256v2M0.5 264v1M0.5 267v1M0.5 271v1M0.5 274v2M0.5 285v1M1.5 19v2M1.5 204v1M1.5 210v1M1.5 212v1M1.5 214v1M1.5 216v1M2.5 16v1M2.5 40v1M2.5 51v1M2.5 181v1M2.5 195v1M2.5 199v1M2.5 201v1M2.5 203v1M2.5 205v1M2.5 207v1M2.5 210v1M2.5 271v1M2.5 277v1M3.5 41v1M3.5 48v1M3.5 52v1M3.5 247v1M3.5 256v1M3.5 259v1M3.5 262v1M3.5 265v1M3.5 282v1M3.5 284v1M4.5 0v1M4.5 8v1M4.5 15v1M4.5 21v1M4.5 40v1M4.5 42v2M4.5 46v1M4.5 48v2M4.5 54v1M4.5 249v1M4.5 254v1M4.5 256v1M4.5 259v1M4.5 265v1M4.5 275v1M4.5 277v2M4.5 280v1M4.5 282v1M5.5 34v1M5.5 40v1M5.5 42v1M5.5 56v1M5.5 179v1M5.5 193v1M5.5 198v1M5.5 200v1M5.5 203v1M5.5 212v1M5.5 215v1M5.5 217v1M5.5 224v1M5.5 232v1M5.5 237v1M5.5 240v2M5.5 244v1M5.5 247v2M5.5 250v2M5.5 266v1M5.5 273v1M5.5 280v1M5.5 283v1M6.5 175v1M6.5 194v1M6.5 230v1M6.5 232v1M6.5 237v4M6.5 247v1M6.5 253v1M6.5 255v1M6.5 268v1M6.5 271v1M6.5 275v1M6.5 278v2M7.5 12v1M7.5 14v2M7.5 31v1M7.5 34v1M7.5 36v2M7.5 39v1M7.5 41v1M7.5 260v1M8.5 29v1M8.5 183v1M8.5 190v1M8.5 192v1M8.5 201v1M8.5 205v1M8.5 207v1M8.5 211v1M8.5 215v1M8.5 219v2M8.5 232v1M8.5 258v1M8.5 268v3M8.5 274v2M8.5 278v1M8.5 281v3M8.5 286v2M9.5 20v1M9.5 188v2M9.5 193v4M9.5 210v3M9.5 215v1M9.5 219v1M9.5 221v1M9.5 223v3M9.5 241v1M9.5 254v1M9.5 257v3M9.5 261v1M10.5 3v1M10.5 11v1M10.5 14v1M10.5 18v1M10.5 23v2M10.5 35v1M10.5 44v1M10.5 49v1M10.5 246v1M10.5 248v1M10.5 275v3M10.5 283v1M11.5 15v4M11.5 21v1M11.5 24v1M11.5 33v1M11.5 37v1M11.5 200v1M11.5 204v2M11.5 214v1M11.5 218v1M11.5 228v2M11.5 234v2M11.5 239v1M11.5 248v2M11.5 254v1M11.5 263v1M11.5 267v2M11.5 272v1M11.5 275v1M12.5 5v1M12.5 226v1M12.5 228v2M12.5 234v1M12.5 239v3M12.5 243v2M12.5 246v1M12.5 251v1M12.5 253v2M12.5 273v2M12.5 276v1M13.5 35v1M13.5 212v1M13.5 214v1M14.5 42v1M14.5 233v1M14.5 241v1M14.5 243v1M14.5 246v1M14.5 249v1M14.5 254v1M14.5 261v2M14.5 264v2M14.5 283v2M14.5 286v1M15.5 3v2M15.5 7v1M15.5 217v1M15.5 234v1M16.5 15v1M16.5 17v1M16.5 32v1M16.5 35v1M16.5 38v1M16.5 284v1M17.5 41v1M17.5 214v1M17.5 218v1M17.5 237v1M17.5 240v1M17.5 260v1M17.5 263v1M18.5 0v2M18.5 15v1M18.5 21v1M18.5 25v2M18.5 28v1M18.5 32v2M18.5 37v1M18.5 39v1M18.5 44v1M18.5 47v2M18.5 51v1M18.5 193v1M18.5 237v1M18.5 254v1M18.5 258v1M18.5 264v1M18.5 269v1M18.5 276v1M19.5 228v1M19.5 233v1M19.5 235v1M19.5 242v1M19.5 248v1M19.5 250v2M19.5 254v3M19.5 260v2M19.5 265v1M20.5 35v1M20.5 38v2M20.5 41v1M20.5 44v2M20.5 47v1M20.5 211v1M21.5 0v1M21.5 2v3M21.5 6v1M21.5 33v1M21.5 235v1M21.5 272v1M21.5 275v1M21.5 279v1M21.5 281v1M22.5 20v1M22.5 30v3M22.5 43v1M22.5 225v1M22.5 228v1M22.5 236v2M22.5 244v1M22.5 248v1M22.5 278v1M22.5 280v1M22.5 286v1M23.5 216v1M23.5 222v1M23.5 225v1M23.5 233v1M23.5 248v1M24.5 45v1M24.5 194v3M24.5 200v1M24.5 203v1M24.5 205v2M24.5 208v1M24.5 211v2M24.5 218v1M24.5 221v1M24.5 225v1M24.5 230v3M24.5 234v1M24.5 267v1M24.5 276v1M25.5 37v3M25.5 41v1M25.5 44v1M25.5 46v2M25.5 239v1M25.5 249v1M26.5 11v2M26.5 14v1M26.5 17v1M26.5 36v1M26.5 38v2M26.5 211v1M26.5 213v1M26.5 228v1M26.5 249v1M26.5 253v1M26.5 256v3M26.5 261v2M26.5 264v1M26.5 273v1M27.5 5v2M27.5 18v1M27.5 20v1M27.5 32v1M27.5 248v1M27.5 253v1M27.5 257v1M27.5 260v2M27.5 263v1M27.5 265v1M28.5 194v1M28.5 201v1M28.5 209v1M28.5 211v1M28.5 214v1M28.5 217v1M28.5 228v3M28.5 233v1M28.5 235v1M28.5 238v1M28.5 246v1M29.5 11v1M29.5 18v1M29.5 20v1M29.5 29v1M29.5 31v1M29.5 33v2M29.5 42v1M29.5 204v1M29.5 210v1M29.5 232v1M29.5 234v2M29.5 237v1M29.5 239v2M29.5 242v1M29.5 246v2M29.5 249v2M29.5 253v1M29.5 260v2M29.5 265v1M29.5 268v1M29.5 274v2M30.5 31v1M30.5 34v2M30.5 202v1M31.5 14v2M31.5 18v4M31.5 23v2M31.5 35v1M31.5 41v1M31.5 46v1M31.5 50v1M31.5 198v1M31.5 209v1M31.5 214v1M31.5 217v1M31.5 227v1M31.5 236v1M31.5 272v1M31.5 275v1M31.5 283v1M32.5 9v1M32.5 15v1M32.5 26v1M32.5 30v1M32.5 37v1M32.5 40v1M32.5 42v1M32.5 47v1M32.5 197v2M32.5 203v1M32.5 209v1M32.5 212v1M32.5 219v1M32.5 222v2M32.5 246v1M32.5 260v1M32.5 266v1M32.5 269v1M32.5 276v1M33.5 7v1M33.5 18v1M33.5 49v1M33.5 52v1M33.5 211v1M33.5 214v1M33.5 218v1M33.5 236v1M33.5 257v1M33.5 264v1M33.5 266v1M34.5 243v1M34.5 247v1M34.5 277v1M34.5 281v1M34.5 284v1M35.5 12v1M35.5 22v1M35.5 36v1M35.5 39v1M35.5 42v1M35.5 44v1M35.5 46v1M35.5 213v1M35.5 215v1M35.5 235v1M35.5 256v1M35.5 265v1M35.5 270v2M35.5 283v1M36.5 18v1"/>
<path stroke="#0047ff" d="M0.5 30v3M0.5 34v1M0.5 36v1M0.5 43v1M0.5 48v1M0.5 50v3M0.5 55v1M0.5 190v1M0.5 216v1M0.5 222v1M0.5 241v1M0.5 243v1M0.5 245v2M0.5 258v1M0.5 273v1M0.5 277v1M1.5 9v1M1.5 14v1M1.5 16v1M1.5 44v2M1.5 164v1M1.5 196v1M1.5 205v1M1.5 207v1M1.5 209v1M1.5 211v1M1.5 215v1M1.5 217v1M1.5 221v1M1.5 225v1M1.5 229v2M1.5 232v1M1.5 283v1M1.5 286v1M2.5 2v1M2.5 8v1M2.5 10v1M2.5 13v3M2.5 18v1M2.5 33v1M2.5 37v2M2.5 41v1M2.5 47v3M2.5 52v1M2.5 57v1M2.5 63v1M2.5 67v1M2.5 198v1M2.5 206v1M2.5 213v1M2.5 215v2M2.5 226v1M2.5 231v1M2.5 262v1M2.5 273v1M2.5 276v1M2.5 286v2M3.5 7v1M3.5 10v1M3.5 12v1M3.5 40v1M3.5 43v2M3.5 47v1M3.5 51v1M3.5 53v1M3.5 234v1M3.5 258v1M3.5 260v1M3.5 263v1M3.5 267v1M3.5 277v1M3.5 280v1M3.5 283v1M4.5 4v3M4.5 13v1M4.5 18v1M4.5 27v1M4.5 35v3M4.5 39v1M4.5 51v3M4.5 56v1M4.5 58v1M4.5 208v1M4.5 244v1M4.5 250v1M4.5 262v1M4.5 266v3M4.5 270v1M4.5 281v1M4.5 284v2M5.5 29v1M5.5 37v1M5.5 39v1M5.5 43v2M5.5 48v1M5.5 177v1M5.5 188v2M5.5 192v1M5.5 196v1M5.5 199v1M5.5 201v1M5.5 204v1M5.5 221v1M5.5 225v2M5.5 233v1M5.5 235v1M5.5 239v1M5.5 252v1M5.5 254v1M5.5 270v3M5.5 275v5M5.5 284v1M5.5 286v1M6.5 177v5M6.5 195v1M6.5 197v1M6.5 206v1M6.5 223v2M6.5 227v2M6.5 234v1M6.5 236v1M6.5 243v2M6.5 246v1M6.5 249v1M6.5 251v1M6.5 259v1M6.5 264v2M6.5 269v2M6.5 280v1M6.5 282v1M6.5 284v1M7.5 10v1M7.5 17v1M7.5 27v1M7.5 33v1M7.5 38v1M7.5 42v1M7.5 46v1M7.5 256v2M7.5 266v1M7.5 269v1M8.5 22v1M8.5 26v1M8.5 35v2M8.5 182v1M8.5 202v2M8.5 208v1M8.5 210v1M8.5 213v1M8.5 218v1M8.5 221v1M8.5 224v2M8.5 228v1M8.5 230v2M8.5 234v2M8.5 250v1M8.5 259v2M8.5 265v2M8.5 272v1M8.5 276v2M8.5 280v1M9.5 34v1M9.5 46v1M9.5 184v1M9.5 187v1M9.5 197v1M9.5 199v2M9.5 202v2M9.5 206v1M9.5 209v1M9.5 214v1M9.5 217v1M9.5 220v1M9.5 222v1M9.5 227v1M9.5 239v2M9.5 244v1M9.5 248v1M9.5 260v1M9.5 262v1M9.5 287v1M10.5 1v2M10.5 4v1M10.5 6v1M10.5 9v1M10.5 13v1M10.5 25v1M10.5 29v1M10.5 31v3M10.5 37v1M10.5 45v3M10.5 212v1M10.5 233v1M10.5 237v1M10.5 245v1M10.5 247v1M10.5 252v1M10.5 255v1M10.5 258v1M10.5 267v1M10.5 272v1M10.5 279v1M10.5 281v2M11.5 0v1M11.5 20v1M11.5 28v1M11.5 32v1M11.5 34v1M11.5 45v1M11.5 201v1M11.5 206v1M11.5 210v2M11.5 217v1M11.5 223v1M11.5 232v2M11.5 238v1M11.5 240v1M11.5 250v1M11.5 269v1M11.5 274v1M11.5 276v2M11.5 287v1M12.5 14v1M12.5 215v2M12.5 219v1M12.5 222v1M12.5 227v1M12.5 230v2M12.5 236v1M12.5 242v1M12.5 245v1M12.5 247v4M12.5 252v1M12.5 264v1M12.5 272v1M12.5 280v1M13.5 216v1M13.5 218v2M13.5 225v1M13.5 247v1M13.5 249v3M13.5 257v1M13.5 259v1M13.5 262v1M13.5 268v1M14.5 44v1M14.5 240v1M14.5 242v1M14.5 244v1M14.5 248v1M14.5 253v1M14.5 255v1M14.5 257v1M14.5 266v1M14.5 281v1M14.5 285v1M15.5 16v1M15.5 33v1M15.5 211v1M15.5 214v1M15.5 216v1M15.5 221v1M15.5 226v1M15.5 228v2M15.5 233v1M15.5 236v1M15.5 250v1M15.5 270v1M16.5 7v2M16.5 11v1M16.5 14v1M16.5 36v2M16.5 41v4M16.5 47v1M17.5 32v1M17.5 35v1M17.5 37v2M17.5 40v1M17.5 42v2M17.5 213v1M17.5 219v2M17.5 239v1M17.5 242v1M17.5 257v1M17.5 265v1M17.5 271v2M17.5 274v1M17.5 282v1M18.5 9v1M18.5 16v5M18.5 24v1M18.5 27v1M18.5 189v1M18.5 192v1M18.5 200v1M18.5 203v1M18.5 234v1M18.5 244v1M18.5 247v1M18.5 249v1M18.5 256v1M18.5 266v1M18.5 271v1M18.5 277v1M18.5 280v1M18.5 285v1M19.5 210v2M19.5 213v1M19.5 216v3M19.5 222v3M19.5 231v1M19.5 234v1M19.5 236v1M19.5 239v2M19.5 243v1M19.5 246v1M19.5 252v1M19.5 257v1M19.5 259v1M19.5 285v1M20.5 18v1M20.5 25v1M20.5 31v1M20.5 33v2M20.5 46v1M20.5 212v2M20.5 223v1M20.5 235v1M20.5 287v1M21.5 5v1M21.5 29v1M21.5 40v2M21.5 43v1M21.5 45v2M21.5 48v1M21.5 189v1M21.5 191v1M21.5 194v1M21.5 224v1M21.5 257v1M21.5 265v1M21.5 268v1M21.5 270v1M21.5 282v1M22.5 22v1M22.5 28v1M22.5 33v1M22.5 35v1M22.5 41v1M22.5 47v2M22.5 50v1M22.5 52v1M22.5 217v1M22.5 223v1M22.5 227v1M22.5 229v1M22.5 247v1M22.5 250v1M22.5 270v1M22.5 276v1M22.5 279v1M23.5 0v1M23.5 2v1M23.5 4v1M23.5 214v1M23.5 220v1M23.5 223v1M23.5 230v1M23.5 232v1M23.5 240v1M23.5 247v1M23.5 253v1M23.5 273v3M23.5 277v1M23.5 279v1M23.5 283v1M24.5 32v1M24.5 34v1M24.5 37v1M24.5 190v2M24.5 193v1M24.5 202v1M24.5 216v2M24.5 220v1M24.5 226v1M24.5 228v2M24.5 237v1M24.5 241v1M24.5 247v1M24.5 251v1M24.5 257v1M24.5 266v1M24.5 279v1M24.5 281v1M24.5 284v2M24.5 287v1M25.5 32v2M25.5 40v1M25.5 42v1M25.5 49v1M25.5 56v1M25.5 232v1M25.5 241v1M25.5 247v1M25.5 284v3M26.5 2v3M26.5 7v1M26.5 9v1M26.5 16v1M26.5 26v1M26.5 35v1M26.5 201v2M26.5 204v1M26.5 206v2M26.5 212v1M26.5 229v1M26.5 246v1M26.5 251v2M26.5 255v1M26.5 259v1M26.5 263v1M26.5 267v1M26.5 271v1M26.5 274v1M27.5 2v2M27.5 9v1M27.5 17v1M27.5 19v1M27.5 21v3M27.5 25v1M27.5 35v2M27.5 39v3M27.5 202v1M27.5 237v1M27.5 244v1M27.5 246v1M27.5 249v1M27.5 252v1M27.5 256v1M27.5 258v1M28.5 0v1M28.5 41v1M28.5 49v1M28.5 197v1M28.5 200v1M28.5 205v2M28.5 208v1M28.5 210v1M28.5 213v1M28.5 216v1M28.5 219v2M28.5 224v1M28.5 236v1M28.5 249v2M28.5 252v1M28.5 258v1M28.5 260v1M28.5 272v1M28.5 276v1M29.5 0v1M29.5 5v1M29.5 13v2M29.5 17v1M29.5 19v1M29.5 26v1M29.5 28v1M29.5 30v1M29.5 44v1M29.5 58v1M29.5 205v1M29.5 207v3M29.5 214v2M29.5 224v1M29.5 227v1M29.5 229v1M29.5 236v1M29.5 241v1M29.5 243v1M29.5 245v1M29.5 262v1M29.5 264v1M29.5 266v2M30.5 2v1M30.5 33v1M30.5 39v1M30.5 41v1M30.5 43v2M30.5 200v1M30.5 238v1M30.5 241v2M30.5 244v3M30.5 277v1M31.5 16v2M31.5 28v1M31.5 33v1M31.5 37v1M31.5 39v1M31.5 47v1M31.5 52v1M31.5 55v1M31.5 193v1M31.5 199v1M31.5 203v1M31.5 205v4M31.5 211v1M31.5 216v1M31.5 223v2M31.5 228v2M31.5 232v1M31.5 235v1M31.5 258v1M31.5 260v3M31.5 266v1M31.5 271v1M31.5 273v2M31.5 276v1M31.5 278v1M31.5 280v3M31.5 285v3M32.5 10v1M32.5 12v2M32.5 18v1M32.5 24v1M32.5 31v1M32.5 35v2M32.5 38v2M32.5 44v1M32.5 46v1M32.5 193v3M32.5 200v1M32.5 202v1M32.5 204v2M32.5 208v1M32.5 220v1M32.5 226v1M32.5 228v1M32.5 235v1M32.5 239v4M32.5 244v2M32.5 257v1M32.5 261v1M32.5 268v1M32.5 272v1M32.5 275v1M32.5 286v1M33.5 1v3M33.5 5v2M33.5 8v1M33.5 11v1M33.5 34v1M33.5 46v1M33.5 51v1M33.5 57v1M33.5 60v1M33.5 213v1M33.5 217v1M33.5 221v1M33.5 259v1M33.5 263v1M33.5 270v1M33.5 272v1M33.5 275v1M33.5 277v1M33.5 284v1M34.5 220v1M34.5 222v1M34.5 237v1M34.5 242v1M34.5 278v1M34.5 285v2M35.5 15v1M35.5 17v2M35.5 21v1M35.5 23v1M35.5 47v1M35.5 210v1M35.5 212v1M35.5 214v1M35.5 216v1M35.5 219v1M35.5 226v2M35.5 231v1M35.5 248v2M35.5 252v1M35.5 264v1M35.5 267v1M35.5 275v2M35.5 287v1M36.5 15v1M36.5 262v1M36.5 265v1M36.5 269v1M36.5 277v1"/>
<path stroke="#0055ff" d="M0.5 20v1M0.5 33v1M0.5 39v1M0.5 44v1M0.5 178v1M0.5 207v1M0.5 213v2M0.5 217v3M0.5 234v2M0.5 244v1M0.5 249v2M0.5 252v3M0.5 278v2M1.5 7v2M1.5 10v1M1.5 12v1M1.5 17v2M1.5 28v1M1.5 31v1M1.5 35v1M1.5 39v2M1.5 49v1M1.5 55v1M1.5 193v1M1.5 199v1M1.5 203v1M1.5 223v1M1.5 226v1M1.5 228v1M1.5 237v1M1.5 261v1M1.5 266v1M1.5 275v1M1.5 281v1M1.5 284v2M2.5 1v1M2.5 7v1M2.5 17v1M2.5 28v2M2.5 31v1M2.5 36v1M2.5 42v1M2.5 44v2M2.5 56v1M2.5 64v1M2.5 186v1M2.5 190v1M2.5 193v1M2.5 197v1M2.5 200v1M2.5 208v2M2.5 211v2M2.5 217v1M2.5 220v1M2.5 225v1M2.5 228v1M2.5 235v1M2.5 238v1M2.5 259v2M2.5 264v3M2.5 274v1M2.5 279v1M2.5 282v1M2.5 284v1M3.5 8v1M3.5 28v3M3.5 33v1M3.5 35v2M3.5 38v1M3.5 42v1M3.5 45v2M3.5 214v1M3.5 222v1M3.5 224v1M3.5 227v1M3.5 231v1M3.5 238v1M3.5 257v1M3.5 261v1M3.5 264v1M3.5 270v1M3.5 273v1M3.5 276v1M3.5 286v1M4.5 2v1M4.5 10v1M4.5 12v1M4.5 17v1M4.5 19v1M4.5 23v1M4.5 34v1M4.5 41v1M4.5 62v1M4.5 212v1M4.5 236v1M4.5 247v2M4.5 251v2M4.5 260v1M4.5 272v2M4.5 283v1M4.5 287v1M5.5 23v1M5.5 31v3M5.5 36v1M5.5 45v2M5.5 174v1M5.5 178v1M5.5 180v1M5.5 183v1M5.5 186v1M5.5 191v1M5.5 194v1M5.5 197v1M5.5 246v1M5.5 269v1M5.5 282v1M6.5 170v1M6.5 174v1M6.5 176v1M6.5 187v1M6.5 196v1M6.5 198v3M6.5 203v2M6.5 222v1M6.5 226v1M6.5 242v1M6.5 245v1M6.5 248v1M6.5 250v1M6.5 252v1M6.5 258v1M6.5 261v1M6.5 272v1M6.5 277v1M6.5 285v1M6.5 287v1M7.5 7v1M7.5 9v1M7.5 13v1M7.5 32v1M7.5 35v1M7.5 44v2M7.5 245v1M7.5 254v1M7.5 261v2M7.5 272v1M8.5 19v1M8.5 32v1M8.5 37v1M8.5 39v1M8.5 41v1M8.5 46v2M8.5 173v1M8.5 180v1M8.5 196v1M8.5 206v1M8.5 214v1M8.5 216v2M8.5 222v1M8.5 233v1M8.5 238v1M8.5 264v1M9.5 16v4M9.5 26v1M9.5 31v1M9.5 33v1M9.5 177v1M9.5 180v2M9.5 186v1M9.5 201v1M9.5 204v2M9.5 207v2M9.5 218v1M9.5 228v2M9.5 233v1M9.5 236v3M9.5 243v1M9.5 246v2M9.5 249v2M9.5 263v1M9.5 277v1M10.5 5v1M10.5 7v2M10.5 27v2M10.5 30v1M10.5 42v1M10.5 48v1M10.5 241v1M10.5 249v3M10.5 253v2M10.5 262v2M10.5 265v1M10.5 284v1M10.5 286v1M11.5 3v1M11.5 9v1M11.5 19v1M11.5 23v1M11.5 26v1M11.5 36v1M11.5 38v2M11.5 41v1M11.5 49v1M11.5 51v1M11.5 197v1M11.5 236v1M11.5 279v2M12.5 7v3M12.5 20v1M12.5 24v1M12.5 42v1M12.5 50v2M12.5 204v1M12.5 209v1M12.5 221v1M12.5 223v1M12.5 233v1M12.5 238v1M12.5 256v1M12.5 258v1M12.5 260v1M12.5 266v2M12.5 269v2M12.5 277v2M12.5 284v1M13.5 13v1M13.5 45v1M13.5 48v1M13.5 217v1M13.5 221v2M13.5 226v1M13.5 248v1M13.5 252v2M13.5 261v1M13.5 270v1M13.5 274v2M13.5 277v1M13.5 279v1M13.5 284v2M14.5 7v1M14.5 9v1M14.5 11v1M14.5 36v1M14.5 46v1M14.5 48v1M14.5 214v1M14.5 223v1M14.5 225v1M14.5 232v1M14.5 234v2M14.5 237v2M14.5 245v1M14.5 252v1M14.5 256v1M14.5 258v3M14.5 263v1M14.5 275v2M14.5 287v1M15.5 1v2M15.5 5v2M15.5 8v1M15.5 10v1M15.5 27v1M15.5 35v1M15.5 48v1M15.5 194v1M15.5 196v1M15.5 203v1M15.5 207v1M15.5 213v1M15.5 218v1M15.5 220v1M15.5 223v1M15.5 225v1M15.5 230v1M15.5 237v4M15.5 243v1M15.5 247v3M15.5 251v1M15.5 264v1M15.5 268v2M15.5 271v1M15.5 281v1M15.5 285v1M16.5 10v1M16.5 12v2M16.5 18v1M16.5 25v1M16.5 27v2M16.5 33v2M16.5 40v1M16.5 45v1M16.5 249v1M16.5 283v1M16.5 286v1M17.5 17v1M17.5 44v1M17.5 50v1M17.5 212v1M17.5 215v1M17.5 222v1M17.5 241v1M17.5 243v1M17.5 246v1M17.5 249v1M17.5 255v1M17.5 259v1M17.5 266v2M17.5 270v1M17.5 275v2M17.5 283v1M17.5 286v1M18.5 11v1M18.5 29v1M18.5 52v1M18.5 190v2M18.5 195v1M18.5 202v1M18.5 204v1M18.5 229v1M18.5 233v1M18.5 238v2M18.5 243v1M18.5 251v2M18.5 255v1M18.5 261v1M18.5 265v1M18.5 270v1M18.5 278v1M18.5 281v1M18.5 287v1M19.5 9v2M19.5 18v2M19.5 43v1M19.5 204v1M19.5 209v1M19.5 214v1M19.5 220v2M19.5 225v1M19.5 227v1M19.5 244v2M19.5 249v1M19.5 253v1M19.5 258v1M19.5 262v3M19.5 269v1M19.5 274v1M19.5 278v3M19.5 283v1M19.5 287v1M20.5 2v2M20.5 8v1M20.5 10v1M20.5 12v2M20.5 15v2M20.5 19v2M20.5 28v1M20.5 30v1M20.5 32v1M20.5 43v1M20.5 51v1M20.5 209v2M20.5 215v1M20.5 219v2M20.5 224v1M20.5 226v1M20.5 229v1M20.5 267v1M20.5 271v1M20.5 284v1M20.5 286v1M21.5 1v1M21.5 7v1M21.5 9v1M21.5 26v1M21.5 30v1M21.5 36v1M21.5 38v2M21.5 42v1M21.5 49v3M21.5 188v1M21.5 192v1M21.5 198v3M21.5 202v1M21.5 205v1M21.5 207v2M21.5 217v2M21.5 228v1M21.5 230v1M21.5 234v1M21.5 245v1M21.5 251v2M21.5 273v2M21.5 276v3M21.5 283v1M21.5 287v1M22.5 13v1M22.5 24v1M22.5 27v1M22.5 38v1M22.5 42v1M22.5 45v2M22.5 49v1M22.5 51v1M22.5 53v1M22.5 55v1M22.5 57v1M22.5 213v1M22.5 218v1M22.5 221v2M22.5 224v1M22.5 243v1M22.5 246v1M22.5 249v1M22.5 252v3M22.5 256v2M22.5 259v1M22.5 262v2M22.5 265v1M22.5 282v1M23.5 5v1M23.5 7v1M23.5 19v1M23.5 23v1M23.5 31v1M23.5 47v1M23.5 219v1M23.5 221v1M23.5 235v1M23.5 243v3M23.5 249v3M23.5 255v4M23.5 260v1M23.5 280v2M23.5 286v1M24.5 15v1M24.5 19v1M24.5 21v1M24.5 23v1M24.5 41v2M24.5 49v1M24.5 192v1M24.5 204v1M24.5 207v1M24.5 213v1M24.5 233v1M24.5 238v3M24.5 243v4M24.5 250v1M24.5 255v2M24.5 258v1M24.5 262v1M24.5 269v1M24.5 274v2M24.5 280v1M24.5 282v1M25.5 11v1M25.5 13v1M25.5 35v2M25.5 45v1M25.5 48v1M25.5 52v2M25.5 61v1M25.5 227v1M25.5 231v1M25.5 235v2M25.5 238v1M25.5 245v2M25.5 248v1M25.5 252v1M25.5 259v1M25.5 261v1M25.5 275v1M25.5 277v4M25.5 283v1M26.5 13v1M26.5 28v1M26.5 34v1M26.5 40v1M26.5 203v1M26.5 205v1M26.5 208v1M26.5 210v1M26.5 214v1M26.5 216v1M26.5 218v1M26.5 220v1M26.5 231v1M26.5 245v1M26.5 247v1M26.5 250v1M26.5 254v1M26.5 266v1M26.5 275v1M27.5 1v1M27.5 13v4M27.5 27v3M27.5 31v1M27.5 38v1M27.5 42v2M27.5 205v1M27.5 208v2M27.5 239v1M27.5 242v2M27.5 245v1M27.5 247v1M27.5 250v1M27.5 266v1M27.5 271v1M27.5 283v1M28.5 2v1M28.5 35v1M28.5 50v1M28.5 202v1M28.5 207v1M28.5 215v1M28.5 222v2M28.5 287v1M29.5 2v1M29.5 4v1M29.5 6v3M29.5 10v1M29.5 15v1M29.5 24v1M29.5 32v1M29.5 41v1M29.5 49v2M29.5 199v1M29.5 201v1M29.5 211v1M29.5 213v1M29.5 225v1M29.5 228v1M29.5 231v1M29.5 233v1M29.5 238v1M29.5 252v1M29.5 254v1M29.5 269v1M30.5 0v1M30.5 13v2M30.5 19v1M30.5 23v2M30.5 38v1M30.5 42v1M30.5 47v2M30.5 51v1M30.5 201v1M30.5 211v1M30.5 228v1M30.5 231v1M30.5 248v1M30.5 250v2M30.5 280v1M31.5 13v1M31.5 22v1M31.5 25v2M31.5 29v1M31.5 32v1M31.5 34v1M31.5 36v1M31.5 42v1M31.5 54v1M31.5 56v1M31.5 187v1M31.5 196v1M31.5 200v1M31.5 202v1M31.5 204v1M31.5 212v1M31.5 215v1M31.5 218v1M31.5 220v1M31.5 222v1M31.5 225v2M31.5 230v1M31.5 240v1M31.5 252v2M31.5 257v1M31.5 259v1M31.5 265v1M31.5 267v1M31.5 269v1M31.5 279v1M32.5 8v1M32.5 14v1M32.5 45v1M32.5 196v1M32.5 201v1M32.5 229v1M32.5 232v1M32.5 234v1M32.5 237v1M32.5 243v1M32.5 259v1M32.5 265v1M32.5 270v1M32.5 283v1M32.5 285v1M32.5 287v1M33.5 4v1M33.5 9v2M33.5 12v1M33.5 15v2M33.5 19v2M33.5 22v1M33.5 28v3M33.5 33v1M33.5 48v1M33.5 50v1M33.5 53v1M33.5 55v1M33.5 59v1M33.5 198v1M33.5 212v1M33.5 220v1M33.5 225v1M33.5 228v1M33.5 233v1M33.5 238v1M33.5 243v1M33.5 254v2M33.5 258v1M33.5 260v1M33.5 262v1M33.5 265v1M33.5 269v1M33.5 271v1M33.5 281v2M34.5 215v1M34.5 238v2M34.5 249v1M34.5 254v1M34.5 257v1M34.5 269v1M34.5 280v1M34.5 282v2M34.5 287v1M35.5 13v1M35.5 16v1M35.5 19v2M35.5 24v2M35.5 30v1M35.5 50v1M35.5 55v1M35.5 199v1M35.5 208v2M35.5 218v1M35.5 221v2M35.5 229v1M35.5 233v2M35.5 245v1M35.5 250v1M35.5 253v3M35.5 258v1M35.5 260v1M35.5 262v2M35.5 269v1M35.5 277v2M35.5 280v3M35.5 285v1M36.5 8v1M36.5 16v1M36.5 261v1M36.5 279v1M36.5 284v2M36.5 287v1"/>
<path stroke="#0063ff" d="M0.5 21v1M0.5 25v4M0.5 37v1M0.5 41v1M0.5 173v2M0.5 181v1M0.5 183v1M0.5 186v1M0.5 211v1M0.5 221v1M0.5 223v1M0.5 229v1M0.5 231v1M0.5 236v1M0.5 238v3M0.5 242v1M0.5 251v1M0.5 255v1M0.5 284v1M1.5 3v1M1.5 5v2M1.5 11v1M1.5 13v1M1.5 15v1M1.5 22v2M1.5 26v1M1.5 29v1M1.5 33v1M1.5 37v1M1.5 41v3M1.5 46v2M1.5 51v1M1.5 57v1M1.5 165v1M1.5 189v1M1.5 194v2M1.5 197v1M1.5 202v1M1.5 208v1M1.5 219v2M1.5 222v1M1.5 224v1M1.5 233v2M1.5 238v2M1.5 244v1M1.5 251v1M1.5 253v2M1.5 256v1M1.5 258v1M1.5 260v1M1.5 262v1M1.5 265v1M1.5 274v1M1.5 278v1M1.5 280v1M1.5 282v1M1.5 287v1M2.5 19v1M2.5 23v5M2.5 34v2M2.5 39v1M2.5 43v1M2.5 46v1M2.5 53v2M2.5 59v1M2.5 62v1M2.5 66v1M2.5 179v1M2.5 182v1M2.5 185v1M2.5 188v1M2.5 191v1M2.5 218v1M2.5 224v1M2.5 227v1M2.5 230v1M2.5 232v1M2.5 234v1M2.5 236v2M2.5 251v1M2.5 257v2M2.5 268v2M2.5 278v1M2.5 280v2M3.5 0v2M3.5 3v1M3.5 11v1M3.5 13v1M3.5 15v1M3.5 17v1M3.5 27v1M3.5 49v1M3.5 54v3M3.5 205v2M3.5 225v1M3.5 230v1M3.5 232v2M3.5 236v2M3.5 268v2M3.5 279v1M3.5 281v1M4.5 1v1M4.5 3v1M4.5 9v1M4.5 14v1M4.5 20v1M4.5 25v1M4.5 38v1M4.5 45v1M4.5 47v1M4.5 50v1M4.5 55v1M4.5 57v1M4.5 199v1M4.5 210v1M4.5 215v1M4.5 219v1M4.5 223v1M4.5 235v1M4.5 239v1M4.5 241v2M4.5 245v2M5.5 26v3M5.5 30v1M5.5 38v1M5.5 50v2M5.5 53v3M5.5 171v1M5.5 173v1M5.5 175v2M5.5 181v1M5.5 184v2M5.5 190v1M5.5 195v1M5.5 274v1M6.5 166v1M6.5 169v1M6.5 171v1M6.5 201v2M6.5 205v1M6.5 208v1M6.5 225v1M6.5 229v1M6.5 254v1M6.5 256v1M6.5 260v1M7.5 2v1M7.5 8v1M7.5 43v1M7.5 237v1M7.5 239v1M7.5 241v1M7.5 248v1M7.5 252v1M7.5 255v1M7.5 264v2M7.5 271v1M7.5 273v1M7.5 275v4M7.5 280v2M7.5 283v1M7.5 285v1M7.5 287v1M8.5 16v1M8.5 21v1M8.5 24v1M8.5 27v1M8.5 30v2M8.5 34v1M8.5 42v2M8.5 48v2M8.5 52v1M8.5 59v1M8.5 175v2M8.5 178v2M8.5 181v1M8.5 245v1M8.5 247v1M8.5 249v1M8.5 252v2M9.5 5v1M9.5 21v1M9.5 25v1M9.5 27v3M9.5 36v1M9.5 41v1M9.5 44v1M9.5 178v1M9.5 182v1M9.5 185v1M9.5 213v1M9.5 231v1M9.5 234v2M9.5 242v1M9.5 264v2M9.5 269v1M9.5 271v1M9.5 275v1M9.5 284v2M10.5 0v1M10.5 26v1M10.5 52v1M10.5 55v2M10.5 223v1M10.5 230v1M10.5 232v1M10.5 234v1M10.5 236v1M10.5 238v1M10.5 240v1M10.5 257v1M10.5 260v1M10.5 264v1M10.5 266v1M10.5 269v1M10.5 273v1M10.5 280v1M10.5 285v1M10.5 287v1M11.5 1v1M11.5 5v2M11.5 14v1M11.5 22v1M11.5 27v1M11.5 29v1M11.5 31v1M11.5 35v1M11.5 43v2M11.5 46v2M11.5 52v1M11.5 54v2M11.5 194v2M11.5 199v1M11.5 203v1M11.5 230v1M11.5 237v1M11.5 273v1M11.5 278v1M11.5 282v1M11.5 284v1M12.5 0v5M12.5 17v2M12.5 22v1M12.5 26v2M12.5 30v1M12.5 34v3M12.5 40v2M12.5 44v1M12.5 48v2M12.5 206v1M12.5 214v1M12.5 257v1M12.5 259v1M12.5 262v2M12.5 268v1M12.5 286v1M13.5 5v1M13.5 15v1M13.5 18v1M13.5 41v1M13.5 46v1M13.5 192v1M13.5 196v1M13.5 198v1M13.5 213v1M13.5 215v1M13.5 223v1M13.5 245v2M13.5 267v1M13.5 278v1M13.5 282v1M14.5 0v5M14.5 6v1M14.5 10v1M14.5 28v1M14.5 33v1M14.5 35v1M14.5 39v1M14.5 43v1M14.5 45v1M14.5 51v1M14.5 216v1M14.5 226v2M14.5 229v1M14.5 236v1M14.5 251v1M14.5 267v1M14.5 269v2M14.5 272v1M14.5 277v1M15.5 0v1M15.5 9v1M15.5 12v1M15.5 14v1M15.5 17v1M15.5 21v1M15.5 34v1M15.5 45v2M15.5 49v1M15.5 55v1M15.5 190v1M15.5 193v1M15.5 198v1M15.5 200v1M15.5 202v1M15.5 208v3M15.5 212v1M15.5 215v1M15.5 227v1M15.5 235v1M15.5 241v1M15.5 253v1M15.5 255v1M15.5 262v1M15.5 273v1M15.5 283v1M15.5 286v1M16.5 16v1M16.5 20v1M16.5 23v2M16.5 29v2M16.5 46v1M16.5 48v2M16.5 207v1M16.5 227v1M16.5 229v1M16.5 235v1M16.5 237v1M16.5 277v1M16.5 280v1M16.5 282v1M16.5 287v1M17.5 4v3M17.5 16v1M17.5 18v1M17.5 21v3M17.5 25v2M17.5 28v1M17.5 31v1M17.5 33v1M17.5 39v1M17.5 47v1M17.5 49v1M17.5 51v2M17.5 210v1M17.5 221v1M17.5 226v2M17.5 230v2M17.5 233v1M17.5 236v1M17.5 248v1M17.5 250v2M17.5 256v1M17.5 258v1M17.5 261v2M17.5 268v1M17.5 278v1M17.5 281v1M17.5 284v1M17.5 287v1M18.5 30v1M18.5 53v1M18.5 56v1M18.5 58v1M18.5 186v1M18.5 188v1M18.5 197v1M18.5 199v1M18.5 208v1M18.5 212v1M18.5 214v1M18.5 216v1M18.5 221v1M18.5 223v1M18.5 226v1M18.5 228v1M18.5 230v2M18.5 235v1M18.5 240v3M18.5 245v1M18.5 253v1M18.5 262v2M18.5 267v1M18.5 272v4M18.5 279v1M18.5 282v2M18.5 286v1M19.5 4v2M19.5 11v1M19.5 25v1M19.5 29v1M19.5 33v1M19.5 36v1M19.5 45v1M19.5 52v2M19.5 208v1M19.5 226v1M19.5 237v2M19.5 247v1M19.5 266v2M19.5 270v1M19.5 276v1M19.5 281v1M19.5 284v1M19.5 286v1M20.5 1v1M20.5 5v1M20.5 9v1M20.5 17v1M20.5 22v1M20.5 24v1M20.5 26v1M20.5 40v1M20.5 48v2M20.5 53v1M20.5 204v1M20.5 208v1M20.5 214v1M20.5 216v3M20.5 221v1M20.5 225v1M20.5 227v2M20.5 241v2M20.5 249v1M20.5 251v1M20.5 258v1M20.5 266v1M21.5 8v1M21.5 22v1M21.5 28v1M21.5 31v2M21.5 47v1M21.5 186v2M21.5 190v1M21.5 193v1M21.5 197v1M21.5 201v1M21.5 203v1M21.5 209v2M21.5 220v1M21.5 225v1M21.5 229v1M21.5 231v3M21.5 236v3M21.5 240v1M21.5 242v1M21.5 248v3M21.5 253v1M21.5 255v1M21.5 260v5M21.5 267v1M21.5 271v1M21.5 284v3M22.5 2v1M22.5 5v1M22.5 15v2M22.5 26v1M22.5 39v2M22.5 56v1M22.5 59v1M22.5 202v1M22.5 209v4M22.5 214v2M22.5 219v1M22.5 255v1M22.5 258v1M22.5 266v1M22.5 268v1M22.5 272v2M22.5 277v1M22.5 281v1M22.5 283v3M23.5 1v1M23.5 3v1M23.5 9v1M23.5 18v1M23.5 22v1M23.5 27v1M23.5 30v1M23.5 32v4M23.5 37v1M23.5 41v3M23.5 226v2M23.5 229v1M23.5 234v1M23.5 236v2M23.5 239v1M23.5 241v2M23.5 246v1M23.5 254v1M23.5 261v3M23.5 268v1M23.5 271v1M23.5 276v1M23.5 282v1M23.5 284v2M24.5 14v1M24.5 17v1M24.5 24v4M24.5 35v2M24.5 38v3M24.5 43v2M24.5 47v2M24.5 50v1M24.5 52v2M24.5 209v1M24.5 214v2M24.5 219v1M24.5 222v3M24.5 236v1M24.5 242v1M24.5 248v2M24.5 253v1M24.5 259v1M24.5 261v1M24.5 271v1M24.5 278v1M25.5 7v1M25.5 14v1M25.5 34v1M25.5 54v2M25.5 57v2M25.5 225v1M25.5 228v1M25.5 230v1M25.5 233v2M25.5 237v1M25.5 240v1M25.5 243v2M25.5 250v1M25.5 262v1M25.5 264v2M25.5 270v1M25.5 272v1M25.5 281v1M25.5 287v1M26.5 6v1M26.5 25v1M26.5 27v1M26.5 29v3M26.5 43v2M26.5 197v1M26.5 209v1M26.5 217v1M26.5 221v1M26.5 225v1M26.5 248v1M26.5 272v1M26.5 276v2M27.5 0v1M27.5 7v1M27.5 26v1M27.5 33v2M27.5 37v1M27.5 199v1M27.5 224v1M27.5 230v1M27.5 235v2M27.5 238v1M27.5 240v1M27.5 267v3M27.5 274v1M27.5 276v1M27.5 282v1M28.5 3v2M28.5 6v1M28.5 10v2M28.5 19v1M28.5 30v1M28.5 36v1M28.5 38v1M28.5 42v1M28.5 55v1M28.5 189v1M28.5 196v1M28.5 204v1M28.5 251v1M28.5 253v2M28.5 256v2M28.5 259v1M28.5 262v3M28.5 268v2M28.5 271v1M28.5 273v1M28.5 275v1M28.5 286v1M29.5 1v1M29.5 3v1M29.5 35v1M29.5 38v1M29.5 45v1M29.5 48v1M29.5 51v2M29.5 54v1M29.5 56v1M29.5 179v1M29.5 198v1M29.5 202v2M29.5 217v1M29.5 230v1M29.5 244v1M29.5 251v1M29.5 256v2M29.5 286v1M30.5 1v1M30.5 4v1M30.5 6v2M30.5 9v1M30.5 11v1M30.5 16v3M30.5 22v1M30.5 26v3M30.5 30v1M30.5 36v2M30.5 46v1M30.5 50v1M30.5 52v1M30.5 54v1M30.5 198v2M30.5 206v1M30.5 209v2M30.5 214v2M30.5 217v1M30.5 232v1M30.5 234v1M30.5 240v1M30.5 243v1M30.5 247v1M30.5 252v1M30.5 257v1M30.5 276v1M30.5 278v2M30.5 281v3M31.5 0v1M31.5 2v1M31.5 31v1M31.5 57v1M31.5 59v1M31.5 180v2M31.5 185v1M31.5 210v1M31.5 213v1M31.5 219v1M31.5 233v1M31.5 237v1M31.5 239v1M31.5 243v1M31.5 254v1M31.5 268v1M32.5 5v2M32.5 11v1M32.5 51v1M32.5 186v1M32.5 191v2M32.5 199v1M32.5 206v2M32.5 227v1M32.5 230v2M32.5 233v1M32.5 263v2M32.5 281v1M33.5 13v2M33.5 17v1M33.5 25v3M33.5 35v4M33.5 54v1M33.5 56v1M33.5 58v1M33.5 62v1M33.5 183v1M33.5 196v1M33.5 201v1M33.5 209v1M33.5 215v1M33.5 224v1M33.5 226v2M33.5 230v3M33.5 235v1M33.5 239v1M33.5 241v1M33.5 245v1M33.5 248v1M33.5 251v2M33.5 256v1M33.5 273v2M33.5 278v1M33.5 280v1M33.5 285v2M34.5 3v1M34.5 31v1M34.5 49v1M34.5 206v1M34.5 213v2M34.5 216v2M34.5 219v1M34.5 229v2M34.5 235v1M34.5 240v2M34.5 246v1M34.5 248v1M34.5 250v2M34.5 256v1M34.5 258v1M34.5 260v1M34.5 262v3M34.5 273v1M34.5 275v2M35.5 11v1M35.5 28v1M35.5 32v3M35.5 38v1M35.5 56v1M35.5 196v1M35.5 198v1M35.5 200v1M35.5 217v1M35.5 220v1M35.5 224v2M35.5 230v1M35.5 232v1M35.5 244v1M35.5 247v1M35.5 257v1M35.5 279v1M35.5 284v1M36.5 2v1M36.5 5v2M36.5 22v1M36.5 40v2M36.5 207v1M36.5 255v1M36.5 257v1M36.5 260v1M36.5 264v1M36.5 266v2M36.5 270v1M36.5 274v1M36.5 276v1M36.5 278v1"/>
<path stroke="#0071ff" d="M0.5 11v1M0.5 16v1M0.5 18v1M0.5 23v1M0.5 47v1M0.5 53v2M0.5 57v1M0.5 177v1M0.5 180v1M0.5 182v1M0.5 187v2M0.5 193v1M0.5 200v1M0.5 209v1M0.5 212v1M0.5 215v1M0.5 224v1M0.5 226v3M0.5 286v1M1.5 0v2M1.5 4v1M1.5 21v1M1.5 25v1M1.5 27v1M1.5 30v1M1.5 32v1M1.5 34v1M1.5 38v1M1.5 48v1M1.5 50v1M1.5 167v1M1.5 185v2M1.5 191v1M1.5 200v1M1.5 218v1M1.5 235v1M1.5 242v2M1.5 248v3M1.5 259v1M1.5 263v2M1.5 267v1M1.5 269v2M1.5 273v1M1.5 276v2M1.5 279v1M2.5 0v1M2.5 3v1M2.5 11v2M2.5 20v2M2.5 30v1M2.5 32v1M2.5 50v1M2.5 58v1M2.5 60v2M2.5 68v1M2.5 72v1M2.5 176v1M2.5 180v1M2.5 183v1M2.5 189v1M2.5 214v1M2.5 219v1M2.5 221v1M2.5 229v1M2.5 233v1M2.5 239v3M2.5 243v2M2.5 263v1M2.5 270v1M2.5 275v1M2.5 283v1M2.5 285v1M3.5 4v3M3.5 9v1M3.5 16v1M3.5 18v1M3.5 23v1M3.5 25v2M3.5 31v2M3.5 39v1M3.5 57v1M3.5 190v1M3.5 195v1M3.5 203v1M3.5 208v1M3.5 213v1M3.5 219v1M3.5 221v1M3.5 228v1M3.5 235v1M3.5 271v2M3.5 275v1M3.5 278v1M4.5 7v1M4.5 11v1M4.5 16v1M4.5 28v3M4.5 32v2M4.5 60v1M4.5 64v2M4.5 192v1M4.5 209v1M4.5 211v1M4.5 214v1M4.5 216v1M4.5 221v1M4.5 243v1M5.5 0v2M5.5 4v1M5.5 10v1M5.5 17v1M5.5 25v1M5.5 35v1M5.5 52v1M5.5 57v1M5.5 60v1M5.5 63v1M5.5 169v2M5.5 172v1M5.5 182v1M6.5 21v1M6.5 26v1M6.5 168v1M6.5 172v2M6.5 182v4M6.5 188v1M6.5 190v1M6.5 210v1M6.5 221v1M6.5 231v1M6.5 233v1M6.5 262v1M6.5 286v1M7.5 1v1M7.5 4v2M7.5 216v1M7.5 231v1M7.5 234v1M7.5 238v1M7.5 240v1M7.5 242v2M7.5 247v1M7.5 249v1M7.5 251v1M7.5 253v1M7.5 263v1M7.5 274v1M7.5 286v1M8.5 10v1M8.5 17v1M8.5 20v1M8.5 23v1M8.5 28v1M8.5 33v1M8.5 38v1M8.5 40v1M8.5 44v1M8.5 50v1M8.5 62v1M8.5 168v1M8.5 170v1M8.5 172v1M8.5 174v1M8.5 177v1M8.5 237v1M8.5 240v1M8.5 246v1M8.5 251v1M8.5 254v1M8.5 257v1M9.5 1v1M9.5 6v1M9.5 11v1M9.5 23v1M9.5 32v1M9.5 35v1M9.5 37v2M9.5 40v1M9.5 42v2M9.5 45v1M9.5 50v1M9.5 230v1M9.5 232v1M9.5 270v1M9.5 272v1M9.5 280v1M9.5 282v1M9.5 286v1M10.5 50v2M10.5 54v1M10.5 57v1M10.5 211v1M10.5 214v1M10.5 216v1M10.5 219v1M10.5 228v1M10.5 235v1M10.5 244v1M10.5 256v1M10.5 270v2M11.5 2v1M11.5 4v1M11.5 7v1M11.5 10v1M11.5 12v1M11.5 30v1M11.5 40v1M11.5 48v1M11.5 50v1M11.5 196v1M11.5 231v1M11.5 281v1M11.5 285v2M12.5 6v1M12.5 12v1M12.5 16v1M12.5 19v1M12.5 25v1M12.5 31v1M12.5 33v1M12.5 39v1M12.5 45v1M12.5 54v1M12.5 56v1M12.5 197v1M12.5 207v1M12.5 211v3M12.5 261v1M12.5 265v1M12.5 271v1M12.5 282v1M13.5 6v1M13.5 14v1M13.5 17v1M13.5 20v1M13.5 23v1M13.5 26v1M13.5 28v1M13.5 31v1M13.5 34v1M13.5 37v1M13.5 40v1M13.5 47v1M13.5 50v1M13.5 54v1M13.5 186v1M13.5 190v1M13.5 194v2M13.5 201v1M13.5 211v1M13.5 220v1M13.5 224v1M13.5 227v2M13.5 230v1M13.5 232v1M13.5 239v1M13.5 242v3M13.5 254v1M13.5 260v1M13.5 265v2M13.5 272v1M13.5 276v1M13.5 280v2M13.5 283v1M13.5 286v1M14.5 5v1M14.5 8v1M14.5 12v1M14.5 25v1M14.5 31v1M14.5 34v1M14.5 40v2M14.5 47v1M14.5 50v1M14.5 213v1M14.5 215v1M14.5 219v1M14.5 231v1M14.5 239v1M14.5 271v1M14.5 274v1M14.5 278v2M15.5 11v1M15.5 19v2M15.5 25v2M15.5 29v2M15.5 40v1M15.5 47v1M15.5 50v5M15.5 191v1M15.5 197v1M15.5 199v1M15.5 201v1M15.5 205v2M15.5 222v1M15.5 224v1M15.5 231v2M15.5 242v1M15.5 244v3M15.5 252v1M15.5 257v1M15.5 260v2M15.5 266v2M15.5 275v4M15.5 280v1M15.5 282v1M15.5 284v1M15.5 287v1M16.5 3v1M16.5 9v1M16.5 21v1M16.5 26v1M16.5 31v1M16.5 50v2M16.5 53v2M16.5 56v1M16.5 196v1M16.5 209v1M16.5 211v1M16.5 213v5M16.5 228v1M16.5 231v1M16.5 238v2M16.5 241v3M16.5 250v1M16.5 252v1M16.5 255v2M16.5 259v1M16.5 261v1M16.5 271v1M16.5 273v2M16.5 279v1M16.5 281v1M17.5 0v1M17.5 8v1M17.5 14v2M17.5 29v2M17.5 36v1M17.5 45v2M17.5 48v1M17.5 208v1M17.5 211v1M17.5 223v1M17.5 225v1M17.5 228v1M17.5 234v2M17.5 244v2M17.5 247v1M17.5 252v3M17.5 269v1M17.5 273v1M17.5 277v1M17.5 280v1M17.5 285v1M18.5 23v1M18.5 55v1M18.5 57v1M18.5 187v1M18.5 196v1M18.5 198v1M18.5 201v1M18.5 205v3M18.5 210v2M18.5 222v1M18.5 224v2M18.5 227v1M18.5 232v1M18.5 268v1M18.5 284v1M19.5 6v1M19.5 12v1M19.5 15v1M19.5 26v2M19.5 32v1M19.5 34v1M19.5 37v1M19.5 40v1M19.5 44v1M19.5 46v1M19.5 207v1M19.5 215v1M19.5 268v1M19.5 272v1M19.5 277v1M20.5 4v1M20.5 6v2M20.5 11v1M20.5 198v2M20.5 207v1M20.5 237v1M20.5 239v1M20.5 270v1M20.5 272v1M20.5 275v1M20.5 277v2M20.5 282v1M20.5 285v1M21.5 17v2M21.5 24v2M21.5 35v1M21.5 37v1M21.5 195v2M21.5 211v1M21.5 215v1M21.5 221v3M21.5 227v1M21.5 239v1M21.5 241v1M21.5 243v2M21.5 246v2M21.5 254v1M21.5 256v1M21.5 259v1M21.5 266v1M21.5 269v1M22.5 9v1M22.5 23v1M22.5 25v1M22.5 44v1M22.5 54v1M22.5 58v1M22.5 60v3M22.5 193v1M22.5 195v1M22.5 200v2M22.5 203v1M22.5 207v1M22.5 220v1M22.5 251v1M22.5 260v2M22.5 267v1M22.5 269v1M22.5 271v1M22.5 275v1M23.5 13v2M23.5 16v2M23.5 20v1M23.5 24v2M23.5 29v1M23.5 38v1M23.5 40v1M23.5 45v2M23.5 51v1M23.5 215v1M23.5 217v2M23.5 224v1M23.5 228v1M23.5 231v1M23.5 238v1M23.5 252v1M23.5 259v1M23.5 264v1M23.5 266v1M23.5 270v1M23.5 272v1M23.5 278v1M24.5 9v1M24.5 11v1M24.5 13v1M24.5 16v1M24.5 29v3M24.5 33v1M24.5 188v1M24.5 210v1M24.5 254v1M24.5 263v2M24.5 270v1M24.5 273v1M24.5 277v1M25.5 3v2M25.5 8v1M25.5 10v1M25.5 12v1M25.5 16v1M25.5 18v1M25.5 20v1M25.5 22v3M25.5 30v1M25.5 50v1M25.5 60v1M25.5 194v3M25.5 200v1M25.5 204v4M25.5 221v2M25.5 226v1M25.5 229v1M25.5 251v1M25.5 254v1M25.5 256v1M25.5 258v1M25.5 260v1M25.5 263v1M25.5 267v3M25.5 271v1M25.5 273v2M25.5 276v1M25.5 282v1M26.5 5v1M26.5 24v1M26.5 32v1M26.5 41v2M26.5 50v1M26.5 196v1M26.5 199v1M26.5 219v1M26.5 222v1M26.5 226v1M26.5 278v4M26.5 285v2M27.5 24v1M27.5 30v1M27.5 44v1M27.5 204v1M27.5 207v1M27.5 220v1M27.5 223v1M27.5 226v1M27.5 234v1M27.5 270v1M27.5 273v1M27.5 275v1M27.5 279v3M28.5 9v1M28.5 13v1M28.5 23v1M28.5 37v1M28.5 51v1M28.5 53v1M28.5 57v1M28.5 199v1M28.5 203v1M28.5 255v1M28.5 265v1M28.5 270v1M28.5 285v1M29.5 39v2M29.5 43v1M29.5 47v1M29.5 55v1M29.5 60v1M29.5 62v1M29.5 200v1M29.5 220v1M29.5 222v1M29.5 255v1M29.5 284v1M30.5 5v1M30.5 8v1M30.5 10v1M30.5 12v1M30.5 15v1M30.5 20v2M30.5 25v1M30.5 29v1M30.5 40v1M30.5 45v1M30.5 49v1M30.5 55v1M30.5 195v1M30.5 197v1M30.5 203v1M30.5 208v1M30.5 218v4M30.5 223v2M30.5 226v2M30.5 233v1M30.5 235v3M30.5 239v1M30.5 249v1M30.5 253v1M30.5 255v2M30.5 284v1M30.5 286v2M31.5 27v1M31.5 30v1M31.5 58v1M31.5 61v1M31.5 183v1M31.5 186v1M31.5 190v1M31.5 192v1M31.5 194v2M31.5 197v1M31.5 221v1M31.5 231v1M31.5 234v1M31.5 241v2M31.5 270v1M31.5 284v1M32.5 0v3M32.5 4v1M32.5 7v1M32.5 48v2M32.5 56v1M32.5 187v1M32.5 190v1M32.5 236v1M32.5 238v1M33.5 23v1M33.5 31v2M33.5 42v1M33.5 44v2M33.5 61v1M33.5 63v1M33.5 184v1M33.5 202v1M33.5 207v2M33.5 210v1M33.5 219v1M33.5 223v1M33.5 229v1M33.5 234v1M33.5 237v1M33.5 240v1M33.5 242v1M33.5 250v1M33.5 276v1M33.5 279v1M34.5 4v1M34.5 9v1M34.5 13v1M34.5 19v1M34.5 29v1M34.5 32v1M34.5 35v1M34.5 37v2M34.5 44v1M34.5 47v2M34.5 52v1M34.5 208v2M34.5 221v1M34.5 227v1M34.5 252v2M34.5 255v1M34.5 259v1M34.5 266v1M34.5 270v1M34.5 272v1M34.5 274v1M34.5 279v1M35.5 10v1M35.5 14v1M35.5 27v1M35.5 29v1M35.5 35v1M35.5 51v1M35.5 53v1M35.5 197v1M35.5 201v1M35.5 204v1M35.5 211v1M35.5 223v1M35.5 228v1M35.5 246v1M35.5 251v1M35.5 259v1M35.5 261v1M35.5 272v3M35.5 286v1M36.5 0v1M36.5 3v1M36.5 9v1M36.5 13v2M36.5 17v1M36.5 19v2M36.5 24v1M36.5 33v1M36.5 37v1M36.5 42v1M36.5 50v2M36.5 53v1M36.5 214v1M36.5 238v1M36.5 253v1M36.5 256v1M36.5 258v2M36.5 263v1M36.5 268v1M36.5 271v3M36.5 275v1M36.5 281v3M36.5 286v1"/>
<path stroke="#0080ff" d="M0.5 4v1M0.5 14v1M0.5 17v1M0.5 19v1M0.5 46v1M0.5 49v1M0.5 56v1M0.5 62v1M0.5 179v1M0.5 194v1M0.5 197v3M0.5 210v1M0.5 225v1M0.5 230v1M0.5 232v1M0.5 281v1M1.5 2v1M1.5 36v1M1.5 52v3M1.5 56v1M1.5 58v2M1.5 162v2M1.5 166v1M1.5 170v2M1.5 174v1M1.5 187v1M1.5 190v1M1.5 198v1M1.5 231v1M1.5 236v1M1.5 240v2M1.5 245v1M1.5 247v1M1.5 257v1M1.5 268v1M1.5 271v2M2.5 4v2M2.5 22v1M2.5 55v1M2.5 65v1M2.5 166v1M2.5 172v1M2.5 174v2M2.5 178v1M2.5 184v1M2.5 187v1M2.5 222v2M2.5 242v1M2.5 245v1M2.5 248v1M2.5 252v3M2.5 256v1M2.5 261v1M2.5 267v1M2.5 272v1M3.5 2v1M3.5 14v1M3.5 20v2M3.5 34v1M3.5 61v1M3.5 185v3M3.5 189v1M3.5 191v2M3.5 194v1M3.5 196v1M3.5 202v1M3.5 207v1M3.5 209v1M3.5 212v1M3.5 218v1M3.5 220v1M3.5 223v1M3.5 229v1M3.5 266v1M3.5 274v1M3.5 287v1M4.5 22v1M4.5 24v1M4.5 26v1M4.5 61v1M4.5 63v1M4.5 66v1M4.5 166v1M4.5 170v1M4.5 172v1M4.5 174v1M4.5 193v1M4.5 197v2M4.5 202v1M4.5 213v1M4.5 217v1M4.5 227v2M4.5 234v1M4.5 240v1M5.5 3v1M5.5 5v1M5.5 8v1M5.5 11v1M5.5 14v1M5.5 18v2M5.5 22v1M5.5 24v1M5.5 59v1M5.5 61v2M5.5 64v1M5.5 166v3M6.5 0v1M6.5 5v1M6.5 19v1M6.5 23v3M6.5 28v1M6.5 32v1M6.5 34v2M6.5 38v1M6.5 45v3M6.5 50v1M6.5 52v2M6.5 58v1M6.5 165v1M6.5 167v1M6.5 186v1M6.5 189v1M6.5 191v1M6.5 193v1M6.5 207v1M6.5 215v1M6.5 220v1M6.5 263v1M7.5 0v1M7.5 6v1M7.5 48v1M7.5 193v1M7.5 203v2M7.5 213v1M7.5 218v1M7.5 224v2M7.5 229v1M7.5 235v1M7.5 244v1M7.5 246v1M7.5 268v1M7.5 270v1M7.5 282v1M7.5 284v1M8.5 1v1M8.5 3v1M8.5 5v1M8.5 12v3M8.5 25v1M8.5 45v1M8.5 51v1M8.5 53v2M8.5 56v1M8.5 58v1M8.5 60v2M8.5 65v1M8.5 68v1M8.5 165v1M8.5 169v1M8.5 171v1M8.5 241v1M8.5 243v1M8.5 248v1M8.5 255v1M9.5 0v1M9.5 2v3M9.5 7v1M9.5 10v1M9.5 22v1M9.5 24v1M9.5 30v1M9.5 39v1M9.5 47v2M9.5 179v1M9.5 273v2M9.5 278v2M9.5 281v1M10.5 53v1M10.5 202v2M10.5 208v1M10.5 215v1M10.5 217v1M10.5 220v1M10.5 226v2M10.5 229v1M10.5 231v1M10.5 259v1M10.5 261v1M10.5 268v1M11.5 8v1M11.5 11v1M11.5 13v1M11.5 42v1M11.5 57v1M11.5 61v1M11.5 191v1M11.5 193v1M11.5 198v1M11.5 283v1M12.5 10v2M12.5 13v1M12.5 15v1M12.5 21v1M12.5 23v1M12.5 28v2M12.5 37v2M12.5 43v1M12.5 47v1M12.5 53v1M12.5 189v1M12.5 200v2M12.5 203v1M12.5 208v1M12.5 255v1M12.5 283v1M12.5 285v1M13.5 3v1M13.5 7v4M13.5 19v1M13.5 30v1M13.5 36v1M13.5 38v2M13.5 42v3M13.5 52v1M13.5 188v1M13.5 197v1M13.5 203v1M13.5 206v1M13.5 208v3M13.5 229v1M13.5 231v1M13.5 233v4M13.5 238v1M13.5 241v1M13.5 255v1M13.5 263v2M13.5 271v1M13.5 273v1M14.5 13v2M14.5 17v1M14.5 19v2M14.5 22v3M14.5 30v1M14.5 52v1M14.5 210v1M14.5 220v2M14.5 224v1M14.5 228v1M14.5 230v1M14.5 250v1M14.5 273v1M14.5 280v1M15.5 15v1M15.5 24v1M15.5 28v1M15.5 32v1M15.5 37v1M15.5 56v1M15.5 185v1M15.5 187v3M15.5 256v1M15.5 258v2M15.5 265v1M15.5 272v1M15.5 274v1M15.5 279v1M16.5 2v1M16.5 5v1M16.5 52v1M16.5 55v1M16.5 187v1M16.5 197v1M16.5 199v1M16.5 205v1M16.5 210v1M16.5 212v1M16.5 218v1M16.5 230v1M16.5 236v1M16.5 240v1M16.5 251v1M16.5 253v2M16.5 267v1M16.5 270v1M16.5 275v1M16.5 278v1M17.5 2v1M17.5 7v1M17.5 10v1M17.5 12v1M17.5 19v2M17.5 24v1M17.5 27v1M17.5 34v1M17.5 53v2M17.5 56v1M17.5 207v1M17.5 229v1M17.5 232v1M17.5 279v1M18.5 59v2M18.5 183v1M18.5 185v1M18.5 194v1M18.5 213v1M18.5 215v1M18.5 217v1M18.5 220v1M18.5 260v1M19.5 7v2M19.5 22v1M19.5 31v1M19.5 35v1M19.5 38v2M19.5 41v1M19.5 50v1M19.5 55v1M19.5 203v1M19.5 206v1M19.5 212v1M19.5 273v1M19.5 275v1M19.5 282v1M20.5 0v1M20.5 14v1M20.5 21v1M20.5 23v1M20.5 50v1M20.5 52v1M20.5 200v4M20.5 205v2M20.5 222v1M20.5 230v4M20.5 240v1M20.5 243v2M20.5 253v1M20.5 257v1M20.5 259v3M20.5 269v1M20.5 273v2M20.5 276v1M20.5 280v2M21.5 10v4M21.5 15v1M21.5 21v1M21.5 27v1M21.5 52v2M21.5 56v2M21.5 184v2M21.5 204v1M21.5 206v1M21.5 213v1M21.5 216v1M21.5 226v1M21.5 258v1M22.5 0v1M22.5 3v2M22.5 6v1M22.5 11v2M22.5 14v1M22.5 17v2M22.5 21v1M22.5 196v1M22.5 199v1M22.5 205v1M22.5 208v1M22.5 264v1M22.5 274v1M22.5 287v1M23.5 8v1M23.5 10v3M23.5 21v1M23.5 26v1M23.5 28v1M23.5 36v1M23.5 39v1M23.5 44v1M23.5 53v1M23.5 57v1M23.5 206v1M23.5 209v5M23.5 265v1M23.5 267v1M23.5 269v1M24.5 5v1M24.5 8v1M24.5 10v1M24.5 12v1M24.5 20v1M24.5 28v1M24.5 46v1M24.5 51v1M24.5 55v2M24.5 62v1M24.5 64v1M24.5 184v2M24.5 187v1M24.5 189v1M24.5 260v1M24.5 272v1M25.5 1v1M25.5 5v2M25.5 9v1M25.5 15v1M25.5 19v1M25.5 26v2M25.5 29v1M25.5 31v1M25.5 59v1M25.5 62v1M25.5 189v1M25.5 198v2M25.5 201v3M25.5 209v1M25.5 220v1M25.5 224v1M25.5 253v1M25.5 255v1M25.5 257v1M25.5 266v1M26.5 0v2M26.5 33v1M26.5 45v1M26.5 60v1M26.5 195v1M26.5 223v2M26.5 282v1M27.5 45v1M27.5 200v1M27.5 203v1M27.5 206v1M27.5 214v1M27.5 218v2M27.5 225v1M27.5 229v1M27.5 231v3M27.5 277v2M27.5 284v1M28.5 1v1M28.5 5v1M28.5 7v2M28.5 12v1M28.5 14v1M28.5 18v1M28.5 22v1M28.5 24v1M28.5 32v1M28.5 34v1M28.5 39v2M28.5 45v2M28.5 48v1M28.5 54v1M28.5 190v4M28.5 195v1M28.5 198v1M28.5 267v1M28.5 274v1M28.5 283v1M29.5 37v1M29.5 46v1M29.5 53v1M29.5 57v1M29.5 59v1M29.5 61v1M29.5 195v1M29.5 197v1M29.5 218v1M29.5 223v1M29.5 258v1M30.5 3v1M30.5 53v1M30.5 196v1M30.5 205v1M30.5 207v1M30.5 213v1M30.5 222v1M30.5 225v1M30.5 229v2M30.5 259v8M30.5 269v3M30.5 285v1M31.5 1v1M31.5 60v1M31.5 188v2M31.5 191v1M31.5 251v1M32.5 3v1M32.5 50v1M32.5 52v1M32.5 179v2M32.5 185v1M32.5 188v2M33.5 21v1M33.5 39v1M33.5 47v1M33.5 181v1M33.5 186v1M33.5 195v1M33.5 199v1M33.5 203v1M33.5 205v2M33.5 222v1M33.5 244v1M33.5 246v1M33.5 249v1M33.5 253v1M33.5 287v1M34.5 0v1M34.5 2v1M34.5 6v1M34.5 8v1M34.5 12v1M34.5 14v2M34.5 17v2M34.5 30v1M34.5 33v2M34.5 36v1M34.5 41v1M34.5 43v1M34.5 45v2M34.5 205v1M34.5 218v1M34.5 223v1M34.5 226v1M34.5 228v1M34.5 231v1M34.5 233v1M34.5 236v1M34.5 265v1M34.5 267v2M34.5 271v1M35.5 2v1M35.5 4v1M35.5 26v1M35.5 31v1M35.5 49v1M35.5 54v1M35.5 195v1M35.5 202v2M35.5 206v2M36.5 1v1M36.5 4v1M36.5 10v3M36.5 21v1M36.5 23v1M36.5 25v1M36.5 31v1M36.5 38v1M36.5 45v2M36.5 49v1M36.5 211v1M36.5 229v3M36.5 235v1M36.5 240v1M36.5 251v1M36.5 254v1"/>
<path stroke="#008eff" d="M0.5 2v1M0.5 5v1M0.5 10v1M0.5 13v1M0.5 59v1M0.5 175v2M0.5 184v2M0.5 189v1M0.5 191v1M0.5 195v1M0.5 201v3M0.5 206v1M0.5 208v1M0.5 280v1M1.5 158v3M1.5 168v1M1.5 173v1M1.5 177v2M1.5 181v3M1.5 201v1M1.5 246v1M1.5 255v1M2.5 69v3M2.5 161v1M2.5 163v3M2.5 168v3M2.5 173v1M2.5 246v2M2.5 249v2M3.5 19v1M3.5 22v1M3.5 24v1M3.5 59v2M3.5 62v1M3.5 184v1M3.5 193v1M3.5 199v1M3.5 204v1M3.5 210v2M3.5 216v2M3.5 226v1M4.5 31v1M4.5 59v1M4.5 168v2M4.5 175v1M4.5 177v3M4.5 194v3M4.5 200v2M4.5 207v1M4.5 218v1M4.5 220v1M4.5 222v1M4.5 225v1M4.5 231v1M4.5 233v1M4.5 237v2M5.5 6v2M5.5 9v1M5.5 13v1M5.5 21v1M5.5 164v1M6.5 1v3M6.5 29v3M6.5 33v1M6.5 36v1M6.5 43v1M6.5 48v1M6.5 157v1M6.5 161v1M6.5 192v1M6.5 209v1M6.5 211v2M6.5 219v1M7.5 3v1M7.5 47v1M7.5 54v1M7.5 67v1M7.5 202v1M7.5 206v2M7.5 211v1M7.5 214v2M7.5 217v1M7.5 219v1M7.5 227v2M7.5 230v1M7.5 233v1M7.5 236v1M7.5 250v1M7.5 267v1M7.5 279v1M8.5 0v1M8.5 4v1M8.5 8v1M8.5 11v1M8.5 15v1M8.5 18v1M8.5 67v1M8.5 236v1M8.5 239v1M8.5 244v1M9.5 8v2M9.5 12v2M9.5 15v1M9.5 49v1M9.5 51v1M9.5 266v3M9.5 276v1M10.5 58v2M10.5 66v1M10.5 198v2M10.5 209v2M10.5 213v1M10.5 218v1M10.5 221v2M10.5 224v2M11.5 53v1M11.5 56v1M11.5 59v2M11.5 190v1M11.5 192v1M12.5 32v1M12.5 46v1M12.5 198v2M12.5 202v1M12.5 205v1M12.5 210v1M12.5 287v1M13.5 1v2M13.5 12v1M13.5 21v2M13.5 24v2M13.5 27v1M13.5 29v1M13.5 32v2M13.5 49v1M13.5 51v1M13.5 53v1M13.5 200v1M13.5 204v2M13.5 237v1M13.5 240v1M13.5 269v1M14.5 15v2M14.5 18v1M14.5 21v1M14.5 26v2M14.5 29v1M14.5 32v1M14.5 37v1M14.5 49v1M14.5 212v1M14.5 218v1M14.5 222v1M15.5 13v1M15.5 18v1M15.5 23v1M15.5 31v1M15.5 36v1M15.5 38v2M15.5 42v1M15.5 44v1M15.5 57v1M15.5 60v1M15.5 62v1M15.5 186v1M15.5 192v1M15.5 195v1M15.5 204v1M15.5 263v1M16.5 4v1M16.5 6v1M16.5 22v1M16.5 177v1M16.5 194v1M16.5 201v1M16.5 206v1M16.5 208v1M16.5 223v1M16.5 225v2M16.5 245v4M16.5 257v1M16.5 263v3M16.5 272v1M16.5 276v1M17.5 1v1M17.5 3v1M17.5 9v1M17.5 11v1M17.5 13v1M17.5 55v1M17.5 57v1M17.5 205v2M17.5 209v1M17.5 224v1M18.5 54v1M18.5 62v1M18.5 65v1M18.5 184v1M18.5 218v2M19.5 0v1M19.5 3v1M19.5 14v1M19.5 16v2M19.5 23v2M19.5 30v1M19.5 42v1M19.5 47v3M19.5 54v1M19.5 59v1M19.5 61v1M19.5 195v4M19.5 201v1M19.5 205v1M19.5 271v1M20.5 55v1M20.5 196v1M20.5 234v1M20.5 236v1M20.5 245v3M20.5 250v1M20.5 252v1M20.5 255v2M20.5 262v1M20.5 265v1M20.5 268v1M20.5 279v1M20.5 283v1M21.5 14v1M21.5 16v1M21.5 19v1M21.5 23v1M21.5 54v2M21.5 59v1M21.5 179v3M21.5 183v1M21.5 214v1M22.5 1v1M22.5 7v2M22.5 10v1M22.5 19v1M22.5 63v1M22.5 184v1M22.5 190v1M22.5 192v1M22.5 194v1M22.5 197v2M22.5 204v1M22.5 206v1M22.5 216v1M23.5 6v1M23.5 48v2M23.5 54v2M23.5 62v1M23.5 64v1M23.5 205v1M24.5 0v5M24.5 7v1M24.5 18v1M24.5 22v1M24.5 54v1M24.5 58v1M24.5 60v1M24.5 66v1M24.5 181v1M24.5 286v1M25.5 0v1M25.5 21v1M25.5 25v1M25.5 28v1M25.5 63v1M25.5 66v1M25.5 186v1M25.5 190v1M25.5 192v2M25.5 208v1M25.5 211v1M26.5 46v1M26.5 48v2M26.5 51v1M26.5 53v2M26.5 57v1M26.5 59v1M26.5 61v1M26.5 193v2M26.5 198v1M26.5 200v1M26.5 283v2M26.5 287v1M27.5 47v2M27.5 52v1M27.5 194v1M27.5 196v3M27.5 201v1M27.5 210v4M27.5 215v2M27.5 227v1M27.5 272v1M27.5 285v1M27.5 287v1M28.5 16v1M28.5 20v2M28.5 27v1M28.5 29v1M28.5 47v1M28.5 52v1M28.5 67v1M28.5 185v2M28.5 266v1M28.5 279v2M29.5 64v1M29.5 212v1M29.5 219v1M29.5 221v1M30.5 57v2M30.5 193v2M30.5 254v1M30.5 258v1M30.5 267v2M30.5 272v1M31.5 178v2M31.5 182v1M31.5 184v1M32.5 53v1M32.5 58v2M33.5 24v1M33.5 40v2M33.5 43v1M33.5 179v2M33.5 185v1M33.5 187v1M33.5 200v1M33.5 204v1M33.5 283v1M34.5 1v1M34.5 10v1M34.5 39v2M34.5 51v1M34.5 196v1M34.5 210v1M34.5 224v2M34.5 232v1M34.5 234v1M34.5 261v1M35.5 0v1M35.5 6v2M35.5 52v1M35.5 57v2M35.5 191v1M35.5 194v1M35.5 205v1M36.5 7v1M36.5 26v1M36.5 28v1M36.5 32v1M36.5 36v1M36.5 52v1M36.5 54v1M36.5 206v1M36.5 208v1M36.5 212v2M36.5 215v1M36.5 218v2M36.5 221v2M36.5 224v1M36.5 232v3M36.5 236v2M36.5 241v3M36.5 245v1M36.5 248v1M36.5 280v1"/>
<path stroke="#009cff" d="M0.5 3v1M0.5 6v3M0.5 12v1M0.5 15v1M0.5 58v1M0.5 60v2M0.5 172v1M0.5 192v1M0.5 196v1M0.5 204v1M0.5 282v2M0.5 287v1M1.5 24v1M1.5 61v4M1.5 68v2M1.5 157v1M1.5 161v1M1.5 172v1M1.5 179v1M1.5 184v1M1.5 188v1M1.5 192v1M1.5 252v1M2.5 73v2M2.5 126v1M2.5 160v1M2.5 167v1M2.5 171v1M2.5 177v1M2.5 255v1M3.5 58v1M3.5 63v5M3.5 188v1M3.5 198v1M3.5 200v1M3.5 215v1M4.5 67v4M4.5 165v1M4.5 167v1M4.5 171v1M4.5 176v1M4.5 181v1M4.5 187v1M4.5 191v1M4.5 204v3M4.5 224v1M4.5 229v2M4.5 232v1M5.5 2v1M5.5 12v1M5.5 15v2M5.5 58v1M6.5 4v1M6.5 6v2M6.5 14v1M6.5 16v1M6.5 18v1M6.5 20v1M6.5 22v1M6.5 27v1M6.5 39v1M6.5 41v2M6.5 49v1M6.5 51v1M6.5 54v1M6.5 163v1M6.5 214v1M6.5 217v2M7.5 49v2M7.5 53v1M7.5 59v2M7.5 191v1M7.5 194v1M7.5 196v2M7.5 208v1M7.5 220v4M7.5 226v1M7.5 232v1M8.5 2v1M8.5 7v1M8.5 9v1M8.5 55v1M8.5 57v1M8.5 63v2M8.5 66v1M8.5 164v1M8.5 166v2M9.5 14v1M9.5 52v1M9.5 54v1M9.5 56v1M9.5 283v1M10.5 187v1M10.5 193v1M10.5 200v2M10.5 204v1M10.5 207v1M11.5 63v1M11.5 65v1M12.5 52v1M12.5 55v1M12.5 57v4M12.5 188v1M12.5 191v1M13.5 0v1M13.5 11v1M13.5 16v1M13.5 55v1M13.5 189v1M13.5 191v1M13.5 193v1M13.5 199v1M13.5 207v1M13.5 287v1M14.5 53v2M14.5 206v1M14.5 211v1M14.5 217v1M15.5 22v1M15.5 61v1M15.5 184v1M16.5 57v1M16.5 59v2M16.5 180v1M16.5 184v1M16.5 186v1M16.5 188v4M16.5 193v1M16.5 203v1M16.5 221v1M16.5 224v1M16.5 233v2M16.5 244v1M16.5 258v1M16.5 260v1M16.5 266v1M17.5 58v2M17.5 203v1M18.5 61v1M18.5 63v1M18.5 182v1M18.5 209v1M19.5 1v2M19.5 13v1M19.5 21v1M19.5 28v1M19.5 51v1M19.5 60v1M19.5 192v1M19.5 194v1M19.5 200v1M20.5 197v1M20.5 238v1M20.5 248v1M20.5 254v1M20.5 264v1M21.5 58v1M21.5 60v2M21.5 212v1M21.5 219v1M22.5 191v1M23.5 15v1M23.5 50v1M23.5 52v1M23.5 56v1M23.5 58v1M23.5 65v1M23.5 198v1M23.5 201v4M23.5 207v2M24.5 6v1M24.5 59v1M24.5 61v1M24.5 65v1M24.5 178v1M24.5 182v1M25.5 2v1M25.5 17v1M25.5 64v2M25.5 67v1M25.5 191v1M25.5 197v1M25.5 210v1M25.5 212v2M25.5 217v1M25.5 219v1M25.5 223v1M26.5 47v1M26.5 52v1M26.5 56v1M26.5 62v1M26.5 191v1M27.5 46v1M27.5 192v1M27.5 195v1M27.5 217v1M27.5 221v2M27.5 228v1M27.5 286v1M28.5 15v1M28.5 17v1M28.5 25v1M28.5 28v1M28.5 43v1M28.5 56v1M28.5 58v4M28.5 63v1M28.5 184v1M28.5 278v1M28.5 281v2M28.5 284v1M29.5 63v1M29.5 194v1M29.5 196v1M29.5 216v1M30.5 59v3M30.5 190v1M30.5 192v1M30.5 204v1M30.5 212v1M30.5 216v1M30.5 273v3M31.5 62v3M31.5 69v1M31.5 174v1M31.5 176v2M31.5 246v2M31.5 250v1M32.5 54v2M32.5 61v4M32.5 184v1M33.5 64v2M33.5 67v1M33.5 171v1M33.5 189v2M33.5 197v1M34.5 5v1M34.5 7v1M34.5 11v1M34.5 16v1M34.5 42v1M34.5 50v1M34.5 199v2M34.5 202v1M34.5 207v1M34.5 211v2M35.5 1v1M35.5 3v1M35.5 5v1M35.5 8v1M35.5 192v2M36.5 29v2M36.5 39v1M36.5 43v2M36.5 47v1M36.5 55v4M36.5 216v2M36.5 223v1M36.5 225v2M36.5 228v1M36.5 250v1M36.5 252v1"/>
<path stroke="#00aaff" d="M0.5 9v1M0.5 64v1M0.5 67v1M0.5 168v4M0.5 205v1M1.5 66v2M1.5 72v1M1.5 154v1M1.5 169v1M1.5 175v1M1.5 180v1M2.5 6v1M2.5 76v3M2.5 139v2M2.5 152v1M2.5 162v1M3.5 68v1M3.5 182v1M3.5 197v1M3.5 201v1M4.5 71v2M4.5 74v1M4.5 180v1M4.5 183v1M4.5 190v1M4.5 203v1M4.5 226v1M5.5 20v1M5.5 66v1M5.5 162v1M5.5 165v1M6.5 8v2M6.5 11v1M6.5 13v1M6.5 37v1M6.5 40v1M6.5 44v1M6.5 55v3M6.5 62v1M6.5 148v1M6.5 159v1M6.5 162v1M6.5 164v1M6.5 213v1M7.5 51v2M7.5 55v1M7.5 58v1M7.5 61v1M7.5 188v1M7.5 192v1M7.5 201v1M7.5 205v1M7.5 209v2M7.5 212v1M8.5 6v1M8.5 70v1M8.5 163v1M8.5 242v1M9.5 55v1M9.5 176v1M10.5 60v4M10.5 65v1M10.5 192v1M10.5 197v1M11.5 58v1M11.5 62v1M11.5 68v1M11.5 186v1M12.5 62v1M12.5 64v1M12.5 187v1M12.5 194v2M13.5 4v1M13.5 184v1M13.5 187v1M13.5 202v1M14.5 207v1M14.5 209v1M15.5 41v1M15.5 58v2M16.5 58v1M16.5 182v1M16.5 185v1M16.5 192v1M16.5 195v1M16.5 198v1M16.5 200v1M16.5 202v1M16.5 204v1M16.5 219v2M16.5 268v1M17.5 202v1M17.5 204v1M18.5 64v1M18.5 66v1M18.5 68v1M19.5 56v3M19.5 62v1M19.5 64v1M19.5 193v1M19.5 202v1M20.5 57v1M20.5 195v1M20.5 263v1M21.5 20v1M21.5 63v1M21.5 182v1M22.5 64v1M22.5 66v3M22.5 186v1M22.5 188v2M22.5 226v1M23.5 63v1M23.5 66v1M23.5 189v1M23.5 196v2M23.5 200v1M24.5 57v1M24.5 63v1M24.5 67v1M24.5 186v1M25.5 68v1M25.5 185v1M25.5 187v2M25.5 214v1M25.5 216v1M26.5 55v1M26.5 58v1M26.5 64v4M26.5 186v1M26.5 190v1M26.5 192v1M27.5 49v3M27.5 53v2M27.5 189v1M27.5 193v1M28.5 26v1M28.5 31v1M28.5 33v1M28.5 44v1M28.5 62v1M28.5 64v1M28.5 66v1M28.5 68v1M28.5 183v1M28.5 187v2M28.5 277v1M29.5 68v1M29.5 190v1M29.5 193v1M30.5 56v1M31.5 65v1M31.5 70v1M31.5 72v2M31.5 171v2M31.5 244v1M31.5 249v1M32.5 57v1M32.5 60v1M32.5 65v3M32.5 176v3M32.5 183v1M33.5 69v1M33.5 169v1M33.5 172v1M33.5 182v1M34.5 53v4M34.5 195v1M34.5 198v1M34.5 204v1M35.5 9v1M35.5 59v3M35.5 188v2M36.5 27v1M36.5 35v1M36.5 48v1M36.5 200v1M36.5 204v2M36.5 209v2M36.5 220v1M36.5 239v1M36.5 246v2M36.5 249v1"/>
<path stroke="#00b8ff" d="M0.5 63v1M0.5 65v1M0.5 163v2M0.5 166v2M1.5 60v1M1.5 153v1M1.5 155v1M1.5 176v1M2.5 79v1M2.5 81v3M2.5 127v1M2.5 129v2M2.5 132v1M2.5 134v2M2.5 141v2M2.5 146v1M2.5 154v5M3.5 180v1M3.5 183v1M4.5 73v1M4.5 173v1M4.5 186v1M4.5 188v2M5.5 65v1M5.5 67v1M5.5 157v1M5.5 160v1M5.5 163v1M6.5 10v1M6.5 12v1M6.5 15v1M6.5 141v1M6.5 153v1M6.5 156v1M6.5 216v1M7.5 56v1M7.5 62v1M7.5 68v3M7.5 189v1M7.5 199v2M8.5 69v1M8.5 162v1M9.5 58v1M9.5 91v1M9.5 172v1M10.5 67v1M10.5 72v1M10.5 184v2M10.5 188v1M10.5 195v1M10.5 205v1M11.5 66v1M11.5 188v2M12.5 61v1M12.5 186v1M12.5 190v1M12.5 192v2M12.5 196v1M13.5 57v1M13.5 183v1M13.5 185v1M14.5 55v2M14.5 208v1M15.5 179v1M15.5 181v3M16.5 0v2M16.5 61v1M16.5 174v2M16.5 178v2M16.5 181v1M16.5 183v1M16.5 222v1M16.5 232v1M16.5 262v1M16.5 269v1M17.5 62v1M17.5 184v1M17.5 197v1M17.5 201v1M18.5 178v1M18.5 180v2M19.5 63v1M19.5 65v1M19.5 199v1M20.5 54v1M20.5 59v1M20.5 64v1M20.5 189v1M20.5 193v1M21.5 62v1M21.5 178v1M22.5 65v1M22.5 69v2M22.5 187v1M23.5 59v1M23.5 61v1M23.5 187v1M23.5 191v1M24.5 68v2M24.5 77v1M24.5 177v1M24.5 179v1M24.5 183v1M25.5 69v1M25.5 178v1M25.5 218v1M26.5 63v1M26.5 175v1M26.5 183v2M26.5 187v3M26.5 265v1M27.5 58v1M27.5 190v2M28.5 69v2M28.5 72v4M29.5 65v1M29.5 192v1M30.5 62v2M30.5 65v1M30.5 185v2M30.5 191v1M31.5 66v2M31.5 173v1M31.5 175v1M31.5 245v1M31.5 248v1M32.5 68v1M32.5 174v2M32.5 182v1M33.5 66v1M33.5 68v1M33.5 174v4M33.5 188v1M33.5 193v2M34.5 27v1M34.5 197v1M34.5 201v1M34.5 203v1M35.5 62v1M35.5 185v1M35.5 187v1M35.5 190v1M36.5 34v1M36.5 59v3M36.5 198v1M36.5 201v1M36.5 203v1M36.5 227v1M36.5 244v1"/>
<path stroke="#00c6ff" d="M0.5 68v3M0.5 76v1M0.5 92v1M0.5 158v1M0.5 162v1M1.5 65v1M1.5 70v2M1.5 73v1M1.5 95v1M1.5 149v1M1.5 156v1M2.5 75v1M2.5 80v1M2.5 87v1M2.5 89v1M2.5 121v1M2.5 124v2M2.5 133v1M2.5 136v1M2.5 138v1M2.5 144v2M2.5 147v1M2.5 151v1M2.5 153v1M3.5 70v1M3.5 179v1M4.5 76v1M4.5 157v1M4.5 164v1M4.5 184v2M5.5 69v3M5.5 73v2M5.5 159v1M5.5 161v1M6.5 17v1M6.5 59v3M6.5 140v1M7.5 57v1M7.5 63v2M7.5 71v2M7.5 195v1M7.5 198v1M8.5 71v2M8.5 158v1M8.5 160v2M9.5 53v1M9.5 59v1M9.5 61v1M9.5 80v1M9.5 168v1M9.5 173v3M10.5 64v1M10.5 183v1M10.5 186v1M10.5 191v1M10.5 194v1M10.5 196v1M10.5 206v1M11.5 67v1M11.5 69v2M11.5 185v1M11.5 187v1M12.5 65v1M12.5 67v1M12.5 184v1M13.5 56v1M13.5 58v1M13.5 181v1M14.5 59v1M14.5 194v3M14.5 204v2M15.5 63v1M16.5 62v1M16.5 176v1M17.5 60v2M17.5 63v1M17.5 181v1M17.5 183v1M17.5 199v2M18.5 67v1M18.5 69v1M19.5 66v1M19.5 68v1M19.5 70v1M19.5 74v1M19.5 181v1M19.5 189v1M20.5 56v1M20.5 58v1M20.5 60v1M20.5 62v1M20.5 194v1M21.5 64v1M21.5 175v2M22.5 185v1M23.5 60v1M23.5 68v1M23.5 192v2M23.5 195v1M23.5 199v1M24.5 71v1M24.5 176v1M24.5 180v1M25.5 70v2M25.5 176v2M25.5 180v5M25.5 215v1M26.5 68v1M26.5 168v1M26.5 173v1M26.5 181v1M27.5 55v3M27.5 59v1M27.5 65v1M27.5 186v1M28.5 71v1M28.5 181v2M29.5 71v1M29.5 191v1M30.5 64v1M30.5 66v1M30.5 187v1M30.5 189v1M31.5 170v1M32.5 69v2M33.5 70v2M33.5 165v1M33.5 167v2M33.5 170v1M33.5 173v1M33.5 178v1M33.5 191v2M34.5 21v2M34.5 24v1M34.5 58v4M34.5 191v1M35.5 63v1M35.5 65v1M35.5 186v1M36.5 62v2M36.5 196v1M36.5 202v1"/>
<path stroke="#00d4ff" d="M0.5 66v1M0.5 75v1M0.5 80v1M0.5 95v1M0.5 154v1M0.5 159v2M0.5 165v1M1.5 74v1M1.5 76v2M1.5 99v1M1.5 144v1M1.5 148v1M1.5 151v1M2.5 84v3M2.5 88v1M2.5 101v1M2.5 105v1M2.5 120v1M2.5 122v2M2.5 128v1M2.5 131v1M2.5 143v1M2.5 148v1M2.5 150v1M2.5 159v1M3.5 69v1M3.5 174v3M3.5 181v1M4.5 158v1M4.5 161v1M4.5 163v1M4.5 182v1M5.5 68v1M5.5 72v1M5.5 77v1M5.5 84v1M5.5 156v1M5.5 158v1M6.5 63v2M6.5 67v1M6.5 72v1M6.5 135v1M6.5 138v1M6.5 150v1M6.5 155v1M6.5 158v1M7.5 65v2M7.5 186v2M7.5 190v1M8.5 73v2M8.5 76v1M8.5 78v2M8.5 157v1M8.5 159v1M9.5 60v1M9.5 62v1M9.5 81v1M9.5 83v1M9.5 86v2M9.5 90v1M9.5 99v1M9.5 110v1M9.5 167v1M9.5 169v1M10.5 68v2M10.5 180v3M10.5 189v2M11.5 64v1M11.5 71v1M11.5 73v1M12.5 63v1M12.5 68v1M12.5 185v1M13.5 178v1M13.5 180v1M13.5 182v1M14.5 57v2M14.5 60v2M15.5 65v1M15.5 175v1M15.5 177v1M15.5 180v1M16.5 63v1M16.5 173v1M17.5 176v1M17.5 178v2M17.5 186v2M18.5 70v1M18.5 175v2M18.5 179v1M19.5 69v1M19.5 71v1M19.5 190v2M20.5 67v1M20.5 190v3M21.5 177v1M22.5 73v1M22.5 183v1M23.5 67v1M23.5 69v2M23.5 185v2M23.5 194v1M24.5 70v1M24.5 73v2M24.5 78v1M25.5 72v1M25.5 179v1M26.5 69v1M26.5 174v1M26.5 180v1M27.5 64v1M27.5 185v1M27.5 187v2M28.5 65v1M29.5 66v2M29.5 69v1M29.5 180v1M29.5 182v1M29.5 189v1M30.5 67v1M30.5 70v1M30.5 184v1M31.5 68v1M31.5 71v1M31.5 74v1M31.5 166v1M32.5 173v1M32.5 181v1M33.5 72v1M33.5 166v1M34.5 20v1M34.5 23v1M34.5 57v1M34.5 193v1M35.5 64v1M35.5 183v1M36.5 197v1"/>
<path stroke="#00e3f9" d="M0.5 71v4M0.5 79v1M0.5 81v2M0.5 86v5M0.5 93v2M0.5 152v1M0.5 155v1M0.5 157v1M0.5 161v1M1.5 75v1M1.5 78v1M1.5 87v1M1.5 96v1M1.5 141v1M1.5 150v1M2.5 95v2M2.5 137v1M2.5 149v1M3.5 177v2M4.5 75v1M4.5 159v1M4.5 162v1M5.5 76v1M5.5 87v1M5.5 154v1M6.5 65v1M6.5 75v1M6.5 89v1M6.5 136v2M6.5 139v1M6.5 144v1M6.5 147v1M6.5 151v1M6.5 154v1M8.5 75v1M8.5 77v1M8.5 80v1M8.5 86v1M8.5 132v1M8.5 139v1M8.5 155v1M9.5 57v1M9.5 63v2M9.5 69v1M9.5 82v1M9.5 88v2M9.5 109v1M9.5 112v1M10.5 70v1M10.5 76v1M10.5 174v1M10.5 177v2M11.5 184v1M13.5 59v1M14.5 201v1M14.5 203v1M15.5 64v1M15.5 66v1M15.5 178v1M16.5 172v1M17.5 177v1M17.5 180v1M17.5 185v1M17.5 188v2M17.5 193v1M17.5 195v1M17.5 198v1M18.5 72v2M18.5 177v1M19.5 67v1M19.5 75v1M19.5 77v1M19.5 184v2M19.5 188v1M20.5 186v1M20.5 188v1M21.5 66v1M21.5 173v2M22.5 182v1M23.5 184v1M23.5 188v1M24.5 72v1M24.5 75v1M24.5 79v1M24.5 169v7M26.5 70v1M26.5 169v1M26.5 176v1M26.5 185v1M27.5 62v1M27.5 66v1M27.5 184v1M28.5 76v2M28.5 80v1M28.5 83v1M28.5 180v1M29.5 74v1M29.5 79v1M29.5 81v2M29.5 184v1M29.5 187v2M30.5 69v1M30.5 188v1M31.5 75v1M31.5 79v1M31.5 81v1M31.5 162v4M31.5 167v1M31.5 169v1M32.5 71v1M32.5 73v1M34.5 26v1M34.5 28v1M34.5 62v1M34.5 67v1M34.5 194v1M35.5 184v1M36.5 64v2M36.5 67v1M36.5 199v1"/>
<path stroke="#09f1ee" d="M0.5 83v3M0.5 91v1M0.5 96v1M0.5 149v3M0.5 153v1M1.5 81v1M1.5 84v2M1.5 92v1M1.5 98v1M1.5 100v2M1.5 103v2M1.5 137v1M1.5 139v1M1.5 142v2M1.5 146v1M2.5 90v1M2.5 93v1M2.5 98v1M2.5 106v1M2.5 113v1M2.5 117v3M3.5 72v1M3.5 75v1M3.5 163v1M3.5 170v1M3.5 173v1M4.5 155v1M5.5 75v1M5.5 81v1M5.5 85v2M5.5 88v1M5.5 90v1M5.5 93v1M5.5 96v1M5.5 151v1M6.5 66v1M6.5 73v2M6.5 94v1M6.5 96v1M6.5 98v1M6.5 131v1M6.5 142v1M6.5 146v1M6.5 149v1M6.5 152v1M7.5 74v1M7.5 93v1M7.5 183v1M7.5 185v1M8.5 120v1M8.5 126v2M8.5 129v1M8.5 133v1M8.5 135v3M8.5 143v1M8.5 145v1M8.5 149v2M8.5 153v2M8.5 156v1M8.5 256v1M9.5 66v1M9.5 68v1M9.5 84v2M9.5 92v1M9.5 95v1M9.5 100v1M9.5 106v2M9.5 132v1M9.5 136v1M9.5 153v1M9.5 164v3M9.5 170v2M10.5 71v1M10.5 179v1M12.5 66v1M12.5 69v2M13.5 60v1M13.5 62v2M13.5 175v1M14.5 62v1M14.5 199v1M14.5 202v1M15.5 176v1M16.5 64v2M17.5 182v1M17.5 190v3M17.5 196v1M18.5 71v1M18.5 75v1M19.5 72v2M19.5 178v2M19.5 186v2M20.5 61v1M20.5 63v1M20.5 187v1M21.5 65v1M21.5 67v1M21.5 69v1M21.5 169v1M22.5 71v2M22.5 74v1M22.5 180v1M23.5 71v1M23.5 183v1M24.5 80v2M25.5 73v3M25.5 79v1M26.5 71v1M26.5 170v3M26.5 177v1M26.5 179v1M27.5 60v2M27.5 63v1M27.5 67v2M27.5 182v1M28.5 79v1M28.5 176v1M29.5 70v1M29.5 76v2M29.5 80v1M29.5 177v2M29.5 186v1M30.5 68v1M30.5 71v4M30.5 76v1M30.5 180v2M30.5 183v1M31.5 76v2M31.5 83v1M31.5 157v1M31.5 168v1M33.5 74v1M33.5 76v1M33.5 83v1M33.5 247v1M34.5 25v1M34.5 64v2M34.5 71v1M34.5 192v1M35.5 77v1M35.5 180v1M35.5 182v1M36.5 66v1M36.5 193v3"/>
<path stroke="#15ffe2" d="M0.5 78v1M0.5 101v1M0.5 106v2M0.5 110v2M0.5 113v1M0.5 147v1M0.5 156v1M1.5 79v2M1.5 86v1M1.5 97v1M1.5 105v2M1.5 110v1M1.5 147v1M1.5 152v1M2.5 91v2M2.5 94v1M2.5 99v2M2.5 102v1M2.5 107v1M2.5 112v1M2.5 115v2M3.5 37v1M3.5 73v1M3.5 154v1M3.5 162v1M3.5 168v1M3.5 171v1M4.5 77v1M4.5 79v1M4.5 156v1M5.5 78v2M5.5 83v1M5.5 89v1M5.5 91v2M5.5 100v1M5.5 150v1M5.5 152v2M5.5 155v1M6.5 76v1M6.5 78v1M6.5 84v2M6.5 87v2M6.5 97v1M6.5 103v1M6.5 121v1M6.5 130v1M6.5 134v1M6.5 143v1M7.5 73v1M7.5 75v3M7.5 81v1M7.5 164v1M8.5 81v1M8.5 110v1M8.5 113v1M8.5 118v1M8.5 125v1M8.5 128v1M8.5 130v1M8.5 140v3M8.5 144v1M8.5 146v1M8.5 151v1M9.5 65v1M9.5 70v1M9.5 72v1M9.5 74v2M9.5 78v1M9.5 93v2M9.5 97v2M9.5 101v1M9.5 104v1M9.5 108v1M9.5 113v1M9.5 115v1M9.5 117v1M9.5 125v1M9.5 129v1M9.5 131v1M9.5 137v1M9.5 141v1M9.5 143v1M9.5 156v2M9.5 160v1M10.5 74v2M10.5 79v1M10.5 168v1M10.5 170v3M10.5 175v2M11.5 72v1M11.5 74v2M11.5 182v1M12.5 71v1M12.5 181v3M13.5 61v1M13.5 65v1M13.5 70v1M13.5 172v1M13.5 174v1M13.5 176v1M13.5 179v1M14.5 63v2M14.5 182v1M14.5 184v1M14.5 192v1M14.5 198v1M15.5 67v1M15.5 69v1M15.5 172v3M16.5 169v3M17.5 64v1M17.5 194v1M18.5 74v1M18.5 76v1M18.5 174v1M19.5 76v1M19.5 175v3M19.5 180v1M19.5 182v1M20.5 66v1M20.5 68v1M20.5 183v2M21.5 68v1M21.5 172v1M22.5 76v1M22.5 78v1M22.5 179v1M22.5 181v1M23.5 182v1M23.5 190v1M24.5 76v1M24.5 82v1M24.5 167v1M25.5 76v1M25.5 83v1M25.5 173v1M26.5 73v1M26.5 75v1M26.5 178v1M26.5 182v1M27.5 69v1M27.5 71v1M27.5 183v1M28.5 81v1M28.5 86v1M28.5 178v1M29.5 72v2M29.5 75v1M29.5 78v1M29.5 83v1M29.5 181v1M30.5 75v1M30.5 182v1M31.5 78v1M31.5 80v1M31.5 82v1M31.5 155v2M32.5 74v1M32.5 76v1M32.5 83v1M33.5 75v1M33.5 77v1M33.5 80v2M34.5 189v2M35.5 66v1M35.5 177v1M35.5 181v1M36.5 68v2M36.5 192v1"/>
<path stroke="#20ffd7" d="M0.5 77v1M0.5 97v1M0.5 103v3M0.5 112v1M0.5 114v3M0.5 118v1M0.5 144v3M1.5 83v1M1.5 88v2M1.5 91v1M1.5 93v1M1.5 107v1M1.5 138v1M2.5 97v1M2.5 103v1M2.5 114v1M3.5 71v1M3.5 74v1M3.5 77v1M3.5 159v3M3.5 165v3M3.5 169v1M3.5 172v1M4.5 78v1M4.5 81v1M4.5 160v1M5.5 80v1M5.5 82v1M5.5 97v1M5.5 142v1M6.5 68v3M6.5 80v4M6.5 90v3M6.5 122v1M6.5 133v1M6.5 145v1M7.5 78v1M7.5 80v1M7.5 83v1M7.5 85v1M7.5 89v1M7.5 92v1M7.5 97v1M7.5 157v1M7.5 161v2M7.5 165v1M7.5 178v1M7.5 180v1M7.5 182v1M8.5 82v2M8.5 106v3M8.5 111v2M8.5 117v1M8.5 119v1M8.5 122v1M8.5 131v1M8.5 134v1M8.5 138v1M8.5 152v1M9.5 67v1M9.5 71v1M9.5 73v1M9.5 76v1M9.5 79v1M9.5 96v1M9.5 102v2M9.5 114v1M9.5 126v1M9.5 128v1M9.5 130v1M9.5 133v2M9.5 139v2M9.5 142v1M9.5 146v1M9.5 148v1M9.5 151v1M9.5 154v1M9.5 159v1M9.5 161v3M10.5 78v1M10.5 173v1M11.5 181v1M11.5 183v1M12.5 72v4M12.5 78v1M12.5 178v2M13.5 64v1M13.5 66v2M13.5 177v1M14.5 65v1M14.5 69v1M14.5 180v1M14.5 185v1M14.5 187v3M14.5 191v1M14.5 193v1M14.5 197v1M15.5 68v1M15.5 70v1M16.5 69v1M17.5 67v1M17.5 175v1M18.5 77v1M18.5 79v1M19.5 183v1M20.5 65v1M20.5 182v1M21.5 171v1M22.5 75v1M22.5 80v1M22.5 174v1M22.5 178v1M23.5 181v1M24.5 84v4M24.5 165v1M24.5 168v1M25.5 77v2M25.5 172v1M25.5 175v1M26.5 72v1M27.5 70v1M27.5 74v1M28.5 78v1M28.5 82v1M28.5 84v1M28.5 87v1M28.5 175v1M28.5 177v1M28.5 179v1M29.5 85v1M29.5 174v2M29.5 183v1M29.5 185v1M30.5 172v1M30.5 174v1M30.5 177v1M30.5 179v1M31.5 153v2M31.5 158v1M31.5 160v1M32.5 72v1M32.5 75v1M32.5 77v1M32.5 87v1M32.5 169v3M33.5 78v1M33.5 85v1M33.5 88v1M34.5 63v1M34.5 66v1M34.5 68v2M34.5 72v1M34.5 184v1M34.5 186v3M35.5 67v1M35.5 179v1"/>
<path stroke="#2bffcb" d="M0.5 98v2M0.5 102v1M0.5 109v1M0.5 117v1M0.5 119v1M0.5 122v1M0.5 140v1M0.5 143v1M0.5 148v1M1.5 82v1M1.5 90v1M1.5 94v1M1.5 102v1M1.5 108v2M1.5 111v2M1.5 115v1M1.5 140v1M1.5 145v1M2.5 104v1M2.5 108v2M3.5 89v1M3.5 156v1M4.5 82v1M4.5 138v1M5.5 94v2M5.5 107v1M5.5 111v1M5.5 113v1M5.5 133v2M5.5 146v2M5.5 149v1M6.5 71v1M6.5 79v1M6.5 86v1M6.5 95v1M6.5 100v2M6.5 104v1M6.5 108v1M6.5 116v1M6.5 118v3M6.5 129v1M6.5 132v1M6.5 160v1M7.5 79v1M7.5 86v2M7.5 155v1M7.5 160v1M7.5 169v2M7.5 181v1M7.5 184v1M8.5 84v1M8.5 91v1M8.5 101v1M8.5 105v1M8.5 109v1M8.5 115v2M8.5 123v1M8.5 148v1M9.5 105v1M9.5 111v1M9.5 116v1M9.5 118v1M9.5 122v1M9.5 135v1M9.5 138v1M9.5 149v2M9.5 155v1M9.5 158v1M10.5 73v1M10.5 77v1M10.5 167v1M11.5 178v2M12.5 76v1M12.5 79v2M12.5 84v1M12.5 180v1M14.5 178v1M14.5 183v1M14.5 186v1M14.5 200v1M15.5 170v1M16.5 66v2M16.5 167v1M17.5 65v2M17.5 174v1M18.5 81v1M18.5 173v1M19.5 79v2M20.5 69v1M20.5 72v1M20.5 177v1M20.5 185v1M21.5 70v2M21.5 168v1M21.5 170v1M22.5 176v1M24.5 83v1M24.5 162v1M24.5 164v1M24.5 166v1M25.5 80v2M25.5 171v1M25.5 174v1M26.5 74v1M26.5 76v1M26.5 161v3M26.5 165v3M27.5 72v1M27.5 75v2M27.5 175v1M28.5 85v1M28.5 88v1M29.5 84v1M29.5 173v1M29.5 176v1M30.5 78v1M30.5 166v1M30.5 178v1M31.5 84v1M31.5 92v1M31.5 159v1M31.5 161v1M32.5 78v1M32.5 88v1M32.5 172v1M33.5 73v1M33.5 82v1M33.5 84v1M33.5 87v1M33.5 142v1M33.5 151v1M33.5 160v1M33.5 162v1M34.5 70v1M34.5 73v1M35.5 175v2M35.5 178v1M36.5 188v1M36.5 190v2"/>
<path stroke="#37ffc0" d="M0.5 108v1M0.5 123v2M0.5 128v1M0.5 136v1M1.5 113v1M1.5 118v1M1.5 134v2M2.5 110v2M3.5 78v2M3.5 86v2M3.5 153v1M3.5 155v1M3.5 157v2M3.5 164v1M4.5 80v1M4.5 84v2M4.5 139v1M4.5 149v1M4.5 154v1M5.5 98v2M5.5 101v1M5.5 105v2M5.5 108v1M5.5 110v1M5.5 135v2M5.5 139v1M5.5 143v1M6.5 93v1M6.5 99v1M6.5 102v1M6.5 105v3M6.5 110v1M6.5 114v1M7.5 82v1M7.5 88v1M7.5 90v1M7.5 94v3M7.5 98v1M7.5 100v2M7.5 104v1M7.5 141v1M7.5 156v1M7.5 158v1M7.5 163v1M7.5 166v1M7.5 168v1M7.5 177v1M7.5 179v1M8.5 89v1M8.5 94v1M8.5 98v2M8.5 114v1M8.5 121v1M8.5 124v1M9.5 77v1M9.5 119v1M9.5 123v2M9.5 127v1M9.5 145v1M9.5 147v1M9.5 152v1M10.5 83v1M11.5 76v2M11.5 180v1M12.5 77v1M12.5 81v1M12.5 83v1M12.5 85v1M13.5 68v2M13.5 72v1M13.5 168v1M13.5 171v1M13.5 173v1M14.5 66v1M14.5 179v1M14.5 190v1M15.5 71v1M15.5 73v1M15.5 169v1M15.5 171v1M16.5 68v1M16.5 72v1M16.5 165v1M16.5 168v1M17.5 69v2M17.5 173v1M18.5 78v1M19.5 78v1M19.5 174v1M20.5 71v1M20.5 175v2M20.5 178v4M21.5 72v1M22.5 77v1M22.5 79v1M22.5 169v1M22.5 175v1M22.5 177v1M23.5 72v5M23.5 179v2M24.5 131v1M24.5 163v1M25.5 170v1M26.5 77v1M26.5 79v1M26.5 82v1M26.5 164v1M27.5 73v1M27.5 80v1M27.5 180v2M28.5 92v1M28.5 172v3M29.5 87v2M29.5 144v1M29.5 169v1M29.5 172v1M30.5 77v1M30.5 173v1M30.5 175v1M31.5 85v4M31.5 151v2M32.5 79v4M32.5 84v1M32.5 89v3M32.5 93v1M32.5 163v1M32.5 165v1M32.5 167v2M33.5 79v1M33.5 91v1M33.5 93v1M33.5 95v2M33.5 157v1M33.5 163v2M34.5 74v1M34.5 185v1M35.5 68v2M36.5 70v1M36.5 72v1M36.5 189v1"/>
<path stroke="#42ffb5" d="M0.5 133v1M0.5 137v1M0.5 141v2M1.5 114v1M1.5 116v2M1.5 126v1M1.5 130v1M3.5 84v1M3.5 92v1M3.5 151v1M4.5 83v1M4.5 87v1M4.5 130v1M4.5 132v1M4.5 134v1M4.5 145v1M4.5 147v1M4.5 152v2M5.5 102v3M5.5 112v1M5.5 116v3M5.5 121v1M5.5 124v1M5.5 131v1M5.5 137v1M5.5 141v1M5.5 144v2M6.5 77v1M6.5 109v1M6.5 111v1M6.5 113v1M6.5 115v1M7.5 99v1M7.5 102v1M7.5 105v1M7.5 108v1M7.5 112v1M7.5 134v1M7.5 137v1M7.5 159v1M7.5 173v1M7.5 175v1M8.5 85v1M8.5 90v1M8.5 92v1M8.5 95v3M8.5 100v1M8.5 104v1M8.5 147v1M9.5 121v1M9.5 144v1M10.5 80v3M10.5 148v1M10.5 150v1M10.5 166v1M11.5 81v1M11.5 98v1M11.5 174v4M12.5 82v1M12.5 87v1M12.5 173v5M13.5 166v2M13.5 170v1M14.5 67v1M14.5 172v1M14.5 175v2M14.5 181v1M15.5 72v1M15.5 74v2M15.5 77v1M15.5 80v1M15.5 165v2M15.5 168v1M17.5 68v1M17.5 169v1M17.5 171v1M18.5 80v1M18.5 82v1M19.5 81v1M19.5 173v1M22.5 82v2M22.5 87v1M22.5 156v1M22.5 171v2M23.5 177v1M24.5 88v1M24.5 90v1M24.5 156v3M24.5 161v1M25.5 82v1M25.5 84v1M25.5 169v1M26.5 80v2M26.5 159v1M27.5 77v1M27.5 87v1M27.5 90v1M27.5 93v1M27.5 171v2M27.5 179v1M28.5 90v1M28.5 164v1M28.5 168v2M28.5 171v1M29.5 86v1M29.5 89v1M29.5 138v1M29.5 141v1M29.5 170v2M30.5 82v1M30.5 165v1M30.5 167v1M30.5 170v2M31.5 91v1M31.5 150v1M32.5 85v2M32.5 164v1M32.5 166v1M33.5 86v1M33.5 89v2M33.5 94v1M33.5 102v1M33.5 140v2M33.5 147v2M33.5 158v2M33.5 161v1M34.5 182v1M35.5 70v1M35.5 172v1M35.5 174v1"/>
<path stroke="#4effa9" d="M0.5 120v2M0.5 125v1M0.5 131v1M0.5 138v1M1.5 120v1M1.5 122v1M1.5 127v2M1.5 132v1M3.5 80v4M3.5 85v1M3.5 88v1M3.5 95v1M3.5 152v1M4.5 86v1M4.5 90v1M4.5 127v1M4.5 129v1M4.5 131v1M4.5 133v1M4.5 136v2M4.5 140v1M4.5 146v1M4.5 150v1M5.5 115v1M5.5 119v2M5.5 123v1M5.5 127v2M5.5 130v1M5.5 138v1M5.5 140v1M5.5 148v1M6.5 117v1M7.5 84v1M7.5 91v1M7.5 103v1M7.5 110v1M7.5 123v3M7.5 139v2M7.5 142v2M7.5 146v1M7.5 171v1M7.5 176v1M8.5 87v2M8.5 103v1M9.5 120v1M10.5 84v2M10.5 88v1M10.5 138v1M10.5 151v1M10.5 158v2M10.5 164v1M10.5 169v1M11.5 78v1M11.5 80v1M11.5 171v1M12.5 86v1M13.5 73v2M13.5 164v1M13.5 169v1M14.5 70v2M14.5 174v1M14.5 177v1M15.5 76v1M15.5 167v1M16.5 71v1M16.5 161v1M16.5 163v2M16.5 166v1M17.5 71v2M17.5 170v1M17.5 172v1M18.5 83v1M18.5 170v2M19.5 83v1M19.5 172v1M20.5 70v1M20.5 74v1M20.5 106v1M20.5 173v2M21.5 73v1M22.5 81v1M22.5 84v3M22.5 93v1M22.5 150v1M22.5 173v1M23.5 79v1M23.5 176v1M24.5 91v2M24.5 124v1M24.5 129v1M24.5 134v1M24.5 136v1M24.5 159v2M25.5 85v1M26.5 78v1M26.5 84v1M26.5 86v1M26.5 158v1M27.5 82v1M27.5 84v1M27.5 86v1M27.5 88v1M27.5 97v1M27.5 169v2M27.5 173v2M27.5 176v3M28.5 89v1M28.5 116v1M28.5 160v1M28.5 162v2M28.5 170v1M29.5 139v2M29.5 142v2M29.5 166v1M29.5 168v1M30.5 80v1M30.5 164v1M30.5 169v1M30.5 176v1M31.5 89v1M31.5 93v1M31.5 95v2M31.5 99v2M31.5 102v1M31.5 104v1M31.5 139v3M31.5 148v2M32.5 92v1M32.5 94v1M32.5 129v1M32.5 161v1M33.5 92v1M33.5 97v2M33.5 100v1M33.5 143v3M33.5 155v2M34.5 181v1M35.5 71v1M35.5 171v1M35.5 173v1M36.5 71v1M36.5 74v1M36.5 183v2"/>
<path stroke="#59ff9e" d="M0.5 126v2M0.5 129v2M1.5 119v1M1.5 121v1M1.5 125v1M1.5 129v1M1.5 133v1M1.5 136v1M3.5 90v1M3.5 93v2M3.5 149v1M4.5 88v2M4.5 125v1M4.5 142v2M4.5 151v1M5.5 109v1M5.5 132v1M6.5 112v1M7.5 113v2M7.5 121v2M7.5 126v1M7.5 128v1M7.5 131v1M7.5 133v1M7.5 136v1M7.5 152v1M7.5 172v1M8.5 93v1M8.5 102v1M10.5 86v2M10.5 90v1M10.5 99v1M10.5 113v1M10.5 115v1M10.5 132v1M10.5 143v3M10.5 152v3M10.5 157v1M10.5 163v1M10.5 165v1M11.5 79v1M11.5 83v1M11.5 160v1M11.5 162v1M11.5 165v1M11.5 169v2M11.5 173v1M12.5 170v1M12.5 172v1M13.5 71v1M13.5 161v2M13.5 165v1M14.5 68v1M14.5 72v3M14.5 171v1M14.5 173v1M15.5 164v1M16.5 70v1M16.5 73v1M18.5 86v1M18.5 169v1M18.5 172v1M19.5 82v1M19.5 84v1M19.5 86v1M19.5 88v1M19.5 169v1M20.5 73v1M20.5 171v1M21.5 166v2M22.5 90v1M22.5 92v1M22.5 146v1M22.5 148v2M22.5 158v1M22.5 161v1M22.5 165v1M22.5 170v1M23.5 77v1M23.5 80v1M23.5 84v1M23.5 178v1M24.5 89v1M24.5 95v1M24.5 120v1M24.5 125v2M24.5 135v1M24.5 139v1M24.5 141v1M24.5 147v2M24.5 153v3M25.5 86v3M25.5 90v1M25.5 92v1M25.5 166v1M25.5 168v1M26.5 83v1M26.5 104v1M26.5 107v2M26.5 160v1M27.5 78v2M27.5 81v1M27.5 83v1M27.5 92v1M27.5 94v1M27.5 96v1M27.5 98v1M27.5 103v2M27.5 156v1M27.5 161v1M28.5 91v1M28.5 98v1M28.5 117v1M28.5 119v1M28.5 161v1M28.5 165v3M29.5 90v1M29.5 93v1M29.5 145v2M29.5 164v2M29.5 167v1M30.5 79v1M30.5 81v1M30.5 85v1M30.5 161v1M30.5 163v1M30.5 168v1M31.5 90v1M31.5 94v1M31.5 97v1M31.5 101v1M31.5 106v2M31.5 129v1M31.5 132v1M31.5 142v1M31.5 144v1M31.5 146v2M32.5 162v1M33.5 101v1M33.5 125v1M33.5 139v1M33.5 146v1M33.5 150v1M33.5 153v1M34.5 77v3M34.5 180v1M35.5 72v3M36.5 75v2M36.5 182v1M36.5 185v1M36.5 187v1"/>
<path stroke="#65ff92" d="M0.5 134v1M1.5 123v1M1.5 131v1M3.5 91v1M3.5 96v2M3.5 99v1M3.5 148v1M4.5 91v1M4.5 95v3M4.5 99v1M4.5 102v1M4.5 107v2M4.5 112v1M4.5 114v2M4.5 120v3M4.5 124v1M4.5 128v1M4.5 135v1M4.5 141v1M4.5 144v1M4.5 148v1M5.5 114v1M5.5 122v1M5.5 125v2M5.5 129v1M6.5 127v2M7.5 106v2M7.5 111v1M7.5 115v6M7.5 127v1M7.5 130v1M7.5 132v1M7.5 135v1M7.5 138v1M7.5 148v2M7.5 153v1M7.5 174v1M10.5 89v1M10.5 92v2M10.5 111v2M10.5 139v1M10.5 141v1M10.5 155v1M10.5 161v2M11.5 82v1M11.5 84v1M11.5 159v1M11.5 161v1M11.5 164v1M11.5 172v1M12.5 89v1M12.5 167v1M12.5 171v1M13.5 75v2M13.5 81v1M13.5 156v1M13.5 163v1M14.5 170v1M15.5 79v1M15.5 163v1M16.5 74v1M17.5 73v1M17.5 166v1M17.5 168v1M18.5 84v1M18.5 168v1M19.5 89v1M19.5 170v1M20.5 75v2M20.5 170v1M21.5 74v3M21.5 164v2M22.5 88v1M22.5 94v2M22.5 151v1M22.5 154v2M22.5 157v1M22.5 159v2M22.5 162v2M22.5 166v3M23.5 78v1M23.5 81v2M23.5 87v1M23.5 175v1M24.5 93v1M24.5 128v1M24.5 130v1M24.5 137v2M24.5 142v5M24.5 149v1M24.5 152v1M25.5 89v1M25.5 120v1M25.5 164v1M25.5 167v1M26.5 85v1M26.5 87v3M26.5 93v1M26.5 98v1M26.5 102v1M26.5 111v2M26.5 114v1M26.5 117v1M26.5 144v1M26.5 148v1M26.5 156v2M27.5 85v1M27.5 89v1M27.5 91v1M27.5 95v1M27.5 99v1M27.5 114v1M27.5 118v1M27.5 162v1M27.5 167v2M28.5 93v2M28.5 96v2M28.5 113v1M28.5 120v2M28.5 124v1M28.5 156v4M29.5 36v1M29.5 91v2M30.5 83v2M30.5 87v1M30.5 90v2M30.5 104v1M30.5 159v1M30.5 162v1M31.5 98v1M31.5 103v1M31.5 134v1M31.5 136v1M31.5 138v1M31.5 145v1M32.5 100v1M32.5 138v1M32.5 145v2M32.5 159v2M33.5 103v3M33.5 108v1M33.5 131v1M33.5 134v1M33.5 138v1M33.5 149v1M33.5 152v1M33.5 154v1M34.5 76v1M34.5 80v1M34.5 179v1M34.5 183v1M35.5 165v1M35.5 170v1M36.5 73v1M36.5 77v1M36.5 186v1"/>
<path stroke="#70ff87" d="M0.5 132v1M0.5 135v1M0.5 139v1M3.5 100v2M3.5 124v1M3.5 138v1M3.5 146v1M3.5 150v1M4.5 93v2M4.5 104v1M4.5 109v1M4.5 111v1M4.5 118v2M4.5 123v1M4.5 126v1M6.5 123v1M7.5 109v1M7.5 129v1M7.5 144v2M7.5 147v1M7.5 150v2M7.5 154v1M10.5 91v1M10.5 95v2M10.5 119v1M10.5 124v1M10.5 129v1M10.5 135v1M10.5 146v2M10.5 149v1M10.5 156v1M11.5 85v1M11.5 153v1M11.5 157v2M11.5 167v2M12.5 90v1M12.5 165v1M13.5 78v2M13.5 82v2M13.5 128v1M13.5 145v1M13.5 154v1M14.5 77v1M14.5 79v1M15.5 78v1M16.5 75v2M16.5 160v1M16.5 162v1M17.5 165v1M17.5 167v1M18.5 100v1M18.5 167v1M19.5 85v1M19.5 87v1M19.5 91v2M19.5 106v1M20.5 77v2M20.5 172v1M22.5 89v1M22.5 91v1M22.5 143v1M22.5 145v1M22.5 147v1M22.5 152v2M23.5 83v1M23.5 173v1M24.5 94v1M24.5 96v4M24.5 115v1M24.5 118v2M24.5 122v1M24.5 127v1M24.5 133v1M24.5 150v1M25.5 91v1M25.5 93v1M25.5 160v3M25.5 165v1M26.5 95v2M26.5 100v2M26.5 103v1M26.5 105v1M26.5 109v1M26.5 129v1M26.5 147v1M27.5 100v2M27.5 107v2M27.5 116v2M27.5 120v1M27.5 122v1M27.5 125v1M27.5 152v1M27.5 157v1M27.5 163v2M28.5 107v1M28.5 114v1M28.5 122v2M28.5 151v1M28.5 153v1M28.5 155v1M29.5 94v1M29.5 137v1M29.5 162v1M30.5 88v2M30.5 92v3M30.5 96v2M30.5 103v1M30.5 105v3M30.5 111v1M30.5 113v1M30.5 151v1M30.5 155v2M31.5 105v1M31.5 108v1M31.5 112v1M31.5 114v4M31.5 122v2M31.5 131v1M31.5 143v1M32.5 106v1M32.5 136v1M32.5 140v1M32.5 144v1M32.5 147v2M32.5 150v1M32.5 158v1M33.5 99v1M33.5 106v2M33.5 110v1M33.5 122v1M33.5 126v1M33.5 128v3M33.5 135v2M34.5 173v1M34.5 177v2M35.5 75v2M35.5 164v1M35.5 166v1M35.5 168v1M36.5 180v2"/>
<path stroke="#7bff7b" d="M1.5 124v1M3.5 98v1M3.5 108v1M3.5 113v1M3.5 118v1M3.5 122v1M3.5 126v3M3.5 133v2M3.5 137v1M3.5 140v1M3.5 142v1M3.5 147v1M4.5 92v1M4.5 100v1M4.5 105v1M4.5 110v1M4.5 113v1M4.5 116v1M6.5 125v1M10.5 97v1M10.5 101v1M10.5 104v1M10.5 107v1M10.5 114v1M10.5 116v1M10.5 122v2M10.5 125v1M10.5 127v1M10.5 130v2M10.5 134v1M10.5 137v1M10.5 140v1M10.5 142v1M10.5 160v1M11.5 156v1M11.5 163v1M12.5 88v1M12.5 161v1M12.5 168v2M13.5 77v1M13.5 151v1M13.5 153v1M13.5 155v1M13.5 157v1M14.5 75v1M15.5 81v3M15.5 85v3M15.5 159v1M15.5 162v1M16.5 83v1M16.5 159v1M17.5 75v1M18.5 87v2M18.5 92v1M18.5 164v1M19.5 94v1M19.5 171v1M20.5 166v1M21.5 87v1M21.5 162v1M22.5 96v1M22.5 101v1M22.5 144v1M22.5 164v1M23.5 85v1M23.5 90v1M23.5 174v1M24.5 100v2M24.5 103v1M24.5 105v2M24.5 109v2M24.5 114v1M24.5 116v1M24.5 121v1M24.5 132v1M24.5 140v1M24.5 151v1M25.5 98v1M25.5 100v2M25.5 103v1M25.5 118v2M25.5 129v1M25.5 145v1M25.5 149v2M25.5 154v1M25.5 157v1M25.5 159v1M25.5 163v1M26.5 97v1M26.5 106v1M26.5 110v1M26.5 113v1M26.5 133v2M26.5 138v4M26.5 145v1M26.5 149v2M26.5 152v1M26.5 155v1M27.5 102v1M27.5 109v1M27.5 113v1M27.5 119v1M27.5 121v1M27.5 127v1M27.5 148v1M27.5 151v1M27.5 153v2M27.5 158v1M27.5 160v1M27.5 165v1M28.5 95v1M28.5 99v1M28.5 101v3M28.5 105v1M28.5 112v1M28.5 115v1M28.5 118v1M28.5 129v1M28.5 131v1M28.5 135v1M28.5 149v2M28.5 152v1M28.5 154v1M29.5 95v1M29.5 97v1M29.5 147v2M29.5 157v1M29.5 163v1M30.5 86v1M30.5 98v2M30.5 108v3M30.5 147v1M30.5 150v1M30.5 152v1M30.5 154v1M30.5 157v2M30.5 160v1M31.5 124v2M31.5 130v1M31.5 133v1M31.5 137v1M32.5 99v1M32.5 101v2M32.5 107v1M32.5 124v1M32.5 137v1M32.5 143v1M32.5 149v1M32.5 151v1M32.5 156v1M33.5 109v1M33.5 111v1M33.5 119v1M33.5 124v1M33.5 127v1M33.5 132v1M33.5 137v1M34.5 85v1M34.5 171v1M34.5 175v1M35.5 82v1M35.5 169v1M36.5 78v1"/>
<path stroke="#87ff70" d="M3.5 76v1M3.5 102v1M3.5 110v2M3.5 115v1M3.5 123v1M3.5 129v1M3.5 132v1M3.5 139v1M3.5 141v1M3.5 143v3M4.5 98v1M4.5 103v1M4.5 106v1M6.5 124v1M6.5 126v1M10.5 94v1M10.5 100v1M10.5 103v1M10.5 105v2M10.5 108v1M10.5 110v1M10.5 117v2M10.5 120v1M10.5 126v1M10.5 128v1M10.5 133v1M10.5 136v1M11.5 86v1M11.5 89v1M11.5 151v1M11.5 155v1M11.5 166v1M12.5 92v1M12.5 94v1M12.5 162v2M12.5 166v1M13.5 80v1M13.5 84v3M13.5 90v1M13.5 103v2M13.5 113v1M13.5 150v1M13.5 152v1M13.5 159v2M14.5 76v1M14.5 78v1M14.5 167v2M15.5 84v1M15.5 88v1M15.5 94v3M15.5 98v1M15.5 160v2M16.5 77v2M16.5 157v2M17.5 74v1M17.5 76v1M17.5 81v1M18.5 85v1M18.5 89v2M19.5 90v1M19.5 93v1M19.5 98v1M19.5 100v1M20.5 168v1M21.5 77v2M21.5 159v1M21.5 161v1M21.5 163v1M22.5 97v3M22.5 113v1M23.5 86v1M23.5 88v2M23.5 99v2M23.5 157v1M23.5 171v2M24.5 104v1M24.5 111v1M24.5 123v1M25.5 94v2M25.5 97v1M25.5 99v1M25.5 107v1M25.5 122v2M25.5 125v1M25.5 132v1M25.5 140v3M25.5 144v1M25.5 147v2M25.5 153v1M25.5 155v2M26.5 90v3M26.5 99v1M26.5 115v1M26.5 130v2M26.5 142v2M26.5 146v1M26.5 153v2M27.5 105v2M27.5 110v3M27.5 123v2M27.5 149v1M27.5 155v1M27.5 159v1M27.5 166v1M28.5 100v1M28.5 108v2M28.5 125v1M28.5 128v1M28.5 132v3M28.5 143v2M29.5 96v1M29.5 99v1M29.5 134v3M29.5 149v1M29.5 161v1M30.5 95v1M30.5 100v1M30.5 114v1M30.5 122v1M30.5 135v1M30.5 144v1M30.5 146v1M30.5 153v1M31.5 109v3M31.5 118v1M31.5 121v1M31.5 126v3M32.5 95v2M32.5 98v1M32.5 105v1M32.5 108v1M32.5 120v1M32.5 139v1M32.5 142v1M32.5 152v4M33.5 113v1M33.5 116v3M33.5 120v2M33.5 123v1M33.5 133v1M34.5 88v1M34.5 97v2M34.5 101v1M34.5 164v1M34.5 174v1M34.5 176v1M35.5 78v4M35.5 167v1M36.5 79v3"/>
<path stroke="#92ff65" d="M3.5 103v1M3.5 105v1M3.5 107v1M3.5 112v1M3.5 116v1M3.5 120v2M3.5 125v1M3.5 131v1M3.5 135v2M4.5 101v1M4.5 117v1M10.5 98v1M10.5 102v1M11.5 88v1M11.5 92v1M11.5 123v1M11.5 125v2M11.5 152v1M11.5 154v1M12.5 147v1M12.5 150v1M12.5 155v2M12.5 159v1M12.5 164v1M13.5 89v1M13.5 93v1M13.5 96v1M13.5 99v1M13.5 101v1M13.5 110v1M13.5 143v1M13.5 146v1M13.5 148v2M13.5 158v1M14.5 80v1M14.5 83v1M14.5 166v1M15.5 89v1M15.5 91v1M15.5 154v1M15.5 157v1M16.5 80v1M16.5 84v2M16.5 88v1M17.5 77v2M17.5 84v1M17.5 162v3M18.5 95v1M18.5 97v1M18.5 107v1M18.5 165v2M19.5 95v1M19.5 99v1M19.5 102v1M19.5 104v2M19.5 107v2M19.5 111v1M19.5 164v1M19.5 167v2M20.5 169v1M21.5 81v2M21.5 91v1M21.5 103v1M21.5 158v1M22.5 100v1M22.5 105v1M22.5 110v2M22.5 118v1M22.5 141v1M23.5 93v2M23.5 110v1M23.5 161v1M23.5 169v1M24.5 102v1M24.5 108v1M24.5 112v2M24.5 117v1M25.5 96v1M25.5 105v1M25.5 116v1M25.5 121v1M25.5 124v1M25.5 126v2M25.5 134v1M25.5 137v3M25.5 143v1M25.5 151v2M25.5 158v1M26.5 94v1M26.5 116v1M26.5 118v3M26.5 123v4M26.5 132v1M26.5 135v1M26.5 137v1M26.5 151v1M27.5 115v1M27.5 129v2M27.5 145v2M27.5 150v1M28.5 106v1M28.5 110v1M28.5 127v1M28.5 130v1M28.5 137v1M28.5 140v1M28.5 142v1M28.5 146v1M29.5 100v1M29.5 153v1M29.5 159v2M30.5 102v1M30.5 112v1M30.5 115v1M30.5 120v2M30.5 123v3M30.5 129v1M30.5 133v1M30.5 136v1M30.5 139v2M31.5 113v1M31.5 119v2M31.5 135v1M32.5 97v1M32.5 104v1M32.5 109v1M32.5 114v1M32.5 122v1M32.5 133v3M33.5 112v1M33.5 114v2M34.5 81v4M34.5 87v1M34.5 89v1M34.5 104v1M34.5 172v1M35.5 83v1M35.5 86v1M35.5 112v1M35.5 163v1"/>
<path stroke="#9eff59" d="M3.5 109v1M3.5 114v1M3.5 130v1M7.5 167v1M10.5 109v1M10.5 121v1M11.5 87v1M11.5 90v1M11.5 94v1M11.5 129v1M11.5 134v1M11.5 141v1M12.5 91v1M12.5 101v1M12.5 105v1M12.5 130v1M12.5 138v1M12.5 151v1M12.5 153v2M12.5 157v2M12.5 160v1M13.5 87v2M13.5 92v1M13.5 94v2M13.5 98v1M13.5 102v1M13.5 105v1M13.5 139v2M13.5 147v1M14.5 84v1M14.5 164v1M14.5 169v1M15.5 92v2M15.5 100v1M15.5 102v2M15.5 145v1M15.5 150v2M15.5 153v1M15.5 158v1M16.5 79v1M16.5 81v1M16.5 90v1M17.5 79v2M17.5 82v2M17.5 161v1M18.5 91v1M18.5 104v1M18.5 161v2M19.5 101v1M19.5 109v1M19.5 112v1M19.5 114v1M20.5 80v1M20.5 108v1M20.5 165v1M20.5 167v1M21.5 79v2M21.5 83v1M21.5 85v1M21.5 90v1M21.5 157v1M22.5 104v1M22.5 107v2M22.5 112v1M22.5 122v1M22.5 125v1M22.5 128v1M22.5 135v1M22.5 142v1M23.5 95v1M23.5 98v1M23.5 101v1M23.5 148v1M23.5 151v3M23.5 155v2M23.5 158v3M23.5 162v1M23.5 168v1M23.5 170v1M24.5 107v1M25.5 102v1M25.5 104v1M25.5 108v1M25.5 115v1M25.5 117v1M25.5 128v1M25.5 130v2M25.5 136v1M25.5 146v1M26.5 121v2M26.5 127v2M26.5 136v1M27.5 126v1M27.5 137v1M27.5 140v1M27.5 142v3M28.5 104v1M28.5 111v1M28.5 126v1M28.5 138v2M28.5 141v1M28.5 145v1M28.5 147v2M29.5 98v1M29.5 103v1M29.5 151v2M29.5 155v2M30.5 101v1M30.5 126v2M30.5 130v1M30.5 132v1M30.5 134v1M30.5 137v2M30.5 143v1M30.5 148v1M32.5 103v1M32.5 110v3M32.5 115v3M32.5 119v1M32.5 121v1M32.5 126v1M32.5 131v2M32.5 141v1M32.5 157v1M34.5 86v1M34.5 90v2M34.5 99v2M34.5 103v1M34.5 107v1M34.5 112v2M34.5 162v1M34.5 170v1M35.5 84v1M35.5 90v1M35.5 109v2M35.5 120v1M35.5 123v1M35.5 130v1M35.5 160v2M36.5 82v3M36.5 171v1M36.5 177v3"/>
<path stroke="#a9ff4e" d="M3.5 104v1M3.5 106v1M3.5 119v1M11.5 91v1M11.5 93v1M11.5 95v1M11.5 116v1M11.5 119v1M11.5 128v1M11.5 131v2M11.5 149v1M12.5 93v1M12.5 95v3M12.5 99v1M12.5 110v1M12.5 118v1M12.5 127v1M12.5 133v2M12.5 137v1M12.5 140v2M12.5 145v2M12.5 148v2M13.5 97v1M13.5 100v1M13.5 106v1M13.5 109v1M13.5 111v1M13.5 116v1M13.5 126v1M13.5 138v1M13.5 142v1M13.5 144v1M14.5 81v2M14.5 85v1M14.5 165v1M15.5 90v1M15.5 97v1M15.5 99v1M15.5 105v1M15.5 142v1M15.5 147v1M15.5 149v1M15.5 152v1M15.5 156v1M16.5 82v1M16.5 86v2M16.5 91v1M16.5 94v1M16.5 155v2M17.5 86v1M17.5 160v1M18.5 93v1M18.5 96v1M18.5 98v2M18.5 101v2M18.5 105v1M18.5 109v1M18.5 111v1M18.5 113v1M18.5 144v1M18.5 156v1M18.5 160v1M18.5 163v1M19.5 96v2M19.5 110v1M19.5 113v1M19.5 117v1M19.5 161v2M19.5 165v2M20.5 79v1M20.5 81v2M20.5 163v1M21.5 88v1M21.5 92v2M21.5 97v1M21.5 104v1M21.5 112v2M21.5 160v1M22.5 102v2M22.5 106v1M22.5 119v3M22.5 123v1M22.5 129v2M22.5 137v4M23.5 91v2M23.5 97v1M23.5 102v1M23.5 105v2M23.5 108v1M23.5 112v1M23.5 116v1M23.5 139v1M23.5 145v2M23.5 149v1M23.5 154v1M23.5 165v3M25.5 106v1M25.5 109v1M25.5 114v1M25.5 133v1M25.5 135v1M27.5 128v1M27.5 131v1M27.5 135v2M27.5 141v1M28.5 136v1M29.5 101v1M29.5 104v1M29.5 106v1M29.5 129v1M29.5 132v2M29.5 150v1M29.5 154v1M29.5 158v1M30.5 116v2M30.5 119v1M30.5 128v1M30.5 131v1M30.5 142v1M30.5 145v1M30.5 149v1M32.5 113v1M32.5 118v1M32.5 123v1M34.5 75v1M34.5 96v1M34.5 102v1M34.5 108v4M34.5 118v1M34.5 158v2M34.5 163v1M34.5 167v2M35.5 85v1M35.5 88v1M35.5 92v1M35.5 96v1M35.5 105v1M35.5 113v3M35.5 118v1M35.5 131v2M35.5 159v1M35.5 162v1M36.5 85v1M36.5 170v1M36.5 172v1M36.5 175v2"/>
<path stroke="#b5ff42" d="M3.5 117v1M11.5 96v2M11.5 124v1M11.5 127v1M11.5 130v1M11.5 143v1M11.5 150v1M12.5 103v2M12.5 109v1M12.5 116v1M12.5 119v1M12.5 121v1M12.5 123v4M12.5 129v1M12.5 132v1M12.5 136v1M12.5 143v2M12.5 152v1M13.5 91v1M13.5 107v1M13.5 112v1M13.5 114v1M13.5 118v2M13.5 129v1M13.5 135v3M14.5 90v2M14.5 163v1M15.5 104v1M15.5 144v1M15.5 148v1M15.5 155v1M16.5 92v2M16.5 95v2M16.5 150v1M17.5 85v1M17.5 87v1M17.5 95v1M17.5 158v2M18.5 94v1M18.5 103v1M18.5 106v1M18.5 108v1M18.5 114v1M18.5 152v2M18.5 155v1M19.5 103v1M19.5 115v1M19.5 118v1M19.5 155v2M19.5 163v1M20.5 84v1M20.5 105v1M20.5 161v1M21.5 84v1M21.5 89v1M21.5 95v2M21.5 106v1M21.5 111v1M21.5 116v1M21.5 118v1M21.5 121v1M21.5 154v3M22.5 115v3M22.5 126v2M22.5 133v2M22.5 136v1M23.5 103v1M23.5 111v1M23.5 113v1M23.5 115v1M23.5 117v1M23.5 136v1M23.5 138v1M23.5 143v1M23.5 147v1M23.5 150v1M23.5 164v1M25.5 110v1M25.5 113v1M27.5 132v1M27.5 134v1M27.5 138v2M29.5 102v1M29.5 105v1M29.5 107v1M29.5 122v1M29.5 126v1M29.5 130v1M30.5 118v1M32.5 128v1M32.5 130v1M34.5 93v3M34.5 105v2M34.5 114v2M34.5 117v1M34.5 119v3M34.5 125v1M34.5 128v1M34.5 139v1M34.5 169v1M35.5 89v1M35.5 91v1M35.5 94v1M35.5 101v1M35.5 104v1M35.5 107v1M35.5 111v1M35.5 116v2M35.5 121v2M35.5 124v2M35.5 133v1M35.5 156v1M36.5 174v1"/>
<path stroke="#c0ff37" d="M11.5 100v1M11.5 104v1M11.5 113v1M11.5 117v1M11.5 120v2M11.5 133v1M11.5 135v1M11.5 144v1M11.5 147v2M12.5 98v1M12.5 100v1M12.5 111v1M12.5 115v1M12.5 122v1M12.5 128v1M12.5 131v1M12.5 135v1M12.5 139v1M13.5 108v1M13.5 115v1M13.5 117v1M13.5 120v1M13.5 122v2M13.5 130v1M13.5 132v1M13.5 134v1M13.5 141v1M14.5 86v3M15.5 141v1M15.5 143v1M15.5 146v1M16.5 89v1M16.5 98v1M16.5 100v1M16.5 105v3M16.5 111v1M16.5 149v1M16.5 151v4M17.5 92v2M17.5 157v1M18.5 112v1M18.5 129v1M18.5 143v1M18.5 145v1M18.5 157v2M19.5 116v1M19.5 119v2M19.5 122v1M19.5 150v1M19.5 154v1M19.5 158v3M20.5 83v1M20.5 85v3M20.5 89v1M20.5 95v1M20.5 104v1M20.5 107v1M20.5 109v1M20.5 111v1M20.5 113v2M20.5 121v1M20.5 159v1M20.5 164v1M21.5 94v1M21.5 99v2M21.5 105v1M21.5 107v1M21.5 110v1M21.5 115v1M21.5 117v1M21.5 119v2M21.5 123v1M22.5 109v1M22.5 114v1M22.5 124v1M22.5 132v1M23.5 104v1M23.5 107v1M23.5 109v1M23.5 114v1M23.5 137v1M23.5 144v1M23.5 163v1M27.5 147v1M29.5 110v1M29.5 114v1M29.5 121v1M29.5 127v2M29.5 131v1M30.5 141v1M32.5 127v1M34.5 92v1M34.5 123v1M34.5 131v1M34.5 156v2M34.5 160v1M35.5 87v1M35.5 93v1M35.5 95v1M35.5 97v1M35.5 99v1M35.5 103v1M35.5 119v1M35.5 127v2M35.5 137v2M35.5 155v1M35.5 157v2M36.5 86v1M36.5 167v2"/>
<path stroke="#cbff2b" d="M11.5 99v1M11.5 101v1M11.5 103v1M11.5 105v1M11.5 111v1M11.5 115v1M11.5 118v1M11.5 122v1M11.5 136v2M11.5 139v1M11.5 142v1M11.5 145v2M12.5 102v1M12.5 106v1M12.5 112v2M12.5 142v1M13.5 121v1M13.5 124v2M13.5 131v1M14.5 89v1M14.5 92v1M15.5 101v1M15.5 106v1M15.5 128v1M15.5 132v1M15.5 138v1M15.5 140v1M16.5 99v1M16.5 104v1M16.5 110v1M16.5 113v1M16.5 116v2M16.5 139v2M16.5 143v1M16.5 145v2M16.5 148v1M17.5 89v1M17.5 91v1M18.5 110v1M18.5 131v1M18.5 137v4M18.5 146v1M18.5 148v4M18.5 154v1M18.5 159v1M19.5 152v1M19.5 157v1M20.5 88v1M20.5 100v1M20.5 102v1M20.5 112v1M20.5 115v4M20.5 120v1M20.5 122v2M20.5 139v1M20.5 156v3M20.5 162v1M21.5 86v1M21.5 98v1M21.5 101v1M21.5 108v2M21.5 114v1M21.5 122v1M21.5 125v1M22.5 131v1M23.5 133v3M23.5 140v3M25.5 111v2M27.5 133v1M29.5 108v1M29.5 111v2M29.5 119v1M29.5 123v3M32.5 125v1M34.5 122v1M34.5 124v1M34.5 126v2M34.5 134v1M34.5 153v1M34.5 161v1M34.5 165v2M35.5 98v1M35.5 100v1M35.5 108v1M35.5 126v1M35.5 129v1M35.5 134v2M35.5 142v1M35.5 147v1M36.5 93v1M36.5 98v1M36.5 173v1"/>
<path stroke="#d7ff20" d="M11.5 102v1M11.5 106v1M11.5 114v1M11.5 138v1M12.5 107v2M12.5 117v1M12.5 120v1M13.5 127v1M13.5 133v1M14.5 93v1M14.5 162v1M15.5 107v2M15.5 110v1M15.5 120v1M15.5 139v1M16.5 97v1M16.5 102v1M16.5 109v1M16.5 114v2M16.5 118v1M16.5 127v1M16.5 141v2M16.5 144v1M16.5 147v1M17.5 88v1M17.5 90v1M17.5 98v1M17.5 153v1M17.5 156v1M18.5 120v1M18.5 127v1M18.5 130v1M18.5 132v1M18.5 134v1M18.5 136v1M18.5 141v2M18.5 147v1M19.5 121v1M19.5 124v1M19.5 126v1M19.5 128v1M19.5 146v3M19.5 151v1M19.5 153v1M20.5 91v3M20.5 119v1M20.5 124v1M20.5 127v1M20.5 137v1M20.5 154v1M20.5 160v1M21.5 124v1M21.5 126v1M21.5 151v2M23.5 119v1M23.5 121v1M23.5 124v1M23.5 127v1M29.5 109v1M29.5 115v4M34.5 116v1M34.5 129v2M34.5 132v1M34.5 136v1M34.5 151v2M35.5 102v1M35.5 106v1M35.5 139v3M35.5 145v1M35.5 150v1M35.5 153v1M36.5 87v2M36.5 100v1M36.5 166v1"/>
<path stroke="#e2ff15" d="M11.5 107v3M11.5 112v1M11.5 140v1M12.5 114v1M14.5 160v1M15.5 111v3M15.5 116v1M15.5 119v1M15.5 124v1M15.5 126v2M15.5 129v1M15.5 133v2M15.5 136v2M16.5 103v1M16.5 108v1M16.5 122v1M16.5 130v1M16.5 137v1M17.5 96v1M17.5 100v1M17.5 155v1M18.5 118v1M18.5 121v1M18.5 125v1M18.5 128v1M18.5 135v1M19.5 123v1M19.5 125v1M19.5 133v1M19.5 144v2M19.5 149v1M20.5 96v1M20.5 99v1M20.5 103v1M20.5 110v1M20.5 126v1M20.5 130v1M20.5 134v1M20.5 136v1M20.5 140v1M20.5 149v3M20.5 153v1M20.5 155v1M21.5 140v1M21.5 144v2M21.5 149v1M21.5 153v1M23.5 120v1M23.5 122v2M23.5 125v2M23.5 129v2M29.5 113v1M29.5 120v1M34.5 133v1M34.5 135v1M34.5 138v1M34.5 140v2M34.5 143v1M34.5 149v1M34.5 154v2M35.5 136v1M35.5 143v2M35.5 154v1M36.5 89v1M36.5 99v1M36.5 102v3M36.5 160v1M36.5 164v2M36.5 169v1"/>
<path stroke="#eeff09" d="M11.5 110v1M14.5 94v1M14.5 161v1M15.5 114v1M15.5 118v1M15.5 122v2M15.5 125v1M15.5 130v2M15.5 135v1M16.5 101v1M16.5 112v1M16.5 121v1M16.5 125v1M16.5 128v1M16.5 133v1M16.5 138v1M17.5 94v1M17.5 97v1M17.5 101v1M18.5 115v1M18.5 117v1M19.5 127v1M19.5 130v1M20.5 90v1M20.5 94v1M20.5 101v1M20.5 125v1M20.5 129v1M20.5 131v1M20.5 135v1M20.5 138v1M20.5 152v1M21.5 102v1M21.5 131v2M21.5 138v2M21.5 146v1M21.5 150v1M23.5 118v1M23.5 131v2M34.5 137v1M34.5 142v1M34.5 147v2M34.5 150v1M35.5 146v1M35.5 148v1M35.5 152v1M36.5 90v1M36.5 95v1M36.5 105v1M36.5 111v1M36.5 162v2"/>
<path stroke="#f9f300" d="M14.5 95v1M14.5 97v2M14.5 159v1M15.5 109v1M15.5 121v1M16.5 119v2M16.5 134v1M17.5 99v1M17.5 104v2M17.5 109v1M17.5 154v1M18.5 119v1M18.5 122v2M18.5 126v1M18.5 133v1M19.5 129v1M19.5 131v1M19.5 140v1M19.5 143v1M20.5 97v1M20.5 128v1M20.5 132v2M20.5 143v1M20.5 145v1M21.5 133v3M21.5 141v2M23.5 128v1M34.5 144v3M35.5 149v1M35.5 151v1M36.5 91v1M36.5 94v1M36.5 96v1M36.5 107v1M36.5 109v1M36.5 113v1M36.5 115v1M36.5 156v1M36.5 161v1"/>
<path stroke="#ffe600" d="M15.5 117v1M16.5 123v1M16.5 126v1M16.5 131v1M16.5 136v1M17.5 102v2M18.5 124v1M19.5 132v1M19.5 134v1M19.5 136v1M19.5 138v1M20.5 142v1M20.5 144v1M20.5 147v2M21.5 127v1M21.5 130v1M21.5 143v1M21.5 148v1M36.5 92v1M36.5 97v1M36.5 101v1M36.5 106v1M36.5 108v1M36.5 117v1M36.5 157v2"/>
<path stroke="#ffd900" d="M14.5 100v1M14.5 105v1M14.5 157v2M15.5 115v1M16.5 124v1M16.5 129v1M16.5 132v1M16.5 135v1M17.5 108v1M17.5 110v1M17.5 151v2M19.5 135v1M19.5 137v1M19.5 141v2M20.5 141v1M20.5 146v1M21.5 128v2M21.5 136v2M21.5 147v1M36.5 110v1M36.5 112v1M36.5 120v1M36.5 153v1M36.5 155v1M36.5 159v1"/>
<path stroke="#ffcc00" d="M14.5 99v1M17.5 106v2M17.5 112v1M17.5 114v1M17.5 118v1M17.5 149v1M19.5 139v1M36.5 114v1M36.5 116v1M36.5 118v2M36.5 121v1M36.5 138v1M36.5 147v1M36.5 152v1M36.5 154v1"/>
<path stroke="#ffbe00" d="M14.5 96v1M14.5 101v1M14.5 103v2M14.5 119v1M14.5 121v1M17.5 111v1M17.5 113v1M17.5 115v1M17.5 120v1M17.5 147v1M17.5 150v1M36.5 122v3M36.5 140v1M36.5 148v3"/>
<path stroke="#ffb100" d="M14.5 102v1M14.5 107v1M14.5 111v1M14.5 118v1M14.5 120v1M14.5 122v2M14.5 133v1M14.5 156v1M17.5 116v2M17.5 123v2M17.5 144v1M17.5 148v1M23.5 96v1M36.5 127v1M36.5 132v1M36.5 139v1M36.5 146v1M36.5 151v1"/>
<path stroke="#ffa400" d="M14.5 106v1M14.5 108v1M14.5 110v1M14.5 112v2M14.5 124v1M14.5 126v2M14.5 129v1M14.5 132v1M17.5 119v1M17.5 140v1M17.5 142v1M17.5 145v2M18.5 116v1M36.5 126v1M36.5 128v1M36.5 130v1M36.5 135v1M36.5 137v1"/>
<path stroke="#ff9700" d="M0.5 100v1M14.5 109v1M14.5 115v3M14.5 125v1M14.5 130v1M14.5 135v2M14.5 138v2M14.5 151v2M14.5 154v2M17.5 121v2M36.5 133v2M36.5 142v4"/>
<path stroke="#ff8a00" d="M14.5 114v1M14.5 128v1M14.5 131v1M14.5 137v1M14.5 146v1M14.5 153v1M17.5 125v2M17.5 128v1M17.5 130v1M17.5 135v1M17.5 137v1M17.5 139v1M17.5 143v1M36.5 125v1M36.5 131v1M36.5 141v1"/>
<path stroke="#ff7d00" d="M14.5 134v1M14.5 140v1M14.5 143v1M14.5 147v1M17.5 127v1M17.5 133v1M17.5 136v1M17.5 138v1M17.5 141v1M36.5 129v1"/>
<path stroke="#ff7000" d="M14.5 144v2M14.5 148v2M17.5 129v1M17.5 131v1M17.5 134v1"/>
<path stroke="#ff6300" d="M14.5 141v1M14.5 150v1"/>
<path stroke="#ff5600" d="M14.5 142v1M17.5 132v1"/>
<path stroke="#ff1400" d="M20.5 98v1M36.5 136v1"/>
</g>
<g fill="none" stroke="#262626" stroke-width="1" shape-rendering="crispEdges">
<rect x="325.5" y="839.5" width="1847" height="984"/>
<path d="M550.5 839.0v18.5M550.5 1822.5v-18.5M799.5 839.0v18.5M799.5 1822.5v-18.5M1049.5 839.0v18.5M1049.5 1822.5v-18.5M1299.5 839.0v18.5M1299.5 1822.5v-18.5M1548.5 839.0v18.5M1548.5 1822.5v-18.5M1798.5 839.0v18.5M1798.5 1822.5v-18.5M2047.5 839.0v18.5M2047.5 1822.5v-18.5M325.2 1085.5h20M325.2 1331.5h20M325.2 1577.5h20M325.2 1822.5h20M2172.0 1044h-20M2172.0 1247.7h-20M2172.0 1453h-20M2172.0 1656.5h-20"/>
</g>
<path d="M1024 1821V901.5H1074.5V1821H1024" fill="none" stroke="#000" stroke-width="5.5" stroke-dasharray="21 3.2"/>
<path d="M1173.3 1821V901.5H1223.7V1821H1173.3" fill="none" stroke="#000" stroke-width="5.5" stroke-dasharray="21 3.2"/>
<path d="M2121.7 1821V901.5H2172.5V1821H2121.7" fill="none" stroke="#000" stroke-width="5.5" stroke-dasharray="21 3.2"/>
<text x="989" y="890.3" font-family="'Liberation Serif','DejaVu Serif',serif" font-weight="bold" font-size="36" textLength="122" lengthAdjust="spacingAndGlyphs" fill="#000" stroke="#000" stroke-width="0.5">DOY 15</text>
<text x="1139.5" y="890.3" font-family="'Liberation Serif','DejaVu Serif',serif" font-weight="bold" font-size="36" textLength="121.5" lengthAdjust="spacingAndGlyphs" fill="#000" stroke="#000" stroke-width="0.5">DOY 18</text>
<text x="2044.5" y="890.3" font-family="'Liberation Serif','DejaVu Serif',serif" font-weight="bold" font-size="36" textLength="122.5" lengthAdjust="spacingAndGlyphs" fill="#000" stroke="#000" stroke-width="0.5">DOY 37</text>
<linearGradient id="jet" x1="0" y1="0" x2="0" y2="1"><stop offset="0.000" stop-color="#800000"/><stop offset="0.025" stop-color="#9c0000"/><stop offset="0.050" stop-color="#b90000"/><stop offset="0.075" stop-color="#d60000"/><stop offset="0.100" stop-color="#f30900"/><stop offset="0.125" stop-color="#ff2100"/><stop offset="0.150" stop-color="#ff3900"/><stop offset="0.175" stop-color="#ff5000"/><stop offset="0.200" stop-color="#ff6800"/><stop offset="0.225" stop-color="#ff8000"/><stop offset="0.250" stop-color="#ff9700"/><stop offset="0.275" stop-color="#ffaf00"/><stop offset="0.300" stop-color="#ffc600"/><stop offset="0.325" stop-color="#ffde00"/><stop offset="0.350" stop-color="#f7f600"/><stop offset="0.375" stop-color="#e2ff15"/><stop offset="0.400" stop-color="#ceff29"/><stop offset="0.425" stop-color="#b9ff3e"/><stop offset="0.450" stop-color="#a5ff52"/><stop offset="0.475" stop-color="#90ff67"/><stop offset="0.500" stop-color="#7bff7b"/><stop offset="0.525" stop-color="#67ff90"/><stop offset="0.550" stop-color="#52ffa5"/><stop offset="0.575" stop-color="#3effb9"/><stop offset="0.600" stop-color="#29ffce"/><stop offset="0.625" stop-color="#15ffe2"/><stop offset="0.650" stop-color="#00e5f7"/><stop offset="0.675" stop-color="#00ccff"/><stop offset="0.700" stop-color="#00b3ff"/><stop offset="0.725" stop-color="#0099ff"/><stop offset="0.750" stop-color="#0080ff"/><stop offset="0.775" stop-color="#0066ff"/><stop offset="0.800" stop-color="#004cff"/><stop offset="0.825" stop-color="#0033ff"/><stop offset="0.850" stop-color="#001aff"/><stop offset="0.875" stop-color="#0000ff"/><stop offset="0.900" stop-color="#0000f3"/><stop offset="0.925" stop-color="#0000d6"/><stop offset="0.950" stop-color="#0000b9"/><stop offset="0.975" stop-color="#00009c"/><stop offset="1.000" stop-color="#000080"/></linearGradient>
<rect x="2195.3" y="839.0" width="35.5" height="983.5" fill="url(#jet)" stroke="#262626" stroke-width="0.8"/>
<path d="M2230.8 1822.5h-10.5M2230.8 1713.2h-10.5M2230.8 1603.9h-10.5M2230.8 1494.7h-10.5M2230.8 1385.4h-10.5M2230.8 1276.1h-10.5M2230.8 1166.8h-10.5M2230.8 1057.6h-10.5M2230.8 948.3h-10.5M2230.8 839h-10.5" fill="none" stroke="#262626" stroke-width="1.2"/>
<g font-family="'DejaVu Sans','Liberation Sans',sans-serif" font-size="33.3" fill="#262626" stroke="#262626" stroke-width="0.9">
<text transform="translate(2241.6 1833.1) scale(.927 1)" font-size="32">−10</text>
<text transform="translate(2244.9 1724) scale(.927 1)" font-size="32">0</text>
<text transform="translate(2241.6 1614.9) scale(.927 1)" font-size="32">10</text>
<text transform="translate(2241.6 1505.8) scale(.927 1)" font-size="32">20</text>
<text transform="translate(2241.6 1396.7) scale(.927 1)" font-size="32">30</text>
<text transform="translate(2241.6 1287.5) scale(.927 1)" font-size="32">40</text>
<text transform="translate(2241.6 1178.4) scale(.927 1)" font-size="32">50</text>
<text transform="translate(2241.6 1069.3) scale(.927 1)" font-size="32">60</text>
<text transform="translate(2241.6 960.2) scale(.927 1)" font-size="32">70</text>
<text transform="translate(2241.6 851.1) scale(.927 1)" font-size="32">80</text>
<text transform="translate(311 851.9) scale(1.05 1)" font-size="31.8" text-anchor="end">0</text>
<text transform="translate(311 1097.8) scale(1.05 1)" font-size="31.8" text-anchor="end">6</text>
<text transform="translate(311 1343.7) scale(1.05 1)" font-size="31.8" text-anchor="end">12</text>
<text transform="translate(311 1589.5) scale(1.05 1)" font-size="31.8" text-anchor="end">18</text>
<text transform="translate(311 1835.4) scale(1.05 1)" font-size="31.8" text-anchor="end">24</text>
<text transform="translate(550.5 1857) scale(1.05 1)" font-size="32.3" text-anchor="middle">5</text>
<text transform="translate(800.1 1857) scale(1.05 1)" font-size="32.3" text-anchor="middle">10</text>
<text transform="translate(1049.6 1857) scale(1.05 1)" font-size="32.3" text-anchor="middle">15</text>
<text transform="translate(1299.2 1857) scale(1.05 1)" font-size="32.3" text-anchor="middle">20</text>
<text transform="translate(1548.8 1857) scale(1.05 1)" font-size="32.3" text-anchor="middle">25</text>
<text transform="translate(1798.3 1857) scale(1.05 1)" font-size="32.3" text-anchor="middle">30</text>
<text transform="translate(2047.9 1857) scale(1.05 1)" font-size="32.3" text-anchor="middle">35</text>
<text x="1254" y="1899" text-anchor="middle" font-size="35.5">time (DOY)</text>
<text transform="translate(253.5 1331.5) rotate(-90)" text-anchor="middle" font-size="34.4">hour of the day</text>
<text transform="translate(2323.3 1298.6) rotate(-90) scale(1 1.04)" text-anchor="middle" font-size="34.3">VTEC (TECU)</text>
</g>
<text x="1233.5" y="804.6" font-family="'DejaVu Sans','Liberation Sans',sans-serif" font-weight="bold" font-size="36" text-anchor="middle" fill="#000">24h VTEC</text>
<rect x="326.5" y="2012.5" width="1840.0" height="396.0" fill="#fff"/>
<clipPath id="cc"><rect x="326.5" y="2012.5" width="1840.0" height="396.0"/></clipPath>
<g clip-path="url(#cc)" shape-rendering="crispEdges"><path d="M324 2408V2255H329V2408zM336 2408V2276H342V2408zM342 2408V2232H348V2408zM348 2408V2298H354V2408zM355 2408V2232H360V2408zM373 2408V2276H379V2408zM380 2408V2276H385V2408zM386 2408V2342H391V2408zM392 2408V2298H398V2408zM398 2408V2321H404V2408zM405 2408V2321H410V2408zM411 2408V2276H416V2408zM423 2408V2321H429V2408zM430 2408V2387H435V2408zM436 2408V2364H441V2408zM442 2408V2387H447V2408zM448 2408V2342H454V2408zM454 2408V2276H460V2408zM461 2408V2255H466V2408zM467 2408V2232H472V2408zM504 2408V2276H510V2408zM511 2408V2298H516V2408zM517 2408V2364H522V2408zM523 2408V2387H529V2408zM529 2408V2364H535V2408zM535 2408V2342H541V2408zM542 2408V2321H547V2408zM548 2408V2232H553V2408zM560 2408V2232H566V2408zM567 2408V2232H572V2408zM573 2408V2342H578V2408zM579 2408V2387H585V2408zM585 2408V2387H591V2408zM592 2408V2364H597V2408zM598 2408V2342H603V2408zM604 2408V2387H610V2408zM610 2408V2321H616V2408zM617 2408V2321H622V2408zM623 2408V2342H628V2408zM629 2408V2255H635V2408zM635 2408V2342H641V2408zM641 2408V2387H647V2408zM648 2408V2387H653V2408zM654 2408V2232H659V2408zM660 2408V2255H666V2408zM666 2408V2387H672V2408zM673 2408V2276H678V2408zM679 2408V2255H684V2408zM685 2408V2276H691V2408zM691 2408V2298H697V2408zM704 2408V2321H709V2408zM710 2408V2342H716V2408zM716 2408V2364H722V2408zM723 2408V2298H728V2408zM729 2408V2387H734V2408zM735 2408V2387H740V2408zM741 2408V2342H747V2408zM747 2408V2364H753V2408zM754 2408V2298H759V2408zM760 2408V2276H765V2408zM766 2408V2321H772V2408zM772 2408V2364H778V2408zM779 2408V2364H784V2408zM785 2408V2364H790V2408zM791 2408V2364H797V2408zM797 2408V2276H803V2408zM810 2408V2298H815V2408zM816 2408V2276H822V2408zM822 2408V2298H828V2408zM828 2408V2232H834V2408zM835 2408V2298H840V2408zM841 2408V2298H846V2408zM847 2408V2342H853V2408zM853 2408V2276H859V2408zM860 2408V2255H865V2408zM866 2408V2255H871V2408zM878 2408V2276H884V2408zM885 2408V2276H890V2408zM891 2408V2298H896V2408zM897 2408V2276H903V2408zM903 2408V2276H909V2408zM910 2408V2298H915V2408zM922 2408V2255H927V2408zM928 2408V2298H934V2408zM934 2408V2276H940V2408zM941 2408V2255H946V2408zM947 2408V2255H952V2408zM953 2408V2298H959V2408zM984 2408V2255H990V2408zM991 2408V2298H996V2408zM997 2408V2364H1002V2408zM1003 2408V2342H1009V2408zM1009 2408V2298H1015V2408zM1015 2408V2232H1021V2408zM1078 2408V2298H1083V2408zM1109 2408V2298H1115V2408zM1115 2408V2364H1121V2408zM1128 2408V2298H1133V2408zM1134 2408V2298H1139V2408zM1140 2408V2342H1146V2408zM1146 2408V2342H1152V2408zM1153 2408V2387H1158V2408zM1190 2408V2232H1196V2408zM1196 2408V2232H1202V2408zM1203 2408V2255H1208V2408zM1209 2408V2298H1214V2408zM1215 2408V2364H1220V2408zM1221 2408V2364H1227V2408zM1227 2408V2342H1233V2408zM1234 2408V2232H1239V2408zM1240 2408V2232H1245V2408zM1246 2408V2255H1252V2408zM1252 2408V2387H1258V2408zM1259 2408V2364H1264V2408zM1265 2408V2321H1270V2408zM1271 2408V2342H1277V2408zM1277 2408V2342H1283V2408zM1290 2408V2321H1295V2408zM1296 2408V2298H1302V2408zM1302 2408V2232H1308V2408zM1308 2408V2321H1314V2408zM1315 2408V2321H1320V2408zM1321 2408V2255H1326V2408zM1340 2408V2298H1345V2408zM1346 2408V2255H1351V2408zM1365 2408V2232H1370V2408zM1371 2408V2276H1376V2408zM1377 2408V2321H1383V2408zM1383 2408V2255H1389V2408zM1390 2408V2276H1395V2408zM1396 2408V2276H1401V2408zM1402 2408V2255H1407V2408zM1414 2408V2298H1420V2408zM1421 2408V2387H1426V2408zM1427 2408V2298H1432V2408zM1433 2408V2342H1439V2408zM1439 2408V2364H1445V2408zM1452 2408V2276H1457V2408zM1458 2408V2321H1464V2408zM1464 2408V2255H1470V2408zM1471 2408V2342H1476V2408zM1477 2408V2387H1482V2408zM1483 2408V2364H1489V2408zM1489 2408V2321H1495V2408zM1495 2408V2321H1501V2408zM1502 2408V2342H1507V2408zM1508 2408V2364H1513V2408zM1514 2408V2387H1520V2408zM1533 2408V2387H1538V2408zM1539 2408V2276H1545V2408zM1552 2408V2255H1557V2408zM1558 2408V2298H1563V2408zM1564 2408V2321H1570V2408zM1570 2408V2342H1576V2408zM1577 2408V2232H1582V2408zM1583 2408V2232H1588V2408zM1589 2408V2255H1595V2408zM1595 2408V2232H1601V2408zM1601 2408V2232H1607V2408zM1608 2408V2232H1613V2408zM1614 2408V2342H1619V2408zM1620 2408V2364H1626V2408zM1626 2408V2387H1632V2408zM1633 2408V2298H1638V2408zM1639 2408V2255H1644V2408zM1645 2408V2232H1651V2408zM1658 2408V2298H1663V2408zM1664 2408V2255H1669V2408zM1676 2408V2232H1682V2408zM1683 2408V2276H1688V2408zM1689 2408V2342H1694V2408zM1695 2408V2232H1700V2408zM1701 2408V2255H1707V2408zM1707 2408V2232H1713V2408zM1714 2408V2321H1719V2408zM1726 2408V2387H1732V2408zM1732 2408V2276H1738V2408zM1739 2408V2342H1744V2408zM1745 2408V2342H1750V2408zM1751 2408V2276H1757V2408zM1757 2408V2364H1763V2408zM1764 2408V2298H1769V2408zM1770 2408V2342H1775V2408zM1776 2408V2387H1782V2408zM1782 2408V2364H1788V2408zM1788 2408V2342H1794V2408zM1795 2408V2364H1800V2408zM1801 2408V2364H1806V2408zM1807 2408V2342H1813V2408zM1813 2408V2232H1819V2408zM1826 2408V2276H1831V2408zM1832 2408V2232H1838V2408zM1838 2408V2276H1844V2408zM1845 2408V2342H1850V2408zM1857 2408V2255H1863V2408zM1863 2408V2298H1869V2408zM1870 2408V2342H1875V2408zM1876 2408V2364H1881V2408zM1882 2408V2387H1887V2408zM1888 2408V2387H1894V2408zM1894 2408V2342H1900V2408zM1901 2408V2321H1906V2408zM1907 2408V2232H1912V2408zM1913 2408V2255H1919V2408zM1926 2408V2298H1931V2408zM1932 2408V2387H1937V2408zM1938 2408V2364H1944V2408zM1944 2408V2387H1950V2408zM1957 2408V2387H1962V2408zM1963 2408V2364H1969V2408zM1969 2408V2276H1975V2408zM1975 2408V2298H1981V2408zM1982 2408V2387H1987V2408zM1988 2408V2387H1993V2408zM1994 2408V2298H2000V2408zM2007 2408V2232H2012V2408zM2013 2408V2298H2018V2408zM2019 2408V2232H2025V2408zM2025 2408V2232H2031V2408zM2032 2408V2364H2037V2408zM2038 2408V2387H2043V2408zM2044 2408V2342H2050V2408zM2050 2408V2364H2056V2408zM2063 2408V2342H2068V2408zM2069 2408V2387H2074V2408zM2075 2408V2276H2081V2408zM2081 2408V2387H2087V2408zM2088 2408V2342H2093V2408zM2094 2408V2342H2099V2408zM2100 2408V2321H2106V2408zM2106 2408V2298H2112V2408zM2113 2408V2321H2118V2408zM2131 2408V2232H2137V2408zM2144 2408V2232H2149V2408zM2150 2408V2255H2156V2408z" fill="#0f0"/><path d="M330.5 2408V2210.5H334.5V2408zM361.5 2408V2166.5H365.5V2408zM367.5 2408V2144.5H371.5V2408zM417.5 2408V2210.5H421.5V2408zM473.5 2408V2144.5H477.5V2408zM480.5 2408V2100.5H484.5V2408zM486.5 2408V2123.5H490.5V2408zM492.5 2408V2189.5H496.5V2408zM498.5 2408V2189.5H502.5V2408zM554.5 2408V2210.5H558.5V2408zM698.5 2408V2210.5H702.5V2408zM804.5 2408V2210.5H808.5V2408zM872.5 2408V2210.5H876.5V2408zM916.5 2408V2210.5H920.5V2408zM960.5 2408V2189.5H964.5V2408zM966.5 2408V2144.5H970.5V2408zM972.5 2408V2210.5H976.5V2408zM978.5 2408V2189.5H982.5V2408zM1022.5 2408V2123.5H1026.5V2408zM1028.5 2408V2166.5H1032.5V2408zM1034.5 2408V2166.5H1038.5V2408zM1041.5 2408V2166.5H1045.5V2408zM1047.5 2408V2166.5H1051.5V2408zM1053.5 2408V2166.5H1057.5V2408zM1059.5 2408V2144.5H1063.5V2408zM1066.5 2408V2078.5H1070.5V2408zM1072.5 2408V2144.5H1076.5V2408zM1084.5 2408V2210.5H1088.5V2408zM1091.5 2408V2210.5H1095.5V2408zM1097.5 2408V2189.5H1101.5V2408zM1103.5 2408V2189.5H1107.5V2408zM1165.5 2408V2189.5H1169.5V2408zM1172.5 2408V2144.5H1176.5V2408zM1178.5 2408V2144.5H1182.5V2408zM1184.5 2408V2189.5H1188.5V2408zM1327.5 2408V2144.5H1331.5V2408zM1334.5 2408V2144.5H1338.5V2408zM1352.5 2408V2210.5H1356.5V2408zM1359.5 2408V2189.5H1363.5V2408zM1408.5 2408V2189.5H1412.5V2408zM1446.5 2408V2210.5H1450.5V2408zM1546.5 2408V2210.5H1550.5V2408zM1652.5 2408V2189.5H1656.5V2408zM1670.5 2408V2210.5H1674.5V2408zM1851.5 2408V2189.5H1855.5V2408zM1920.5 2408V2189.5H1924.5V2408zM2001.5 2408V2210.5H2005.5V2408zM2119.5 2408V2210.5H2123.5V2408zM2125.5 2408V2189.5H2129.5V2408zM2138.5 2408V2189.5H2142.5V2408zM2157.5 2408V2166.5H2161.5V2408zM2163.5 2408V2166.5H2167.5V2408z" fill="#ff0" stroke="#000" stroke-width="1"/></g>
<g fill="none" stroke="#262626" stroke-width="1" shape-rendering="crispEdges">
<rect x="326.5" y="2012.5" width="1840.0" height="396.0"/>
<path d="M525.5 2012.5v20M525.5 2408.5v-20M774.5 2012.5v20M774.5 2408.5v-20M1024.5 2012.5v20M1024.5 2408.5v-20M1273.5 2012.5v20M1273.5 2408.5v-20M1522.5 2012.5v20M1522.5 2408.5v-20M1772.5 2012.5v20M1772.5 2408.5v-20M2021.5 2012.5v20M2021.5 2408.5v-20M326.5 2342.5h20M326.5 2276.5h20M326.5 2210.5h20M326.5 2144.5h20M326.5 2078.5h20M2166.5 2342.5h-20M2166.5 2276.5h-20M2166.5 2210.5h-20M2166.5 2144.5h-20"/>
</g>
<path d="M1023.5 2405.5V2080H1074V2405.5H1023.5" fill="none" stroke="#000" stroke-width="5.5" stroke-dasharray="21 3.2"/>
<path d="M1173 2405.5V2080H1223.3V2405.5H1173" fill="none" stroke="#000" stroke-width="5.5" stroke-dasharray="21 3.2"/>
<path d="M2118 2405.5V2080H2168.3V2405.5H2118" fill="none" stroke="#000" stroke-width="5.5" stroke-dasharray="21 3.2"/>
<text x="989" y="2066" font-family="'Liberation Serif','DejaVu Serif',serif" font-weight="bold" font-size="36" textLength="122" lengthAdjust="spacingAndGlyphs" fill="#000" stroke="#000" stroke-width="0.5">DOY 15</text>
<text x="1139.5" y="2066" font-family="'Liberation Serif','DejaVu Serif',serif" font-weight="bold" font-size="36" textLength="121.5" lengthAdjust="spacingAndGlyphs" fill="#000" stroke="#000" stroke-width="0.5">DOY 18</text>
<text x="2040" y="2066" font-family="'Liberation Serif','DejaVu Serif',serif" font-weight="bold" font-size="36" textLength="122" lengthAdjust="spacingAndGlyphs" fill="#000" stroke="#000" stroke-width="0.5">DOY 37</text>
<g font-family="'DejaVu Sans','Liberation Sans',sans-serif" font-size="33.3" fill="#262626" stroke="#262626" stroke-width="0.9">
<text x="317" y="2422.1" text-anchor="end">0</text>
<text x="317" y="2356.1" text-anchor="end">1</text>
<text x="317" y="2290.1" text-anchor="end">2</text>
<text x="317" y="2224.1" text-anchor="end">3</text>
<text x="317" y="2158.1" text-anchor="end">4</text>
<text x="317" y="2092.1" text-anchor="end">5</text>
<text x="317" y="2026.1" text-anchor="end">6</text>
<text x="525.1" y="2444" text-anchor="middle">5</text>
<text x="774.4" y="2444" text-anchor="middle">10</text>
<text x="1023.8" y="2444" text-anchor="middle">15</text>
<text x="1273.1" y="2444" text-anchor="middle">20</text>
<text x="1522.5" y="2444" text-anchor="middle">25</text>
<text x="1771.8" y="2444" text-anchor="middle">30</text>
<text x="2021.2" y="2444" text-anchor="middle">35</text>
<text x="1301.5" y="2479.5" text-anchor="middle" font-size="34.5">time (DOY)</text>
<text transform="translate(277.5 2208) rotate(-90)" text-anchor="middle" font-size="34.5">Kp</text>
</g>
<text x="1270.6" y="1987.1" font-family="'DejaVu Sans','Liberation Sans',sans-serif" font-weight="bold" font-size="35.8" text-anchor="middle" fill="#000">Kp index</text>
<rect x="285.2" y="2526.3" width="1919.3999999999999" height="89.0" fill="#fff" stroke="#000" stroke-width="1.3"/>
<g font-family="'DejaVu Sans','Liberation Sans',sans-serif" font-size="35" fill="#000" stroke="#000" stroke-width="0.5">
<text x="323.6" y="2583.6" font-weight="bold" font-size="34.7">LEGEND</text>
<rect x="533.2" y="2547" width="5.1" height="47.6" fill="#0f0" stroke="none"/>
<text x="546.3" y="2581.3" font-size="35.2">Kp &lt; 3</text>
<text x="671.6" y="2581.3" font-size="34.5">low solar activity</text>
<rect x="1012.9" y="2547.6" width="4.4" height="46.6" fill="#ff0" stroke="#000" stroke-width="1.2"/>
<text x="1028.2" y="2581.3">3 ≤ Kp ≤ 5</text>
<text x="1224.8" y="2581.3" font-size="34.45">moderate solar activity</text>
<rect x="1674.8" y="2547.6" width="6.4" height="46.6" fill="#f00" stroke="#000" stroke-width="1.4"/>
<text x="1690.3" y="2581.3" font-size="35.2">Kp &gt; 5</text>
<text x="1815.4" y="2581.3" font-size="34.5">intense solar activity</text>
</g>
</svg>
</body></html>
